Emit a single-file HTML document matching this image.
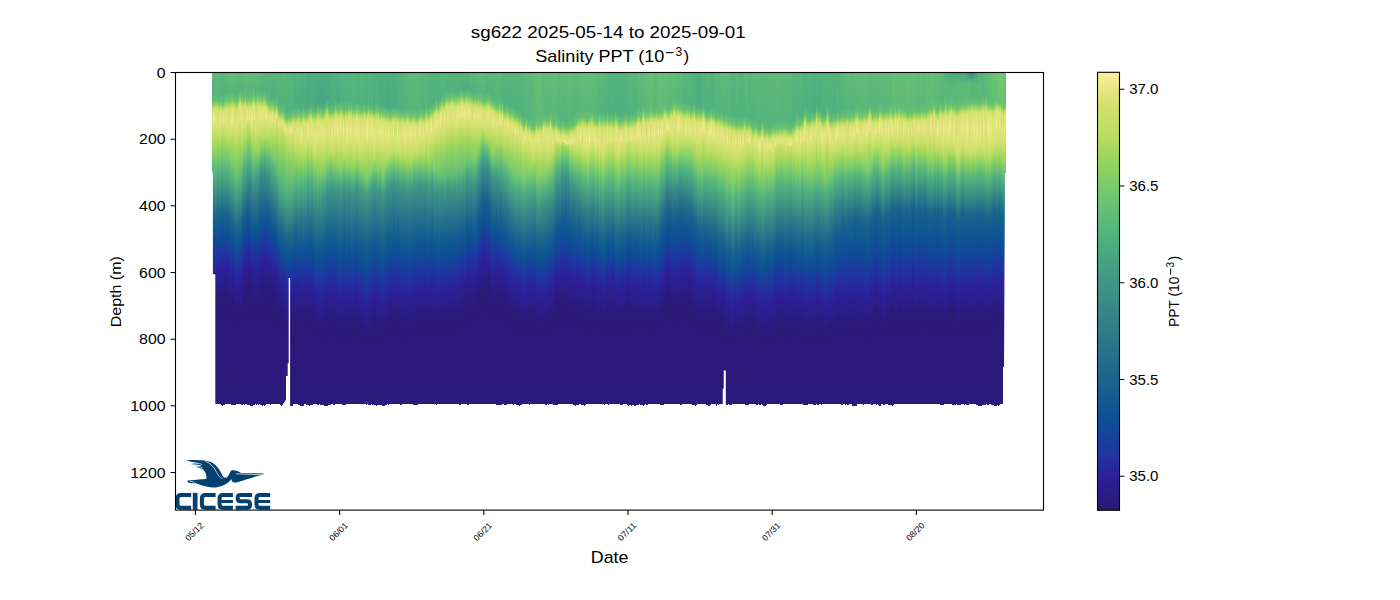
<!DOCTYPE html>
<html><head><meta charset="utf-8">
<style>
html,body{margin:0;padding:0;background:#fff;width:1400px;height:600px;overflow:hidden}
#fig{position:absolute;left:0;top:0;width:1400px;height:600px}
#heat{position:absolute;left:0;top:72.5px;width:1400px;height:333px}
#heat i{position:absolute;top:0;width:1px;display:block}
#cb{position:absolute;left:1097.5px;top:72.3px;width:22px;height:438px;background:linear-gradient(to bottom,#fdef9a 0.00%,#f3eb8f 2.08%,#e7e682 4.17%,#d7e271 6.25%,#d0e06d 8.33%,#c8df69 10.42%,#c1de65 12.50%,#b9dc61 14.58%,#adda5f 16.67%,#a0d75f 18.75%,#93d45f 20.83%,#89d164 22.92%,#7ecd6a 25.00%,#76c96e 27.08%,#6ec471 29.17%,#67bf75 31.25%,#5fbb78 33.33%,#58b67b 35.42%,#51b17e 37.50%,#4dab80 39.58%,#4aa681 41.67%,#46a183 43.75%,#439c84 45.83%,#409686 47.92%,#3d9286 50.00%,#3a8d86 52.08%,#378886 54.17%,#348387 56.25%,#317e88 58.33%,#2d7988 60.42%,#297589 62.50%,#25718a 64.58%,#216c8b 66.67%,#1d678b 68.75%,#19638d 70.83%,#145e8f 72.92%,#105a91 75.00%,#0e5593 77.08%,#0f4f94 79.17%,#104a96 81.25%,#15439a 83.33%,#1a3b9d 85.42%,#20349f 87.50%,#252b9d 89.58%,#2b229b 91.67%,#2b1e92 93.75%,#2b1c87 95.83%,#2a1a7b 97.92%,#2a186c 100.00%)}
svg{position:absolute;left:0;top:0}
text{font-family:"Liberation Sans",sans-serif;fill:#000}
</style></head><body>
<div id="fig">
<div id="heat">
<i style="left:212px;height:331.9px;background:linear-gradient(#5cb979 0px,#53b37d 20px,#58b67b 23px,#6ac173 29px,#98d55e 33px,#badc61 35px,#d8e272 38px,#e8e784 47px,#bedd63 64px,#9bd65e 74px,#79cb6c 84px,#57b67c 98px,#1b658c 142px,#0e5892 156px,#104a96 168px,#1e35a0 181px,#2c209a 198px,#2a1977 228px,#2a1a7c 332px)"></i>
<i style="left:213px;height:331.9px;background:linear-gradient(#5eba79 0px,#55b47d 21px,#6bc273 29px,#9cd65e 33px,#bddd63 35px,#e1e57c 38px,#f3eb8f 46px,#d6e271 55px,#b5db60 68px,#94d45e 76px,#51b17e 101px,#348287 127px,#1a648c 143px,#0e5892 156px,#104a96 168px,#1e36a0 181px,#2c209a 198px,#2a1977 228px,#2a1a7c 332px)"></i>
<i style="left:214px;height:331.9px;background:linear-gradient(#60bb78 0px,#57b67c 20px,#68c074 27px,#77ca6e 29px,#9fd65f 32px,#bedd63 34px,#dbe375 37px,#ebe887 45px,#bfdd64 62px,#97d55e 76px,#76ca6e 86px,#52b27e 101px,#1b658c 143px,#0e5892 157px,#104996 169px,#1d37a0 181px,#2c209a 199px,#2a1977 229px,#2a1a7c 332px)"></i>
<i style="left:215px;height:331.9px;background:linear-gradient(#5eba79 0px,#55b47d 20px,#62bd77 25px,#6bc273 28px,#9cd65e 32px,#bcdd62 34px,#d8e272 37px,#e4e67f 46px,#c0dd64 62px,#95d45e 77px,#51b17e 103px,#338087 130px,#1a648c 145px,#0e5892 158px,#104a96 170px,#1e36a0 183px,#2c209a 200px,#2a1977 231px,#2a1a7c 332px)"></i>
<i style="left:216px;height:331.9px;background:linear-gradient(#5db979 0px,#56b57c 21px,#6ac273 28px,#99d55e 32px,#b9dc61 34px,#d6e271 37px,#dce376 47px,#d8e272 54px,#b8dc60 66px,#94d45e 76px,#51b17e 101px,#348287 127px,#1a648c 143px,#0e5892 156px,#104a96 168px,#1e36a0 181px,#2c209a 198px,#2a1977 228px,#2a1a7c 332px)"></i>
<i style="left:217px;height:331.9px;background:linear-gradient(#5fba78 0px,#55b47c 19px,#69c174 27px,#95d45e 31px,#b7dc60 33px,#d5e170 36px,#e2e57d 45px,#d6e271 54px,#b9dc60 65px,#96d55e 75px,#7bcc6b 83px,#52b27e 100px,#1b658c 142px,#0e5892 156px,#104996 168px,#1d37a0 180px,#2c209a 198px,#2a1977 228px,#2a1a7c 332px)"></i>
<i style="left:218px;height:331.9px;background:linear-gradient(#5eba79 0px,#54b47d 20px,#59b77b 23px,#6ac273 29px,#99d55e 33px,#b9dc61 35px,#d5e170 38px,#dae374 49px,#bbdd62 64px,#97d55e 73px,#7bcc6b 81px,#52b27e 98px,#1b658c 140px,#0e5892 154px,#104996 166px,#1d37a0 178px,#2c209a 196px,#2a1977 226px,#2a1a7c 332px)"></i>
<i style="left:219px;height:331.9px;background:linear-gradient(#5cb87a 0px,#53b37e 22px,#6cc372 30px,#9ed65f 34px,#bddd63 36px,#d9e273 39px,#e6e681 48px,#bcdd62 66px,#9cd65e 74px,#79cc6c 84px,#57b67c 98px,#1a648c 143px,#0e5892 156px,#104a96 168px,#1e36a0 181px,#2c209a 198px,#2a1977 228px,#2a1a7c 332px)"></i>
<i style="left:220px;height:331.9px;background:linear-gradient(#5bb87a 0px,#52b27e 20px,#68c074 28px,#77ca6d 30px,#a0d75f 33px,#bedd64 35px,#dae274 38px,#e8e784 46px,#b8dc60 67px,#9bd55e 74px,#7bcc6b 83px,#52b27e 100px,#1b658c 142px,#0e5892 156px,#104996 168px,#1d37a0 180px,#2c209a 198px,#2a1977 228px,#2a1a7c 332px)"></i>
<i style="left:221px;height:332.8px;background:linear-gradient(#5ab77b 0px,#52b27e 21px,#6ec471 29px,#a0d75f 33px,#bcdd62 35px,#d3e16f 38px,#d6e271 51px,#b7dc60 64px,#94d45e 72px,#51b17e 97px,#19638c 140px,#0e5892 152px,#104a96 164px,#1e36a0 177px,#2c209a 194px,#2a1977 224px,#2a1a7c 332px)"></i>
<i style="left:222px;height:333.1px;background:linear-gradient(#5bb87a 0px,#52b27e 22px,#6ac273 30px,#99d55e 34px,#badc61 36px,#d8e272 39px,#e6e681 48px,#d8e272 51px,#b8dc60 64px,#9bd55e 71px,#78cb6d 81px,#56b57c 95px,#1b658c 139px,#0e5892 153px,#104996 165px,#1e37a0 177px,#2c1f98 197px,#2a1977 225px,#2a1a7c 332px)"></i>
<i style="left:223px;height:332.9px;background:linear-gradient(#5bb87a 0px,#52b27e 22px,#69c173 30px,#96d55e 34px,#b9dc61 36px,#d8e272 39px,#ece888 48px,#d7e271 52px,#aeda5f 67px,#94d45e 73px,#80ce69 79px,#57b67c 95px,#19638c 141px,#0e5892 153px,#104a96 165px,#1e36a0 178px,#2c209a 195px,#2a1977 225px,#2a1a7c 332px)"></i>
<i style="left:224px;height:332.3px;background:linear-gradient(#5db979 0px,#54b37d 21px,#67c074 28px,#74c86f 30px,#9bd55e 33px,#bbdd62 35px,#d9e273 38px,#e8e783 47px,#d3e16f 53px,#b9dc60 64px,#9bd65e 71px,#7bcc6b 80px,#56b57c 95px,#1a648c 140px,#0e5892 153px,#104a96 165px,#1d37a0 177px,#2c209a 195px,#2a1977 225px,#2a1a7c 332px)"></i>
<i style="left:225px;height:331.9px;background:linear-gradient(#5eba79 0px,#54b47d 18px,#66bf75 25px,#7acc6c 28px,#95d45e 30px,#b6db60 32px,#d3e16f 35px,#dbe375 46px,#d7e271 54px,#b7dc60 66px,#96d55e 75px,#78cb6d 84px,#50b07f 101px,#1a648c 143px,#0e5892 156px,#104996 168px,#1e37a0 180px,#2c1f98 200px,#2a1977 228px,#2a1a7c 332px)"></i>
<i style="left:226px;height:331.9px;background:linear-gradient(#5fba78 0px,#55b47d 19px,#69c174 27px,#79cb6d 29px,#a4d75f 32px,#b6dc60 33px,#e0e47a 37px,#f0ea8c 46px,#d8e272 53px,#acd95f 69px,#96d45e 74px,#7ecd6a 81px,#53b37d 98px,#1a648c 142px,#0e5892 155px,#104996 167px,#1e37a0 179px,#2c1f98 199px,#2a1977 227px,#2a1a7c 332px)"></i>
<i style="left:227px;height:331.9px;background:linear-gradient(#62bd77 0px,#59b77b 20px,#68c174 27px,#76ca6e 29px,#9ed65f 32px,#bcdd62 34px,#d6e271 37px,#dee478 47px,#d8e272 54px,#b8dc60 67px,#96d45e 75px,#78cb6d 84px,#51b17e 100px,#1b658c 142px,#0e5892 156px,#104b96 167px,#1e36a0 180px,#2c1f97 200px,#2a1977 228px,#2a1a7c 332px)"></i>
<i style="left:228px;height:331.9px;background:linear-gradient(#63bd76 0px,#59b77b 19px,#65bf75 25px,#72c76f 28px,#97d55e 31px,#b8dc60 33px,#d4e170 36px,#d8e272 53px,#b8dc60 66px,#96d45e 74px,#78cb6d 83px,#51b17e 99px,#1a648c 142px,#0e5892 155px,#104996 167px,#1e37a0 179px,#27289c 187px,#2c1f97 199px,#2a1977 227px,#2a1a7c 332px)"></i>
<i style="left:229px;height:331.9px;background:linear-gradient(#62bc77 0px,#58b67b 19px,#69c174 27px,#94d45e 31px,#b5db60 33px,#d2e16f 36px,#dae374 48px,#d6e271 56px,#b7dc60 68px,#94d45e 78px,#52b27e 102px,#19638c 146px,#0e5892 158px,#104a96 170px,#1e36a0 183px,#2c209a 200px,#2a1977 230px,#2a1a7c 332px)"></i>
<i style="left:230px;height:331.9px;background:linear-gradient(#64be76 0px,#5bb87a 19px,#68c174 26px,#75c96e 28px,#9dd65e 31px,#bcdd62 33px,#d8e272 36px,#e5e680 46px,#d8e272 55px,#bbdc61 66px,#93d45e 79px,#50b07f 106px,#1a648c 148px,#0e5892 161px,#104a96 173px,#1e35a0 186px,#2c209a 203px,#2a1977 233px,#2a1a7c 332px)"></i>
<i style="left:231px;height:332.0px;background:linear-gradient(#64be76 0px,#5bb87a 18px,#69c174 26px,#79cb6c 28px,#a4d85f 31px,#b6dc60 32px,#dee479 36px,#eee98a 45px,#c0dd64 63px,#96d45e 78px,#7fce69 87px,#50b07f 106px,#1a648c 148px,#0e5892 161px,#104a96 173px,#1d37a0 185px,#2c209a 203px,#2a1977 233px,#2a1a7c 332px)"></i>
<i style="left:232px;height:332.0px;background:linear-gradient(#62bc77 0px,#58b67b 17px,#69c174 25px,#78cb6d 27px,#a2d75f 30px,#b4db60 31px,#dfe479 35px,#efe98b 45px,#c1de65 62px,#94d45e 78px,#79cc6c 89px,#52b27e 105px,#1b658c 148px,#0f5991 160px,#104a96 173px,#1e36a0 186px,#2c209a 203px,#2a1977 233px,#2a1a7c 332px)"></i>
<i style="left:233px;height:332.0px;background:linear-gradient(#62bc77 0px,#58b67b 18px,#68c074 25px,#75c96e 27px,#9dd65e 30px,#bcdd63 32px,#d9e273 35px,#e8e783 45px,#d7e272 55px,#c0dd64 63px,#95d45e 78px,#78cb6d 91px,#50b07f 108px,#1a648c 150px,#0e5892 163px,#104a96 175px,#1d37a0 187px,#2c209a 205px,#2a1977 235px,#2a1a7c 332px)"></i>
<i style="left:234px;height:332.2px;background:linear-gradient(#5fba78 0px,#55b47c 19px,#6ac173 27px,#97d55e 31px,#b8dc60 33px,#d4e170 36px,#d9e273 50px,#d6e271 57px,#b6dc60 69px,#94d45e 80px,#74c86f 95px,#50b07f 110px,#19638c 153px,#0e5892 165px,#104a96 177px,#1e35a0 190px,#2c209a 207px,#2a1977 237px,#2a1a7c 332px)"></i>
<i style="left:235px;height:332.0px;background:linear-gradient(#60bb78 0px,#57b57c 20px,#69c173 28px,#96d45e 32px,#b8dc60 34px,#d4e170 37px,#dee478 49px,#d7e271 58px,#b7dc60 70px,#95d45e 81px,#67c075 104px,#51b17e 113px,#1a648c 156px,#0e5892 169px,#104a96 181px,#1e37a0 193px,#27289c 201px,#2c1f97 213px,#2a1977 241px,#2a1a7c 332px)"></i>
<i style="left:236px;height:331.9px;background:linear-gradient(#5fbb78 0px,#56b57c 20px,#66bf75 27px,#6fc571 29px,#92d35f 32px,#b3db60 34px,#d1e16e 37px,#dce376 49px,#d8e272 58px,#b8dc60 70px,#93d45e 82px,#6ac273 103px,#52b27e 113px,#1b658c 156px,#0e5892 170px,#104a96 181px,#1e36a0 194px,#2c209a 211px,#2a1977 241px,#2a1a7c 332px)"></i>
<i style="left:237px;height:331.9px;background:linear-gradient(#5fba78 0px,#56b57c 20px,#68c074 27px,#76ca6e 29px,#9ed65f 32px,#bddd63 34px,#d8e272 37px,#e4e67f 47px,#d6e271 58px,#b7dc60 70px,#94d45e 81px,#6ac273 102px,#50b07f 113px,#1b658c 155px,#0f5991 167px,#104a96 180px,#1e36a0 193px,#2c209a 210px,#2a1977 240px,#2a1a7c 332px)"></i>
<i style="left:238px;height:331.9px;background:linear-gradient(#5fba78 0px,#56b57c 18px,#6dc372 26px,#9ed65f 30px,#bbdd62 32px,#d4e170 35px,#d8e272 55px,#b8dc60 68px,#95d45e 79px,#73c86f 95px,#51b17e 111px,#1a648c 154px,#0e5892 167px,#104996 179px,#1e36a0 191px,#2c1f97 211px,#2a1977 239px,#2a1a7c 332px)"></i>
<i style="left:239px;height:331.9px;background:linear-gradient(#5cb87a 0px,#53b37e 15px,#68c074 22px,#75c96e 24px,#9dd65e 27px,#bcdd62 29px,#d8e272 32px,#e6e681 43px,#d8e272 53px,#bedd63 62px,#93d45e 77px,#51b17e 111px,#19638c 155px,#0e5892 167px,#104a96 179px,#1d37a0 191px,#2c209a 209px,#2a1977 239px,#2a1a7c 332px)"></i>
<i style="left:240px;height:331.9px;background:linear-gradient(#5cb979 0px,#53b37d 14px,#69c174 22px,#94d45e 26px,#b7dc60 28px,#d6e271 31px,#ece888 42px,#c0dd64 61px,#95d45e 76px,#51b17e 110px,#1b658c 153px,#105a91 164px,#104a96 178px,#1e36a0 191px,#2c209a 208px,#2a1977 238px,#2a1a7c 332px)"></i>
<i style="left:241px;height:332.7px;background:linear-gradient(#5eba79 0px,#55b47d 17px,#63bd76 23px,#6fc571 26px,#92d35f 29px,#b4db60 31px,#d3e16f 34px,#e4e67f 45px,#d8e272 56px,#b9dc60 68px,#93d45e 80px,#7acc6c 90px,#52b27e 106px,#1a648c 150px,#0e5892 163px,#104996 175px,#1e36a0 187px,#2c209a 204px,#2a1977 235px,#2a1a7c 332px)"></i>
<i style="left:242px;height:332.2px;background:linear-gradient(#5bb87a 0px,#55b47c 19px,#6ec472 26px,#a0d75f 30px,#bfdd64 32px,#dbe375 35px,#eae786 46px,#d6e271 57px,#c1de65 64px,#b4db60 70px,#9cd65e 76px,#75c96e 87px,#50b07f 102px,#1a648c 145px,#0e5892 158px,#104a96 170px,#1e37a0 182px,#27289c 190px,#2c1f97 202px,#2a1977 230px,#2a1a7c 332px)"></i>
<i style="left:243px;height:331.9px;background:linear-gradient(#63bd76 0px,#5ab77a 18px,#69c174 26px,#78cb6d 28px,#92d35f 30px,#b2db60 32px,#d1e16e 35px,#dce376 47px,#d8e272 54px,#bcdd62 65px,#95d45e 74px,#52b27e 97px,#1b658c 141px,#0f5991 153px,#104a96 166px,#1e36a0 179px,#2c209a 196px,#2a1977 226px,#2a1a7c 332px)"></i>
<i style="left:244px;height:332.1px;background:linear-gradient(#62bc77 0px,#59b67b 17px,#67c074 24px,#72c76f 26px,#97d55e 29px,#b8dc60 31px,#d3e16f 34px,#d8e272 51px,#badc61 63px,#96d45e 71px,#54b37d 93px,#1b658c 138px,#0e5892 152px,#104a96 163px,#1e36a0 176px,#2c209a 193px,#2a1977 223px,#2a1a7c 332px)"></i>
<i style="left:245px;height:331.9px;background:linear-gradient(#62bd77 0px,#59b67b 16px,#6ac273 24px,#9ad55e 28px,#badc61 30px,#d6e271 33px,#dfe479 44px,#dae374 52px,#b9dc61 64px,#94d45e 72px,#51b07e 95px,#1a648c 139px,#0e5892 152px,#104a96 164px,#1e37a0 176px,#27289c 184px,#2c1f97 196px,#2a1977 224px,#2a1a7c 332px)"></i>
<i style="left:246px;height:331.9px;background:linear-gradient(#63bd76 0px,#5ab77a 19px,#68c074 26px,#75c96e 28px,#9cd65e 31px,#bddd63 33px,#dee479 36px,#efe98c 47px,#d7e272 51px,#acd95f 65px,#95d45e 70px,#7ecd6a 76px,#52b27e 92px,#1a648c 137px,#0e5892 150px,#104a96 162px,#1e37a0 174px,#26299d 181px,#2c1f97 194px,#2a1977 222px,#2a1a7c 332px)"></i>
<i style="left:247px;height:332.0px;background:linear-gradient(#63bd76 0px,#5ab77b 19px,#68c074 26px,#74c86f 28px,#9bd55e 31px,#bcdd62 33px,#dde478 36px,#eee98b 47px,#d6e271 48px,#adda5f 61px,#91d35f 67px,#7bcc6c 73px,#54b37d 87px,#1a648c 133px,#0e5892 146px,#104a96 158px,#1e37a0 170px,#27289c 178px,#2c1f97 190px,#2a1977 218px,#2a1a7c 332px)"></i>
<i style="left:248px;height:332.5px;background:linear-gradient(#62bc77 0px,#59b67b 18px,#6ac273 26px,#99d55e 30px,#badc61 32px,#d7e271 35px,#e0e57b 46px,#d9e273 47px,#badc61 58px,#94d45e 66px,#53b37e 87px,#317e88 116px,#0e5892 146px,#104b96 157px,#1e36a0 170px,#2c209a 187px,#2a1977 217px,#2a1a7c 332px)"></i>
<i style="left:249px;height:332.6px;background:linear-gradient(#62bd77 0px,#59b77b 18px,#68c074 25px,#75c96e 27px,#9dd65f 30px,#bedd63 32px,#dee479 35px,#f0ea8c 46px,#dfe479 47px,#d8e272 48px,#abd95f 62px,#93d45f 67px,#7ccd6b 73px,#51b17e 88px,#2f7b88 118px,#0e5892 146px,#104a96 158px,#1d37a0 170px,#2c209a 188px,#2a1977 218px,#2a1a7c 332px)"></i>
<i style="left:250px;height:333.4px;background:linear-gradient(#63bd76 0px,#5ab77b 18px,#69c174 26px,#93d45e 30px,#b5db60 32px,#d4e16f 35px,#e2e57d 47px,#d7e271 50px,#b7dc60 61px,#99d55e 67px,#7ccd6b 74px,#53b37d 88px,#317e88 117px,#0e5892 147px,#104a96 159px,#1d37a0 171px,#2c209a 189px,#2a1977 219px,#2a1a7c 332px)"></i>
<i style="left:251px;height:333.4px;background:linear-gradient(#62bd77 0px,#59b67b 18px,#69c174 26px,#78ca6d 28px,#a1d75f 31px,#b4db60 32px,#e0e57b 36px,#f1ea8d 47px,#e4e57f 53px,#d8e272 55px,#add95f 68px,#93d45e 73px,#7bcc6b 79px,#54b47d 92px,#2f7b88 123px,#0e5892 152px,#104b96 163px,#1e36a0 176px,#2c209a 193px,#2a1977 224px,#2a1a7c 332px)"></i>
<i style="left:252px;height:333.0px;background:linear-gradient(#60bb78 0px,#57b57c 17px,#69c174 25px,#95d45e 29px,#b8dc60 31px,#d6e271 34px,#ebe887 45px,#b8dc60 68px,#9ad55e 75px,#78cb6d 83px,#54b37d 95px,#307c88 125px,#0e5892 155px,#104b96 166px,#1e36a0 179px,#2c209a 196px,#2a1977 227px,#2a1a7c 332px)"></i>
<i style="left:253px;height:332.5px;background:linear-gradient(#62bd77 0px,#5ab77a 14px,#69c174 21px,#92d35f 25px,#b3db60 27px,#d2e16f 30px,#e1e57c 41px,#d6e271 52px,#b7dc60 64px,#94d45e 75px,#7acc6c 83px,#50b07f 97px,#338187 122px,#0e5892 155px,#104a96 167px,#1d37a0 179px,#2c1f98 199px,#2a1977 227px,#2a1a7c 332px)"></i>
<i style="left:254px;height:332.1px;background:linear-gradient(#62bc77 0px,#58b67b 16px,#69c174 24px,#79cb6d 26px,#a3d75f 29px,#c1de65 31px,#dde377 34px,#ede889 44px,#c3de66 61px,#acd95f 70px,#93d45f 78px,#53b37e 96px,#317e88 124px,#0e5892 155px,#104a96 167px,#1e36a0 180px,#2c209a 197px,#2a1977 227px,#2a1a7c 332px)"></i>
<i style="left:255px;height:331.9px;background:linear-gradient(#60bb78 0px,#57b57c 19px,#68c074 26px,#76c96e 28px,#9ed65f 31px,#bcdd62 33px,#d6e271 36px,#dde377 47px,#d8e272 56px,#b9dc60 68px,#94d45e 78px,#79cb6c 84px,#50b07f 97px,#409686 108px,#327f88 123px,#0e5892 155px,#104a96 167px,#1e36a0 180px,#2c209a 197px,#2a1977 227px,#2a1a7c 332px)"></i>
<i style="left:256px;height:332.2px;background:linear-gradient(#63bd76 0px,#5ab77a 18px,#69c174 26px,#93d45e 30px,#b4db60 32px,#d2e16f 35px,#dce376 46px,#d6e271 56px,#b7dc60 68px,#94d45e 79px,#4ead7f 99px,#409586 109px,#2e7a88 127px,#0e5892 156px,#104a96 168px,#1e36a0 181px,#2c209a 198px,#2a1977 228px,#2a1a7c 332px)"></i>
<i style="left:257px;height:331.9px;background:linear-gradient(#60bb78 0px,#57b67c 16px,#70c571 24px,#93d45f 27px,#b3db60 29px,#d5e170 33px,#d8e272 52px,#b8dc60 64px,#93d45e 76px,#7fce69 83px,#51b17e 96px,#409686 107px,#1c668c 140px,#0e5892 155px,#104a96 167px,#1e36a0 180px,#2c209a 197px,#2a1977 227px,#2a1a7c 332px)"></i>
<i style="left:258px;height:332.3px;background:linear-gradient(#5db979 0px,#54b37d 17px,#69c173 25px,#96d45e 29px,#b9dc60 31px,#d6e271 34px,#e8e784 44px,#c1de65 61px,#9ad55e 75px,#7ccd6b 82px,#51b17e 94px,#3f9486 106px,#1c668c 138px,#0e5892 153px,#104a96 165px,#1e36a0 178px,#2c209a 195px,#2a1977 226px,#2a1a7c 332px)"></i>
<i style="left:259px;height:331.9px;background:linear-gradient(#5fba78 0px,#55b47d 17px,#69c174 25px,#92d35f 29px,#b4db60 31px,#d3e16f 34px,#e5e680 44px,#d6e271 54px,#b7dc60 66px,#97d55e 76px,#76ca6e 83px,#4aa781 97px,#307c88 121px,#0e5892 152px,#104a96 164px,#1e36a0 177px,#2c1f98 197px,#2a1977 225px,#2a1a7c 332px)"></i>
<i style="left:260px;height:332.1px;background:linear-gradient(#5cb979 0px,#53b37e 16px,#69c174 24px,#95d45e 28px,#b7dc60 30px,#d5e170 33px,#e4e680 43px,#d7e272 52px,#c0dd64 60px,#9cd65e 72px,#7bcc6b 78px,#52b17e 89px,#3f9586 100px,#1c668c 133px,#0e5892 148px,#104a96 160px,#1e37a0 173px,#2c209a 191px,#2a1977 221px,#2a1a7c 332px)"></i>
<i style="left:261px;height:332.7px;background:linear-gradient(#5cb87a 0px,#53b37d 18px,#68c074 25px,#76c96e 27px,#9ed65f 30px,#bcdd62 32px,#d7e271 35px,#e1e57c 44px,#d8e272 53px,#badc61 64px,#93d45e 70px,#52b27e 85px,#409686 95px,#0e5892 144px,#104b96 156px,#1e35a0 170px,#2c1f97 190px,#2a1977 217px,#2a1a7c 332px)"></i>
<i style="left:262px;height:333.1px;background:linear-gradient(#5bb87a 0px,#52b27e 18px,#69c174 26px,#79cb6c 28px,#a4d85f 31px,#b7dc60 32px,#e1e57b 36px,#f1ea8d 44px,#d9e273 53px,#b6dc60 66px,#acd95f 69px,#91d35f 73px,#51b17e 88px,#3f9486 99px,#0e5892 147px,#104a96 159px,#1e36a0 172px,#2c1f98 192px,#2a1977 220px,#2a1a7c 332px)"></i>
<i style="left:263px;height:332.7px;background:linear-gradient(#5ab77a 0px,#51b17e 16px,#5eba78 21px,#6ec471 25px,#a1d75f 29px,#d1e16e 33px,#e1e57c 42px,#d8e272 51px,#b9dc60 63px,#acd95f 67px,#98d55e 70px,#7dcd6a 75px,#50b07f 87px,#409586 97px,#0f5991 144px,#104b96 157px,#1d37a0 170px,#2c209a 188px,#2a1977 218px,#2a1a7c 332px)"></i>
<i style="left:264px;height:333.2px;background:linear-gradient(#5cb979 0px,#53b37e 16px,#6ac173 24px,#98d55e 28px,#b9dc60 30px,#d5e170 33px,#dee478 42px,#d8e272 50px,#b9dc60 62px,#afda5f 65px,#95d45e 69px,#53b37e 85px,#409686 96px,#0f5991 143px,#104a96 156px,#1e36a0 169px,#2c1f98 189px,#2a1977 217px,#2a1a7c 332px)"></i>
<i style="left:265px;height:332.8px;background:linear-gradient(#5cb87a 0px,#52b27e 18px,#67c074 25px,#74c86e 27px,#9bd65e 30px,#c7df68 33px,#dee479 35px,#f0ea8c 43px,#d9e273 51px,#b4db60 65px,#9bd65e 69px,#7ccd6b 75px,#51b17e 87px,#3f9486 99px,#1c668c 131px,#0e5892 146px,#104996 158px,#1d37a0 170px,#2c209a 188px,#2a1977 218px,#2a1a7c 332px)"></i>
<i style="left:266px;height:331.9px;background:linear-gradient(#5bb87a 0px,#52b27e 19px,#6ac173 27px,#98d55e 31px,#bbdd62 33px,#dde478 36px,#f1ea8e 44px,#d7e272 52px,#b8dc60 64px,#acd95f 66px,#94d45e 70px,#7ccd6b 75px,#52b27e 87px,#409586 99px,#0e5892 146px,#104a96 158px,#1d37a0 170px,#2c209a 188px,#2a1977 218px,#2a1a7c 332px)"></i>
<i style="left:267px;height:331.9px;background:linear-gradient(#5bb87a 0px,#52b27e 21px,#5eba78 25px,#75c96e 30px,#8ed261 32px,#afda5f 34px,#dae374 38px,#e9e784 45px,#b8dc60 65px,#99d55e 71px,#78cb6d 78px,#53b37d 89px,#409686 101px,#1a648c 135px,#0e5892 148px,#104a96 160px,#1d37a0 172px,#2c209a 190px,#2a1977 220px,#2a1a7c 332px)"></i>
<i style="left:268px;height:331.9px;background:linear-gradient(#5ab77a 0px,#54b47d 23px,#6cc372 30px,#9dd65e 34px,#bbdc61 36px,#d4e170 39px,#d8e272 52px,#bbdd62 63px,#95d45e 70px,#53b27e 88px,#307c88 117px,#0e5892 147px,#104996 159px,#1e36a0 171px,#2c209a 188px,#2a1977 218px,#2a1a7c 332px)"></i>
<i style="left:269px;height:331.9px;background:linear-gradient(#5bb87a 0px,#54b47d 24px,#6bc273 31px,#9bd55e 35px,#badc61 37px,#d6e271 40px,#dfe47a 47px,#d8e272 53px,#b9dc61 64px,#94d45e 71px,#53b37d 89px,#3f9486 103px,#0e5892 148px,#104996 160px,#1e36a0 172px,#2c209a 189px,#2a1977 219px,#2a1a7c 332px)"></i>
<i style="left:270px;height:332.3px;background:linear-gradient(#5cb87a 0px,#53b37e 24px,#68c074 31px,#76c96e 33px,#9dd65f 36px,#bddd63 38px,#dbe376 41px,#ece888 47px,#d8e272 53px,#c4de66 60px,#b3db60 67px,#98d55e 72px,#7acc6c 79px,#52b27e 92px,#307c88 121px,#0f5991 149px,#104a96 162px,#1e36a0 174px,#2c209a 191px,#2a1977 221px,#2a1a7c 332px)"></i>
<i style="left:271px;height:331.9px;background:linear-gradient(#59b77b 0px,#51b07e 23px,#5bb87a 27px,#6fc571 32px,#a3d75f 36px,#d4e170 40px,#e5e681 46px,#bedd63 61px,#98d55e 73px,#7acc6c 80px,#53b37e 93px,#317d88 122px,#0e5892 152px,#104a96 163px,#1e37a0 175px,#2c209a 192px,#2a1977 223px,#2a1a7c 332px)"></i>
<i style="left:272px;height:331.9px;background:linear-gradient(#58b67b 0px,#50b07f 23px,#63bd76 29px,#75c86e 32px,#aeda5f 36px,#e0e47b 40px,#f2ea8e 45px,#d7e271 51px,#adda5f 66px,#90d360 76px,#52b27e 95px,#338087 122px,#0e5892 153px,#104996 165px,#1e36a0 177px,#2c1f98 196px,#2a1977 224px,#2a1a7c 332px)"></i>
<i style="left:273px;height:331.9px;background:linear-gradient(#56b57c 0px,#4fae7f 22px,#53b37e 25px,#71c670 32px,#94d45e 35px,#b5db60 37px,#d2e16f 40px,#d8e272 50px,#b9dc60 62px,#94d45e 74px,#7acc6c 84px,#50b07f 99px,#317d88 127px,#0e5892 156px,#104a96 167px,#1e37a0 179px,#2c209a 196px,#2a1977 226px,#2a1a7c 332px)"></i>
<i style="left:274px;height:331.9px;background:linear-gradient(#58b67b 0px,#50b07f 25px,#5ab77a 29px,#6ec471 34px,#a1d75f 38px,#b3db60 39px,#dde377 43px,#ece888 47px,#d7e271 52px,#adda5f 67px,#95d45e 75px,#82cf68 82px,#53b37e 98px,#2f7b88 129px,#0e5892 157px,#104a96 168px,#1e36a0 180px,#2c1f98 199px,#2a1977 227px,#2a1a7c 332px)"></i>
<i style="left:275px;height:331.9px;background:linear-gradient(#59b77b 0px,#52b27e 26px,#69c173 33px,#97d55e 37px,#b8dc60 39px,#d5e170 42px,#dee478 47px,#b7dc60 63px,#94d45e 74px,#75c96e 88px,#50af7f 102px,#1b658c 146px,#0e5892 159px,#104a96 170px,#1e36a0 182px,#2c209a 199px,#2a1977 229px,#2a1a7c 332px)"></i>
<i style="left:276px;height:331.9px;background:linear-gradient(#59b67b 0px,#51b17e 23px,#68c074 30px,#83cf67 33px,#b3db60 36px,#e1e57c 40px,#f0e98c 43px,#d8e272 47px,#c3de66 54px,#93d45e 71px,#67c075 94px,#50b07f 103px,#317e88 131px,#0e5892 160px,#104b96 171px,#1e37a0 183px,#2c209a 200px,#2a1977 230px,#2a1a7c 332px)"></i>
<i style="left:277px;height:331.9px;background:linear-gradient(#58b67b 0px,#50b07f 24px,#57b57c 28px,#6fc571 34px,#a3d75f 38px,#d3e16f 42px,#e4e680 46px,#d9e273 49px,#c1de65 57px,#94d45e 73px,#50b07f 107px,#2f7b88 137px,#0e5892 164px,#104a96 175px,#1e37a0 187px,#2c209a 204px,#2a1977 234px,#2a1a7c 332px)"></i>
<i style="left:278px;height:331.9px;background:linear-gradient(#58b67b 0px,#53b37d 31px,#6dc472 38px,#a0d75f 42px,#bfdd64 44px,#dfe47a 47px,#efe98b 50px,#dae274 53px,#d0e06d 56px,#b9dc60 65px,#94d45e 77px,#67c075 100px,#52b27e 108px,#1e688b 152px,#0e5892 167px,#104a96 178px,#1e36a0 190px,#27289c 197px,#2c1f97 209px,#2a1977 237px,#2a1a7c 332px)"></i>
<i style="left:279px;height:331.9px;background:linear-gradient(#58b67b 0px,#51b17e 31px,#68c174 38px,#92d35f 42px,#b3db60 44px,#d2e16f 47px,#dee479 51px,#c0dd64 62px,#95d45e 77px,#51b17e 112px,#1d678b 156px,#0e5892 170px,#104a96 181px,#1e36a0 193px,#2c1f98 212px,#2a1977 240px,#2a1a7c 332px)"></i>
<i style="left:280px;height:332.6px;background:linear-gradient(#58b67b 0px,#53b37e 32px,#6cc372 39px,#9dd65e 43px,#bbdd62 45px,#d5e170 48px,#d8e272 54px,#b8dc60 66px,#96d45e 77px,#52b27e 112px,#1d678b 157px,#0e5892 171px,#104a96 182px,#1e36a0 194px,#2c1f98 213px,#2a1977 241px,#2a1a7c 332px)"></i>
<i style="left:281px;height:333.0px;background:linear-gradient(#56b57c 0px,#51b17e 32px,#6bc373 39px,#9cd65e 43px,#bbdd62 45px,#d5e271 48px,#dae374 51px,#aeda5f 69px,#95d45e 77px,#79cc6c 89px,#52b27e 114px,#1b658c 160px,#0e5892 173px,#104a96 184px,#1e35a0 196px,#2c209a 212px,#2a1977 243px,#2a1a7c 332px)"></i>
<i style="left:282px;height:332.8px;background:linear-gradient(#5bb87a 0px,#54b37d 31px,#69c174 38px,#96d45e 42px,#b7dc60 44px,#cbe06b 46px,#dfe47a 50px,#c0dd64 61px,#aeda5f 68px,#95d45e 76px,#76ca6e 90px,#52b27e 113px,#1b658c 159px,#0e5892 172px,#104a96 183px,#1e35a0 195px,#2c209a 211px,#2a1978 241px,#2a1a7c 332px)"></i>
<i style="left:283px;height:333.4px;background:linear-gradient(#5cb87a 0px,#53b37e 32px,#6cc372 40px,#8ed261 43px,#bcdd62 46px,#d6e271 49px,#dae374 52px,#b9dc60 66px,#9cd65e 75px,#78cb6d 90px,#52b27e 114px,#1d678b 159px,#0e5892 173px,#104a96 184px,#1e35a0 196px,#2c209a 212px,#2a1977 243px,#2a1a7c 332px)"></i>
<i style="left:284px;height:332.5px;background:linear-gradient(#5bb87a 0px,#53b27e 35px,#6dc472 43px,#90d360 46px,#b2db60 48px,#e1e57c 52px,#efe98b 54px,#d7e272 57px,#b8dc60 69px,#95d45e 80px,#79cc6c 92px,#53b37d 116px,#1d678b 162px,#0e5892 176px,#104a96 187px,#1e35a0 199px,#2c209a 215px,#2a1978 245px,#2a1a7c 332px)"></i>
<i style="left:285px;height:331.9px;background:linear-gradient(#5cb979 0px,#54b37d 37px,#6fc571 45px,#a3d75f 49px,#b6dc60 50px,#d6e271 53px,#e3e57e 54px,#f0ea8c 56px,#d7e272 59px,#b8dc60 71px,#95d45e 82px,#76ca6e 96px,#52b27e 119px,#1e688b 164px,#0e5892 179px,#104b96 189px,#1e36a0 201px,#2c209a 218px,#2a1977 248px,#2a1a7c 332px)"></i>
<i style="left:286px;height:331.9px;background:linear-gradient(#5ab77a 0px,#53b37d 38px,#6ac173 45px,#98d55e 49px,#b9dc61 51px,#d7e272 54px,#e7e783 57px,#d6e271 61px,#b7dc60 73px,#94d45e 84px,#77ca6d 97px,#4ead7f 122px,#19638c 167px,#0e5892 179px,#104b96 189px,#1e37a0 201px,#2c209a 218px,#2a1977 248px,#2a1a7c 332px)"></i>
<i style="left:287px;height:331.9px;background:linear-gradient(#56b57c 0px,#51b17e 38px,#6bc273 45px,#9bd65e 49px,#badc61 51px,#d5e271 54px,#dae374 58px,#d8e272 61px,#afda5f 76px,#93d45e 85px,#78cb6d 97px,#51b17e 121px,#1d678b 166px,#0e5892 180px,#104a96 191px,#1e36a0 203px,#2c209a 220px,#2a1977 250px,#2a1a7c 332px)"></i>
<i style="left:288px;height:332.9px;background:linear-gradient(#59b67b 0px,#52b27e 37px,#6ac173 44px,#99d55e 48px,#badc61 50px,#d7e272 53px,#e4e680 57px,#c0dd64 69px,#96d45e 84px,#50b07f 120px,#19638c 167px,#0e5892 179px,#104a96 190px,#1e35a0 202px,#2c1f97 221px,#2a1977 249px,#2a1a7c 332px)"></i>
<i style="left:289px;height:333.5px;background:linear-gradient(#58b67c 0px,#51b17e 14px,#53b37e 37px,#6ec471 44px,#a1d75f 48px,#d1e16e 52px,#dee479 57px,#b6dc60 74px,#94d45e 85px,#52b27e 119px,#1b658c 166px,#0e5892 179px,#104a96 190px,#1e36a0 202px,#2c209a 219px,#2a1977 249px,#2a1a7c 332px)"></i>
<i style="left:290px;height:333.5px;background:linear-gradient(#57b67c 0px,#52b27e 37px,#6ac273 44px,#9ad55e 48px,#bcdd62 50px,#dfe47a 53px,#f1ea8d 58px,#d7e271 63px,#b7dc60 75px,#95d45e 86px,#52b27e 119px,#1d678b 165px,#0e5892 179px,#104b96 190px,#1e35a0 203px,#2c1f97 222px,#2a1977 250px,#2a1a7c 332px)"></i>
<i style="left:291px;height:333.5px;background:linear-gradient(#55b47d 0px,#51b17e 37px,#6dc372 44px,#9ed65f 48px,#bddd63 50px,#dae374 53px,#e9e785 58px,#d8e272 63px,#c7df68 69px,#9cd65e 84px,#72c770 103px,#51b17e 117px,#19638c 165px,#0e5892 177px,#104a96 188px,#1e36a0 200px,#2c209a 217px,#2a1977 247px,#2a1a7c 332px)"></i>
<i style="left:292px;height:333.3px;background:linear-gradient(#57b57c 0px,#51b17e 34px,#6ac273 41px,#99d55e 45px,#bbdc61 47px,#dae374 50px,#eae786 56px,#d9e273 61px,#c1de65 69px,#94d45e 85px,#52b27e 117px,#1a648c 165px,#0e5892 178px,#104a96 189px,#1e36a0 201px,#2c209a 218px,#2a1977 248px,#2a1a7c 332px)"></i>
<i style="left:293px;height:331.9px;background:linear-gradient(#56b47c 0px,#52b27e 35px,#70c670 42px,#94d45e 45px,#b6db60 47px,#d4e170 50px,#e1e57b 57px,#c2de65 70px,#94d45e 86px,#6dc472 105px,#52b27e 116px,#1a648c 164px,#0e5892 177px,#104a96 188px,#1d37a0 200px,#27289c 208px,#2c1f97 220px,#2a1977 248px,#2a1a7c 332px)"></i>
<i style="left:294px;height:331.9px;background:linear-gradient(#53b37e 0px,#4eac80 29px,#51b17e 36px,#69c173 42px,#97d55e 46px,#b6dc60 48px,#d2e16e 51px,#d8e272 64px,#b9dc60 76px,#94d45e 88px,#52b27e 113px,#1a648c 161px,#0e5892 174px,#104b96 185px,#1e36a0 198px,#2c209a 215px,#2a1977 245px,#2a1a7c 332px)"></i>
<i style="left:295px;height:331.9px;background:linear-gradient(#53b27e 0px,#4eac80 28px,#52b27e 37px,#6cc372 43px,#9dd65f 47px,#bcdd62 49px,#d6e271 52px,#dde478 59px,#d7e271 66px,#b8dc60 78px,#95d45e 88px,#52b27e 112px,#1a648c 160px,#0e5892 173px,#104b96 184px,#1e36a0 197px,#2c209a 214px,#2a1977 244px,#2a1a7c 332px)"></i>
<i style="left:296px;height:331.9px;background:linear-gradient(#56b57c 0px,#4fae7f 30px,#53b37d 36px,#6ac173 42px,#98d55e 46px,#b8dc60 48px,#d4e170 51px,#dae374 59px,#d7e272 66px,#b5db60 79px,#93d45e 87px,#51b17e 111px,#1b658c 158px,#0e5892 172px,#104a96 183px,#1e36a0 196px,#2c209a 213px,#2a1977 243px,#2a1a7c 332px)"></i>
<i style="left:297px;height:331.9px;background:linear-gradient(#53b37d 0px,#4eac80 31px,#52b27e 35px,#6bc273 41px,#9cd65e 45px,#bcdd62 47px,#dae374 50px,#e9e785 58px,#c1de65 73px,#9ad55e 87px,#79cc6c 98px,#50b07f 115px,#2e7a88 147px,#0e5892 175px,#104996 187px,#1e36a0 199px,#2c209a 216px,#2a1978 246px,#2a1a7c 332px)"></i>
<i style="left:298px;height:332.1px;background:linear-gradient(#55b47d 0px,#4fad7f 33px,#53b37d 35px,#6ac273 41px,#9ad55e 45px,#bbdc61 47px,#d8e272 50px,#e6e682 58px,#c1de65 74px,#9dd65e 87px,#79cc6c 98px,#51b17e 114px,#2f7b88 146px,#0e5892 175px,#104996 187px,#1e37a0 199px,#27289c 207px,#2c1f97 219px,#2a1977 247px,#2a1a7c 332px)"></i>
<i style="left:299px;height:332.9px;background:linear-gradient(#53b37d 0px,#4eac80 29px,#51b17e 34px,#71c670 41px,#95d45e 44px,#b6dc60 46px,#d3e16f 49px,#dde377 59px,#d7e271 67px,#b7dc60 79px,#95d45e 88px,#79cb6c 96px,#51b17e 112px,#1b658c 159px,#0e5892 173px,#104996 185px,#1e37a0 197px,#27289c 205px,#2c1f98 217px,#2a1977 245px,#2a1a7c 332px)"></i>
<i style="left:300px;height:333.5px;background:linear-gradient(#51b17e 0px,#4fae7f 36px,#6dc372 43px,#9ed65f 47px,#bddd63 49px,#d7e271 52px,#e1e57c 61px,#d9e273 69px,#b8dc60 82px,#94d45e 90px,#52b27e 113px,#2d7988 147px,#0e5892 175px,#104996 187px,#1e37a0 199px,#2c1f98 219px,#2a1977 247px,#2a1a7c 332px)"></i>
<i style="left:301px;height:333.0px;background:linear-gradient(#52b27e 0px,#4dab80 34px,#51b17e 37px,#73c76f 44px,#aad95f 48px,#dee479 52px,#f1ea8e 62px,#d7e271 68px,#aeda5f 82px,#97d55e 87px,#7acc6c 95px,#53b37e 110px,#2f7b88 143px,#0e5892 172px,#104a96 184px,#1e36a0 197px,#2c209a 214px,#2a1978 244px,#2a1a7c 332px)"></i>
<i style="left:302px;height:333.5px;background:linear-gradient(#53b37e 0px,#4eac80 28px,#51b17e 35px,#70c571 42px,#93d45e 45px,#b4db60 47px,#d2e16f 50px,#dbe375 62px,#d6e271 71px,#b6dc60 83px,#95d45e 90px,#76ca6e 99px,#50b07f 114px,#2e7a88 146px,#0e5892 175px,#104a96 187px,#1e36a0 200px,#2c209a 217px,#2a1977 247px,#2a1a7c 332px)"></i>
<i style="left:303px;height:333.1px;background:linear-gradient(#52b27e 0px,#4dab80 30px,#52b27e 34px,#6dc472 40px,#9fd75f 44px,#bddd63 46px,#d6e271 49px,#dce376 60px,#d6e271 70px,#b0da60 84px,#97d55e 90px,#79cc6c 98px,#50b07f 114px,#2e7a88 146px,#0e5892 175px,#104a96 187px,#1e36a0 200px,#2c1f97 220px,#2a1978 247px,#2a1a7c 332px)"></i>
<i style="left:304px;height:331.9px;background:linear-gradient(#52b27e 0px,#4dab80 26px,#51b17e 35px,#6bc273 41px,#9cd65e 45px,#bbdd62 47px,#d7e272 50px,#e3e57e 61px,#dbe376 68px,#c2de65 77px,#9ad55e 87px,#7bcc6b 95px,#51b17e 111px,#307c88 142px,#105a91 170px,#104a96 185px,#1e36a0 198px,#2c209a 215px,#2a1977 245px,#2a1a7c 332px)"></i>
<i style="left:305px;height:331.9px;background:linear-gradient(#51b17e 0px,#4caa80 34px,#52b27e 37px,#71c670 43px,#95d45e 46px,#b6dc60 48px,#d4e16f 51px,#dee478 63px,#dae274 70px,#c5de67 78px,#95d45e 90px,#52b27e 112px,#2d7988 146px,#105a91 172px,#104a96 187px,#1e36a0 200px,#2c209a 217px,#2a1978 247px,#2a1a7c 332px)"></i>
<i style="left:306px;height:332.2px;background:linear-gradient(#51b07e 0px,#4daa80 26px,#50b07f 35px,#69c174 41px,#97d55e 45px,#b8dc60 47px,#d5e271 50px,#e1e57c 61px,#dce376 67px,#c3de66 76px,#96d45e 87px,#7bcc6b 94px,#52b27e 109px,#317d88 140px,#0e5892 172px,#104a96 184px,#1e36a0 197px,#2c1f97 217px,#2a1977 245px,#2a1a7c 332px)"></i>
<i style="left:307px;height:332.0px;background:linear-gradient(#50af7f 0px,#4ba881 33px,#50b07f 36px,#76ca6e 43px,#9fd65f 46px,#bedd63 48px,#dbe375 51px,#ebe887 62px,#d5e170 68px,#b6db60 79px,#99d55e 85px,#7dcd6a 92px,#53b37e 107px,#307c88 139px,#0e5892 170px,#104b96 182px,#1e36a0 196px,#2c209a 213px,#2a1978 243px,#2a1a7c 332px)"></i>
<i style="left:308px;height:332.4px;background:linear-gradient(#4fad7f 0px,#4aa781 32px,#50b07f 35px,#6fc571 41px,#93d45f 44px,#b7dc60 46px,#e2e57d 50px,#f3eb8f 60px,#ede889 64px,#d7e271 68px,#aeda5f 81px,#92d35f 87px,#7bcc6c 93px,#51b17e 108px,#2f7b88 140px,#105a91 168px,#104a96 183px,#1e36a0 196px,#2c209a 214px,#2a1977 244px,#2a1a7c 332px)"></i>
<i style="left:309px;height:333.4px;background:linear-gradient(#4fae7f 0px,#4aa781 30px,#54b37d 34px,#6fc571 39px,#92d35f 42px,#bddd63 45px,#d4e170 48px,#d7e272 68px,#badc61 79px,#94d45e 87px,#52b27e 108px,#317d88 139px,#0e5892 171px,#104996 184px,#1e36a0 197px,#2c1f97 217px,#2a1977 245px,#2a1a7c 332px)"></i>
<i style="left:310px;height:332.9px;background:linear-gradient(#4fae7f 0px,#4aa781 30px,#4fae7f 32px,#73c86f 39px,#99d55e 42px,#badc61 44px,#d7e272 47px,#e5e681 58px,#d6e271 70px,#b3db60 83px,#9bd65e 88px,#7acc6c 96px,#4fae7f 112px,#307c88 142px,#0f5991 172px,#104a96 186px,#1e37a0 199px,#2c209a 217px,#2a1977 247px,#2a1a7c 332px)"></i>
<i style="left:311px;height:332.6px;background:linear-gradient(#50af7f 0px,#4ead7f 31px,#6dc472 38px,#a0d75f 42px,#bedd63 44px,#d8e272 47px,#e6e681 58px,#dbe376 66px,#bedd63 76px,#9ad55e 84px,#79cc6c 92px,#50af7f 107px,#2f7b88 138px,#0e5892 169px,#104a96 182px,#1e36a0 195px,#2c209a 213px,#2a1977 243px,#2a1a7c 332px)"></i>
<i style="left:312px;height:332.1px;background:linear-gradient(#50af7f 0px,#4ca981 32px,#50b07f 34px,#75c96e 41px,#9cd65e 44px,#bcdd62 46px,#d8e272 49px,#e5e680 60px,#dae374 69px,#badc61 80px,#9cd65e 86px,#7bcc6b 94px,#52b27e 108px,#3f9486 123px,#105a91 169px,#104a96 184px,#1e36a0 198px,#2c1f97 218px,#2a1977 246px,#2a1a7c 332px)"></i>
<i style="left:313px;height:331.9px;background:linear-gradient(#50af7f 0px,#4ca980 26px,#4fae7f 34px,#71c670 41px,#94d45e 44px,#b6dc60 46px,#d4e170 49px,#e3e57e 61px,#d7e271 72px,#b8dc60 83px,#94d45e 90px,#7ccd6b 96px,#4fae7f 112px,#307c88 142px,#0e5892 174px,#104a96 187px,#1e37a0 200px,#2c209a 218px,#2a1977 248px,#2a1a7c 332px)"></i>
<i style="left:314px;height:331.9px;background:linear-gradient(#50af7f 0px,#4ca980 25px,#4fae7f 35px,#71c670 42px,#96d45e 45px,#b8dc60 47px,#d5e170 50px,#e2e57c 62px,#d6e271 73px,#b4db60 86px,#97d55e 92px,#7acc6c 99px,#51b17e 113px,#307c88 144px,#0f5991 175px,#104a96 189px,#1e36a0 203px,#2c209a 221px,#2a1977 251px,#2a1a7c 332px)"></i>
<i style="left:315px;height:331.9px;background:linear-gradient(#4fad7f 0px,#4aa681 33px,#51b17e 36px,#72c76f 42px,#97d55e 45px,#badc61 47px,#dae374 50px,#eee98a 62px,#c1de65 80px,#b4db60 86px,#9ad55e 92px,#7ccd6b 99px,#50b07f 114px,#409686 126px,#317e88 143px,#0e5892 177px,#104a96 190px,#1d37a0 203px,#2c209a 221px,#2a1978 251px,#2a1a7c 332px)"></i>
<i style="left:316px;height:331.9px;background:linear-gradient(#4ead80 0px,#49a681 31px,#69c174 39px,#97d55e 43px,#b9dc60 45px,#d5e271 48px,#e0e47b 60px,#d6e271 71px,#b7dc60 83px,#97d55e 93px,#7acc6c 100px,#4fae7f 115px,#317d88 144px,#0e5892 177px,#104a96 190px,#1e36a0 204px,#2c209a 222px,#2a1977 252px,#2a1a7c 332px)"></i>
<i style="left:317px;height:332.5px;background:linear-gradient(#4fad7f 0px,#4aa781 24px,#4ead80 32px,#70c670 39px,#94d45e 42px,#b6dc60 44px,#d4e170 47px,#e4e67f 59px,#d7e272 70px,#b8dc60 82px,#9bd65e 91px,#82cf67 101px,#4fae7f 118px,#3e9286 132px,#105a91 178px,#104996 194px,#1d37a0 207px,#2c209a 225px,#2a1978 255px,#2a1a7c 332px)"></i>
<i style="left:318px;height:332.2px;background:linear-gradient(#4fad7f 0px,#4aa781 29px,#4fae7f 31px,#6bc373 37px,#9cd65e 41px,#bcdd62 43px,#d8e272 46px,#e6e681 57px,#d6e271 69px,#b6dc60 81px,#9dd65e 89px,#7fce69 101px,#4fae7f 117px,#317d88 146px,#0e5892 180px,#104a96 193px,#1e36a0 207px,#2c209a 225px,#2a1977 255px,#2a1a7c 332px)"></i>
<i style="left:319px;height:331.9px;background:linear-gradient(#4ead7f 0px,#4aa681 30px,#4ead7f 33px,#69c173 39px,#98d55e 43px,#b9dc61 45px,#d7e271 48px,#e6e681 60px,#d7e271 71px,#b7dc60 83px,#9ad55e 92px,#7bcc6b 99px,#52b27e 112px,#3e9386 127px,#105a91 174px,#104a96 190px,#1e36a0 204px,#2c209a 222px,#2a1977 252px,#2a1a7c 332px)"></i>
<i style="left:320px;height:332.3px;background:linear-gradient(#4fad7f 0px,#4aa781 24px,#4ead7f 33px,#72c770 40px,#97d55e 43px,#b8dc60 45px,#d6e271 48px,#e3e57e 60px,#d7e271 71px,#b8dc60 83px,#9bd65e 92px,#7dcd6a 102px,#51b17e 116px,#3e9386 130px,#0e5892 180px,#104a96 193px,#1e37a0 207px,#2c1f97 228px,#2a1978 255px,#2a1a7c 332px)"></i>
<i style="left:321px;height:332.0px;background:linear-gradient(#4dab80 0px,#48a482 30px,#4ead7f 33px,#6cc372 39px,#9ed65f 43px,#bedd63 45px,#dde478 48px,#efe98b 59px,#c7df68 76px,#acd95f 86px,#91d35f 95px,#51b17e 114px,#409686 126px,#0f5991 177px,#104a96 192px,#1e36a0 206px,#2c209a 224px,#2a1977 254px,#2a1a7c 332px)"></i>
<i style="left:322px;height:332.2px;background:linear-gradient(#4ead7f 0px,#49a681 32px,#69c174 40px,#97d55e 44px,#b9dc60 46px,#d6e271 49px,#e5e680 61px,#d7e271 72px,#b8dc60 84px,#9cd65e 92px,#7bcc6b 99px,#4ead7f 114px,#3e9386 126px,#105a91 174px,#104a96 190px,#1e36a0 204px,#2c1f97 225px,#2a1978 252px,#2a1a7c 332px)"></i>
<i style="left:323px;height:332.4px;background:linear-gradient(#4dab80 0px,#48a482 30px,#4ba981 33px,#6cc372 40px,#9dd65e 44px,#bcdd62 46px,#d9e273 49px,#e7e783 60px,#d6e271 72px,#b7dc60 84px,#9dd65e 92px,#78cb6d 100px,#4ead7f 114px,#409686 124px,#307c88 143px,#0e5892 177px,#104a96 190px,#1d37a0 204px,#2c209a 223px,#2a1977 253px,#2a1a7c 332px)"></i>
<i style="left:324px;height:333.4px;background:linear-gradient(#4fad7f 0px,#4aa781 30px,#50b07f 33px,#70c670 39px,#93d45e 42px,#b6db60 44px,#d4e170 47px,#e5e680 59px,#d8e272 70px,#b8dc60 82px,#9cd65e 91px,#77ca6d 100px,#4fae7f 113px,#3f9586 124px,#105a91 174px,#104a96 190px,#1e37a0 204px,#2c1f98 225px,#2a1977 253px,#2a1a7c 332px)"></i>
<i style="left:325px;height:333.4px;background:linear-gradient(#4fae7f 0px,#4aa781 29px,#6ac173 37px,#98d55e 41px,#b9dc60 43px,#d5e170 46px,#dbe375 59px,#d7e272 69px,#b8dc60 81px,#93d45e 92px,#51b17e 110px,#409586 122px,#1a648c 160px,#0e5892 175px,#104996 189px,#1e36a0 203px,#2c209a 221px,#2a1977 251px,#2a1a7c 332px)"></i>
<i style="left:326px;height:333.5px;background:linear-gradient(#4fae7f 0px,#4aa781 26px,#51b17e 29px,#72c76f 35px,#97d55e 38px,#b8dc60 40px,#d5e170 43px,#dde377 55px,#d7e272 66px,#b8dc60 78px,#95d45e 89px,#4fae7f 109px,#3f9586 120px,#1a648c 158px,#0e5892 173px,#104a96 187px,#1e36a0 201px,#2c1f97 222px,#2a1978 249px,#2a1a7c 332px)"></i>
<i style="left:327px;height:333.5px;background:linear-gradient(#4eac80 0px,#4caa80 27px,#6bc373 34px,#9cd65e 38px,#bbdd62 40px,#d5e271 43px,#dae274 58px,#d7e271 66px,#b7dc60 78px,#97d55e 88px,#77ca6d 95px,#4ead7f 108px,#409586 118px,#1c668c 155px,#0e5892 172px,#104a96 185px,#1e36a0 200px,#2c209a 218px,#2a1977 248px,#2a1a7c 332px)"></i>
<i style="left:328px;height:332.8px;background:linear-gradient(#4fae7f 0px,#4aa781 28px,#4dac80 30px,#6cc372 37px,#8ed261 40px,#afda5f 42px,#d9e273 46px,#e8e783 57px,#d7e271 69px,#b4db60 82px,#98d55e 88px,#77ca6d 95px,#4caa80 109px,#3f9586 118px,#105a91 169px,#104a96 185px,#1e36a0 200px,#2c209a 218px,#2a1978 248px,#2a1a7c 332px)"></i>
<i style="left:329px;height:332.9px;background:linear-gradient(#4fae7f 0px,#4ba881 23px,#4fae7f 32px,#69c174 38px,#97d55e 42px,#b8dc60 44px,#d5e170 47px,#dee478 59px,#d8e272 70px,#b8dc60 81px,#93d45e 87px,#74c86f 94px,#4caa80 107px,#3f9586 116px,#307c88 135px,#0e5892 170px,#104a96 184px,#1e37a0 198px,#2c209a 217px,#2a1977 247px,#2a1a7c 332px)"></i>
<i style="left:330px;height:332.0px;background:linear-gradient(#50af7f 0px,#4ba881 30px,#50b07f 33px,#6dc372 39px,#9ed65f 43px,#bcdd62 45px,#d5e271 48px,#dae374 62px,#d7e271 71px,#b9dc61 80px,#95d45e 86px,#78cb6d 92px,#4caa80 106px,#3e9286 117px,#0e5892 169px,#104a96 183px,#1e36a0 198px,#2c209a 216px,#2a1977 246px,#2a1a7c 332px)"></i>
<i style="left:331px;height:331.9px;background:linear-gradient(#51b07f 0px,#4ca980 30px,#4fae7f 32px,#6fc571 39px,#a3d75f 43px,#c0dd64 45px,#dae274 48px,#e8e784 59px,#d6e271 71px,#bbdd62 81px,#99d55e 87px,#77ca6d 94px,#4dac80 107px,#409586 116px,#105a91 168px,#104a96 185px,#1d37a0 199px,#2c209a 218px,#2a1977 248px,#2a1a7c 332px)"></i>
<i style="left:332px;height:331.9px;background:linear-gradient(#53b37e 0px,#4eac80 26px,#52b27e 32px,#6ac173 38px,#99d55e 42px,#badc61 44px,#d9e274 47px,#ebe886 58px,#d8e272 70px,#b8dc60 82px,#99d55e 87px,#7acc6c 93px,#50b07f 105px,#409686 115px,#105a91 168px,#104996 185px,#1d37a0 199px,#2c209a 218px,#2a1977 248px,#2a1a7c 332px)"></i>
<i style="left:333px;height:332.0px;background:linear-gradient(#53b27e 0px,#4fae7f 31px,#6ac173 38px,#98d55e 42px,#b8dc60 44px,#d3e16f 47px,#d8e272 70px,#b6db60 83px,#97d55e 88px,#7dcd6a 93px,#51b17e 105px,#409586 116px,#0e5892 171px,#104a96 185px,#1e36a0 200px,#2c209a 219px,#2a1977 249px,#2a1a7c 332px)"></i>
<i style="left:334px;height:332.3px;background:linear-gradient(#54b37d 0px,#4fad7f 23px,#52b27e 31px,#69c174 37px,#96d55e 41px,#badc61 43px,#e2e57d 47px,#f3eb8f 58px,#d8e272 69px,#b9dc60 81px,#a9d95f 86px,#96d55e 89px,#53b37d 105px,#409686 116px,#0e5892 172px,#104a96 186px,#1e36a0 201px,#2c209a 220px,#2a1977 250px,#2a1a7c 332px)"></i>
<i style="left:335px;height:331.9px;background:linear-gradient(#52b27e 0px,#4dab80 26px,#51b07f 28px,#70c670 35px,#94d45e 38px,#b6dc60 40px,#d4e170 43px,#e6e681 55px,#d6e271 67px,#b7dc60 79px,#95d45e 89px,#59b77b 103px,#48a582 110px,#409586 116px,#105a91 169px,#104a96 186px,#1e36a0 201px,#2c209a 220px,#2a1977 250px,#2a1a7c 332px)"></i>
<i style="left:336px;height:331.9px;background:linear-gradient(#51b07f 0px,#4ca980 26px,#51b17e 29px,#6dc372 35px,#9ed65f 39px,#bddd63 41px,#d8e272 44px,#e4e67f 56px,#d8e272 67px,#b8dc60 79px,#96d45e 90px,#55b47c 105px,#48a482 111px,#3f9586 117px,#317d88 136px,#0e5892 173px,#104a96 187px,#1e37a0 202px,#2c209a 221px,#2a1977 251px,#2a1a7c 332px)"></i>
<i style="left:337px;height:331.9px;background:linear-gradient(#53b27e 0px,#4eac80 24px,#52b17e 31px,#73c86f 38px,#abd95f 42px,#dde478 46px,#efe98b 58px,#c7df68 75px,#acd95f 85px,#93d45f 93px,#79cb6c 98px,#4ead7f 110px,#409586 119px,#0f5991 174px,#104a96 190px,#1e36a0 205px,#2c1f98 226px,#2a1977 254px,#2a1a7c 332px)"></i>
<i style="left:338px;height:331.9px;background:linear-gradient(#52b17e 0px,#4dab80 22px,#50b07f 30px,#71c670 37px,#95d45e 40px,#b7dc60 42px,#d5e170 45px,#e6e682 57px,#d7e271 69px,#b8dc60 81px,#95d45e 92px,#53b37d 107px,#45a083 114px,#409586 118px,#2f7b88 139px,#105a91 172px,#104a96 189px,#1e37a0 204px,#2c209a 223px,#2a1977 253px,#2a1a7c 332px)"></i>
<i style="left:339px;height:331.9px;background:linear-gradient(#51b17e 0px,#4daa80 29px,#51b07e 31px,#6ac173 37px,#99d55e 41px,#b9dc61 43px,#d6e271 46px,#dfe479 59px,#d7e271 70px,#b7dc60 82px,#95d45e 93px,#62bd77 104px,#48a482 113px,#3f9586 119px,#307c88 139px,#0e5892 176px,#104a96 190px,#1d37a0 205px,#2c209a 224px,#2a1977 254px,#2a1a7c 332px)"></i>
<i style="left:340px;height:331.9px;background:linear-gradient(#54b37d 0px,#4eac80 27px,#52b27e 29px,#73c76f 36px,#abd95f 40px,#d1e16e 43px,#e2e57d 44px,#f6ec93 56px,#d7e271 68px,#aeda5f 83px,#85d066 97px,#53b27e 109px,#48a482 114px,#409686 119px,#307c88 140px,#105a91 174px,#104a96 191px,#1d37a0 206px,#2c209a 225px,#2a1978 255px,#2a1a7c 332px)"></i>
<i style="left:341px;height:331.9px;background:linear-gradient(#5ab77a 0px,#52b27e 27px,#6dc372 35px,#9ed65f 39px,#bcdd62 41px,#d5e271 44px,#dae274 59px,#d6e271 68px,#b7dc60 80px,#94d45e 91px,#89d164 96px,#7acc6c 99px,#52b27e 109px,#46a183 115px,#317d88 139px,#0f5991 175px,#104a96 191px,#1e37a0 206px,#2c209a 225px,#2a1977 255px,#2a1a7c 332px)"></i>
<i style="left:342px;height:332.2px;background:linear-gradient(#56b47c 0px,#51b17e 29px,#6dc372 36px,#9ed65f 40px,#bddd63 42px,#d8e272 45px,#e4e680 57px,#d7e271 69px,#b7dc60 81px,#94d45e 92px,#55b47d 106px,#449e84 114px,#317e88 136px,#0f5991 173px,#104a96 189px,#1e36a0 204px,#2c209a 223px,#2a1977 253px,#2a1a7c 332px)"></i>
<i style="left:343px;height:332.2px;background:linear-gradient(#57b57c 0px,#52b17e 31px,#6ac273 38px,#9ad55e 42px,#bcdd62 44px,#dce377 47px,#eee98a 59px,#b8dc60 83px,#abd95f 87px,#98d55e 90px,#7ccd6b 95px,#54b37d 105px,#45a083 112px,#409586 116px,#2f7b88 137px,#0e5892 173px,#104996 188px,#1e36a0 203px,#2c1f98 224px,#2a1977 252px,#2a1a7c 332px)"></i>
<i style="left:344px;height:332.2px;background:linear-gradient(#57b57c 0px,#51b17e 31px,#6ac273 38px,#99d55e 42px,#b9dc61 44px,#d5e170 47px,#dae374 62px,#d8e272 71px,#b6db60 84px,#95d45e 89px,#7acc6c 94px,#52b27e 104px,#46a183 110px,#317d88 134px,#0f5991 170px,#104a96 186px,#1e37a0 201px,#2c209a 220px,#2a1977 250px,#2a1a7c 332px)"></i>
<i style="left:345px;height:332.0px;background:linear-gradient(#59b77b 0px,#52b27e 29px,#69c174 36px,#96d45e 40px,#b8dc60 42px,#d6e271 45px,#e4e67f 58px,#d6e271 70px,#b7dc60 82px,#98d55e 91px,#5fbb78 103px,#459f83 113px,#2f7b88 138px,#105a91 171px,#104a96 188px,#1e36a0 204px,#2c1f98 225px,#2a1977 253px,#2a1a7c 332px)"></i>
<i style="left:346px;height:331.9px;background:linear-gradient(#59b67b 0px,#51b17e 29px,#6dc472 37px,#9fd65f 41px,#bedd63 43px,#dae374 46px,#eae785 58px,#d8e272 70px,#b8dc60 82px,#9cd65e 91px,#54b37d 107px,#47a382 113px,#409586 118px,#2e7a88 140px,#0e5892 175px,#104996 190px,#1e36a0 205px,#2c209a 224px,#2a1977 254px,#2a1a7c 332px)"></i>
<i style="left:347px;height:331.9px;background:linear-gradient(#57b57c 0px,#53b37d 31px,#6fc571 38px,#92d35f 41px,#b7dc60 43px,#d9e273 46px,#e5e681 47px,#f7ed94 59px,#d7e272 71px,#b8dc60 83px,#95d45e 93px,#52b27e 108px,#409686 118px,#18628d 162px,#0e5892 176px,#104a96 190px,#1e37a0 205px,#2c209a 224px,#2a1977 254px,#2a1a7c 332px)"></i>
<i style="left:348px;height:331.9px;background:linear-gradient(#57b57c 0px,#52b27e 28px,#6cc372 35px,#9dd65e 39px,#bbdd62 41px,#d6e271 44px,#dce376 57px,#d6e271 69px,#b6dc60 81px,#94d45e 91px,#55b47d 105px,#449e84 113px,#317e88 135px,#0f5991 172px,#104a96 188px,#1e36a0 203px,#2c209a 222px,#2a1977 252px,#2a1a7c 332px)"></i>
<i style="left:349px;height:331.9px;background:linear-gradient(#54b37d 0px,#51b17e 28px,#70c571 35px,#93d45f 38px,#b5db60 40px,#d4e170 43px,#e5e680 56px,#d8e272 68px,#b8dc60 80px,#98d55e 90px,#7ccd6b 95px,#54b37d 105px,#45a083 112px,#409586 116px,#2f7b88 137px,#0e5892 173px,#104996 188px,#1e36a0 203px,#2c1f98 224px,#2a1977 252px,#2a1a7c 332px)"></i>
<i style="left:350px;height:331.9px;background:linear-gradient(#55b47d 0px,#51b17e 29px,#6dc372 36px,#9ed65f 40px,#bedd63 42px,#dbe376 45px,#ece888 57px,#d6e271 70px,#c1de65 77px,#9dd65e 90px,#78cb6d 97px,#54b37d 106px,#47a382 112px,#409586 117px,#2e7a88 139px,#0e5892 174px,#104996 189px,#1e36a0 204px,#2c209a 223px,#2a1977 253px,#2a1a7c 332px)"></i>
<i style="left:351px;height:331.9px;background:linear-gradient(#57b67c 0px,#53b37d 28px,#6fc571 35px,#a2d75f 39px,#b4db60 40px,#d9e273 44px,#e6e682 56px,#d6e271 69px,#b6dc60 81px,#9dd65e 89px,#86d066 98px,#53b37e 110px,#48a582 115px,#409686 120px,#105a91 175px,#104a96 192px,#1d37a0 207px,#2c1f97 229px,#2a1978 256px,#2a1a7c 332px)"></i>
<i style="left:352px;height:331.9px;background:linear-gradient(#59b77b 0px,#52b27e 30px,#69c174 37px,#94d45e 41px,#b5db60 43px,#d2e16f 46px,#d8e272 71px,#b9dc60 83px,#96d55e 94px,#54b47d 109px,#47a382 115px,#409586 120px,#327f88 138px,#0e5892 177px,#104a96 192px,#1e36a0 207px,#2c209a 226px,#2a1977 256px,#2a1a7c 332px)"></i>
<i style="left:353px;height:331.9px;background:linear-gradient(#58b67b 0px,#52b27e 30px,#6bc273 37px,#9bd55e 41px,#bbdd62 43px,#dae374 46px,#e9e785 59px,#d8e272 71px,#b8dc60 83px,#9bd65e 92px,#7ccd6b 99px,#54b37d 109px,#45a083 116px,#409586 120px,#2f7b88 141px,#0e5892 177px,#104996 192px,#1e36a0 207px,#2c1f98 228px,#2a1977 256px,#2a1a7c 332px)"></i>
<i style="left:354px;height:331.9px;background:linear-gradient(#59b77b 0px,#52b27e 30px,#70c670 38px,#94d45e 41px,#b7dc60 43px,#d5e170 46px,#e7e682 59px,#d6e271 72px,#b7dc60 84px,#9ad55e 92px,#64be76 103px,#47a382 113px,#409586 118px,#327f88 136px,#0e5892 175px,#104a96 190px,#1e36a0 205px,#2c209a 224px,#2a1977 254px,#2a1a7c 332px)"></i>
<i style="left:355px;height:331.9px;background:linear-gradient(#58b67b 0px,#51b17e 30px,#71c670 38px,#95d45e 41px,#b8dc60 43px,#d6e271 46px,#eae786 59px,#d6e271 72px,#b7dc60 84px,#aad95f 88px,#97d55e 91px,#7bcc6c 96px,#53b37e 106px,#48a582 111px,#409686 116px,#105a91 171px,#104a96 188px,#1d37a0 203px,#2c1f97 225px,#2a1978 252px,#2a1a7c 332px)"></i>
<i style="left:356px;height:331.9px;background:linear-gradient(#58b67b 0px,#51b17e 28px,#6fc571 36px,#a3d75f 40px,#b6db60 41px,#dee479 45px,#efe98c 57px,#d7e272 70px,#c0dd64 78px,#9cd65e 90px,#7acc6c 96px,#52b27e 106px,#46a183 112px,#317d88 136px,#0f5991 172px,#104a96 188px,#1e37a0 203px,#2c209a 222px,#2a1977 252px,#2a1a7c 332px)"></i>
<i style="left:357px;height:331.9px;background:linear-gradient(#54b37d 0px,#51b17e 28px,#6ec471 35px,#a2d75f 39px,#b4db60 40px,#dee478 44px,#eee98a 57px,#d8e272 69px,#c0dd64 77px,#9dd65e 89px,#7acc6c 95px,#52b27e 105px,#48a482 110px,#409686 115px,#317d88 135px,#105a91 170px,#104a96 187px,#1d37a0 202px,#2c209a 221px,#2a1978 251px,#2a1a7c 332px)"></i>
<i style="left:358px;height:331.9px;background:linear-gradient(#55b47d 0px,#51b17e 31px,#6ec471 38px,#a1d75f 42px,#bfdd64 44px,#dae374 47px,#eae785 59px,#d8e272 72px,#b6db60 85px,#96d45e 92px,#5eba78 104px,#48a482 112px,#409686 117px,#307c88 138px,#105a91 172px,#104a96 189px,#1d37a0 204px,#2c209a 223px,#2a1978 253px,#2a1a7c 332px)"></i>
<i style="left:359px;height:331.9px;background:linear-gradient(#55b47d 0px,#4fad7f 28px,#52b27e 31px,#6fc571 38px,#a4d75f 42px,#c0de65 44px,#dae374 47px,#e9e784 59px,#d8e272 72px,#b8dc60 84px,#9cd65e 93px,#53b37e 110px,#48a582 115px,#409686 120px,#105a91 175px,#104a96 192px,#1d37a0 207px,#2c1f97 229px,#2a1978 256px,#2a1a7c 332px)"></i>
<i style="left:360px;height:331.9px;background:linear-gradient(#56b47c 0px,#52b27e 31px,#6fc571 38px,#92d35f 41px,#b3db60 43px,#d1e16e 46px,#dae274 62px,#d8e272 72px,#b9dc60 84px,#98d55e 94px,#77ca6d 100px,#53b37d 109px,#459f83 116px,#307c88 140px,#0e5892 177px,#114897 193px,#1e36a0 207px,#2c1f98 228px,#2a1977 256px,#2a1a7c 332px)"></i>
<i style="left:361px;height:331.9px;background:linear-gradient(#59b77b 0px,#53b27e 31px,#72c76f 39px,#97d55e 42px,#b9dc61 44px,#d6e271 47px,#e4e67f 60px,#d8e272 73px,#b8dc60 85px,#99d55e 95px,#60bb77 107px,#47a382 116px,#409586 121px,#327f88 139px,#0e5892 178px,#104a96 193px,#1e36a0 208px,#2c209a 227px,#2a1977 257px,#2a1a7c 332px)"></i>
<i style="left:362px;height:331.9px;background:linear-gradient(#58b67b 0px,#53b27e 31px,#6dc472 38px,#9fd65f 42px,#bedd63 44px,#d9e273 47px,#e8e783 60px,#d7e271 73px,#b7dc60 85px,#9bd55e 94px,#7acc6c 100px,#52b27e 110px,#46a183 116px,#317d88 140px,#105a91 175px,#104a96 192px,#1d37a0 207px,#2c209a 226px,#2a1978 256px,#2a1a7c 332px)"></i>
<i style="left:363px;height:331.9px;background:linear-gradient(#58b67b 0px,#52b27e 30px,#6ac273 37px,#9ad55e 41px,#badc61 43px,#d7e271 46px,#e1e57b 60px,#d7e272 72px,#b8dc60 84px,#95d45e 95px,#78cb6d 102px,#54b37d 111px,#47a382 117px,#409586 122px,#2e7a88 144px,#0e5892 179px,#104996 194px,#1e36a0 209px,#2c209a 228px,#2a1977 258px,#2a1a7c 332px)"></i>
<i style="left:364px;height:331.9px;background:linear-gradient(#56b57c 0px,#51b17e 28px,#6ac273 35px,#99d55e 39px,#badc61 41px,#d8e272 44px,#e7e682 57px,#d7e271 70px,#b8dc60 82px,#9bd65e 91px,#7acc6c 104px,#52b27e 114px,#48a482 119px,#409686 124px,#317d88 144px,#105a91 179px,#104a96 196px,#1d37a0 211px,#2c209a 230px,#2a1978 260px,#2a1a7c 332px)"></i>
<i style="left:365px;height:331.9px;background:linear-gradient(#54b37d 0px,#4fad7f 22px,#52b27e 31px,#6ac273 37px,#9ad55e 41px,#badc61 43px,#d6e271 46px,#dde377 59px,#d6e271 72px,#b7dc60 84px,#94d45e 95px,#78cb6d 104px,#51b17e 114px,#47a382 119px,#3f9486 125px,#327f88 142px,#0e5892 181px,#104a96 196px,#1e36a0 211px,#2c209a 230px,#2a1977 260px,#2a1a7c 332px)"></i>
<i style="left:366px;height:332.3px;background:linear-gradient(#54b37d 0px,#51b17e 32px,#70c571 39px,#93d45f 42px,#b7dc60 44px,#e1e57c 48px,#f2ea8e 60px,#c5de67 79px,#aeda5f 88px,#95d45e 96px,#81ce68 104px,#53b37d 115px,#459f83 122px,#307c88 146px,#105a91 180px,#104a96 197px,#1e36a0 213px,#2c1f97 234px,#2a1977 262px,#2a1a7c 332px)"></i>
<i style="left:367px;height:331.9px;background:linear-gradient(#54b37d 0px,#4fad7f 25px,#52b27e 31px,#73c86f 38px,#acd95f 42px,#d2e16e 45px,#e2e57d 46px,#f5ec92 59px,#d8e272 71px,#acd95f 87px,#94d45e 95px,#7ecd6a 104px,#55b47d 114px,#449e84 122px,#317e88 144px,#0f5991 181px,#104a96 197px,#1e36a0 212px,#2c209a 231px,#2a1977 261px,#2a1a7c 332px)"></i>
<i style="left:368px;height:332.0px;background:linear-gradient(#55b47c 0px,#50b07f 27px,#69c174 34px,#96d45e 38px,#b8dc60 40px,#d5e170 43px,#e1e57b 57px,#d8e272 68px,#b9dc60 80px,#94d45e 92px,#7ccd6b 102px,#57b67c 111px,#459f83 119px,#2f7b88 144px,#0e5892 180px,#114897 196px,#1e36a0 210px,#2c1f98 231px,#2a1977 259px,#2a1a7c 332px)"></i>
<i style="left:369px;height:332.5px;background:linear-gradient(#57b57c 0px,#52b17e 30px,#6bc273 37px,#9bd65e 41px,#bcdd62 43px,#dae374 46px,#eae785 58px,#d7e271 71px,#b8dc60 83px,#9bd65e 92px,#7fce69 102px,#52b27e 113px,#46a183 119px,#317d88 143px,#0f5991 179px,#104a96 195px,#1e37a0 210px,#2c209a 229px,#2a1977 259px,#2a1a7c 332px)"></i>
<i style="left:370px;height:332.4px;background:linear-gradient(#53b37d 0px,#4eac80 28px,#52b27e 32px,#6ac273 38px,#99d55e 42px,#badc61 44px,#d7e272 47px,#e3e57e 60px,#d7e271 72px,#b7dc60 84px,#95d45e 95px,#54b37d 110px,#45a083 117px,#3f9586 121px,#2f7b88 142px,#0e5892 178px,#104996 193px,#1e36a0 208px,#2c1f98 229px,#2a1977 257px,#2a1a7c 332px)"></i>
<i style="left:371px;height:331.9px;background:linear-gradient(#55b47d 0px,#52b17e 29px,#6fc571 36px,#a4d85f 40px,#b6dc60 41px,#dfe47a 45px,#f0ea8c 57px,#c0dd64 77px,#9bd65e 90px,#7fce69 100px,#52b27e 111px,#46a183 117px,#317d88 141px,#0f5991 177px,#104a96 193px,#1e37a0 208px,#2c209a 227px,#2a1977 257px,#2a1a7c 332px)"></i>
<i style="left:372px;height:332.4px;background:linear-gradient(#55b47d 0px,#4fae7f 22px,#53b37d 31px,#6ac273 37px,#9ad55e 41px,#bbdd62 43px,#dae374 46px,#eae786 58px,#d6e271 71px,#b9dc60 82px,#9ad55e 91px,#79cb6d 97px,#55b47d 106px,#49a681 111px,#3f9486 118px,#0f5991 173px,#104a96 189px,#1e36a0 204px,#2c209a 223px,#2a1977 253px,#2a1a7c 332px)"></i>
<i style="left:373px;height:332.6px;background:linear-gradient(#53b37e 0px,#4eac80 26px,#52b27e 33px,#6bc273 39px,#9bd65e 43px,#bbdd62 45px,#d8e272 48px,#e7e682 60px,#d8e272 72px,#b8dc60 84px,#afda5f 87px,#94d45e 91px,#55b47c 105px,#46a183 112px,#317e88 135px,#0f5991 172px,#104a96 188px,#1e37a0 203px,#2c209a 222px,#2a1977 252px,#2a1a7c 332px)"></i>
<i style="left:374px;height:332.7px;background:linear-gradient(#52b27e 0px,#4dab80 30px,#51b07e 33px,#71c670 40px,#95d45e 43px,#b8dc60 45px,#d5e170 48px,#e3e57e 61px,#d8e272 72px,#b3db60 86px,#98d55e 91px,#77ca6d 97px,#53b37d 106px,#459f83 113px,#307c88 137px,#105a91 171px,#104a96 188px,#1e36a0 204px,#2c1f98 225px,#2a1977 253px,#2a1a7c 332px)"></i>
<i style="left:375px;height:332.7px;background:linear-gradient(#53b37e 0px,#50b07f 31px,#6dc372 38px,#9fd65f 42px,#bddd63 44px,#d9e273 47px,#e6e682 59px,#d8e272 70px,#b7dc60 83px,#a9d95f 87px,#94d45e 90px,#52b27e 105px,#46a183 111px,#317e88 134px,#0f5991 171px,#104a96 187px,#1e37a0 202px,#2c209a 221px,#2a1977 251px,#2a1a7c 332px)"></i>
<i style="left:376px;height:333.0px;background:linear-gradient(#53b37d 0px,#51b07e 30px,#6ec571 37px,#91d35f 40px,#bedd63 43px,#d6e271 46px,#dbe375 59px,#d8e272 69px,#b9dc60 81px,#97d55e 91px,#7bcc6b 96px,#53b37e 106px,#459f83 113px,#307c88 137px,#0e5892 174px,#104a96 188px,#1e36a0 204px,#2c1f97 225px,#2a1977 253px,#2a1a7c 332px)"></i>
<i style="left:377px;height:332.0px;background:linear-gradient(#52b27e 0px,#4dac80 29px,#53b37d 32px,#6fc571 38px,#a3d75f 42px,#b5db60 43px,#dce376 47px,#ece888 58px,#d7e272 70px,#c0dd64 78px,#9bd65e 91px,#8bd163 97px,#76ca6e 101px,#52b27e 110px,#48a482 115px,#409686 120px,#317d88 140px,#105a91 175px,#104a96 192px,#1d37a0 207px,#2c209a 226px,#2a1978 256px,#2a1a7c 332px)"></i>
<i style="left:378px;height:332.1px;background:linear-gradient(#52b27e 0px,#4dab80 24px,#50b07f 30px,#70c571 37px,#93d45f 40px,#b4db60 42px,#d2e16f 45px,#dee478 58px,#d7e271 69px,#b7dc60 81px,#95d45e 92px,#80ce69 98px,#52b27e 109px,#48a482 114px,#409686 119px,#317d88 139px,#0e5892 177px,#104a96 191px,#1d37a0 206px,#2c209a 225px,#2a1978 255px,#2a1a7c 332px)"></i>
<i style="left:379px;height:332.4px;background:linear-gradient(#52b17e 0px,#4dab80 24px,#51b17e 33px,#6bc273 39px,#9cd65e 43px,#bcdd62 45px,#dbe375 48px,#ebe887 59px,#d8e272 71px,#c0dd64 79px,#9bd65e 92px,#55b47d 109px,#449e84 117px,#317e88 139px,#0f5991 176px,#104a96 192px,#1e36a0 207px,#2c209a 226px,#2a1977 256px,#2a1a7c 332px)"></i>
<i style="left:380px;height:332.1px;background:linear-gradient(#50b07f 0px,#4ca980 27px,#51b07e 34px,#76ca6e 41px,#9fd65f 44px,#bddd63 46px,#d9e273 49px,#e7e682 60px,#d7e271 72px,#b7dc60 84px,#96d45e 93px,#5eba78 105px,#48a482 113px,#409686 118px,#307c88 139px,#105a91 173px,#104a96 190px,#1d37a0 205px,#2c209a 224px,#2a1978 254px,#2a1a7c 332px)"></i>
<i style="left:381px;height:332.3px;background:linear-gradient(#52b17e 0px,#4dab80 30px,#52b27e 33px,#6fc571 39px,#92d35f 42px,#b5db60 44px,#dee479 48px,#efe98b 59px,#c3de66 77px,#9cd65e 91px,#88d064 99px,#79cc6c 102px,#55b47c 111px,#46a183 118px,#317e88 141px,#0f5991 178px,#104a96 194px,#1e37a0 209px,#2c209a 228px,#2a1977 258px,#2a1a7c 332px)"></i>
<i style="left:382px;height:333.5px;background:linear-gradient(#51b07f 0px,#4ca980 31px,#50b07f 34px,#6ac173 40px,#99d55e 44px,#badc61 46px,#d7e272 49px,#e5e680 61px,#d6e271 72px,#b7dc60 84px,#94d45e 95px,#89d164 100px,#55b47d 112px,#449e84 120px,#317e88 142px,#0f5991 179px,#104a96 195px,#1e36a0 210px,#2c209a 229px,#2a1977 259px,#2a1a7c 332px)"></i>
<i style="left:383px;height:333.4px;background:linear-gradient(#51b07e 0px,#4caa80 32px,#51b17e 34px,#75c96e 41px,#8ed261 43px,#afda5f 45px,#dde478 49px,#efe98b 60px,#c3de66 78px,#9cd65e 92px,#7ccd6b 102px,#54b37d 112px,#459f83 119px,#2f7b88 144px,#105a91 177px,#104a96 194px,#1e36a0 210px,#2c1f98 231px,#2a1977 259px,#2a1a7c 332px)"></i>
<i style="left:384px;height:333.0px;background:linear-gradient(#50af7f 0px,#4dac80 33px,#6bc273 40px,#9bd65e 44px,#badc61 46px,#d6e271 49px,#dce376 61px,#d8e272 71px,#b8dc60 83px,#96d45e 94px,#51b17e 110px,#47a382 115px,#409586 120px,#327f88 138px,#0e5892 177px,#104a96 192px,#1e36a0 207px,#2c209a 226px,#2a1977 256px,#2a1a7c 332px)"></i>
<i style="left:385px;height:332.4px;background:linear-gradient(#51b07f 0px,#4ca980 32px,#50b07f 35px,#73c86f 42px,#99d55e 45px,#badc61 47px,#dae374 50px,#ece888 61px,#d8e272 72px,#bedd63 81px,#9bd55e 92px,#79cb6c 98px,#55b47d 107px,#449e84 115px,#317e88 137px,#0f5991 174px,#104a96 190px,#1e36a0 205px,#2c209a 224px,#2a1977 254px,#2a1a7c 332px)"></i>
<i style="left:386px;height:332.4px;background:linear-gradient(#50af7f 0px,#4ba881 33px,#51b17e 36px,#71c670 42px,#95d45e 45px,#b7dc60 47px,#d5e170 50px,#e3e57e 61px,#d8e272 72px,#b2db60 86px,#98d55e 90px,#7ccd6b 95px,#54b37d 105px,#47a382 111px,#409586 116px,#2f7b88 137px,#0e5892 173px,#104996 188px,#1e36a0 203px,#2c1f98 224px,#2a1977 252px,#2a1a7c 332px)"></i>
<i style="left:387px;height:331.9px;background:linear-gradient(#4fad7f 0px,#4ba881 33px,#53b37d 36px,#6ec471 41px,#a1d75f 45px,#bfdd64 47px,#d9e273 50px,#e7e682 61px,#d8e272 71px,#b9dc60 83px,#9dd65e 89px,#7acc6c 95px,#52b27e 105px,#48a482 110px,#409686 115px,#317d88 135px,#105a91 170px,#104a96 187px,#1d37a0 202px,#2c209a 221px,#2a1978 251px,#2a1a7c 332px)"></i>
<i style="left:388px;height:332.5px;background:linear-gradient(#50af7f 0px,#4ba981 33px,#51b17e 36px,#78cb6d 43px,#a2d75f 46px,#b4db60 47px,#d9e273 51px,#e6e682 61px,#d8e272 72px,#bcdd62 82px,#97d55e 88px,#7bcc6b 93px,#53b37d 103px,#3f9586 114px,#105a91 168px,#104a96 185px,#1e36a0 201px,#2c1f97 222px,#2a1977 250px,#2a1a7c 332px)"></i>
<i style="left:389px;height:331.9px;background:linear-gradient(#50af7f 0px,#4ba881 34px,#52b27e 37px,#6ac273 42px,#9ad55e 46px,#bcdd62 48px,#dde377 51px,#eee98a 62px,#bddd63 82px,#97d55e 88px,#7bcc6b 93px,#53b37e 103px,#3f9586 114px,#105a91 168px,#104a96 185px,#1e36a0 201px,#2c1f97 222px,#2a1977 250px,#2a1a7c 332px)"></i>
<i style="left:390px;height:331.9px;background:linear-gradient(#50af7f 0px,#4ca980 35px,#6dc472 43px,#9fd65f 47px,#bbdd62 49px,#d3e16f 52px,#d8e272 72px,#b9dc60 83px,#97d55e 88px,#7bcc6c 93px,#50b07f 104px,#409686 113px,#105a91 168px,#104a96 185px,#1d37a0 200px,#2c1f97 222px,#2a1977 250px,#2a1a7c 332px)"></i>
<i style="left:391px;height:331.9px;background:linear-gradient(#52b17e 0px,#4dab80 27px,#51b07e 36px,#6ac173 42px,#98d55e 46px,#badc61 48px,#d8e272 51px,#e8e784 62px,#cfe06d 75px,#b7dc60 81px,#9bd55e 85px,#79cb6c 91px,#52b17e 101px,#3f9486 112px,#0f5991 167px,#104a96 183px,#1e36a0 198px,#2c209a 217px,#2a1977 247px,#2a1a7c 332px)"></i>
<i style="left:392px;height:331.9px;background:linear-gradient(#51b07f 0px,#4ca980 33px,#6ac173 41px,#98d55e 45px,#b8dc60 47px,#d4e170 50px,#d8e272 71px,#badc61 81px,#99d55e 86px,#78cb6d 92px,#51b17e 102px,#409586 112px,#0e5892 169px,#104996 184px,#1e36a0 199px,#2c209a 218px,#2a1977 248px,#2a1a7c 332px)"></i>
<i style="left:393px;height:331.9px;background:linear-gradient(#51b17e 0px,#4daa80 28px,#50af7f 34px,#69c174 40px,#95d45e 44px,#b9dc60 46px,#dfe47a 50px,#f0e98c 60px,#bfdd64 79px,#afda5f 82px,#93d45e 86px,#7dcd6a 90px,#51b17e 101px,#3f9486 112px,#0e5892 168px,#104a96 183px,#1e36a0 198px,#2c209a 217px,#2a1977 247px,#2a1a7c 332px)"></i>
<i style="left:394px;height:331.9px;background:linear-gradient(#51b17e 0px,#4caa80 32px,#68c074 40px,#93d45f 44px,#bedd63 47px,#d3e16f 50px,#d8e272 70px,#b9dc60 80px,#96d55e 85px,#7bcc6c 90px,#50b07f 101px,#409686 110px,#1b658c 151px,#0e5892 168px,#104a96 182px,#1d37a0 197px,#2c1f97 219px,#2a1977 247px,#2a1a7c 332px)"></i>
<i style="left:395px;height:331.9px;background:linear-gradient(#51b17e 0px,#4daa80 33px,#51b07f 35px,#69c173 41px,#97d55e 45px,#b8dc60 47px,#d4e170 50px,#dbe375 62px,#d8e272 71px,#bedd63 80px,#99d55e 86px,#7ccd6b 91px,#54b37d 101px,#47a382 107px,#409586 112px,#2f7b88 133px,#0e5892 169px,#104996 184px,#1e36a0 199px,#2c209a 218px,#2a1977 248px,#2a1a7c 332px)"></i>
<i style="left:396px;height:331.9px;background:linear-gradient(#52b27e 0px,#4dab80 32px,#70c670 41px,#94d45e 44px,#b4db60 46px,#d1e16e 49px,#d8e272 70px,#b0da60 85px,#95d45e 89px,#52b27e 104px,#409686 114px,#0f5991 170px,#104a96 186px,#1d37a0 201px,#2c209a 220px,#2a1977 250px,#2a1a7c 332px)"></i>
<i style="left:397px;height:331.9px;background:linear-gradient(#52b27e 0px,#4dab80 32px,#52b27e 36px,#6dc472 42px,#90d360 45px,#b3db60 47px,#e1e57c 51px,#f3eb8f 61px,#d7e271 72px,#bcdd62 81px,#9cd65e 86px,#7acc6c 92px,#52b27e 102px,#409686 112px,#0f5991 168px,#104a96 184px,#1e37a0 199px,#2c209a 218px,#2a1977 248px,#2a1a7c 332px)"></i>
<i style="left:398px;height:331.9px;background:linear-gradient(#54b37d 0px,#4ead7f 33px,#70c670 42px,#94d45e 45px,#b4db60 47px,#d2e16e 50px,#d8e272 71px,#badc61 81px,#98d55e 86px,#7ccd6b 91px,#51b07e 102px,#409586 112px,#1a648c 153px,#0e5892 169px,#104996 184px,#1e36a0 199px,#2c1f98 220px,#2a1977 248px,#2a1a7c 332px)"></i>
<i style="left:399px;height:331.9px;background:linear-gradient(#55b47d 0px,#52b17e 36px,#70c571 43px,#93d45f 46px,#b5db60 48px,#d4e170 51px,#e7e682 62px,#d6e271 73px,#bbdd62 83px,#9bd65e 88px,#79cc6c 94px,#52b27e 104px,#3e9386 116px,#0f5991 170px,#104a96 186px,#1e37a0 201px,#2c209a 220px,#2a1977 250px,#2a1a7c 332px)"></i>
<i style="left:400px;height:332.3px;background:linear-gradient(#57b57c 0px,#53b37d 36px,#70c571 43px,#93d45e 46px,#b5db60 48px,#d3e16f 51px,#e0e47b 62px,#d8e272 72px,#b7dc60 85px,#93d45e 91px,#51b17e 106px,#49a681 110px,#3f9486 117px,#0e5892 173px,#104a96 188px,#1e36a0 203px,#2c209a 222px,#2a1977 252px,#2a1a7c 332px)"></i>
<i style="left:401px;height:332.3px;background:linear-gradient(#55b47d 0px,#50af7f 34px,#68c174 41px,#93d45e 45px,#bedd63 48px,#d4e170 51px,#d8e272 71px,#b8dc60 83px,#95d45e 88px,#52b27e 103px,#409686 113px,#0f5991 169px,#104a96 185px,#1e36a0 200px,#2c209a 219px,#2a1977 249px,#2a1a7c 332px)"></i>
<i style="left:402px;height:331.9px;background:linear-gradient(#56b57c 0px,#52b27e 35px,#6fc571 42px,#92d35f 45px,#b3db60 47px,#d2e16f 50px,#e2e57d 61px,#d8e272 71px,#b7dc60 84px,#97d55e 89px,#5bb87a 102px,#459f83 111px,#307c88 135px,#105a91 169px,#104a96 186px,#1d37a0 201px,#2c209a 220px,#2a1978 250px,#2a1a7c 332px)"></i>
<i style="left:403px;height:331.9px;background:linear-gradient(#59b67b 0px,#52b27e 34px,#71c670 42px,#95d45e 45px,#b8dc60 47px,#d7e271 50px,#ece888 61px,#b9dc60 83px,#afda5f 86px,#9ad55e 89px,#79cb6d 95px,#51b17e 105px,#3f9486 116px,#0e5892 172px,#104996 187px,#1e36a0 202px,#2c1f97 223px,#2a1977 251px,#2a1a7c 332px)"></i>
<i style="left:404px;height:331.9px;background:linear-gradient(#5ab77a 0px,#52b27e 35px,#6ec472 43px,#a0d75f 47px,#bedd63 49px,#d8e272 52px,#e4e57f 62px,#d7e271 73px,#badc61 84px,#95d45e 90px,#56b57c 104px,#48a482 110px,#409686 115px,#317d88 135px,#0f5991 171px,#104a96 187px,#1e36a0 202px,#2c209a 221px,#2a1977 251px,#2a1a7c 332px)"></i>
<i style="left:405px;height:331.9px;background:linear-gradient(#58b67b 0px,#52b27e 36px,#6bc273 43px,#9bd65e 47px,#bcdd62 49px,#dde377 52px,#eee98a 62px,#b8dc60 85px,#9ad55e 90px,#7dcd6a 95px,#51b17e 106px,#3e9386 118px,#0e5892 173px,#104a96 187px,#1d37a0 202px,#2c209a 221px,#2a1977 251px,#2a1a7c 332px)"></i>
<i style="left:406px;height:331.9px;background:linear-gradient(#5bb87a 0px,#52b27e 34px,#6cc372 42px,#9ed65f 46px,#bcdd63 48px,#d7e271 51px,#e2e57d 61px,#d8e272 71px,#b7dc60 84px,#a9d95f 88px,#94d45e 91px,#52b27e 106px,#46a183 112px,#317d88 136px,#0e5892 173px,#104996 188px,#1e36a0 203px,#2c1f97 224px,#2a1978 251px,#2a1a7c 332px)"></i>
<i style="left:407px;height:331.9px;background:linear-gradient(#5cb87a 0px,#52b27e 32px,#6ac173 40px,#98d55e 44px,#b9dc61 46px,#d7e271 49px,#e5e680 60px,#d7e271 70px,#b7dc60 82px,#98d55e 91px,#7ccd6b 96px,#54b37d 106px,#47a382 112px,#3f9486 118px,#2f7b88 138px,#105a91 171px,#104a96 188px,#1e36a0 203px,#2c209a 222px,#2a1977 252px,#2a1a7c 332px)"></i>
<i style="left:408px;height:331.9px;background:linear-gradient(#5eba79 0px,#54b37d 33px,#6ac273 41px,#99d55e 45px,#badc61 47px,#d7e271 50px,#e1e57c 61px,#d6e271 71px,#b6dc60 83px,#96d45e 92px,#53b37d 107px,#459f83 114px,#307c88 138px,#0f5991 173px,#104996 189px,#1e36a0 204px,#2c1f97 225px,#2a1978 252px,#2a1a7c 332px)"></i>
<i style="left:409px;height:331.9px;background:linear-gradient(#5fbb78 0px,#57b57c 36px,#6fc571 44px,#a3d75f 48px,#c0dd64 50px,#dae374 53px,#e9e784 63px,#badc61 84px,#aad95f 89px,#97d55e 92px,#77ca6d 98px,#54b37d 107px,#47a382 113px,#409586 118px,#2f7b88 139px,#0f5991 173px,#104a96 189px,#1e36a0 204px,#2c1f97 225px,#2a1977 253px,#2a1a7c 332px)"></i>
<i style="left:410px;height:331.9px;background:linear-gradient(#5eba79 0px,#55b47c 36px,#6fc571 44px,#a3d75f 48px,#b6db60 49px,#d7e271 52px,#e3e57e 53px,#f4eb90 62px,#d9e273 72px,#b7dc60 85px,#96d55e 91px,#53b37d 106px,#409586 117px,#0e5892 173px,#104996 188px,#1d37a0 202px,#2c209a 221px,#2a1977 251px,#2a1a7c 332px)"></i>
<i style="left:411px;height:331.9px;background:linear-gradient(#61bc77 0px,#57b67c 34px,#5cb979 37px,#6bc373 43px,#9cd65e 47px,#bcdd62 49px,#dae374 52px,#e9e785 62px,#badc61 83px,#97d55e 92px,#67c074 102px,#47a382 113px,#409586 118px,#307c88 138px,#0f5991 173px,#104996 189px,#1d37a0 203px,#2c209a 222px,#2a1977 252px,#2a1a7c 332px)"></i>
<i style="left:412px;height:331.9px;background:linear-gradient(#5fba78 0px,#59b77b 36px,#70c571 43px,#93d45e 46px,#b6db60 48px,#dae274 52px,#e8e783 61px,#d8e272 71px,#b2db60 85px,#9bd55e 90px,#75c96e 97px,#52b27e 106px,#48a482 111px,#409686 116px,#105a91 170px,#104a96 187px,#1e36a0 202px,#2c1f98 223px,#2a1977 251px,#2a1a7c 332px)"></i>
<i style="left:413px;height:332.0px;background:linear-gradient(#5fba78 0px,#57b57c 35px,#69c174 42px,#94d45e 46px,#b6dc60 48px,#d4e16f 51px,#dfe47a 61px,#d7e271 71px,#b8dc60 83px,#97d55e 88px,#77ca6d 94px,#54b37d 103px,#47a382 109px,#3f9486 115px,#2f7b88 135px,#0e5892 170px,#114897 186px,#1e37a0 199px,#2c209a 218px,#2a1977 248px,#2a1a7c 332px)"></i>
<i style="left:414px;height:332.7px;background:linear-gradient(#5fba78 0px,#58b67b 35px,#6bc273 42px,#9bd65e 46px,#bbdd62 48px,#d6e271 51px,#dde377 62px,#d8e272 70px,#b8dc60 82px,#98d55e 87px,#78cb6d 93px,#55b47d 102px,#46a183 109px,#2e7a88 135px,#0f5991 168px,#104996 184px,#1d37a0 198px,#2c209a 217px,#2a1977 247px,#2a1a7c 332px)"></i>
<i style="left:415px;height:332.1px;background:linear-gradient(#5fbb78 0px,#57b57c 36px,#6fc571 44px,#a3d75f 48px,#b6dc60 49px,#e1e57b 53px,#f2ea8e 62px,#d9e273 71px,#aeda5f 85px,#93d45f 89px,#7dcd6a 93px,#52b27e 104px,#409686 114px,#0f5991 169px,#104996 185px,#1d37a0 199px,#2c209a 218px,#2a1977 248px,#2a1a7c 332px)"></i>
<i style="left:416px;height:332.0px;background:linear-gradient(#5fbb78 0px,#56b57c 36px,#6bc273 44px,#9bd55e 48px,#badc61 50px,#d5e170 53px,#dae374 63px,#d7e271 72px,#badc61 83px,#94d45e 89px,#7acc6c 94px,#56b57c 103px,#48a582 109px,#3f9586 115px,#317d88 134px,#0e5892 171px,#104a96 185px,#1d37a0 199px,#2c209a 218px,#2a1977 248px,#2a1a7c 332px)"></i>
<i style="left:417px;height:332.1px;background:linear-gradient(#60bb78 0px,#56b57c 36px,#69c174 44px,#94d45e 48px,#b6db60 50px,#d3e16f 53px,#dce376 63px,#d8e272 72px,#badc61 83px,#9ad55e 88px,#65bf75 99px,#48a482 109px,#409686 114px,#317e88 133px,#0f5991 169px,#104996 185px,#1e37a0 199px,#2c209a 218px,#2a1977 248px,#2a1a7c 332px)"></i>
<i style="left:418px;height:331.9px;background:linear-gradient(#60bb78 0px,#59b77b 36px,#6bc273 43px,#9bd55e 47px,#bbdd62 49px,#d8e272 52px,#e4e680 61px,#d6e271 71px,#bfdd64 79px,#9dd65e 85px,#7bcc6b 91px,#51b07e 102px,#3f9486 113px,#105a91 165px,#104a96 182px,#1e36a0 197px,#2c209a 215px,#2a1977 245px,#2a1a7c 332px)"></i>
<i style="left:419px;height:331.9px;background:linear-gradient(#5db979 0px,#56b47c 34px,#69c173 41px,#96d45e 45px,#b8dc60 47px,#d5e170 50px,#e1e57c 59px,#d8e272 68px,#b7dc60 81px,#96d55e 88px,#54b37d 103px,#47a382 109px,#3f9486 115px,#307c88 134px,#0e5892 170px,#104a96 184px,#1e36a0 199px,#2c209a 217px,#2a1977 247px,#2a1a7c 332px)"></i>
<i style="left:420px;height:331.9px;background:linear-gradient(#5eba79 0px,#54b47d 30px,#5ab77a 35px,#68c074 40px,#76ca6e 42px,#8fd261 44px,#b2db60 46px,#d5e170 49px,#e3e57e 50px,#f4eb91 59px,#d7e271 68px,#b8dc60 80px,#a6d85f 85px,#92d35f 88px,#52b17e 103px,#409686 113px,#0e5892 169px,#104a96 183px,#1e36a0 198px,#2c209a 216px,#2a1978 246px,#2a1a7c 332px)"></i>
<i style="left:421px;height:331.9px;background:linear-gradient(#5cb87a 0px,#52b27e 33px,#6ac173 41px,#98d55e 45px,#b7dc60 47px,#d2e16e 50px,#d8e272 68px,#b2db60 82px,#94d45e 87px,#50b07f 103px,#409586 113px,#0f5991 167px,#104a96 182px,#1e36a0 197px,#2c1f98 218px,#2a1977 246px,#2a1a7c 332px)"></i>
<i style="left:422px;height:331.9px;background:linear-gradient(#5bb87a 0px,#53b37d 34px,#68c174 41px,#79cb6d 43px,#a3d75f 46px,#c0dd64 48px,#dae375 51px,#e9e785 59px,#bcdd62 78px,#a2d75f 87px,#96d55e 89px,#54b47d 104px,#49a681 109px,#3e9386 117px,#105a91 168px,#104a96 185px,#1e37a0 199px,#2c209a 218px,#2a1977 248px,#2a1a7c 332px)"></i>
<i style="left:423px;height:331.9px;background:linear-gradient(#5bb87a 0px,#52b27e 35px,#6bc273 43px,#9cd65e 47px,#bcdd62 49px,#dce376 52px,#ece888 61px,#d8e272 69px,#b3db60 83px,#99d55e 87px,#7dcd6a 92px,#52b27e 103px,#3f9586 114px,#0e5892 169px,#104a96 183px,#1e36a0 198px,#2c209a 216px,#2a1977 246px,#2a1a7c 332px)"></i>
<i style="left:424px;height:331.9px;background:linear-gradient(#5ab77b 0px,#52b27e 35px,#6ec472 43px,#a0d75f 47px,#d0e06d 51px,#dae274 61px,#d7e272 69px,#b5db60 82px,#94d45e 87px,#7acc6c 92px,#50b07f 103px,#409586 113px,#0e5892 168px,#104a96 182px,#1e36a0 197px,#2c209a 215px,#2a1977 245px,#2a1a7c 332px)"></i>
<i style="left:425px;height:331.9px;background:linear-gradient(#59b77b 0px,#53b37e 33px,#6ac173 40px,#98d55e 44px,#b9dc60 46px,#d5e271 49px,#dfe479 58px,#d8e272 66px,#b9dc60 78px,#93d45e 88px,#56b57c 102px,#4aa781 107px,#3f9586 114px,#317e88 132px,#0e5892 169px,#104a96 183px,#1d37a0 197px,#2c209a 216px,#2a1977 246px,#2a1a7c 332px)"></i>
<i style="left:426px;height:331.9px;background:linear-gradient(#5cb87a 0px,#54b37d 29px,#68c174 36px,#78cb6d 38px,#a2d75f 41px,#c0dd64 43px,#dbe375 46px,#eae786 54px,#c2de65 70px,#9ad55e 84px,#7ccd6b 91px,#55b47d 101px,#46a183 108px,#2f7b88 133px,#105a91 165px,#104996 182px,#1e36a0 196px,#2c1f98 217px,#2a1977 245px,#2a1a7c 332px)"></i>
<i style="left:427px;height:331.9px;background:linear-gradient(#5cb87a 0px,#54b37d 33px,#69c174 40px,#93d45e 44px,#b8dc60 46px,#e2e57d 50px,#f3eb8f 58px,#d6e271 67px,#b7dc60 79px,#94d45e 90px,#53b37d 105px,#409586 116px,#0e5892 171px,#104a96 185px,#1d37a0 199px,#2c209a 218px,#2a1977 248px,#2a1a7c 332px)"></i>
<i style="left:428px;height:331.9px;background:linear-gradient(#58b67b 0px,#52b27e 34px,#6ac273 41px,#9ad55e 45px,#badc61 47px,#d6e271 50px,#dce376 59px,#d8e272 67px,#b9dc60 79px,#93d45e 91px,#54b37d 106px,#47a382 112px,#409686 117px,#307c88 137px,#0f5991 171px,#104a96 186px,#1e36a0 201px,#2c209a 219px,#2a1977 249px,#2a1a7c 332px)"></i>
<i style="left:429px;height:331.9px;background:linear-gradient(#57b57c 0px,#51b17e 33px,#6bc273 40px,#9ad55e 44px,#b9dc61 46px,#d4e170 49px,#d8e272 66px,#b9dc60 78px,#96d55e 89px,#55b47d 104px,#46a183 111px,#2f7b88 136px,#0f5991 169px,#104a96 184px,#1e36a0 199px,#2c209a 217px,#2a1977 247px,#2a1a7c 332px)"></i>
<i style="left:430px;height:331.9px;background:linear-gradient(#56b57c 0px,#51b17e 31px,#6bc373 38px,#9cd65e 42px,#bddd63 44px,#dde478 47px,#eee98a 56px,#c7df68 70px,#9cd65e 85px,#83cf67 93px,#52b27e 105px,#4aa781 109px,#409586 116px,#105a91 168px,#104a96 184px,#1e36a0 199px,#2c209a 217px,#2a1978 247px,#2a1a7c 332px)"></i>
<i style="left:431px;height:331.9px;background:linear-gradient(#58b67b 0px,#53b37d 31px,#6dc472 38px,#a0d75f 42px,#c0dd64 44px,#e1e57b 47px,#f1ea8d 56px,#d8e272 64px,#afda5f 79px,#96d45e 87px,#77ca6d 93px,#51b17e 103px,#409686 113px,#0f5991 167px,#104a96 182px,#1d37a0 196px,#2c209a 215px,#2a1977 245px,#2a1a7c 332px)"></i>
<i style="left:432px;height:331.9px;background:linear-gradient(#56b57c 0px,#52b27e 31px,#6ec471 38px,#a1d75f 42px,#d2e16e 46px,#e2e57d 55px,#d8e272 64px,#b9dc60 76px,#95d45e 86px,#63bd76 97px,#49a681 106px,#3e9386 114px,#0e5892 167px,#104a96 181px,#1e36a0 195px,#2c1f97 216px,#2a1977 244px,#2a1a7c 332px)"></i>
<i style="left:433px;height:331.9px;background:linear-gradient(#56b57c 0px,#52b27e 29px,#70c571 36px,#93d45f 39px,#b2db60 41px,#cfe06d 44px,#d8e272 62px,#b9dc60 74px,#93d45e 86px,#7acc6c 96px,#53b37d 106px,#47a382 112px,#3f9486 118px,#317d88 136px,#0e5892 172px,#104a96 185px,#1e36a0 200px,#2c209a 218px,#2a1977 248px,#2a1a7c 332px)"></i>
<i style="left:434px;height:331.9px;background:linear-gradient(#53b37d 0px,#4eac80 25px,#51b17e 29px,#69c174 35px,#95d45e 39px,#b9dc61 41px,#e1e57c 45px,#f1ea8e 53px,#d5e170 63px,#afda5f 77px,#93d45e 86px,#7ccd6b 96px,#52b27e 107px,#48a582 112px,#409586 118px,#0f5991 171px,#104a96 186px,#1d37a0 200px,#2c209a 219px,#2a1977 249px,#2a1a7c 332px)"></i>
<i style="left:435px;height:331.9px;background:linear-gradient(#57b57c 0px,#53b37d 27px,#71c670 34px,#95d45e 37px,#b7dc60 39px,#d5e170 42px,#e3e57e 52px,#d8e272 60px,#bcdd62 70px,#93d45e 84px,#75c96e 98px,#4ba981 111px,#3e9286 121px,#0e5892 173px,#104996 187px,#1e36a0 201px,#2c209a 219px,#2a1977 249px,#2a1a7c 332px)"></i>
<i style="left:436px;height:332.0px;background:linear-gradient(#55b47d 0px,#51b17e 24px,#6dc472 31px,#a0d75f 35px,#bfdd64 37px,#dee479 40px,#efe98b 49px,#d7e271 58px,#adda5f 73px,#95d45e 81px,#73c76f 97px,#51b17e 106px,#409686 116px,#0e5892 171px,#104996 185px,#1e36a0 199px,#2c209a 217px,#2a1977 247px,#2a1a7c 332px)"></i>
<i style="left:437px;height:331.9px;background:linear-gradient(#57b57c 0px,#53b27e 27px,#6fc571 34px,#92d35f 37px,#b4db60 39px,#d3e16f 42px,#e5e680 51px,#d6e271 61px,#b7dc60 73px,#94d45e 84px,#77ca6d 97px,#55b47d 106px,#46a183 113px,#307c88 137px,#0e5892 172px,#114897 187px,#1e36a0 200px,#2c209a 218px,#2a1977 248px,#2a1a7c 332px)"></i>
<i style="left:438px;height:331.9px;background:linear-gradient(#57b57c 0px,#51b17e 26px,#69c174 33px,#96d55e 37px,#b8dc60 39px,#d5e170 42px,#e1e57c 52px,#d6e271 61px,#b6dc60 73px,#94d45e 84px,#72c76f 100px,#49a681 113px,#409686 119px,#317d88 138px,#0e5892 174px,#104a96 187px,#1d37a0 201px,#2c1f98 222px,#2a1977 250px,#2a1a7c 332px)"></i>
<i style="left:439px;height:331.9px;background:linear-gradient(#56b57c 0px,#50b07f 25px,#70c571 33px,#93d45e 36px,#b5db60 38px,#d3e16f 41px,#e0e57b 51px,#d7e271 60px,#b7dc60 72px,#95d45e 83px,#70c571 101px,#55b47d 108px,#46a183 115px,#307c88 139px,#0e5892 174px,#104a96 187px,#1e36a0 202px,#2c209a 220px,#2a1977 250px,#2a1a7c 332px)"></i>
<i style="left:440px;height:331.9px;background:linear-gradient(#5ab77a 0px,#51b17e 21px,#57b57c 25px,#67c074 30px,#75c96e 32px,#9dd65e 35px,#bedd63 37px,#e0e47b 40px,#f2ea8e 49px,#d5e170 59px,#afda5f 73px,#93d45e 82px,#6fc571 100px,#4dac80 110px,#409686 118px,#105a91 170px,#104a96 186px,#1e37a0 200px,#2c1f97 221px,#2a1977 249px,#2a1a7c 332px)"></i>
<i style="left:441px;height:331.9px;background:linear-gradient(#59b77b 0px,#55b47c 22px,#69c174 28px,#96d45e 32px,#b9dc61 34px,#e1e57c 38px,#f1ea8d 46px,#d7e271 56px,#adda5f 71px,#84cf66 86px,#69c174 101px,#4aa781 111px,#409586 118px,#0e5892 172px,#104a96 185px,#1e36a0 200px,#2c209a 218px,#2a1977 248px,#2a1a7c 332px)"></i>
<i style="left:442px;height:331.9px;background:linear-gradient(#57b57c 0px,#52b27e 22px,#6ec472 29px,#9fd75f 33px,#bcdd62 35px,#d3e16f 38px,#d8e272 56px,#b9dc60 68px,#93d45e 80px,#6fc571 98px,#48a582 111px,#409586 117px,#2f7b88 137px,#0e5892 171px,#104a96 184px,#1d37a0 198px,#2c1f98 219px,#2a1977 247px,#2a1a7c 332px)"></i>
<i style="left:443px;height:331.9px;background:linear-gradient(#59b67b 0px,#53b27e 22px,#6ac273 29px,#9ad55e 33px,#badc61 35px,#d6e271 38px,#dce376 47px,#d6e271 57px,#b7dc60 69px,#94d45e 80px,#6bc273 101px,#48a482 113px,#3f9586 119px,#307c88 138px,#0f5991 171px,#104a96 186px,#1e36a0 200px,#2c209a 218px,#2a1977 248px,#2a1a7c 332px)"></i>
<i style="left:444px;height:331.9px;background:linear-gradient(#5bb87a 0px,#52b27e 21px,#67c074 28px,#75c96e 30px,#9cd65e 33px,#bedd63 35px,#e1e57c 38px,#f3eb90 47px,#d3e16f 58px,#adda5f 72px,#86d065 86px,#6cc372 100px,#53b37e 107px,#47a382 113px,#317e88 136px,#0e5892 172px,#104a96 185px,#1e37a0 199px,#2c1f97 220px,#2a1977 248px,#2a1a7c 332px)"></i>
<i style="left:445px;height:331.9px;background:linear-gradient(#59b67b 0px,#51b17e 16px,#57b57c 21px,#6ec472 27px,#a0d75f 31px,#bedd63 33px,#d7e272 36px,#e2e57d 45px,#d6e271 55px,#b7dc60 67px,#94d45e 78px,#66bf75 102px,#47a382 113px,#317e88 136px,#0e5892 172px,#104a96 185px,#1e36a0 199px,#2c209a 217px,#2a1978 247px,#2a1a7c 332px)"></i>
<i style="left:446px;height:331.9px;background:linear-gradient(#58b67b 0px,#52b27e 18px,#6bc273 25px,#9cd65e 29px,#badc61 31px,#d5e170 34px,#d8e272 52px,#b8dc60 65px,#95d45e 76px,#65be76 101px,#49a681 111px,#409686 117px,#317e88 135px,#0e5892 171px,#104a96 184px,#1e36a0 198px,#2c209a 216px,#2a1977 246px,#2a1a7c 332px)"></i>
<i style="left:447px;height:331.9px;background:linear-gradient(#56b57c 0px,#4fae7f 17px,#54b47d 19px,#6bc273 25px,#9bd65e 29px,#bbdd62 31px,#d8e272 34px,#e5e680 44px,#d7e272 53px,#c0dd64 61px,#95d45e 76px,#66bf75 100px,#46a183 112px,#317d88 135px,#0e5892 170px,#104a96 183px,#1e36a0 197px,#2c209a 215px,#2a1977 245px,#2a1a7c 332px)"></i>
<i style="left:448px;height:331.9px;background:linear-gradient(#5ab77a 0px,#51b17e 17px,#61bc77 23px,#6dc372 26px,#9ed65f 30px,#bddd63 32px,#d8e272 35px,#e4e680 44px,#d7e271 54px,#b7dc60 66px,#95d45e 77px,#69c174 99px,#49a681 110px,#409686 116px,#317e88 134px,#0f5991 168px,#104a96 183px,#1e36a0 197px,#2c209a 215px,#2a1977 245px,#2a1a7c 332px)"></i>
<i style="left:449px;height:331.9px;background:linear-gradient(#58b67b 0px,#54b37d 19px,#70c670 26px,#94d45e 29px,#b6dc60 31px,#d4e170 34px,#e4e680 44px,#d8e272 53px,#bbdc61 64px,#94d45e 77px,#69c174 99px,#51b17e 106px,#46a183 112px,#317d88 135px,#0f5991 168px,#104a96 183px,#1e36a0 197px,#2c209a 215px,#2a1977 245px,#2a1a7c 332px)"></i>
<i style="left:450px;height:331.9px;background:linear-gradient(#58b67b 0px,#52b27e 18px,#6ac273 25px,#9ad55e 29px,#badc61 31px,#d7e271 34px,#e0e47b 44px,#d7e271 53px,#b8dc60 65px,#95d45e 76px,#63bd76 102px,#4aa781 111px,#3f9486 119px,#307c88 137px,#0e5892 171px,#104a96 184px,#1e36a0 198px,#2c209a 216px,#2a1977 246px,#2a1a7c 332px)"></i>
<i style="left:451px;height:331.9px;background:linear-gradient(#56b57c 0px,#52b27e 17px,#6ec472 24px,#a0d75f 28px,#bedd63 30px,#d7e272 33px,#e2e57d 42px,#d6e271 52px,#b9dc60 63px,#94d45e 75px,#7acc6c 86px,#61bc77 102px,#48a482 112px,#409586 118px,#2d7988 139px,#0e5892 170px,#104a96 183px,#1e37a0 197px,#2c209a 215px,#2a1977 246px,#2a1a7c 332px)"></i>
<i style="left:452px;height:331.9px;background:linear-gradient(#57b57c 0px,#54b37d 17px,#69c174 23px,#96d55e 27px,#b8dc60 29px,#d5e170 32px,#e0e57b 42px,#d7e271 51px,#b8dc60 63px,#95d45e 74px,#79cc6c 86px,#5eba79 103px,#49a681 111px,#3f9586 118px,#2e7a88 138px,#0e5892 170px,#104a96 183px,#1e36a0 197px,#2c209a 215px,#2a1977 245px,#2a1a7c 332px)"></i>
<i style="left:453px;height:331.9px;background:linear-gradient(#59b77b 0px,#51b17e 17px,#67c074 24px,#75c96e 26px,#9dd65e 29px,#bddd63 31px,#dae374 34px,#e9e785 43px,#b9dc60 64px,#94d45e 76px,#66bf75 100px,#52b27e 106px,#449e84 114px,#307c88 136px,#0f5991 168px,#104996 183px,#1d37a0 196px,#2c1f97 217px,#2a1977 245px,#2a1a7c 332px)"></i>
<i style="left:454px;height:331.9px;background:linear-gradient(#58b67b 0px,#50b07f 17px,#5bb87a 21px,#71c670 26px,#95d45e 29px,#b7dc60 31px,#d4e170 34px,#dde377 44px,#d7e271 53px,#b7dc60 65px,#95d45e 76px,#64be76 101px,#49a681 111px,#3f9586 118px,#2f7b88 137px,#0e5892 170px,#104a96 183px,#1d37a0 196px,#2c1f98 217px,#2a1977 245px,#2a1a7c 332px)"></i>
<i style="left:455px;height:331.9px;background:linear-gradient(#58b67c 0px,#50b07f 16px,#57b57c 20px,#70c571 26px,#93d45f 29px,#b4db60 31px,#d3e16f 34px,#e2e57d 44px,#d7e271 53px,#b8dc60 65px,#95d45e 76px,#69c173 98px,#4caa80 108px,#3e9386 118px,#0e5892 168px,#104a96 181px,#1e36a0 195px,#2c209a 213px,#2a1977 243px,#2a1a7c 332px)"></i>
<i style="left:456px;height:331.9px;background:linear-gradient(#58b67b 0px,#50b07f 17px,#57b57c 20px,#6fc571 26px,#92d35f 29px,#b4db60 31px,#d3e16f 34px,#e4e57f 44px,#d7e271 53px,#bfdd64 61px,#95d45e 76px,#66bf75 100px,#49a682 111px,#3f9586 118px,#307c88 136px,#0e5892 169px,#104a96 182px,#1e36a0 196px,#2c209a 214px,#2a1977 244px,#2a1a7c 332px)"></i>
<i style="left:457px;height:331.9px;background:linear-gradient(#57b57c 0px,#50b07f 17px,#60bb78 22px,#6dc472 25px,#9fd75f 29px,#bfdd64 31px,#dfe47a 34px,#f0ea8c 43px,#dae374 51px,#c0dd64 60px,#95d45e 75px,#63bd76 101px,#46a183 113px,#2f7b88 137px,#0e5892 169px,#104a96 182px,#1e36a0 196px,#2c209a 214px,#2a1977 244px,#2a1a7c 332px)"></i>
<i style="left:458px;height:331.9px;background:linear-gradient(#56b47c 0px,#51b17e 17px,#6dc372 24px,#9ed65f 28px,#bedd63 30px,#dae374 33px,#e9e785 42px,#bfdd64 59px,#95d45e 74px,#65be76 99px,#53b37d 104px,#459f83 112px,#2e7a88 136px,#0f5991 166px,#104a96 180px,#1e36a0 194px,#2c209a 212px,#2a1977 242px,#2a1a7c 332px)"></i>
<i style="left:459px;height:332.9px;background:linear-gradient(#58b67b 0px,#51b17e 13px,#56b57c 18px,#6dc372 24px,#9ed65f 28px,#bddd63 30px,#d8e272 33px,#e4e67f 42px,#d7e271 51px,#bfdd64 59px,#95d45e 74px,#67c074 97px,#4ba981 107px,#3f9486 116px,#2f7b88 134px,#0e5892 166px,#104a96 179px,#1e36a0 193px,#2c1f98 213px,#2a1977 241px,#2a1a7c 332px)"></i>
<i style="left:460px;height:332.4px;background:linear-gradient(#56b57c 0px,#52b27e 17px,#6fc571 24px,#92d35f 27px,#b5db60 29px,#d5e170 32px,#ebe887 41px,#b9dc60 62px,#94d45e 74px,#67c074 97px,#53b37d 103px,#45a083 111px,#2f7b88 134px,#0e5892 166px,#104a96 179px,#1e36a0 193px,#2c1f98 213px,#2a1977 241px,#2a1a7c 332px)"></i>
<i style="left:461px;height:331.9px;background:linear-gradient(#56b57c 0px,#50af7f 14px,#58b67b 17px,#76c96e 23px,#9ed65f 26px,#bddd63 28px,#dae374 31px,#e9e785 40px,#c1de65 56px,#94d45e 72px,#63bd76 98px,#459f83 111px,#1b658c 151px,#0e5892 166px,#104a96 179px,#1d37a0 192px,#2c209a 210px,#2a1978 240px,#2a1a7c 332px)"></i>
<i style="left:462px;height:331.9px;background:linear-gradient(#56b57c 0px,#4fae7f 14px,#62bd77 20px,#73c86f 23px,#99d55e 26px,#bbdd62 28px,#dde377 31px,#efe98b 40px,#d7e271 49px,#bfdd64 57px,#95d45e 72px,#63bd76 98px,#52b27e 103px,#459f83 111px,#307c88 133px,#105a91 163px,#104a96 178px,#1e36a0 192px,#2c209a 210px,#2a1977 240px,#2a1a7c 332px)"></i>
<i style="left:463px;height:331.9px;background:linear-gradient(#55b47d 0px,#4fae7f 15px,#53b37d 18px,#6ac273 24px,#99d55e 28px,#bbdd62 30px,#dae374 33px,#ebe886 42px,#c2de65 58px,#9ad55e 72px,#71c670 91px,#4dab80 103px,#409686 112px,#2f7b88 131px,#0e5892 163px,#104a96 175px,#1e36a0 189px,#2c209a 207px,#2a1977 237px,#2a1a7c 332px)"></i>
<i style="left:464px;height:331.9px;background:linear-gradient(#57b57c 0px,#50af7f 16px,#65bf75 23px,#71c670 25px,#95d45e 28px,#b9dc61 30px,#e3e57e 34px,#f4eb90 42px,#d7e271 51px,#c5de67 57px,#95d45e 74px,#6ac273 95px,#48a482 108px,#2f7b88 133px,#105a91 162px,#104a96 177px,#1e36a0 191px,#2c209a 209px,#2a1977 239px,#2a1a7c 332px)"></i>
<i style="left:465px;height:331.9px;background:linear-gradient(#55b47d 0px,#4fae7f 15px,#63bd76 21px,#6cc372 23px,#9ed65f 27px,#c9df69 30px,#dfe47a 32px,#f0ea8c 41px,#d5e170 50px,#afda5f 64px,#93d45e 73px,#6fc571 91px,#50b07f 101px,#3c9086 116px,#1a648c 148px,#0e5892 162px,#104a96 175px,#1d37a0 188px,#2c209a 206px,#2a1977 237px,#2a1a7c 332px)"></i>
<i style="left:466px;height:331.9px;background:linear-gradient(#55b47d 0px,#4fad7f 14px,#52b27e 16px,#71c670 23px,#96d45e 26px,#b8dc60 28px,#d6e271 31px,#e5e680 40px,#d6e271 49px,#c1de65 56px,#9ad55e 70px,#77ca6d 85px,#52b27e 96px,#3e9386 110px,#1a648c 144px,#0e5892 158px,#104a96 171px,#1d37a0 184px,#2c209a 202px,#2a1977 232px,#2a1a7c 332px)"></i>
<i style="left:467px;height:332.5px;background:linear-gradient(#55b47c 0px,#4fae7f 14px,#53b37e 16px,#6ac173 22px,#98d55e 26px,#b9dc61 28px,#d6e271 31px,#e1e57c 40px,#d8e272 48px,#b9dc60 60px,#94d45e 72px,#75c96e 86px,#51b17e 97px,#409586 109px,#0f5991 157px,#104a96 171px,#1e36a0 185px,#2c1f97 205px,#2a1977 233px,#2a1a7c 332px)"></i>
<i style="left:468px;height:332.7px;background:linear-gradient(#56b57c 0px,#50af7f 15px,#61bc77 21px,#70c571 24px,#93d45e 27px,#b7dc60 29px,#dee478 33px,#eee98a 41px,#d3e16f 51px,#add95f 65px,#94d45e 73px,#7bcc6c 84px,#51b17e 97px,#409586 109px,#0e5892 158px,#104a96 171px,#1d37a0 184px,#2c209a 202px,#2a1977 232px,#2a1a7c 332px)"></i>
<i style="left:469px;height:331.9px;background:linear-gradient(#58b67b 0px,#51b07e 15px,#64be76 21px,#6dc472 23px,#9fd75f 27px,#bedd63 29px,#dbe375 32px,#ebe887 40px,#bfdd64 57px,#9bd55e 70px,#79cc6c 84px,#50b07f 98px,#409686 109px,#2d7988 129px,#0e5892 159px,#104a96 171px,#1e36a0 185px,#2c1f97 205px,#2a1977 233px,#2a1a7c 332px)"></i>
<i style="left:470px;height:331.9px;background:linear-gradient(#59b67b 0px,#51b17e 16px,#5ab77a 19px,#68c074 23px,#77ca6d 25px,#a0d75f 28px,#d2e16e 32px,#e5e680 41px,#d6e271 50px,#c1de65 57px,#9ad55e 71px,#75c96e 87px,#4ead7f 100px,#409686 110px,#317d88 127px,#0f5991 158px,#104a96 172px,#1d37a0 185px,#2c209a 203px,#2a1977 233px,#2a1a7c 332px)"></i>
<i style="left:471px;height:331.9px;background:linear-gradient(#5ab77b 0px,#53b37d 17px,#6ac273 24px,#9ad55e 28px,#b9dc61 30px,#d4e170 33px,#d8e272 49px,#b8dc60 62px,#95d45e 73px,#7acc6c 84px,#4fae7f 98px,#2f7b88 127px,#0e5892 158px,#104a96 170px,#1e36a0 184px,#2c1f98 204px,#2a1977 232px,#2a1a7c 332px)"></i>
<i style="left:472px;height:331.9px;background:linear-gradient(#5bb87a 0px,#52b27e 17px,#6ac173 25px,#99d55e 29px,#b8dc60 31px,#d3e16f 34px,#d8e272 50px,#b8dc60 63px,#95d45e 74px,#78cb6d 87px,#50b07f 100px,#3c8f86 116px,#0e5892 160px,#104a96 173px,#1e37a0 186px,#2c209a 204px,#2a1977 234px,#2a1a7c 332px)"></i>
<i style="left:473px;height:331.9px;background:linear-gradient(#5ab77b 0px,#51b17e 18px,#69c173 26px,#96d55e 30px,#b9dc60 32px,#d7e271 35px,#e9e784 43px,#c0dd64 60px,#9bd65e 73px,#7acc6c 86px,#51b17e 99px,#409686 111px,#2f7b88 129px,#0e5892 160px,#104a96 172px,#1e36a0 186px,#2c1f97 206px,#2a1977 234px,#2a1a7c 332px)"></i>
<i style="left:474px;height:331.9px;background:linear-gradient(#5bb87a 0px,#52b27e 18px,#69c174 26px,#95d45e 30px,#b8dc60 32px,#d7e271 35px,#ece888 44px,#c0dd64 60px,#9bd65e 73px,#78cb6d 88px,#50b07f 101px,#3f9586 113px,#317d88 129px,#0e5892 161px,#104996 174px,#1e36a0 187px,#2c1f98 207px,#2a1977 235px,#2a1a7c 332px)"></i>
<i style="left:475px;height:331.9px;background:linear-gradient(#5cb87a 0px,#52b27e 17px,#69c174 25px,#79cb6d 27px,#a3d75f 30px,#c1de65 32px,#dde478 35px,#ede889 43px,#d1e16e 53px,#aeda5f 66px,#95d45e 74px,#78cb6d 87px,#51b17e 99px,#3f9486 112px,#105a91 157px,#104a96 172px,#1e36a0 186px,#2c1f97 206px,#2a1977 234px,#2a1a7c 332px)"></i>
<i style="left:476px;height:331.9px;background:linear-gradient(#5db979 0px,#54b37d 18px,#6ac273 26px,#9ad55e 30px,#b9dc61 32px,#d5e170 35px,#d8e272 51px,#b9dc60 63px,#94d45e 75px,#7acc6c 84px,#4ead7f 98px,#409586 108px,#0f5991 155px,#104a96 169px,#1e36a0 183px,#2c1f98 203px,#2a1977 231px,#2a1a7c 332px)"></i>
<i style="left:477px;height:331.9px;background:linear-gradient(#5eb979 0px,#54b37d 18px,#69c174 26px,#93d45e 30px,#b7dc60 32px,#dfe479 36px,#eee98a 44px,#d7e271 52px,#adda5f 67px,#90d360 77px,#51b17e 94px,#3c9086 109px,#1a648c 140px,#0e5892 154px,#104a96 167px,#1d37a0 180px,#2c209a 198px,#2a1977 229px,#2a1a7c 332px)"></i>
<i style="left:478px;height:331.9px;background:linear-gradient(#5cb979 0px,#53b37d 17px,#68c074 24px,#76c96e 26px,#9ed65f 29px,#bcdd62 31px,#d7e271 34px,#e0e47b 42px,#d7e272 50px,#b8dc60 62px,#95d45e 73px,#7fce69 79px,#4fae7f 93px,#3f9486 104px,#2f7b88 121px,#0e5892 152px,#104a96 165px,#1d37a0 178px,#2c1f97 199px,#2a1977 227px,#2a1a7c 332px)"></i>
<i style="left:479px;height:331.9px;background:linear-gradient(#60bb78 0px,#56b57c 18px,#68c074 26px,#77ca6d 28px,#9fd75f 31px,#bedd63 33px,#dae375 36px,#e9e785 44px,#d7e271 52px,#b8dc60 64px,#98d55e 71px,#7acc6c 77px,#53b27e 88px,#3f9586 100px,#1a648c 134px,#0f5991 147px,#104a96 161px,#1e36a0 175px,#2c209a 193px,#2a1977 223px,#2a1a7c 332px)"></i>
<i style="left:480px;height:331.9px;background:linear-gradient(#5eba79 0px,#55b47d 18px,#6ac273 26px,#9ad55e 30px,#bbdd62 32px,#dae374 35px,#eae786 43px,#d2e16e 53px,#b5db60 64px,#9dd65e 68px,#78cb6d 75px,#51b17e 86px,#3f9586 97px,#1a648c 131px,#0f5991 144px,#104996 159px,#1d37a0 172px,#2c1f97 193px,#2a1977 221px,#2a1a7c 332px)"></i>
<i style="left:481px;height:331.9px;background:linear-gradient(#61bb77 0px,#57b57c 19px,#69c173 27px,#95d45e 31px,#b6dc60 33px,#d4e16f 36px,#dde377 45px,#d3e16f 53px,#b8dc60 60px,#98d55e 65px,#79cb6d 71px,#53b37d 81px,#409686 92px,#1b658c 126px,#0e5892 141px,#104a96 154px,#1e37a0 168px,#2c1f97 189px,#2a1977 217px,#2a1a7c 332px)"></i>
<i style="left:482px;height:331.9px;background:linear-gradient(#5eba79 0px,#54b47d 19px,#5fbb78 24px,#75c96e 29px,#9cd65e 32px,#bbdd62 34px,#d7e271 37px,#dfe47a 45px,#d8e272 51px,#b9dc61 59px,#98d55e 64px,#78cb6d 70px,#52b27e 80px,#3f9586 91px,#19638c 126px,#0e5892 140px,#104a96 153px,#1e36a0 167px,#2c1f97 188px,#2a1977 215px,#2a1a7c 332px)"></i>
<i style="left:483px;height:331.9px;background:linear-gradient(#61bc77 0px,#59b77b 21px,#6ac273 28px,#99d55e 32px,#b8dc60 34px,#d3e16f 37px,#d7e272 52px,#b8dc60 60px,#96d45e 65px,#76ca6e 71px,#53b37e 80px,#3f9586 91px,#1a648c 125px,#0e5892 140px,#104a96 153px,#1e36a0 167px,#2c1f97 188px,#2a1977 216px,#2a1a7c 332px)"></i>
<i style="left:484px;height:331.9px;background:linear-gradient(#5eba79 0px,#57b57c 22px,#6cc372 29px,#9dd65e 33px,#bbdd62 35px,#d6e271 38px,#dce376 46px,#d5e170 53px,#b9dc61 60px,#97d55e 65px,#76ca6e 71px,#52b27e 80px,#3f9486 91px,#1b658c 124px,#0f5991 138px,#104a96 153px,#1e36a0 167px,#2c1f97 188px,#2a1977 215px,#2a1a7c 332px)"></i>
<i style="left:485px;height:331.9px;background:linear-gradient(#5db979 0px,#55b47d 21px,#6ec472 29px,#a0d75f 33px,#bcdd62 35px,#d4e170 38px,#d8e272 53px,#b8dc60 62px,#93d45e 67px,#50b07f 82px,#3f9486 92px,#1b658c 125px,#0f5991 139px,#104a96 154px,#1e36a0 168px,#2c1f97 189px,#2a1977 217px,#2a1a7c 332px)"></i>
<i style="left:486px;height:331.9px;background:linear-gradient(#5bb87a 0px,#52b27e 19px,#68c074 27px,#77ca6e 29px,#9fd65f 32px,#bedd63 34px,#dbe375 37px,#eae785 44px,#badc61 63px,#96d55e 68px,#79cc6c 73px,#50b07f 83px,#409586 92px,#1c668c 125px,#0e5892 141px,#104a96 155px,#1e36a0 169px,#2c1f97 190px,#2a1977 218px,#2a1a7c 332px)"></i>
<i style="left:487px;height:331.9px;background:linear-gradient(#5bb87a 0px,#52b27e 18px,#69c174 26px,#94d45e 30px,#b7dc60 32px,#d5e170 35px,#e6e682 43px,#b7dc60 63px,#9ad55e 67px,#76ca6e 73px,#50b07f 82px,#3f9586 91px,#19638c 126px,#0e5892 140px,#104a96 154px,#1e36a0 168px,#2c1f97 189px,#2a1977 217px,#2a1a7c 332px)"></i>
<i style="left:488px;height:331.9px;background:linear-gradient(#5db979 0px,#54b37d 19px,#69c173 27px,#97d55e 31px,#badc61 33px,#d9e273 36px,#eee98a 44px,#d3e16f 53px,#add95f 67px,#96d45e 70px,#78cb6d 75px,#4fae7f 85px,#409686 93px,#1b658c 127px,#105a91 140px,#104a96 156px,#1e36a0 171px,#2c209a 189px,#2a1977 219px,#2a1a7c 332px)"></i>
<i style="left:489px;height:331.9px;background:linear-gradient(#5cb87a 0px,#52b27e 19px,#69c174 27px,#95d45e 31px,#b8dc60 33px,#d6e271 36px,#e9e785 44px,#d3e16f 53px,#b7dc60 64px,#9bd65e 70px,#78cb6d 76px,#52b27e 85px,#409586 95px,#1c668c 128px,#0e5892 144px,#104996 158px,#1e36a0 172px,#2c1f97 193px,#2a1977 220px,#2a1a7c 332px)"></i>
<i style="left:490px;height:331.9px;background:linear-gradient(#5cb87a 0px,#52b27e 20px,#63bd76 26px,#69c173 28px,#96d55e 32px,#b8dc60 34px,#d5e170 37px,#dfe479 45px,#d6e271 53px,#b9dc60 64px,#98d55e 74px,#77ca6d 80px,#50b07f 90px,#3f9486 100px,#1b658c 133px,#0f5991 147px,#104996 162px,#1e36a0 176px,#2c209a 194px,#2a1977 224px,#2a1a7c 332px)"></i>
<i style="left:491px;height:331.9px;background:linear-gradient(#5ab77b 0px,#51b17e 19px,#56b57c 24px,#6ac273 30px,#99d55e 34px,#badc61 36px,#d9e273 39px,#e8e784 47px,#c0dd64 62px,#9bd65e 75px,#7acc6c 83px,#52b27e 93px,#409686 103px,#1a648c 138px,#0f5991 151px,#104996 166px,#1e36a0 180px,#2c1f98 200px,#2a1977 228px,#2a1a7c 332px)"></i>
<i style="left:492px;height:331.9px;background:linear-gradient(#5cb979 0px,#53b37d 21px,#58b67b 24px,#6ac173 30px,#98d55e 34px,#b9dc61 36px,#d6e271 39px,#e1e57c 47px,#d7e272 54px,#c0dd64 62px,#95d45e 77px,#80ce69 83px,#4fae7f 96px,#3c9086 109px,#1a648c 140px,#0e5892 154px,#104a96 167px,#1e36a0 181px,#2c209a 199px,#2a1977 229px,#2a1a7c 332px)"></i>
<i style="left:493px;height:331.9px;background:linear-gradient(#5cb87a 0px,#52b27e 22px,#68c174 30px,#78cb6d 32px,#a2d75f 35px,#c0dd64 37px,#dce376 40px,#ece887 47px,#d5e170 55px,#afda5f 69px,#93d45e 78px,#52b17e 95px,#3f9586 106px,#0f5991 153px,#104a96 167px,#1e36a0 181px,#2c209a 199px,#2a1977 229px,#2a1a7c 332px)"></i>
<i style="left:494px;height:331.9px;background:linear-gradient(#5db979 0px,#56b57c 25px,#6bc373 32px,#9cd65e 36px,#bcdd62 38px,#dae274 41px,#e9e785 48px,#c3de66 62px,#9cd65e 76px,#53b37d 95px,#3f9586 107px,#19638c 142px,#0e5892 155px,#104a96 168px,#1d37a0 181px,#2c1f97 202px,#2a1977 230px,#2a1a7c 332px)"></i>
<i style="left:495px;height:331.9px;background:linear-gradient(#5bb87a 0px,#53b37d 25px,#6fc571 33px,#92d35f 36px,#b2db60 38px,#d1e16e 41px,#dbe375 49px,#d7e271 56px,#a7d85f 73px,#94d45e 76px,#78cb6d 82px,#4ead7f 95px,#3f9586 105px,#317d88 121px,#0e5892 153px,#104a96 166px,#1e36a0 179px,#2c209a 197px,#2a1977 227px,#2a1a7c 332px)"></i>
<i style="left:496px;height:332.2px;background:linear-gradient(#5db979 0px,#57b57c 27px,#6dc472 34px,#9fd65f 38px,#bedd63 40px,#d8e272 43px,#e5e680 50px,#b7dc60 69px,#9cd65e 74px,#7ecd6a 80px,#54b47d 92px,#3f9586 105px,#19638c 140px,#0e5892 153px,#104b96 165px,#1e36a0 179px,#2c1f97 199px,#2a1977 227px,#2a1a7c 332px)"></i>
<i style="left:497px;height:332.2px;background:linear-gradient(#5cb979 0px,#53b37d 24px,#58b67b 28px,#6ac173 34px,#98d55e 38px,#badc61 40px,#d7e272 43px,#e6e682 50px,#b5db60 70px,#99d55e 75px,#75c96e 83px,#54b47d 93px,#3f9486 107px,#0e5892 154px,#104b96 166px,#1e36a0 180px,#2c209a 197px,#2a1977 227px,#2a1a7c 332px)"></i>
<i style="left:498px;height:332.4px;background:linear-gradient(#60bb78 0px,#57b57c 25px,#68c174 33px,#77ca6d 35px,#a0d75f 38px,#bedd63 40px,#d1e16e 42px,#e2e57c 50px,#b9dc60 68px,#93d45e 78px,#79cc6c 84px,#4dac80 99px,#409586 109px,#307c88 126px,#0e5892 157px,#104a96 169px,#1e36a0 182px,#2c1f98 202px,#2a1977 230px,#2a1a7c 332px)"></i>
<i style="left:499px;height:332.5px;background:linear-gradient(#5fba78 0px,#55b47d 23px,#65bf75 30px,#76ca6e 33px,#9fd65f 36px,#bedd63 38px,#dde478 41px,#ede889 48px,#d8e272 54px,#afda5f 69px,#94d45e 75px,#52b27e 94px,#409586 107px,#1c668c 140px,#0e5892 155px,#104a96 167px,#1e36a0 180px,#2c209a 197px,#2a1977 227px,#2a1a7c 332px)"></i>
<i style="left:500px;height:332.0px;background:linear-gradient(#5cb979 0px,#53b37e 26px,#68c074 34px,#77ca6d 36px,#a0d75f 39px,#c0dd64 41px,#e2e57d 44px,#f3eb8f 50px,#d7e272 57px,#acd95f 71px,#92d35f 76px,#79cb6c 82px,#54b37d 94px,#307c88 125px,#0e5892 156px,#104996 168px,#1d37a0 180px,#2c209a 198px,#2a1977 228px,#2a1a7c 332px)"></i>
<i style="left:501px;height:332.1px;background:linear-gradient(#5cb979 0px,#54b37d 27px,#6ec471 35px,#a1d75f 39px,#bedd63 41px,#d7e272 44px,#e2e57d 50px,#b9dc61 68px,#97d55e 75px,#7acc6c 82px,#4fae7f 97px,#307c88 126px,#0e5892 157px,#104a96 168px,#1e36a0 181px,#2c209a 198px,#2a1977 228px,#2a1a7c 332px)"></i>
<i style="left:502px;height:331.9px;background:linear-gradient(#5ab77a 0px,#51b17e 24px,#6ac173 32px,#97d55e 36px,#b9dc60 38px,#d6e271 41px,#e1e57c 48px,#d8e272 54px,#c0dd64 62px,#96d45e 77px,#51b17e 99px,#2f7b88 130px,#0e5892 160px,#104a96 171px,#1e36a0 184px,#2c209a 201px,#2a1977 231px,#2a1a7c 332px)"></i>
<i style="left:503px;height:331.9px;background:linear-gradient(#59b67b 0px,#52b27e 30px,#69c173 37px,#97d55e 41px,#b6db60 43px,#d1e16e 46px,#d7e272 59px,#b8dc60 71px,#94d45e 78px,#52b27e 98px,#409586 112px,#0e5892 159px,#104a96 171px,#1e37a0 183px,#27289c 191px,#2c1f97 203px,#2a1977 231px,#2a1a7c 332px)"></i>
<i style="left:504px;height:332.0px;background:linear-gradient(#58b67b 0px,#52b27e 32px,#6ac273 39px,#99d55e 43px,#badc61 45px,#d7e272 48px,#e4e67f 54px,#b9dc61 72px,#9cd65e 78px,#7acc6c 86px,#51b17e 100px,#2e7a88 132px,#0e5892 161px,#104a96 172px,#1e36a0 185px,#2c209a 202px,#2a1977 232px,#2a1a7c 332px)"></i>
<i style="left:505px;height:332.5px;background:linear-gradient(#56b47c 0px,#51b17e 31px,#6bc273 38px,#9cd65e 42px,#bbdd62 44px,#d7e271 47px,#e1e57c 53px,#bcdd62 69px,#94d45e 82px,#52b27e 102px,#409586 116px,#0e5892 163px,#104996 175px,#1e36a0 187px,#2c209a 204px,#2a1977 234px,#2a1a7c 332px)"></i>
<i style="left:506px;height:332.2px;background:linear-gradient(#56b57c 0px,#51b17e 31px,#6ac273 38px,#99d55e 42px,#b8dc60 44px,#d3e16f 47px,#d8e272 59px,#b8dc60 71px,#94d45e 81px,#52b27e 101px,#307c88 132px,#0e5892 162px,#104996 174px,#1e36a0 186px,#2c209a 203px,#2a1977 233px,#2a1a7c 332px)"></i>
<i style="left:507px;height:331.9px;background:linear-gradient(#58b67b 0px,#52b27e 30px,#6bc273 37px,#9ad55e 41px,#bbdd62 43px,#d9e273 46px,#e8e784 52px,#c0dd64 66px,#9bd65e 79px,#7acc6c 90px,#51b17e 104px,#2e7a88 136px,#0e5892 165px,#104a96 176px,#1e36a0 188px,#2c209a 205px,#2a1977 236px,#2a1a7c 332px)"></i>
<i style="left:508px;height:331.9px;background:linear-gradient(#56b57c 0px,#4fae7f 30px,#53b37d 32px,#69c174 38px,#96d45e 42px,#b9dc60 44px,#d7e271 47px,#ece888 53px,#d1e16e 61px,#aeda5f 74px,#95d45e 82px,#79cc6c 91px,#51b17e 105px,#2f7b88 136px,#0f5991 164px,#104a96 177px,#1e36a0 189px,#2c209a 206px,#2a1977 236px,#2a1a7c 332px)"></i>
<i style="left:509px;height:331.9px;background:linear-gradient(#55b47c 0px,#52b27e 33px,#68c074 39px,#92d35f 43px,#b2db60 45px,#d1e16e 48px,#dee478 54px,#d8e272 60px,#b8dc60 72px,#96d45e 83px,#7fce69 92px,#52b27e 107px,#2d7988 140px,#0e5892 168px,#104a96 179px,#1e37a0 191px,#2c209a 208px,#2a1978 238px,#2a1a7c 332px)"></i>
<i style="left:510px;height:331.9px;background:linear-gradient(#58b67b 0px,#53b27e 34px,#6bc273 41px,#9bd65e 45px,#bbdd62 47px,#d7e271 50px,#e1e57c 56px,#bbdc61 72px,#93d45e 85px,#83cf67 92px,#50b07f 109px,#2d7988 141px,#0e5892 169px,#104a96 180px,#1e36a0 192px,#2c209a 209px,#2a1977 239px,#2a1a7c 332px)"></i>
<i style="left:511px;height:331.9px;background:linear-gradient(#5ab77a 0px,#51b17e 32px,#6ac273 40px,#9ad55e 44px,#badc61 46px,#d6e271 49px,#dbe375 55px,#d8e272 60px,#b8dc60 72px,#93d45e 84px,#78cb6d 96px,#51b17e 110px,#2f7b88 141px,#0e5892 170px,#104a96 181px,#1e36a0 193px,#2c209a 210px,#2a1977 240px,#2a1a7c 332px)"></i>
<i style="left:512px;height:331.9px;background:linear-gradient(#59b77b 0px,#52b27e 33px,#69c174 40px,#94d45e 44px,#b8dc60 46px,#d6e271 49px,#ede889 55px,#d9e273 60px,#c7df68 66px,#9dd65e 81px,#76c96e 98px,#51b17e 111px,#2f7b88 142px,#0e5892 171px,#104a96 182px,#1e36a0 194px,#2c209a 211px,#2a1977 241px,#2a1a7c 332px)"></i>
<i style="left:513px;height:332.0px;background:linear-gradient(#57b57c 0px,#52b27e 34px,#6dc372 41px,#9ed65f 45px,#bcdd62 47px,#d4e170 50px,#d8e272 60px,#b8dc60 73px,#95d45e 84px,#76ca6e 98px,#51b17e 113px,#2f7b88 144px,#0e5892 173px,#104a96 184px,#1e36a0 196px,#2c209a 213px,#2a1977 243px,#2a1a7c 332px)"></i>
<i style="left:514px;height:331.9px;background:linear-gradient(#5ab77a 0px,#51b17e 35px,#6ac273 43px,#9ad55e 47px,#badc61 49px,#d7e271 52px,#e1e57c 58px,#c0dd64 71px,#96d45e 86px,#75c96e 101px,#52b27e 113px,#307c88 144px,#0e5892 174px,#104996 185px,#1e35a0 197px,#26299d 203px,#2c1f97 216px,#2a1977 244px,#2a1a7c 332px)"></i>
<i style="left:515px;height:331.9px;background:linear-gradient(#59b77b 0px,#51b17e 36px,#6dc472 44px,#a0d75f 48px,#cbdf6a 51px,#e3e57f 53px,#f4eb91 58px,#d7e271 64px,#b7dc60 76px,#95d45e 87px,#6fc571 105px,#50b07f 116px,#2d7988 148px,#0e5892 175px,#104a96 186px,#1e36a0 198px,#2c209a 215px,#2a1977 245px,#2a1a7c 332px)"></i>
<i style="left:516px;height:332.2px;background:linear-gradient(#5ab77a 0px,#53b37d 35px,#69c173 42px,#96d55e 46px,#b9dc60 48px,#d6e271 51px,#e5e681 57px,#c3de66 69px,#9cd65e 83px,#73c86f 101px,#51b17e 113px,#2f7b88 144px,#0e5892 173px,#104a96 184px,#1e35a0 196px,#2c1f97 215px,#2a1977 243px,#2a1a7c 332px)"></i>
<i style="left:517px;height:332.9px;background:linear-gradient(#59b77b 0px,#52b27e 37px,#69c174 44px,#94d45e 48px,#b7dc60 50px,#d6e271 53px,#eae786 59px,#d9e273 64px,#c7df68 70px,#9dd65e 85px,#6fc571 106px,#51b17e 117px,#2f7b88 148px,#0e5892 177px,#104b96 187px,#1e37a0 199px,#2c209a 216px,#2a1977 246px,#2a1a7c 332px)"></i>
<i style="left:518px;height:332.9px;background:linear-gradient(#5ab77a 0px,#51b17e 36px,#6ac173 44px,#98d55e 48px,#b9dc61 50px,#d6e271 53px,#e3e57e 59px,#bcdd62 74px,#9cd65e 85px,#78cb6d 100px,#51b17e 114px,#2f7b88 145px,#0e5892 174px,#104b96 184px,#1e37a0 196px,#2c209a 213px,#2a1977 243px,#2a1a7c 332px)"></i>
<i style="left:519px;height:333.2px;background:linear-gradient(#5bb87a 0px,#53b37d 39px,#69c174 46px,#95d45e 50px,#b5db60 52px,#d2e16f 55px,#d9e273 63px,#d6e271 67px,#b6dc60 79px,#94d45e 90px,#7acc6c 101px,#52b27e 115px,#327f88 144px,#0e5892 175px,#104a96 186px,#1e35a0 198px,#26299d 204px,#2c1f97 217px,#2a1977 245px,#2a1a7c 332px)"></i>
<i style="left:520px;height:332.9px;background:linear-gradient(#5bb87a 0px,#53b37d 38px,#69c174 45px,#79cb6c 47px,#a3d75f 50px,#b5db60 51px,#d4e170 54px,#e5e680 60px,#c1de65 73px,#9dd65e 86px,#76c96e 103px,#51b17e 116px,#2f7b88 147px,#0e5892 176px,#104b96 186px,#1e36a0 198px,#2c209a 215px,#2a1977 245px,#2a1a7c 332px)"></i>
<i style="left:521px;height:332.4px;background:linear-gradient(#5bb87a 0px,#52b27e 40px,#6dc372 48px,#9ed65f 52px,#bddd63 54px,#dbe375 57px,#e9e785 62px,#d7e271 68px,#bfdd64 76px,#9bd65e 89px,#75c96e 106px,#4fae7f 120px,#307c88 149px,#0e5892 178px,#104a96 189px,#1e36a0 201px,#2c1f98 220px,#2a1977 248px,#2a1a7c 332px)"></i>
<i style="left:522px;height:331.9px;background:linear-gradient(#5db979 0px,#53b37e 42px,#6ac273 50px,#99d55e 54px,#b9dc61 56px,#d5e170 59px,#dbe375 65px,#d8e272 70px,#b8dc60 82px,#96d45e 93px,#7bcc6c 104px,#52b27e 118px,#327f88 147px,#0e5892 178px,#104a96 189px,#1e36a0 201px,#2c209a 218px,#2a1977 248px,#2a1a7c 332px)"></i>
<i style="left:523px;height:331.9px;background:linear-gradient(#5bb87a 0px,#52b27e 43px,#6cc372 51px,#9ed65f 55px,#bddd63 57px,#dae374 60px,#e9e784 65px,#d7e271 71px,#bfdd64 79px,#9bd65e 92px,#79cc6c 106px,#52b27e 120px,#3f9486 135px,#0e5892 180px,#104a96 191px,#1e36a0 203px,#2c209a 220px,#2a1977 250px,#2a1a7c 332px)"></i>
<i style="left:524px;height:331.9px;background:linear-gradient(#5ab77a 0px,#52b27e 43px,#6cc372 51px,#9dd65f 55px,#bedd63 57px,#dfe47a 60px,#f0e98c 65px,#d7e272 71px,#aeda5f 86px,#95d45e 94px,#7acc6c 106px,#50b07f 121px,#2d7988 153px,#0e5892 180px,#104a96 191px,#1e36a0 203px,#2c209a 220px,#2a1977 250px,#2a1a7c 332px)"></i>
<i style="left:525px;height:331.9px;background:linear-gradient(#5db979 0px,#56b57c 42px,#6ac173 49px,#99d55e 53px,#bbdd62 55px,#dce377 58px,#eee98a 64px,#d8e272 69px,#afda5f 84px,#93d45e 93px,#72c770 109px,#4fae7f 122px,#307c88 151px,#0e5892 181px,#104996 192px,#1d37a0 203px,#2c209a 220px,#2a1978 250px,#2a1a7c 332px)"></i>
<i style="left:526px;height:331.9px;background:linear-gradient(#5eba79 0px,#55b47d 39px,#6dc472 47px,#9fd65f 51px,#bcdd62 53px,#d4e170 56px,#d8e272 66px,#b7dc60 79px,#95d45e 90px,#78cb6d 103px,#4fae7f 119px,#307c88 148px,#0e5892 178px,#104a96 189px,#1e35a0 201px,#2c1f97 220px,#2a1977 248px,#2a1a7c 332px)"></i>
<i style="left:527px;height:331.9px;background:linear-gradient(#5fba78 0px,#56b57c 44px,#6dc372 52px,#9ed65f 56px,#bcdd62 58px,#d6e271 61px,#dbe375 67px,#d7e271 72px,#b8dc60 84px,#95d45e 95px,#50af7f 118px,#2e7a88 149px,#0e5892 177px,#104a96 188px,#1e37a0 200px,#2c209a 217px,#2a1977 247px,#2a1a7c 332px)"></i>
<i style="left:528px;height:331.9px;background:linear-gradient(#5eba78 0px,#55b47d 44px,#6ac173 52px,#97d55e 56px,#b7dc60 58px,#d3e16f 61px,#d8e272 72px,#b9dc60 84px,#96d45e 95px,#50b07f 117px,#317d88 146px,#0e5892 177px,#104996 188px,#1e35a0 200px,#2c1f97 219px,#2a1977 247px,#2a1a7c 332px)"></i>
<i style="left:529px;height:332.3px;background:linear-gradient(#5bb87a 0px,#53b37e 43px,#69c174 50px,#93d45e 54px,#b7dc60 56px,#dfe47a 60px,#efe98b 65px,#d9e273 70px,#add95f 86px,#92d35f 95px,#54b37d 115px,#3f9586 130px,#0f5991 175px,#104b96 187px,#1e35a0 200px,#2c1f97 219px,#2a1977 247px,#2a1a7c 332px)"></i>
<i style="left:530px;height:331.9px;background:linear-gradient(#5cb87a 0px,#53b27e 45px,#6bc273 53px,#9cd65e 57px,#bcdd62 59px,#dbe376 62px,#ebe887 67px,#d7e272 73px,#c0dd64 81px,#9bd65e 93px,#7acc6c 101px,#51b17e 115px,#2f7b88 146px,#0e5892 175px,#104b96 186px,#1e35a0 199px,#2c1f97 218px,#2a1977 246px,#2a1a7c 332px)"></i>
<i style="left:531px;height:331.9px;background:linear-gradient(#60bb78 0px,#59b77b 17px,#5bb87a 48px,#6ac173 54px,#97d55e 58px,#badc61 60px,#d8e272 63px,#ece888 69px,#d0e06d 77px,#acd95f 90px,#91d35f 97px,#53b37d 116px,#3f9486 131px,#0e5892 177px,#104b96 188px,#1d37a0 200px,#27289c 208px,#2c1f97 220px,#2a1977 248px,#2a1a7c 332px)"></i>
<i style="left:532px;height:331.9px;background:linear-gradient(#62bd77 0px,#5ab77a 47px,#69c173 54px,#95d45e 58px,#b6dc60 60px,#d3e16f 63px,#dce376 70px,#d7e272 75px,#b7dc60 87px,#93d45e 94px,#50b07f 115px,#317d88 144px,#0e5892 175px,#104a96 186px,#1e36a0 198px,#2c209a 215px,#2a1977 245px,#2a1a7c 332px)"></i>
<i style="left:533px;height:331.9px;background:linear-gradient(#61bc77 0px,#58b67b 47px,#6dc472 55px,#9ed65f 59px,#bcdd62 61px,#d5e170 64px,#d9e273 72px,#d7e271 76px,#b7dc60 87px,#98d55e 93px,#7bcc6c 100px,#50af7f 115px,#2e7a88 146px,#0e5892 175px,#104a96 186px,#1e36a0 198px,#2c209a 215px,#2a1977 245px,#2a1a7c 332px)"></i>
<i style="left:534px;height:331.9px;background:linear-gradient(#66bf75 0px,#5cb979 43px,#66bf75 53px,#6ac273 55px,#99d55e 59px,#badc61 61px,#d8e272 64px,#e6e682 70px,#b9dc61 86px,#9bd65e 92px,#79cc6c 100px,#53b27e 113px,#409586 127px,#0e5892 174px,#104996 186px,#1e36a0 198px,#2c209a 215px,#2a1977 245px,#2a1a7c 332px)"></i>
<i style="left:535px;height:331.9px;background:linear-gradient(#66bf75 0px,#5db979 44px,#68c174 51px,#6ac273 52px,#9ad55e 56px,#bbdd62 58px,#d8e272 61px,#e6e682 67px,#c2de65 81px,#b4db60 87px,#9ad55e 93px,#78cb6d 101px,#52b27e 114px,#317d88 144px,#0e5892 175px,#104b96 186px,#1e35a0 199px,#2c1f98 218px,#2a1977 246px,#2a1a7c 332px)"></i>
<i style="left:536px;height:331.9px;background:linear-gradient(#66bf75 0px,#5db979 41px,#69c174 49px,#78cb6d 51px,#92d35f 53px,#b2db60 55px,#d1e16e 58px,#dde377 65px,#d6e271 72px,#b7dc60 84px,#94d45e 95px,#7dcd6a 104px,#52b27e 118px,#3e9286 134px,#0e5892 179px,#104a96 191px,#1e36a0 203px,#2c209a 220px,#2a1977 250px,#2a1a7c 332px)"></i>
<i style="left:537px;height:331.9px;background:linear-gradient(#68c174 0px,#5fbb78 37px,#68c074 49px,#71c670 51px,#95d45e 54px,#b7dc60 56px,#d5e170 59px,#e7e783 66px,#c2de65 80px,#9ad55e 94px,#7bcc6c 107px,#51b17e 121px,#2f7b88 152px,#0e5892 182px,#104a96 193px,#1e35a0 206px,#2c1f98 225px,#2a1977 253px,#2a1a7c 332px)"></i>
<i style="left:538px;height:331.9px;background:linear-gradient(#6ac173 0px,#60bb77 40px,#6ac273 52px,#99d55e 56px,#badc61 58px,#dae374 61px,#ece888 68px,#d7e271 75px,#aeda5f 90px,#8ed261 101px,#50af7f 121px,#2e7a88 152px,#0e5892 181px,#104b96 192px,#1e36a0 205px,#2c209a 222px,#2a1977 252px,#2a1a7c 332px)"></i>
<i style="left:539px;height:331.9px;background:linear-gradient(#67c074 0px,#5eba79 42px,#68c074 49px,#71c670 51px,#95d45e 54px,#b8dc60 56px,#d6e271 59px,#e8e783 66px,#c1de65 81px,#9cd65e 94px,#82cf67 104px,#4fae7f 121px,#2f7b88 151px,#0e5892 181px,#104a96 192px,#1e35a0 205px,#2c1f98 224px,#2a1977 252px,#2a1a7c 332px)"></i>
<i style="left:540px;height:331.9px;background:linear-gradient(#68c074 0px,#5fbb78 34px,#67c074 49px,#6cc372 51px,#9dd65f 55px,#bcdd62 57px,#d5e271 60px,#dbe375 67px,#d8e272 74px,#b9dc60 86px,#93d45e 98px,#50b07f 120px,#3e9386 134px,#0f5991 179px,#104a96 192px,#1e37a0 204px,#26299d 211px,#2c1f97 224px,#2a1977 252px,#2a1a7c 332px)"></i>
<i style="left:541px;height:331.9px;background:linear-gradient(#66bf75 0px,#5fbb78 12px,#60bb78 46px,#6dc472 52px,#9fd65f 56px,#bcdd62 58px,#d3e16f 61px,#d8e272 75px,#b6dc60 88px,#94d45e 99px,#51b17e 119px,#3f9486 133px,#0e5892 180px,#104a96 192px,#1e36a0 204px,#2c209a 221px,#2a1978 251px,#2a1a7c 332px)"></i>
<i style="left:542px;height:331.9px;background:linear-gradient(#64be76 0px,#5bb87a 42px,#6dc472 50px,#9fd65f 54px,#bddd63 56px,#d7e272 59px,#e3e57e 66px,#d7e271 74px,#bfdd64 82px,#95d45e 97px,#4ead7f 120px,#2e7a88 150px,#0e5892 179px,#104a96 191px,#1e37a0 203px,#27289c 211px,#2c1f97 223px,#2a1977 251px,#2a1a7c 332px)"></i>
<i style="left:543px;height:331.9px;background:linear-gradient(#61bc77 0px,#5cb979 40px,#6ac273 46px,#99d55e 50px,#badc61 52px,#d8e272 55px,#e7e682 63px,#c1de65 78px,#9dd65e 91px,#7dcd6a 104px,#50b07f 119px,#3f9486 132px,#0e5892 180px,#104a96 191px,#1e36a0 204px,#2c209a 221px,#2a1977 251px,#2a1a7c 332px)"></i>
<i style="left:544px;height:331.9px;background:linear-gradient(#60bb78 0px,#5bb87a 41px,#69c173 47px,#96d55e 51px,#b8dc60 53px,#d5e271 56px,#e3e57e 64px,#d8e272 72px,#b8dc60 84px,#9cd65e 93px,#7ccd6b 104px,#51b17e 118px,#409586 131px,#0e5892 179px,#104a96 191px,#1d37a0 203px,#2c1f98 223px,#2a1977 251px,#2a1a7c 332px)"></i>
<i style="left:545px;height:332.3px;background:linear-gradient(#61bc77 0px,#57b67c 39px,#6ac273 47px,#9ad55e 51px,#badc61 53px,#d7e271 56px,#e1e57c 64px,#d8e272 72px,#b8dc60 84px,#93d45e 96px,#4fae7f 118px,#409686 129px,#307c88 147px,#0e5892 178px,#104996 190px,#1e36a0 202px,#2c1f97 222px,#2a1977 250px,#2a1a7c 332px)"></i>
<i style="left:546px;height:332.6px;background:linear-gradient(#62bc77 0px,#59b67b 40px,#6bc273 48px,#9bd65e 52px,#bbdc61 54px,#d6e271 57px,#dee478 66px,#d6e271 74px,#b6dc60 86px,#97d55e 96px,#79cc6c 103px,#50af7f 117px,#3f9486 130px,#0f5991 176px,#104a96 189px,#1e36a0 202px,#2c209a 219px,#2a1977 249px,#2a1a7c 332px)"></i>
<i style="left:547px;height:331.9px;background:linear-gradient(#60bb78 0px,#59b77b 41px,#6bc273 48px,#9bd65e 52px,#bcdd62 54px,#dce376 57px,#ece887 66px,#d7e271 74px,#aeda5f 89px,#93d45e 96px,#52b27e 115px,#409686 128px,#317d88 145px,#0e5892 177px,#104996 189px,#1e37a0 201px,#2c1f98 221px,#2a1977 249px,#2a1a7c 332px)"></i>
<i style="left:548px;height:332.2px;background:linear-gradient(#65be75 0px,#5cb979 33px,#5cb979 41px,#65bf75 46px,#77ca6d 50px,#a1d75f 53px,#d2e16f 57px,#e5e680 66px,#b7dc60 87px,#9ad55e 93px,#7bcc6b 100px,#4fae7f 115px,#2d7988 146px,#0e5892 175px,#104a96 187px,#1e35a0 200px,#2c209a 217px,#2a1977 247px,#2a1a7c 332px)"></i>
<i style="left:549px;height:331.9px;background:linear-gradient(#63bd76 0px,#5ab77a 39px,#6ac173 47px,#97d55e 51px,#b9dc61 53px,#d7e271 56px,#e6e682 65px,#b8dc60 85px,#9bd55e 91px,#78cb6d 99px,#51b17e 112px,#409586 125px,#307c88 142px,#0e5892 173px,#104a96 185px,#1e36a0 198px,#2c209a 215px,#2a1977 245px,#2a1a7c 332px)"></i>
<i style="left:550px;height:331.9px;background:linear-gradient(#61bc77 0px,#58b67b 36px,#6ac173 44px,#98d55e 48px,#b8dc60 50px,#d5e170 53px,#dbe375 63px,#d7e272 70px,#b8dc60 82px,#96d45e 92px,#51b17e 112px,#409586 125px,#307c88 142px,#0e5892 173px,#104a96 185px,#1e36a0 198px,#2c1f97 218px,#2a1977 246px,#2a1a7c 332px)"></i>
<i style="left:551px;height:331.9px;background:linear-gradient(#63bd76 0px,#5ab77a 40px,#6dc472 48px,#9fd65f 52px,#bddd63 54px,#d7e271 57px,#dfe47a 65px,#d8e272 73px,#bbdd62 84px,#98d55e 91px,#7acc6c 98px,#50b07f 112px,#307c88 141px,#0e5892 172px,#104a96 184px,#1e37a0 197px,#2c209a 215px,#2a1977 245px,#2a1a7c 332px)"></i>
<i style="left:552px;height:331.9px;background:linear-gradient(#65be75 0px,#5bb87a 42px,#62bd77 46px,#72c770 51px,#97d55e 54px,#b9dc61 56px,#d7e271 59px,#e7e682 67px,#dfe479 72px,#badc61 83px,#9cd65e 89px,#79cb6c 97px,#54b37d 109px,#317d88 139px,#105a91 168px,#104a96 183px,#1e36a0 196px,#2c209a 214px,#2a1977 244px,#2a1a7c 332px)"></i>
<i style="left:553px;height:332.7px;background:linear-gradient(#65be76 0px,#5eba78 12px,#5fbb78 46px,#6cc372 52px,#9dd65f 56px,#bbdd62 58px,#d6e271 61px,#dbe375 70px,#bbdd62 81px,#97d55e 88px,#76ca6e 96px,#52b27e 108px,#3f9486 122px,#105a91 166px,#104a96 181px,#1d37a0 194px,#2c209a 212px,#2a1977 242px,#2a1a7c 332px)"></i>
<i style="left:554px;height:332.9px;background:linear-gradient(#63bd76 0px,#5ab77b 43px,#6ac273 51px,#9ad55e 55px,#b9dc61 57px,#d5e170 60px,#d8e272 68px,#b7dc60 79px,#96d45e 85px,#7ccd6b 91px,#51b17e 105px,#2f7b88 135px,#0e5892 165px,#104a96 178px,#1e37a0 191px,#2c209a 209px,#2a1977 239px,#2a1a7c 332px)"></i>
<i style="left:555px;height:332.7px;background:linear-gradient(#67c075 0px,#5db979 40px,#69c174 48px,#92d35f 52px,#b3db60 54px,#d2e16f 57px,#e1e57c 65px,#d4e170 66px,#cbdf6a 69px,#b7dc60 75px,#96d55e 81px,#78cb6d 88px,#53b27e 100px,#3f9486 114px,#2d7988 132px,#0e5892 161px,#104a96 174px,#1d37a0 187px,#2c209a 205px,#2a1977 235px,#2a1a7c 332px)"></i>
<i style="left:556px;height:332.7px;background:linear-gradient(#64be76 0px,#5bb87a 42px,#69c174 50px,#79cb6c 52px,#a4d85f 55px,#b7dc60 56px,#dfe47a 60px,#efe98b 67px,#c7df68 68px,#aad95f 75px,#94d45e 79px,#76ca6e 86px,#53b37e 97px,#409586 110px,#0f5991 157px,#104a96 171px,#1e36a0 185px,#2c209a 203px,#2a1977 233px,#2a1a7c 332px)"></i>
<i style="left:557px;height:332.4px;background:linear-gradient(#5fbb78 0px,#58b67b 16px,#5ab87a 45px,#72c76f 52px,#97d55e 55px,#b9dc61 57px,#d7e272 60px,#e8e783 68px,#c6df68 69px,#b9dc60 73px,#9dd65e 78px,#7bcc6b 85px,#51b17e 98px,#409586 110px,#307c88 127px,#0e5892 159px,#104a96 172px,#1e36a0 186px,#2c209a 204px,#2a1977 234px,#2a1a7c 332px)"></i>
<i style="left:558px;height:331.9px;background:linear-gradient(#61bc77 0px,#58b67b 35px,#5fbb78 48px,#6ec471 53px,#a2d75f 57px,#b4db60 58px,#e1e57b 62px,#f1ea8d 69px,#c4de67 70px,#b6dc60 74px,#93d45e 80px,#81ce68 84px,#51b17e 98px,#3f9586 110px,#307c88 127px,#0e5892 159px,#104a96 172px,#1e37a0 186px,#2c209a 204px,#2a1977 235px,#2a1a7c 332px)"></i>
<i style="left:559px;height:331.9px;background:linear-gradient(#61bb77 0px,#57b57c 45px,#6ac173 53px,#98d55e 57px,#b9dc61 59px,#d7e271 62px,#e3e57e 69px,#c3de66 70px,#9cd65e 78px,#79cc6c 85px,#51b17e 97px,#3e9386 110px,#1b658c 143px,#0f5991 157px,#104a96 172px,#1e36a0 186px,#2c209a 204px,#2a1977 234px,#2a1a7c 332px)"></i>
<i style="left:560px;height:331.9px;background:linear-gradient(#60bb78 0px,#58b67b 47px,#6ec471 55px,#91d35f 58px,#b2db60 60px,#d2e16f 63px,#e2e57d 71px,#bcdd63 72px,#95d45e 79px,#52b27e 96px,#3e9286 110px,#1c668c 142px,#0e5892 158px,#104996 172px,#1e36a0 186px,#2c209a 204px,#2a1977 234px,#2a1a7c 332px)"></i>
<i style="left:561px;height:331.9px;background:linear-gradient(#5fba78 0px,#56b57c 46px,#6dc372 54px,#9ed65f 58px,#bcdd62 60px,#d5e170 63px,#d7e272 70px,#b8dc60 71px,#93d45f 77px,#53b37e 93px,#3e9286 107px,#0f5991 154px,#104a96 169px,#1d37a0 183px,#2c209a 202px,#2a1977 232px,#2a1a7c 332px)"></i>
<i style="left:562px;height:331.9px;background:linear-gradient(#5fba78 0px,#55b47d 44px,#70c571 53px,#93d45e 56px,#b4db60 58px,#d3e16f 61px,#dfe47a 69px,#adda5f 70px,#a6d85f 71px,#93d45e 74px,#7acc6c 79px,#52b27e 90px,#3f9486 102px,#1c668c 136px,#0f5991 151px,#104a96 166px,#1e36a0 181px,#2c209a 199px,#2a1977 229px,#2a1a7c 332px)"></i>
<i style="left:563px;height:331.9px;background:linear-gradient(#5fbb78 0px,#58b67b 15px,#5ab77a 47px,#6ac173 53px,#97d55e 57px,#badc61 59px,#dce376 62px,#f0ea8c 69px,#badc61 70px,#93d45e 76px,#7acc6c 81px,#51b17e 92px,#3e9286 105px,#125c90 149px,#104a96 168px,#1e36a0 183px,#2c1f97 204px,#2a1977 232px,#2a1a7c 332px)"></i>
<i style="left:564px;height:331.9px;background:linear-gradient(#5fba78 0px,#55b47d 45px,#69c174 53px,#94d45e 57px,#b7dc60 59px,#d6e271 62px,#e7e783 69px,#bcdd62 70px,#91d35f 77px,#52b27e 92px,#3e9286 105px,#105a91 152px,#104a96 169px,#1e36a0 184px,#2c209a 202px,#2a1977 232px,#2a1a7c 332px)"></i>
<i style="left:565px;height:331.9px;background:linear-gradient(#5cb979 0px,#54b37d 47px,#6ec472 55px,#a0d75f 59px,#bfdd64 61px,#dce377 64px,#ede889 71px,#b1da60 72px,#95d45e 76px,#7acc6c 81px,#50b07f 92px,#3e9286 104px,#1b658c 138px,#0f5991 153px,#104996 169px,#1d37a0 183px,#2c209a 202px,#2a1977 232px,#2a1a7c 332px)"></i>
<i style="left:566px;height:331.9px;background:linear-gradient(#5fbb78 0px,#56b57c 47px,#6bc273 55px,#9bd65e 59px,#bcdd62 61px,#dce376 64px,#ece888 71px,#abd95f 72px,#97d55e 75px,#7bcc6b 80px,#53b37d 90px,#3f9586 101px,#1a648c 138px,#0f5991 152px,#104996 168px,#1d37a0 182px,#2c209a 201px,#2a1977 231px,#2a1a7c 332px)"></i>
<i style="left:567px;height:331.9px;background:linear-gradient(#5fbb78 0px,#56b57c 47px,#6dc372 55px,#9fd65f 59px,#bddd63 61px,#d8e272 64px,#e5e680 71px,#badc61 72px,#93d45e 78px,#52b27e 93px,#3e9286 106px,#105a91 153px,#104a96 170px,#1e36a0 185px,#2c209a 203px,#2a1977 233px,#2a1a7c 332px)"></i>
<i style="left:568px;height:331.9px;background:linear-gradient(#64be76 0px,#5bb87a 47px,#6dc472 55px,#9fd65f 59px,#bddd63 61px,#d8e272 64px,#e3e57e 71px,#b9dc61 72px,#98d55e 77px,#7dcd6a 82px,#50b07f 94px,#409586 104px,#1d678b 138px,#0f5991 154px,#104a96 169px,#1e36a0 184px,#2c1f97 205px,#2a1977 233px,#2a1a7c 332px)"></i>
<i style="left:569px;height:331.9px;background:linear-gradient(#63bd76 0px,#5bb87a 47px,#6ac173 54px,#97d55e 58px,#b9dc61 60px,#d7e271 63px,#e7e682 71px,#c5de67 72px,#9bd55e 80px,#7bcc6c 86px,#52b17e 97px,#3e9286 110px,#105a91 156px,#104a96 172px,#1e36a0 187px,#2c209a 205px,#2a1977 236px,#2a1a7c 332px)"></i>
<i style="left:570px;height:331.9px;background:linear-gradient(#62bd77 0px,#59b67b 45px,#6ac273 53px,#9ad55e 57px,#bbdd62 59px,#dbe376 62px,#ece888 70px,#d0e16e 71px,#badc61 77px,#9bd65e 82px,#7bcc6b 88px,#50b07f 100px,#3f9486 111px,#1b658c 145px,#105a91 158px,#104a96 174px,#1e36a0 189px,#2c209a 207px,#2a1977 237px,#2a1a7c 332px)"></i>
<i style="left:571px;height:331.9px;background:linear-gradient(#62bc77 0px,#5ab77a 45px,#6ac173 52px,#96d45e 56px,#b9dc60 58px,#d7e271 61px,#eae785 69px,#d6e271 70px,#b9dc61 78px,#9bd65e 83px,#7ccd6b 89px,#53b37d 100px,#3f9586 112px,#1b658c 146px,#0f5991 160px,#104a96 175px,#1e37a0 189px,#2c1f97 210px,#2a1977 238px,#2a1a7c 332px)"></i>
<i style="left:572px;height:331.9px;background:linear-gradient(#61bc77 0px,#57b57c 44px,#69c174 52px,#93d45e 56px,#b6dc60 58px,#d5e170 61px,#e9e785 69px,#cfe06d 70px,#badc61 76px,#9cd65e 81px,#7dcd6a 87px,#52b27e 99px,#409686 110px,#1a648c 145px,#105a91 157px,#104a96 173px,#1e36a0 187px,#2c209a 205px,#2a1978 235px,#2a1a7c 332px)"></i>
<i style="left:573px;height:332.0px;background:linear-gradient(#60bb78 0px,#57b57c 45px,#6dc472 53px,#a0d75f 57px,#bedd63 59px,#d9e273 62px,#e7e682 70px,#d5e170 71px,#b9dc61 79px,#9bd65e 84px,#78cb6d 91px,#52b27e 102px,#3e9386 115px,#1a648c 148px,#0e5892 162px,#104b96 175px,#1d37a0 189px,#2c1f97 210px,#2a1977 238px,#2a1a7c 332px)"></i>
<i style="left:574px;height:332.9px;background:linear-gradient(#61bc77 0px,#59b67b 43px,#6ec472 51px,#a0d75f 55px,#bddd63 57px,#d6e271 60px,#dde478 69px,#b8dc60 80px,#93d45e 86px,#52b27e 103px,#3f9586 115px,#1b658c 148px,#0e5892 163px,#104a96 176px,#1e36a0 190px,#2c209a 208px,#2a1977 238px,#2a1a7c 332px)"></i>
<i style="left:575px;height:333.2px;background:linear-gradient(#61bc77 0px,#57b67c 42px,#70c670 51px,#94d45e 54px,#b6dc60 56px,#d4e170 59px,#e2e57e 68px,#d6e271 70px,#b8dc60 79px,#9ad55e 84px,#75c96e 92px,#53b37e 102px,#3f9486 115px,#1b658c 147px,#0e5892 162px,#104a96 175px,#1d37a0 188px,#2c1f97 209px,#2a1977 237px,#2a1a7c 332px)"></i>
<i style="left:576px;height:332.9px;background:linear-gradient(#62bc77 0px,#59b67b 41px,#6cc372 49px,#9dd65e 53px,#bbdd62 55px,#d6e271 58px,#dce376 67px,#d9e273 70px,#bedd63 78px,#93d45e 86px,#51b17e 104px,#3e9386 117px,#105a91 160px,#104a96 175px,#1e36a0 189px,#2c209a 207px,#2a1977 237px,#2a1a7c 332px)"></i>
<i style="left:577px;height:332.9px;background:linear-gradient(#5fba78 0px,#57b67c 40px,#69c173 47px,#96d45e 51px,#b9dc61 53px,#dfe479 57px,#eee98a 66px,#e5e680 70px,#d7e272 72px,#badc61 81px,#98d55e 87px,#78cb6d 94px,#51b17e 106px,#409586 118px,#307c88 134px,#0f5991 163px,#104a96 177px,#1d37a0 190px,#2c209a 208px,#2a1977 238px,#2a1a7c 332px)"></i>
<i style="left:578px;height:332.3px;background:linear-gradient(#62bc77 0px,#58b67b 37px,#6ac173 45px,#98d55e 49px,#b7dc60 51px,#d2e16f 54px,#d6e271 69px,#b8dc60 79px,#96d45e 85px,#53b37d 103px,#327f88 130px,#1a648c 148px,#0e5892 162px,#104a96 174px,#1e36a0 188px,#2c209a 205px,#2a1977 236px,#2a1a7c 332px)"></i>
<i style="left:579px;height:331.9px;background:linear-gradient(#62bc77 0px,#59b77b 39px,#6ec472 47px,#a0d75f 51px,#bedd63 53px,#d8e272 56px,#e3e57e 66px,#dfe47a 69px,#d8e272 70px,#b8dc60 80px,#9cd65e 85px,#7bcc6b 92px,#52b27e 105px,#317e88 132px,#0e5892 163px,#104a96 175px,#1e37a0 188px,#2c209a 206px,#2a1977 236px,#2a1a7c 332px)"></i>
<i style="left:580px;height:331.9px;background:linear-gradient(#61bc77 0px,#58b67b 39px,#68c174 46px,#82cf68 49px,#b3db60 52px,#d6e271 55px,#e5e680 56px,#f7ec93 65px,#ede889 68px,#d8e272 71px,#b8dc60 81px,#97d55e 87px,#85cf66 91px,#53b27e 106px,#317d88 134px,#0e5892 164px,#104a96 176px,#1d37a0 189px,#2c209a 207px,#2a1977 237px,#2a1a7c 332px)"></i>
<i style="left:581px;height:332.5px;background:linear-gradient(#64be76 0px,#5fbb78 39px,#6ec471 45px,#a1d75f 49px,#d2e16e 53px,#e2e57d 64px,#d8e272 73px,#c6df68 79px,#b9dc61 83px,#93d45e 90px,#51b17e 109px,#307c88 137px,#105a91 164px,#104a96 179px,#1e36a0 192px,#2c209a 209px,#2a1977 239px,#2a1a7c 332px)"></i>
<i style="left:582px;height:332.1px;background:linear-gradient(#65be75 0px,#5bb87a 36px,#64be76 41px,#6ac173 44px,#73c76f 45px,#98d55e 48px,#b8dc60 50px,#d4e170 53px,#dae274 64px,#d7e271 73px,#b7dc60 83px,#96d55e 89px,#53b37e 108px,#307c88 137px,#0e5892 166px,#104b96 178px,#1d37a0 191px,#2c209a 209px,#2a1977 239px,#2a1a7c 332px)"></i>
<i style="left:583px;height:332.6px;background:linear-gradient(#64be76 0px,#5ab77a 36px,#69c174 44px,#77ca6e 46px,#9fd65f 49px,#bddd63 51px,#d8e272 54px,#e5e681 64px,#dae274 73px,#b7dc60 84px,#9cd65e 89px,#7ccd6b 96px,#53b37d 109px,#307c88 138px,#0f5991 166px,#104996 180px,#1d37a0 192px,#2c209a 210px,#2a1977 240px,#2a1a7c 332px)"></i>
<i style="left:584px;height:333.3px;background:linear-gradient(#65be76 0px,#5bb87a 37px,#6ac173 45px,#96d55e 49px,#badc61 51px,#dae374 54px,#e8e784 59px,#f0ea8c 65px,#d5e170 74px,#b9dc61 83px,#9ad55e 89px,#7bcc6b 96px,#53b27e 109px,#307c88 138px,#0f5991 166px,#104a96 179px,#1e37a0 192px,#2c1f98 212px,#2a1977 240px,#2a1a7c 332px)"></i>
<i style="left:585px;height:332.0px;background:linear-gradient(#66bf75 0px,#5cb979 37px,#65bf75 43px,#6dc472 46px,#9fd75f 50px,#bedd63 52px,#d8e272 55px,#e4e57f 65px,#dae274 74px,#badc61 84px,#9bd65e 90px,#7ccd6b 97px,#51b17e 111px,#338087 137px,#0e5892 169px,#104a96 181px,#1e36a0 194px,#2c209a 211px,#2a1977 241px,#2a1a7c 332px)"></i>
<i style="left:586px;height:331.9px;background:linear-gradient(#64be76 0px,#5bb87a 38px,#6ac173 46px,#96d45e 50px,#b9dc60 52px,#d7e272 55px,#ece888 66px,#dde377 74px,#b9dc60 85px,#99d55e 91px,#7bcc6c 98px,#53b37e 111px,#317e88 139px,#0e5892 170px,#104996 182px,#1e37a0 194px,#2c1f98 214px,#2a1977 242px,#2a1a7c 332px)"></i>
<i style="left:587px;height:331.9px;background:linear-gradient(#66bf75 0px,#5cb979 39px,#66bf75 45px,#72c76f 48px,#97d55e 51px,#b9dc61 53px,#d7e271 56px,#e7e682 67px,#d8e272 77px,#b9dc61 87px,#9bd55e 93px,#7ccd6b 100px,#54b37d 113px,#327f88 141px,#0e5892 172px,#104a96 184px,#1e36a0 197px,#2c209a 214px,#2a1977 244px,#2a1a7c 332px)"></i>
<i style="left:588px;height:331.9px;background:linear-gradient(#63bd76 0px,#5ab77a 37px,#6ac273 45px,#9ad55e 49px,#badc61 51px,#d7e271 54px,#e2e57d 65px,#d8e272 76px,#b9dc60 87px,#94d45e 94px,#78cb6d 101px,#4ead7f 116px,#327f88 141px,#0e5892 172px,#104a96 184px,#1e36a0 197px,#2c209a 214px,#2a1977 244px,#2a1a7c 332px)"></i>
<i style="left:589px;height:331.9px;background:linear-gradient(#64be76 0px,#5bb87a 37px,#69c174 45px,#92d35f 49px,#b8dc60 51px,#cfe06d 53px,#eae786 55px,#fcee99 66px,#efe98b 70px,#d7e271 74px,#b5db60 85px,#95d45e 91px,#79cb6c 98px,#52b27e 111px,#317e88 139px,#105a91 167px,#104a96 181px,#1e36a0 194px,#2c209a 211px,#2a1977 241px,#2a1a7c 332px)"></i>
<i style="left:590px;height:331.9px;background:linear-gradient(#63bd76 0px,#5ab77a 37px,#6ac173 45px,#97d55e 49px,#b9dc60 51px,#d6e271 54px,#e6e681 66px,#b9dc60 81px,#9ad55e 87px,#7ccd6b 94px,#52b27e 108px,#2f7b88 138px,#105a91 164px,#104a96 178px,#1e36a0 191px,#2c209a 208px,#2a1977 238px,#2a1a7c 332px)"></i>
<i style="left:591px;height:331.9px;background:linear-gradient(#64be76 0px,#5eba78 37px,#6ac273 43px,#99d55e 47px,#b9dc61 49px,#d6e271 52px,#e0e47a 64px,#dae274 72px,#b8dc60 83px,#94d45e 90px,#52b27e 110px,#338087 137px,#0e5892 169px,#104a96 180px,#1e36a0 193px,#2c209a 210px,#2a1977 240px,#2a1a7c 332px)"></i>
<i style="left:592px;height:331.9px;background:linear-gradient(#62bd77 0px,#59b67b 35px,#6ac173 43px,#98d55e 47px,#b9dc60 49px,#d6e271 52px,#e0e47a 65px,#dbe376 70px,#b9dc61 81px,#96d45e 88px,#51b17e 109px,#307c88 138px,#0e5892 167px,#104a96 179px,#1d37a0 191px,#2c1f98 211px,#2a1977 239px,#2a1a7c 332px)"></i>
<i style="left:593px;height:331.9px;background:linear-gradient(#61bc77 0px,#58b67b 30px,#5fbb78 41px,#6ec471 46px,#a1d75f 50px,#bfdd64 52px,#dae374 55px,#e9e784 67px,#d5e170 71px,#b8dc60 81px,#99d55e 87px,#7ccd6b 94px,#53b37e 108px,#307c88 138px,#0e5892 167px,#104996 179px,#1e36a0 191px,#2c209a 208px,#2a1978 238px,#2a1a7c 332px)"></i>
<i style="left:594px;height:331.9px;background:linear-gradient(#62bc77 0px,#58b67b 39px,#6ac173 47px,#99d55e 51px,#badc61 53px,#d9e273 56px,#e9e785 68px,#d7e271 71px,#b7dc60 82px,#98d55e 88px,#7bcc6b 95px,#52b27e 109px,#307c88 139px,#0e5892 168px,#104996 180px,#1e36a0 192px,#2c209a 209px,#2a1977 239px,#2a1a7c 332px)"></i>
<i style="left:595px;height:331.9px;background:linear-gradient(#60bb78 0px,#57b57c 39px,#6cc372 47px,#9dd65f 51px,#bddd63 53px,#dce376 56px,#ede889 68px,#e6e681 72px,#d3e16f 76px,#b9dc61 85px,#9cd65e 91px,#7acc6c 99px,#52b27e 113px,#327f88 141px,#0e5892 172px,#104b96 183px,#1e36a0 196px,#2c209a 213px,#2a1977 243px,#2a1a7c 332px)"></i>
<i style="left:596px;height:331.9px;background:linear-gradient(#61bc77 0px,#58b67b 40px,#6bc273 48px,#9bd55e 52px,#bbdd62 54px,#d8e272 57px,#e7e783 69px,#d7e271 74px,#badc61 84px,#98d55e 91px,#78cb6d 99px,#53b37d 112px,#2f7b88 143px,#0f5991 170px,#104a96 183px,#1e36a0 195px,#2c209a 212px,#2a1978 242px,#2a1a7c 332px)"></i>
<i style="left:597px;height:331.9px;background:linear-gradient(#60bb78 0px,#57b57c 40px,#6cc372 48px,#9dd65e 52px,#bbdd62 54px,#d4e170 57px,#d7e272 71px,#b9dc60 82px,#96d55e 89px,#52b27e 110px,#317e88 139px,#0e5892 169px,#104996 181px,#1e36a0 193px,#2c209a 210px,#2a1977 240px,#2a1a7c 332px)"></i>
<i style="left:598px;height:331.9px;background:linear-gradient(#5eba79 0px,#54b47d 39px,#6bc273 47px,#9bd65e 51px,#bcdd62 53px,#dbe375 56px,#ebe887 68px,#e7e783 71px,#d6e271 74px,#b7dc60 85px,#99d55e 91px,#79cc6c 99px,#54b47d 112px,#307c88 143px,#0e5892 172px,#104a96 183px,#1e35a0 196px,#2c1f98 215px,#2a1977 243px,#2a1a7c 332px)"></i>
<i style="left:599px;height:331.9px;background:linear-gradient(#5cb87a 0px,#53b37e 36px,#6dc372 44px,#9ed65f 48px,#bddd63 50px,#d7e272 53px,#e2e57d 66px,#d9e273 76px,#badc61 87px,#93d45e 95px,#50b07f 117px,#307c88 146px,#0e5892 175px,#104a96 186px,#1e35a0 199px,#2c1f97 218px,#2a1977 246px,#2a1a7c 332px)"></i>
<i style="left:600px;height:331.9px;background:linear-gradient(#5bb87a 0px,#52b27e 38px,#6bc273 46px,#9bd65e 50px,#bbdd62 52px,#d7e272 55px,#e2e57d 68px,#dde377 73px,#b9dc60 85px,#9cd65e 91px,#7bcc6b 99px,#54b37d 113px,#307c88 144px,#0e5892 173px,#104a96 184px,#1d37a0 196px,#2c209a 213px,#2a1978 243px,#2a1a7c 332px)"></i>
<i style="left:601px;height:331.9px;background:linear-gradient(#5fba78 0px,#55b47c 39px,#6fc571 48px,#92d35f 51px,#bedd63 54px,#d4e170 57px,#d7e271 74px,#b8dc60 85px,#96d55e 92px,#54b37d 113px,#317e88 143px,#0e5892 173px,#104a96 184px,#1d37a0 196px,#2c209a 213px,#2a1977 244px,#2a1a7c 332px)"></i>
<i style="left:602px;height:331.9px;background:linear-gradient(#5db979 0px,#54b37d 39px,#6cc372 47px,#9dd65f 51px,#bcdd62 53px,#d7e271 56px,#dfe479 70px,#dae374 76px,#b8dc60 88px,#96d45e 95px,#7bcc6c 102px,#50af7f 118px,#317e88 146px,#0e5892 176px,#104a96 187px,#1e37a0 199px,#2c209a 216px,#2a1977 246px,#2a1a7c 332px)"></i>
<i style="left:603px;height:331.9px;background:linear-gradient(#5bb87a 0px,#52b27e 37px,#6ac273 45px,#9ad55e 49px,#badc61 51px,#d6e271 54px,#dee479 67px,#d5e170 79px,#b9dc61 89px,#94d45e 97px,#51b17e 119px,#307c88 149px,#0e5892 178px,#104a96 189px,#1e36a0 201px,#2c209a 218px,#2a1977 248px,#2a1a7c 332px)"></i>
<i style="left:604px;height:332.0px;background:linear-gradient(#5cb979 0px,#55b47d 39px,#69c174 46px,#95d45e 50px,#b8dc60 52px,#d5e170 55px,#e5e681 68px,#dfe47a 74px,#b8dc60 87px,#9bd65e 93px,#78cb6d 102px,#52b27e 116px,#327f88 145px,#0e5892 176px,#104996 187px,#1e35a0 199px,#2c1f97 218px,#2a1977 246px,#2a1a7c 332px)"></i>
<i style="left:605px;height:331.9px;background:linear-gradient(#5bb87a 0px,#52b27e 39px,#69c174 47px,#95d45e 51px,#b5db60 53px,#d2e16f 56px,#d7e272 71px,#b8dc60 83px,#97d55e 90px,#7ccd6b 97px,#51b17e 113px,#317e88 142px,#0e5892 172px,#104a96 183px,#1e36a0 195px,#2c209a 212px,#2a1977 242px,#2a1a7c 332px)"></i>
<i style="left:606px;height:331.9px;background:linear-gradient(#59b67b 0px,#52b27e 40px,#6ac173 47px,#98d55e 51px,#badc61 53px,#d7e272 56px,#e6e681 68px,#d3e16f 73px,#b8dc60 83px,#9cd65e 89px,#79cb6c 98px,#53b37d 112px,#338087 141px,#0e5892 172px,#104a96 183px,#1e36a0 195px,#2c209a 212px,#2a1977 242px,#2a1a7c 332px)"></i>
<i style="left:607px;height:331.9px;background:linear-gradient(#5ab77a 0px,#51b17e 36px,#6ac273 44px,#9ad55e 48px,#bbdd62 50px,#d8e272 53px,#e7e682 65px,#e4e57f 68px,#d8e272 70px,#b8dc60 82px,#9bd65e 88px,#7ccd6b 96px,#53b37d 111px,#317d88 142px,#0e5892 171px,#104a96 182px,#1e36a0 194px,#2c209a 211px,#2a1977 241px,#2a1a7c 332px)"></i>
<i style="left:608px;height:332.0px;background:linear-gradient(#57b57c 0px,#50af7f 39px,#6ac273 47px,#9ad55e 51px,#badc61 53px,#d5e170 56px,#dae374 68px,#b8dc60 80px,#97d55e 87px,#54b37d 109px,#2d7988 143px,#0e5892 170px,#104996 181px,#1e37a0 192px,#2c209a 209px,#2a1977 239px,#2a1a7c 332px)"></i>
<i style="left:609px;height:331.9px;background:linear-gradient(#53b37e 0px,#4eac80 33px,#52b17e 42px,#6ac173 48px,#98d55e 52px,#b9dc61 54px,#d6e271 57px,#dfe47a 69px,#d6e271 70px,#b9dc60 81px,#94d45e 89px,#55b47d 110px,#338087 140px,#0e5892 171px,#104a96 182px,#1e36a0 194px,#27289c 201px,#2c1f97 213px,#2a1977 241px,#2a1a7c 332px)"></i>
<i style="left:610px;height:331.9px;background:linear-gradient(#57b67c 0px,#50af7f 38px,#6ac273 46px,#9ad55e 50px,#badc61 52px,#d6e271 55px,#dde377 67px,#badc61 82px,#96d45e 90px,#76ca6e 99px,#50b07f 114px,#307c88 144px,#0e5892 173px,#104b96 183px,#1e36a0 195px,#2c209a 212px,#2a1977 242px,#2a1a7c 332px)"></i>
<i style="left:611px;height:331.9px;background:linear-gradient(#56b57c 0px,#51b17e 40px,#6bc273 47px,#9bd55e 51px,#bcdd62 53px,#dce377 56px,#ede989 67px,#d9e273 69px,#abd95f 84px,#94d45e 89px,#7ecd6a 95px,#55b47c 110px,#317d88 142px,#0e5892 171px,#104a96 182px,#1e36a0 194px,#2c1f98 213px,#2a1977 241px,#2a1a7c 332px)"></i>
<i style="left:612px;height:331.9px;background:linear-gradient(#55b47c 0px,#50af7f 40px,#6fc571 48px,#93d45f 51px,#bddd63 54px,#cee06c 56px,#d2e16f 69px,#b8dc60 79px,#97d55e 86px,#52b27e 109px,#317e88 139px,#0e5892 169px,#104a96 180px,#1e35a0 192px,#26299d 198px,#2c1f97 211px,#2a1977 239px,#2a1a7c 332px)"></i>
<i style="left:613px;height:331.9px;background:linear-gradient(#54b37d 0px,#51b17e 42px,#6ec571 49px,#91d35f 52px,#b2db60 54px,#d2e16f 57px,#e1e57c 68px,#d1e16e 70px,#badc61 79px,#96d45e 87px,#51b17e 110px,#2d7988 143px,#0e5892 170px,#1d37a0 192px,#2c209a 209px,#2a1977 239px,#2a1a7c 332px)"></i>
<i style="left:614px;height:331.9px;background:linear-gradient(#54b37d 0px,#4ead7f 39px,#68c174 47px,#93d45e 51px,#b3db60 53px,#d0e16e 56px,#d7e271 71px,#b8dc60 83px,#93d45e 91px,#52b27e 113px,#2f7b88 145px,#0e5892 173px,#104a96 184px,#1e36a0 196px,#2c1f98 215px,#2a1977 243px,#2a1a7c 332px)"></i>
<i style="left:615px;height:331.9px;background:linear-gradient(#54b47d 0px,#50b07f 37px,#6ac273 44px,#9ad55e 48px,#badc61 50px,#d7e271 53px,#e1e57c 64px,#dbe375 71px,#bfdd64 81px,#95d45e 91px,#51b17e 114px,#2a7689 149px,#0e5892 174px,#1d37a0 196px,#2c209a 213px,#2a1977 243px,#2a1a7c 332px)"></i>
<i style="left:616px;height:331.9px;background:linear-gradient(#55b47d 0px,#4fad7f 34px,#52b27e 39px,#70c670 46px,#94d45e 49px,#b7dc60 51px,#dde478 55px,#ede889 66px,#d5e170 76px,#bbdd62 86px,#9cd65e 93px,#7dcd6a 101px,#52b27e 117px,#317e88 147px,#0e5892 177px,#104a96 188px,#1e36a0 200px,#2c209a 217px,#2a1977 247px,#2a1a7c 332px)"></i>
<i style="left:617px;height:331.9px;background:linear-gradient(#54b37d 0px,#4eac80 38px,#52b27e 40px,#69c174 46px,#97d55e 50px,#b8dc60 52px,#d5e170 55px,#dfe47a 66px,#d3e16f 78px,#b8dc60 88px,#93d45e 96px,#52b27e 118px,#317e88 148px,#0e5892 178px,#104a96 189px,#1e36a0 201px,#2c209a 218px,#2a1977 248px,#2a1a7c 332px)"></i>
<i style="left:618px;height:331.9px;background:linear-gradient(#55b47d 0px,#51b17e 41px,#6dc472 48px,#a0d75f 52px,#bedd63 54px,#d9e273 57px,#e7e682 67px,#dbe375 75px,#bfdd64 85px,#9ad55e 94px,#7fce69 101px,#51b17e 118px,#1a648c 165px,#0e5892 178px,#104996 189px,#1e35a0 201px,#2c1f97 220px,#2a1977 248px,#2a1a7c 332px)"></i>
<i style="left:619px;height:331.9px;background:linear-gradient(#53b37e 0px,#4fad7f 42px,#6fc571 50px,#92d35f 53px,#b3db60 55px,#d1e16e 58px,#dde377 69px,#dae374 74px,#c0dd64 84px,#97d55e 94px,#79cc6c 102px,#50b07f 118px,#307c88 148px,#0e5892 177px,#104a96 188px,#1e36a0 200px,#2c209a 217px,#2a1977 247px,#2a1a7c 332px)"></i>
<i style="left:620px;height:332.6px;background:linear-gradient(#54b47d 0px,#4fad7f 34px,#52b27e 43px,#72c76f 50px,#aad95f 54px,#d0e16e 57px,#dfe47a 58px,#f4eb90 68px,#d6e271 74px,#acd95f 88px,#95d45e 93px,#7fce69 99px,#53b37d 115px,#1a648c 163px,#0e5892 176px,#104a96 187px,#1e36a0 199px,#2c1f98 218px,#2a1977 246px,#2a1a7c 332px)"></i>
<i style="left:621px;height:332.2px;background:linear-gradient(#53b37d 0px,#4eac80 36px,#52b27e 42px,#6ac273 48px,#9ad55e 52px,#bcdd62 54px,#dde377 57px,#eee98a 67px,#d7e272 70px,#aeda5f 84px,#96d55e 89px,#79cc6c 97px,#54b37d 111px,#307c88 143px,#0e5892 172px,#104a96 183px,#1e36a0 195px,#2c209a 212px,#2a1977 242px,#2a1a7c 332px)"></i>
<i style="left:622px;height:332.1px;background:linear-gradient(#55b47d 0px,#4fad7f 36px,#53b37e 43px,#74c86f 50px,#adda5f 54px,#dee478 58px,#eee98a 67px,#d6e271 71px,#acd95f 85px,#95d45e 90px,#7bcc6b 97px,#53b37d 112px,#2e7a88 145px,#0e5892 173px,#104a96 184px,#1e36a0 196px,#2c209a 213px,#2a1977 243px,#2a1a7c 332px)"></i>
<i style="left:623px;height:331.9px;background:linear-gradient(#55b47c 0px,#4fae7f 39px,#6ac173 47px,#97d55e 51px,#b8dc60 53px,#d4e170 56px,#d8e272 71px,#badc61 83px,#95d45e 91px,#51b17e 114px,#1a648c 161px,#0e5892 174px,#104a96 185px,#1e36a0 197px,#2c209a 214px,#2a1977 244px,#2a1a7c 332px)"></i>
<i style="left:624px;height:331.9px;background:linear-gradient(#58b67b 0px,#51b07f 39px,#6cc372 47px,#9dd65f 51px,#bbdd62 53px,#d5e170 56px,#dae274 67px,#d8e272 74px,#b8dc60 86px,#97d55e 93px,#52b27e 116px,#307c88 147px,#0e5892 176px,#104a96 187px,#1d37a0 199px,#26299d 206px,#2c1f97 219px,#2a1977 247px,#2a1a7c 332px)"></i>
<i style="left:625px;height:331.9px;background:linear-gradient(#54b37d 0px,#4fad7f 28px,#52b27e 40px,#71c670 47px,#96d45e 50px,#a8d85f 51px,#b9dc61 52px,#dfe47a 56px,#efe98b 65px,#d7e272 70px,#aeda5f 84px,#97d55e 89px,#79cc6c 97px,#54b37d 111px,#307c88 143px,#0e5892 172px,#104a96 183px,#1d37a0 195px,#26299d 202px,#2c1f97 215px,#2a1977 243px,#2a1a7c 332px)"></i>
<i style="left:626px;height:331.9px;background:linear-gradient(#55b47d 0px,#4fad7f 34px,#53b37e 39px,#6ac273 45px,#9ad55e 49px,#badc61 51px,#d7e272 54px,#e3e57e 64px,#d3e16f 69px,#b9dc61 79px,#99d55e 86px,#7bcc6b 94px,#53b37e 109px,#317d88 140px,#105a91 167px,#104a96 181px,#1e36a0 193px,#2c209a 210px,#2a1977 240px,#2a1a7c 332px)"></i>
<i style="left:627px;height:332.7px;background:linear-gradient(#57b57c 0px,#52b27e 41px,#6cc372 48px,#9dd65f 52px,#bcdd62 54px,#d7e272 57px,#e2e57e 66px,#d5e170 67px,#b7dc60 78px,#9bd65e 84px,#79cc6c 93px,#54b37d 107px,#2d7988 141px,#0e5892 168px,#104a96 179px,#1d37a0 191px,#27289c 199px,#2c1f97 211px,#2a1977 239px,#2a1a7c 332px)"></i>
<i style="left:628px;height:333.1px;background:linear-gradient(#5ab77a 0px,#52b27e 42px,#70c571 50px,#93d45e 53px,#b6db60 55px,#d5e170 58px,#e9e785 68px,#cde06c 69px,#b8dc60 77px,#9dd65e 83px,#7acc6c 92px,#52b27e 107px,#317e88 137px,#0e5892 167px,#104996 179px,#1e36a0 191px,#2c209a 208px,#2a1977 238px,#2a1a7c 332px)"></i>
<i style="left:629px;height:332.9px;background:linear-gradient(#57b57c 0px,#50af7f 39px,#6ac273 47px,#99d55e 51px,#b9dc60 53px,#d5e170 56px,#d8e272 65px,#b7dc60 78px,#97d55e 85px,#79cc6c 93px,#50b07f 109px,#2d7988 141px,#0e5892 168px,#104b96 179px,#1e36a0 192px,#2c209a 209px,#2a1977 239px,#2a1a7c 332px)"></i>
<i style="left:630px;height:332.3px;background:linear-gradient(#5bb87a 0px,#54b37d 40px,#71c670 48px,#94d45e 51px,#b8dc60 53px,#dde377 57px,#ede889 66px,#d8e272 67px,#aeda5f 81px,#97d55e 86px,#7dcd6a 93px,#54b47d 108px,#307c88 140px,#0e5892 169px,#104b96 180px,#1e36a0 193px,#2c209a 210px,#2a1977 240px,#2a1a7c 332px)"></i>
<i style="left:631px;height:333.3px;background:linear-gradient(#5cb87a 0px,#54b37d 39px,#70c571 47px,#93d45f 50px,#b5db60 52px,#d4e170 55px,#e6e681 65px,#d6e271 69px,#b6db60 81px,#9ad55e 87px,#7bcc6b 95px,#53b37d 110px,#2e7a88 143px,#0e5892 171px,#104a96 182px,#1d37a0 194px,#2c1f98 214px,#2a1977 242px,#2a1a7c 332px)"></i>
<i style="left:632px;height:332.3px;background:linear-gradient(#5ab77b 0px,#52b17e 39px,#6ec472 47px,#a0d75f 51px,#bfdd64 53px,#dbe375 56px,#eae786 66px,#d7e271 70px,#b7dc60 82px,#9bd55e 88px,#7ccd6b 96px,#54b37d 111px,#1a648c 159px,#0e5892 172px,#104b96 183px,#1e36a0 196px,#2c209a 213px,#2a1977 243px,#2a1a7c 332px)"></i>
<i style="left:633px;height:332.2px;background:linear-gradient(#59b67b 0px,#51b17e 38px,#6cc372 46px,#9ed65f 50px,#bcdd62 52px,#d6e271 55px,#dee478 66px,#dce376 69px,#b8dc60 82px,#93d45e 90px,#52b27e 112px,#307c88 143px,#0e5892 172px,#104a96 184px,#1e36a0 196px,#2c209a 213px,#2a1978 243px,#2a1a7c 332px)"></i>
<i style="left:634px;height:333.1px;background:linear-gradient(#5bb87a 0px,#54b37d 39px,#70c670 47px,#94d45e 50px,#b7dc60 52px,#d6e271 55px,#eae886 65px,#d5e170 70px,#b7dc60 81px,#9bd65e 87px,#79cc6c 96px,#54b37d 110px,#1a648c 158px,#0e5892 171px,#104996 183px,#1e36a0 195px,#2c209a 212px,#2a1977 242px,#2a1a7c 332px)"></i>
<i style="left:635px;height:333.1px;background:linear-gradient(#57b57c 0px,#53b37d 40px,#71c670 47px,#94d45e 50px,#b6db60 52px,#d3e16f 55px,#dee478 66px,#b8dc60 81px,#94d45e 89px,#52b27e 111px,#317e88 141px,#0e5892 171px,#104a96 183px,#1d37a0 195px,#2c1f98 215px,#2a1977 243px,#2a1a7c 332px)"></i>
<i style="left:636px;height:332.3px;background:linear-gradient(#5ab77b 0px,#52b27e 18px,#54b37d 38px,#6dc472 45px,#9fd75f 49px,#bfdd64 51px,#dde478 54px,#eee98a 64px,#d8e272 69px,#afda5f 83px,#93d45e 89px,#7acc6c 96px,#52b27e 111px,#307c88 142px,#0e5892 171px,#104a96 183px,#1d37a0 195px,#2c1f98 215px,#2a1977 243px,#2a1a7c 332px)"></i>
<i style="left:637px;height:332.4px;background:linear-gradient(#5bb87a 0px,#52b27e 35px,#6dc372 43px,#9ed65f 47px,#bedd63 49px,#dee479 52px,#efe98c 62px,#e9e785 65px,#d8e272 68px,#afda5f 82px,#93d45e 88px,#7dcd6a 94px,#52b27e 110px,#307c88 141px,#0e5892 170px,#104a96 182px,#1d37a0 194px,#2c1f98 214px,#2a1977 242px,#2a1a7c 332px)"></i>
<i style="left:638px;height:332.1px;background:linear-gradient(#60bb78 0px,#59b77b 34px,#6cc372 41px,#9dd65f 45px,#bddd63 47px,#dde377 50px,#eee98a 60px,#d3e16f 70px,#abd95f 83px,#94d45e 88px,#7ecd6a 94px,#55b47c 109px,#317e88 140px,#105a91 168px,#104a96 182px,#1e36a0 195px,#2c209a 212px,#2a1977 242px,#2a1a7c 332px)"></i>
<i style="left:639px;height:331.9px;background:linear-gradient(#5eba78 0px,#55b47d 34px,#6bc273 42px,#9bd65e 46px,#bcdd62 48px,#dae375 51px,#ebe887 61px,#bcdd62 82px,#99d55e 90px,#7bcc6b 98px,#51b17e 114px,#2f7b88 145px,#0e5892 174px,#104b96 185px,#1e36a0 198px,#2c209a 215px,#2a1978 245px,#2a1a7c 332px)"></i>
<i style="left:640px;height:332.7px;background:linear-gradient(#5eba79 0px,#58b67b 37px,#6dc472 44px,#a0d75f 48px,#bedd64 50px,#dce376 53px,#ece888 63px,#e1e57c 69px,#d7e271 71px,#b7dc60 83px,#9bd55e 89px,#7ccd6b 97px,#54b37d 112px,#2e7a88 145px,#0e5892 173px,#104a96 185px,#1d37a0 197px,#2c1f98 217px,#2a1977 245px,#2a1a7c 332px)"></i>
<i style="left:641px;height:332.8px;background:linear-gradient(#61bc77 0px,#58b67b 36px,#6cc372 44px,#9dd65f 48px,#badc61 50px,#d1e16e 53px,#d7e271 72px,#b9dc61 84px,#94d45e 92px,#51b17e 115px,#2f7b88 146px,#0e5892 175px,#104b96 186px,#1e36a0 199px,#2c209a 216px,#2a1978 246px,#2a1a7c 332px)"></i>
<i style="left:642px;height:332.9px;background:linear-gradient(#60bb78 0px,#5bb87a 34px,#6ac173 40px,#98d55e 44px,#badc61 46px,#dbe375 49px,#ede889 60px,#c1de65 78px,#b0da60 85px,#9ad55e 90px,#7fce69 97px,#51b17e 114px,#1b658c 160px,#0e5892 174px,#104996 186px,#1e37a0 198px,#2c1f98 218px,#2a1977 246px,#2a1a7c 332px)"></i>
<i style="left:643px;height:333.2px;background:linear-gradient(#62bc77 0px,#5ab77a 30px,#6bc273 37px,#9bd65e 41px,#bbdd62 43px,#d7e272 46px,#e2e57d 57px,#d6e271 68px,#b6dc60 80px,#97d55e 89px,#79cc6c 97px,#50b07f 113px,#1a648c 159px,#0e5892 172px,#104a96 184px,#1e36a0 197px,#2c209a 214px,#2a1977 244px,#2a1a7c 332px)"></i>
<i style="left:644px;height:332.9px;background:linear-gradient(#64be76 0px,#5bb87a 33px,#69c174 41px,#93d45e 45px,#b5db60 47px,#d4e170 50px,#e7e682 61px,#e0e47b 66px,#d5e170 69px,#b7dc60 80px,#9bd65e 86px,#79cc6c 95px,#50b07f 111px,#1a648c 157px,#0e5892 170px,#104a96 182px,#1e36a0 195px,#2c209a 212px,#2a1977 242px,#2a1a7c 332px)"></i>
<i style="left:645px;height:331.9px;background:linear-gradient(#64be76 0px,#5bb87a 35px,#6fc571 43px,#a2d75f 47px,#bfdd64 49px,#d7e272 52px,#e2e57d 63px,#dbe375 70px,#b8dc60 83px,#97d55e 90px,#52b27e 113px,#327f88 142px,#0e5892 173px,#104a96 185px,#1e36a0 198px,#2c209a 215px,#2a1978 245px,#2a1a7c 332px)"></i>
<i style="left:646px;height:332.7px;background:linear-gradient(#67bf75 0px,#5db979 32px,#62bd77 37px,#6dc372 42px,#9ed65f 46px,#bcdd62 48px,#d5e170 51px,#d8e272 72px,#b8dc60 84px,#94d45e 92px,#52b27e 114px,#307c88 145px,#0f5991 173px,#104a96 186px,#1e36a0 199px,#2c1f98 219px,#2a1977 247px,#2a1a7c 332px)"></i>
<i style="left:647px;height:332.3px;background:linear-gradient(#65bf75 0px,#5cb979 33px,#69c174 40px,#76ca6e 42px,#9ed65f 45px,#bcdd63 47px,#d7e271 50px,#e0e47b 61px,#d3e16f 73px,#b8dc60 83px,#93d45e 91px,#52b27e 113px,#307c88 144px,#0f5991 172px,#104a96 185px,#1e37a0 198px,#2c1f98 218px,#2a1977 246px,#2a1a7c 332px)"></i>
<i style="left:648px;height:331.9px;background:linear-gradient(#67bf75 0px,#5db979 33px,#69c174 41px,#76ca6e 43px,#9fd65f 46px,#bedd63 48px,#dce376 51px,#ece888 62px,#d7e271 70px,#adda5f 84px,#96d45e 89px,#7ccd6b 96px,#56b57c 110px,#317d88 142px,#0e5892 172px,#104a96 184px,#1e36a0 197px,#2c209a 214px,#2a1978 244px,#2a1a7c 332px)"></i>
<i style="left:649px;height:331.9px;background:linear-gradient(#69c173 0px,#60bb78 29px,#69c174 40px,#76c96e 42px,#9ed65f 45px,#c9df69 48px,#e0e47a 50px,#f1ea8d 61px,#d7e271 70px,#adda5f 84px,#96d45e 89px,#7ccd6b 96px,#56b57c 110px,#317d88 142px,#0e5892 172px,#104a96 184px,#1e36a0 197px,#2c209a 214px,#2a1978 244px,#2a1a7c 332px)"></i>
<i style="left:650px;height:331.9px;background:linear-gradient(#66bf75 0px,#5db979 31px,#69c174 38px,#92d45f 42px,#b4db60 44px,#d2e16f 47px,#dfe479 59px,#d8e272 69px,#b6db60 82px,#95d45e 89px,#51b17e 112px,#2f7b88 143px,#0e5892 172px,#104a96 184px,#1e36a0 197px,#2c209a 214px,#2a1978 244px,#2a1a7c 332px)"></i>
<i style="left:651px;height:331.9px;background:linear-gradient(#69c174 0px,#5fbb78 29px,#69c174 38px,#77ca6d 40px,#a0d75f 43px,#bddd63 45px,#d6e271 48px,#dce376 59px,#d6e271 70px,#b3db60 83px,#94d45e 90px,#7acc6c 97px,#51b17e 113px,#1a648c 159px,#0e5892 173px,#104996 185px,#1e36a0 198px,#2c209a 215px,#2a1977 245px,#2a1a7c 332px)"></i>
<i style="left:652px;height:331.9px;background:linear-gradient(#68c174 0px,#5fba78 32px,#6ac173 40px,#98d55e 44px,#bbdd62 46px,#dde478 49px,#f1ea8e 60px,#d7e271 71px,#adda5f 86px,#95d45e 92px,#7fce69 98px,#51b17e 115px,#2f7b88 146px,#0e5892 175px,#104a96 187px,#1e36a0 200px,#2c1f97 220px,#2a1977 248px,#2a1a7c 332px)"></i>
<i style="left:653px;height:331.9px;background:linear-gradient(#63bd76 0px,#5ab77a 33px,#6ec472 41px,#a0d75f 45px,#bddd63 47px,#d6e271 50px,#dce376 62px,#d8e272 71px,#b8dc60 83px,#97d55e 92px,#52b27e 115px,#327f88 144px,#0e5892 175px,#104b96 187px,#1d37a0 200px,#2c209a 218px,#2a1977 248px,#2a1a7c 332px)"></i>
<i style="left:654px;height:331.9px;background:linear-gradient(#64be76 0px,#5bb87a 32px,#69c174 40px,#94d45e 44px,#b9dc60 46px,#e4e67f 50px,#f6ec92 60px,#d7e271 71px,#b7dc60 83px,#95d45e 91px,#53b37d 113px,#19638c 161px,#0e5892 174px,#104a96 186px,#1e36a0 199px,#2c1f98 219px,#2a1977 247px,#2a1a7c 332px)"></i>
<i style="left:655px;height:331.9px;background:linear-gradient(#63bd76 0px,#59b77b 32px,#69c173 40px,#95d45e 44px,#b8dc60 46px,#d6e271 49px,#e6e681 60px,#d6e271 71px,#b7dc60 83px,#9ad55e 91px,#7ccd6b 99px,#51b17e 115px,#1a648c 161px,#0e5892 175px,#104a96 187px,#1e36a0 200px,#2c209a 218px,#2a1977 248px,#2a1a7c 332px)"></i>
<i style="left:656px;height:331.9px;background:linear-gradient(#65be76 0px,#5bb87a 30px,#68c174 38px,#75c96e 40px,#9dd65e 43px,#bbdd62 45px,#d6e271 48px,#dce376 60px,#d8e272 69px,#b8dc60 81px,#96d45e 92px,#51b17e 116px,#317d88 145px,#0e5892 175px,#104a96 188px,#1e36a0 201px,#2c1f97 221px,#2a1977 249px,#2a1a7c 332px)"></i>
<i style="left:657px;height:331.9px;background:linear-gradient(#66bf75 0px,#5db979 31px,#69c173 39px,#94d45e 43px,#b8dc60 45px,#dee479 49px,#eee98a 59px,#c1de65 77px,#9dd65e 90px,#7acc6c 100px,#50af7f 116px,#1b658c 160px,#0f5991 173px,#104a96 187px,#1e37a0 200px,#2c209a 218px,#2a1977 248px,#2a1a7c 332px)"></i>
<i style="left:658px;height:331.9px;background:linear-gradient(#68c074 0px,#5fbb78 33px,#69c173 40px,#93d45e 44px,#b8dc60 46px,#e2e57d 50px,#f3eb8f 60px,#d8e272 70px,#b9dc60 82px,#96d45e 92px,#54b37d 113px,#1c668c 158px,#0e5892 173px,#104a96 186px,#1e37a0 199px,#2c209a 217px,#2a1977 247px,#2a1a7c 332px)"></i>
<i style="left:659px;height:331.9px;background:linear-gradient(#6ac273 0px,#61bc77 27px,#69c174 39px,#75c96e 41px,#9cd65e 44px,#badc61 46px,#d4e170 49px,#d8e272 69px,#b7dc60 82px,#95d45e 89px,#52b27e 110px,#2e7a88 141px,#0f5991 168px,#104a96 182px,#1e36a0 196px,#2c1f97 216px,#2a1977 244px,#2a1a7c 332px)"></i>
<i style="left:660px;height:332.0px;background:linear-gradient(#69c174 0px,#60bb77 26px,#69c174 39px,#77ca6d 41px,#a0d75f 44px,#c0dd64 46px,#e1e57b 49px,#f2eb8f 59px,#d9e273 69px,#add95f 83px,#94d45e 88px,#7ccd6b 94px,#51b17e 109px,#307c88 138px,#105a91 165px,#104b96 180px,#1e36a0 194px,#2c209a 212px,#2a1977 242px,#2a1a7c 332px)"></i>
<i style="left:661px;height:332.8px;background:linear-gradient(#6ac273 0px,#61bc77 27px,#69c174 39px,#77ca6d 41px,#a0d75f 44px,#bedd63 46px,#d1e16e 48px,#e3e57e 59px,#dce376 64px,#badc61 75px,#9dd65e 81px,#7bcc6b 89px,#52b27e 103px,#1b658c 147px,#0e5892 162px,#104a96 175px,#1e36a0 189px,#2c1f98 209px,#2a1977 237px,#2a1a7c 332px)"></i>
<i style="left:662px;height:332.6px;background:linear-gradient(#68c074 0px,#5eba78 31px,#6ac273 39px,#99d55e 43px,#bcdd62 45px,#dfe47a 48px,#f1ea8e 58px,#e5e680 64px,#d8e272 66px,#aeda5f 79px,#94d45e 84px,#7ccd6b 90px,#52b27e 104px,#1c668c 147px,#105a91 160px,#104a96 176px,#1e36a0 190px,#2c1f98 210px,#2a1977 238px,#2a1a7c 332px)"></i>
<i style="left:663px;height:332.5px;background:linear-gradient(#68c074 0px,#5fba78 29px,#6ac173 37px,#97d55e 41px,#b9dc60 43px,#d6e271 46px,#e1e57c 57px,#d8e272 65px,#b7dc60 76px,#98d55e 82px,#77ca6d 90px,#51b17e 103px,#1e688b 144px,#0e5892 161px,#104a96 174px,#1e36a0 188px,#2c209a 206px,#2a1977 236px,#2a1a7c 332px)"></i>
<i style="left:664px;height:331.9px;background:linear-gradient(#68c174 0px,#5fbb78 27px,#69c174 34px,#77ca6d 36px,#a0d75f 39px,#bddd63 41px,#d4e170 44px,#d8e272 63px,#b7dc60 75px,#97d55e 81px,#52b27e 101px,#1b658c 144px,#0e5892 159px,#104a96 172px,#1d37a0 186px,#2c1f98 207px,#2a1977 235px,#2a1a7c 332px)"></i>
<i style="left:665px;height:331.9px;background:linear-gradient(#69c173 0px,#60bb77 25px,#69c174 35px,#77ca6d 37px,#9fd75f 40px,#bedd63 42px,#dbe375 45px,#ebe886 55px,#cee06c 64px,#b9dc60 71px,#99d55e 77px,#77ca6d 85px,#53b27e 97px,#1e688b 138px,#0e5892 155px,#104a96 168px,#1e36a0 183px,#2c209a 201px,#2a1977 231px,#2a1a7c 332px)"></i>
<i style="left:666px;height:331.9px;background:linear-gradient(#66bf75 0px,#5db979 30px,#69c174 37px,#79cb6c 39px,#a4d75f 42px,#b6dc60 43px,#dee478 47px,#eee98a 56px,#d5e170 60px,#b9dc61 69px,#99d55e 75px,#77ca6d 83px,#52b27e 95px,#2e7a88 124px,#105a91 150px,#104a96 166px,#1d37a0 180px,#2c1f98 201px,#2a1977 229px,#2a1a7c 332px)"></i>
<i style="left:667px;height:331.9px;background:linear-gradient(#67c075 0px,#5eba79 30px,#69c174 37px,#76c96e 39px,#9ed65f 42px,#bfdd64 44px,#d5e170 46px,#e3e57e 47px,#f5ec91 56px,#dee479 57px,#d8e272 58px,#b8dc60 68px,#97d55e 74px,#7ccd6b 80px,#53b27e 93px,#1b658c 135px,#0f5991 149px,#104a96 164px,#1d37a0 178px,#2c209a 197px,#2a1977 227px,#2a1a7c 332px)"></i>
<i style="left:668px;height:331.9px;background:linear-gradient(#68c074 0px,#5fba78 31px,#69c174 38px,#77ca6d 40px,#a0d75f 43px,#c0dd64 45px,#e2e57d 48px,#f2eb8f 57px,#dbe376 58px,#d6e271 59px,#b5db60 69px,#94d45e 75px,#82cf67 79px,#53b37d 93px,#2e7a88 122px,#105a91 148px,#104a96 164px,#1e36a0 179px,#2c209a 197px,#2a1977 227px,#2a1a7c 332px)"></i>
<i style="left:669px;height:331.9px;background:linear-gradient(#66bf75 0px,#5db979 30px,#69c174 37px,#76ca6e 39px,#9fd65f 42px,#bedd63 44px,#dce376 47px,#ece888 56px,#d7e271 60px,#b6db60 70px,#99d55e 75px,#76ca6e 83px,#53b37e 94px,#317d88 121px,#1b658c 136px,#0f5991 150px,#104a96 165px,#1e36a0 180px,#2c209a 198px,#2a1977 228px,#2a1a7c 332px)"></i>
<i style="left:670px;height:331.9px;background:linear-gradient(#64be76 0px,#5bb87a 28px,#69c173 36px,#95d45e 40px,#b7dc60 42px,#d4e170 45px,#e3e57e 55px,#d8e272 64px,#b7dc60 74px,#9bd65e 79px,#7acc6c 86px,#53b37d 98px,#317d88 125px,#1b658c 140px,#0f5991 154px,#104a96 169px,#1e36a0 184px,#2c209a 202px,#2a1977 232px,#2a1a7c 332px)"></i>
<i style="left:671px;height:331.9px;background:linear-gradient(#65be75 0px,#5cb87a 27px,#68c174 34px,#75c86e 36px,#9bd65e 39px,#bbdd62 41px,#d7e271 44px,#e0e47b 54px,#d9e273 62px,#b9dc61 72px,#98d55e 78px,#78cb6d 85px,#52b27e 97px,#3f9486 110px,#1d678b 137px,#0e5892 154px,#104996 168px,#1e36a0 182px,#2c1f97 203px,#2a1977 231px,#2a1a7c 332px)"></i>
<i style="left:672px;height:331.9px;background:linear-gradient(#64be76 0px,#5bb87a 28px,#69c174 35px,#76ca6e 37px,#9ed65f 40px,#bddd63 42px,#d7e272 45px,#e2e57d 55px,#d8e272 64px,#bbdc61 75px,#94d45e 82px,#52b27e 100px,#409686 112px,#1a648c 142px,#0e5892 157px,#104a96 171px,#1e37a0 185px,#2c209a 204px,#2a1977 234px,#2a1a7c 332px)"></i>
<i style="left:673px;height:331.9px;background:linear-gradient(#66bf75 0px,#5cb979 25px,#69c174 32px,#76c96e 34px,#9dd65e 37px,#bbdd62 39px,#d6e271 42px,#dde377 52px,#d8e272 61px,#b6dc60 74px,#98d55e 80px,#78cb6d 87px,#51b17e 99px,#2f7b88 126px,#0f5991 154px,#104a96 169px,#1e36a0 184px,#2c209a 202px,#2a1977 232px,#2a1a7c 332px)"></i>
<i style="left:674px;height:331.9px;background:linear-gradient(#64be76 0px,#5bb87a 23px,#68c174 30px,#76c96e 32px,#9dd65e 35px,#bcdd62 37px,#d7e272 40px,#e2e57d 50px,#d8e272 59px,#b8dc60 71px,#96d45e 81px,#7acc6c 87px,#52b27e 99px,#3f9486 112px,#1d678b 139px,#0e5892 156px,#104a96 170px,#1e37a0 184px,#2c209a 203px,#2a1977 233px,#2a1a7c 332px)"></i>
<i style="left:675px;height:331.9px;background:linear-gradient(#62bd77 0px,#5ab77a 27px,#6ec471 35px,#a0d75f 39px,#bbdd62 41px,#d2e16e 44px,#d7e271 63px,#b8dc60 75px,#97d55e 81px,#77ca6d 88px,#53b27e 99px,#3f9486 112px,#1d678b 139px,#0e5892 156px,#104a96 170px,#1d37a0 184px,#2c209a 203px,#2a1977 233px,#2a1a7c 332px)"></i>
<i style="left:676px;height:331.9px;background:linear-gradient(#63bd76 0px,#5ab77a 27px,#68c174 34px,#76ca6e 36px,#9ed65f 39px,#bddd63 41px,#d9e273 44px,#e7e783 53px,#d7e271 63px,#b8dc60 75px,#98d55e 81px,#74c86f 89px,#53b27e 99px,#3f9486 112px,#1d678b 139px,#0e5892 156px,#104a96 170px,#1d37a0 184px,#2c209a 203px,#2a1977 233px,#2a1a7c 332px)"></i>
<i style="left:677px;height:331.9px;background:linear-gradient(#61bc77 0px,#58b67b 25px,#68c174 33px,#77ca6d 35px,#9fd75f 38px,#bedd63 40px,#d8e272 43px,#e5e681 52px,#d7e271 62px,#b1da60 76px,#9ad55e 81px,#75c96e 89px,#53b37d 99px,#3f9486 112px,#1a648c 141px,#0e5892 156px,#104a96 170px,#1e36a0 185px,#2c209a 203px,#2a1977 233px,#2a1a7c 332px)"></i>
<i style="left:678px;height:331.9px;background:linear-gradient(#63bd76 0px,#59b77b 26px,#69c174 34px,#84cf67 37px,#b6db60 40px,#d8e272 43px,#e7e682 44px,#f9ed95 53px,#d6e271 63px,#b7dc60 75px,#99d55e 80px,#80ce69 85px,#52b27e 98px,#2f7b88 125px,#105a91 152px,#104996 169px,#1e37a0 183px,#2c209a 202px,#2a1977 232px,#2a1a7c 332px)"></i>
<i style="left:679px;height:331.9px;background:linear-gradient(#61bc77 0px,#58b67b 27px,#68c074 34px,#76c96e 36px,#9ed65f 39px,#bedd63 41px,#dce377 44px,#ede889 53px,#b9dc61 73px,#9bd65e 78px,#79cb6c 85px,#53b37d 96px,#3e9286 110px,#1b658c 137px,#0e5892 153px,#104a96 167px,#1d37a0 181px,#2c209a 200px,#2a1977 230px,#2a1a7c 332px)"></i>
<i style="left:680px;height:332.2px;background:linear-gradient(#61bc77 0px,#58b67b 27px,#63bd76 32px,#6bc273 35px,#9bd65e 39px,#bbdd62 41px,#d7e271 44px,#e0e47b 54px,#d7e271 63px,#bddd63 72px,#97d55e 79px,#76ca6e 86px,#51b17e 97px,#409686 108px,#1a648c 138px,#0e5892 153px,#104a96 167px,#1e36a0 182px,#2c209a 200px,#2a1977 230px,#2a1a7c 332px)"></i>
<i style="left:681px;height:332.5px;background:linear-gradient(#5fba78 0px,#57b57c 29px,#6ac173 36px,#98d55e 40px,#badc61 42px,#d8e272 45px,#ebe887 54px,#dde377 61px,#b8dc60 71px,#9bd55e 76px,#79cb6c 83px,#51b17e 95px,#409686 106px,#1a648c 136px,#0e5892 151px,#104a96 165px,#1d37a0 179px,#2c209a 198px,#2a1977 228px,#2a1a7c 332px)"></i>
<i style="left:682px;height:331.9px;background:linear-gradient(#5cb979 0px,#54b37d 29px,#6ec471 37px,#a0d75f 41px,#bddd63 43px,#d5e170 46px,#d9e273 56px,#d1e16e 64px,#b9dc61 71px,#97d55e 77px,#77ca6d 84px,#52b27e 95px,#3f9486 108px,#1d678b 135px,#0e5892 152px,#104996 166px,#1e36a0 180px,#2c1f97 201px,#2a1977 229px,#2a1a7c 332px)"></i>
<i style="left:683px;height:331.9px;background:linear-gradient(#5cb979 0px,#53b37e 29px,#6bc273 37px,#9bd65e 41px,#bbdc61 43px,#d6e271 46px,#dfe479 56px,#d8e272 64px,#b6db60 74px,#99d55e 79px,#78cb6d 86px,#51b17e 98px,#2f7b88 125px,#0f5991 153px,#104a96 168px,#1d37a0 182px,#2c209a 201px,#2a1977 231px,#2a1a7c 332px)"></i>
<i style="left:684px;height:331.9px;background:linear-gradient(#5ab77b 0px,#51b17e 30px,#6bc273 38px,#9bd65e 42px,#b9dc61 44px,#d3e16f 47px,#d7e271 63px,#b5db60 73px,#98d55e 78px,#78cb6d 85px,#54b47d 96px,#2e7a88 125px,#1b658c 138px,#0f5991 152px,#104a96 167px,#1d37a0 181px,#2c209a 200px,#2a1977 230px,#2a1a7c 332px)"></i>
<i style="left:685px;height:331.9px;background:linear-gradient(#5bb87a 0px,#53b37d 30px,#69c174 37px,#95d45e 41px,#b9dc61 43px,#e1e57c 47px,#f1ea8d 55px,#e9e785 59px,#d6e271 62px,#aeda5f 73px,#93d45f 78px,#7ccd6b 83px,#52b27e 96px,#307c88 123px,#1a648c 138px,#105a91 150px,#104a96 166px,#1d37a0 180px,#2c209a 199px,#2a1977 229px,#2a1a7c 332px)"></i>
<i style="left:686px;height:331.9px;background:linear-gradient(#5ab77a 0px,#53b37e 30px,#69c173 37px,#97d55e 41px,#b9dc61 43px,#d8e272 46px,#ebe887 55px,#dbe375 63px,#bedd63 72px,#9ad55e 79px,#7acc6c 86px,#51b17e 99px,#1d678b 139px,#0f5991 154px,#104a96 169px,#1e36a0 183px,#2c209a 201px,#2a1977 232px,#2a1a7c 332px)"></i>
<i style="left:687px;height:331.9px;background:linear-gradient(#5cb979 0px,#52b27e 28px,#6ac173 36px,#98d55e 40px,#b8dc60 42px,#d4e170 45px,#d9e273 58px,#d8e272 62px,#b9dc61 72px,#93d45e 79px,#53b37d 97px,#3f9486 111px,#1d678b 138px,#0f5991 153px,#104a96 168px,#1e36a0 182px,#2c209a 200px,#2a1977 230px,#2a1a7c 332px)"></i>
<i style="left:688px;height:331.9px;background:linear-gradient(#5bb87a 0px,#52b27e 29px,#6bc273 37px,#9cd65e 41px,#bcdd62 43px,#d8e272 46px,#e5e680 55px,#dae374 62px,#badc61 72px,#9ad55e 78px,#77ca6d 86px,#52b27e 98px,#1e688b 138px,#0e5892 155px,#104a96 168px,#1e37a0 182px,#2c1f97 203px,#2a1977 231px,#2a1a7c 332px)"></i>
<i style="left:689px;height:331.9px;background:linear-gradient(#57b57c 0px,#52b27e 31px,#6ec471 38px,#a1d75f 42px,#c0dd64 44px,#dee478 47px,#eee98a 56px,#d5e170 64px,#b9dc61 73px,#9ad55e 79px,#7bcc6c 86px,#52b27e 99px,#1d678b 140px,#0e5892 156px,#104a96 169px,#1d37a0 183px,#2c1f97 204px,#2a1977 232px,#2a1a7c 332px)"></i>
<i style="left:690px;height:331.9px;background:linear-gradient(#59b67b 0px,#53b37e 33px,#6bc273 40px,#9bd65e 44px,#bcdd62 46px,#dae375 49px,#ebe887 58px,#d6e271 62px,#b7dc60 72px,#9cd65e 77px,#79cc6c 85px,#52b27e 98px,#1b658c 140px,#0e5892 155px,#104a96 168px,#1e36a0 182px,#2c209a 200px,#2a1977 230px,#2a1a7c 332px)"></i>
<i style="left:691px;height:331.9px;background:linear-gradient(#57b57c 0px,#51b17e 32px,#69c174 39px,#94d45e 43px,#b7dc60 45px,#d5e271 48px,#e9e785 57px,#dce377 64px,#b9dc61 75px,#9ad55e 81px,#78cb6d 89px,#51b17e 102px,#1b658c 144px,#0e5892 159px,#104a96 172px,#1e36a0 186px,#2c1f98 206px,#2a1977 234px,#2a1a7c 332px)"></i>
<i style="left:692px;height:332.0px;background:linear-gradient(#57b57c 0px,#52b27e 31px,#6cc373 38px,#9cd65e 42px,#bbdd62 44px,#d6e271 47px,#dce376 57px,#dae374 61px,#b9dc61 72px,#96d45e 79px,#79cb6c 86px,#52b27e 99px,#1c668c 141px,#0f5991 155px,#104a96 169px,#1e36a0 183px,#2c209a 201px,#2a1977 231px,#2a1a7c 332px)"></i>
<i style="left:693px;height:332.1px;background:linear-gradient(#55b47d 0px,#52b27e 31px,#6fc571 38px,#92d35f 41px,#b3db60 43px,#d2e16f 46px,#dfe479 55px,#d6e271 65px,#b3db60 78px,#95d45e 84px,#79cb6c 91px,#4fae7f 106px,#1e688b 145px,#0e5892 162px,#104a96 174px,#1e36a0 188px,#2c209a 206px,#2a1977 236px,#2a1a7c 332px)"></i>
<i style="left:694px;height:332.3px;background:linear-gradient(#55b47c 0px,#51b17e 29px,#6dc472 36px,#9fd75f 40px,#bedd63 42px,#d9e273 45px,#e6e681 54px,#c1de65 70px,#9dd65e 83px,#7bcc6b 92px,#50b07f 107px,#1c668c 148px,#0f5991 162px,#104a96 176px,#1e36a0 190px,#2c1f98 210px,#2a1977 238px,#2a1a7c 332px)"></i>
<i style="left:695px;height:333.3px;background:linear-gradient(#53b37d 0px,#51b07e 33px,#6ec471 40px,#a1d75f 44px,#b4db60 45px,#dde478 49px,#eee98a 57px,#d5e170 67px,#adda5f 79px,#94d45e 84px,#7ccd6b 90px,#53b27e 104px,#1d678b 146px,#0e5892 162px,#104996 175px,#1e36a0 188px,#2c209a 206px,#2a1977 236px,#2a1a7c 332px)"></i>
<i style="left:696px;height:332.8px;background:linear-gradient(#53b27e 0px,#51b07e 35px,#70c670 42px,#93d45e 45px,#b5db60 47px,#d2e16f 50px,#dde377 59px,#d8e272 68px,#b2db60 82px,#94d45e 88px,#51b17e 109px,#1c668c 151px,#0e5892 166px,#104a96 179px,#1d37a0 192px,#2c209a 210px,#2a1978 240px,#2a1a7c 332px)"></i>
<i style="left:697px;height:331.9px;background:linear-gradient(#50af7f 0px,#4ba881 31px,#50b07f 34px,#6dc372 40px,#9ed65f 44px,#bcdd62 46px,#d5e170 49px,#dae374 58px,#d6e271 67px,#b9dc60 78px,#94d45e 90px,#51b17e 112px,#1b658c 155px,#0e5892 170px,#104a96 182px,#1e36a0 196px,#2c1f97 216px,#2a1977 244px,#2a1a7c 332px)"></i>
<i style="left:698px;height:331.9px;background:linear-gradient(#51b07f 0px,#4ca980 31px,#52b27e 34px,#69c174 39px,#95d45e 43px,#b9dc60 45px,#dfe47a 49px,#efe98c 57px,#d7e271 66px,#aeda5f 81px,#8ed261 92px,#52b27e 111px,#1a648c 155px,#0e5892 169px,#104a96 182px,#1e36a0 195px,#2c209a 213px,#2a1977 243px,#2a1a7c 332px)"></i>
<i style="left:699px;height:331.9px;background:linear-gradient(#52b27e 0px,#4dab80 28px,#50b07f 34px,#70c571 41px,#93d45e 44px,#b4db60 46px,#d2e16f 49px,#dce376 58px,#d7e272 67px,#b8dc60 79px,#95d45e 90px,#7fce69 98px,#51b17e 114px,#1b658c 157px,#0e5892 172px,#104a96 184px,#1e36a0 198px,#2c209a 215px,#2a1978 245px,#2a1a7c 332px)"></i>
<i style="left:700px;height:331.9px;background:linear-gradient(#51b07f 0px,#4ca980 32px,#51b17e 35px,#6ec471 41px,#91d35f 44px,#b4db60 46px,#dee479 50px,#efe98b 58px,#d1e16e 69px,#aeda5f 82px,#92d35f 89px,#53b37e 109px,#1d678b 152px,#0e5892 168px,#104a96 180px,#1e36a0 194px,#2c209a 211px,#2a1977 242px,#2a1a7c 332px)"></i>
<i style="left:701px;height:331.9px;background:linear-gradient(#51b07e 0px,#4ead7f 33px,#6bc273 40px,#9bd65e 44px,#bbdd62 46px,#d9e273 49px,#e7e783 58px,#c3de66 73px,#9cd65e 87px,#7acc6c 99px,#51b17e 114px,#1a648c 158px,#0e5892 172px,#104a96 184px,#1e36a0 198px,#2c209a 215px,#2a1977 246px,#2a1a7c 332px)"></i>
<i style="left:702px;height:331.9px;background:linear-gradient(#54b37d 0px,#51b07e 32px,#6cc372 39px,#9ed65f 43px,#bedd63 45px,#dde377 48px,#ede889 57px,#c0dd64 73px,#95d45e 88px,#78cb6d 100px,#50af7f 115px,#1e688b 156px,#0e5892 172px,#104a96 185px,#1e36a0 198px,#2c209a 216px,#2a1977 246px,#2a1a7c 332px)"></i>
<i style="left:703px;height:331.9px;background:linear-gradient(#55b47d 0px,#51b17e 30px,#6dc472 37px,#9fd75f 41px,#bfdd64 43px,#e2e57d 46px,#f3eb8f 54px,#c5de67 69px,#95d45e 86px,#78cb6d 97px,#50af7f 112px,#1b658c 155px,#0f5991 168px,#104a96 182px,#1e36a0 195px,#2c209a 213px,#2a1977 243px,#2a1a7c 332px)"></i>
<i style="left:704px;height:331.9px;background:linear-gradient(#53b37e 0px,#51b07f 32px,#6fc571 39px,#a3d75f 43px,#c0de65 45px,#dce377 48px,#ede889 56px,#d3e16f 66px,#adda5f 80px,#94d45e 88px,#54b37d 109px,#1d678b 153px,#105a91 166px,#104a96 181px,#1e37a0 194px,#2c209a 212px,#2a1977 242px,#2a1a7c 332px)"></i>
<i style="left:705px;height:331.9px;background:linear-gradient(#55b47d 0px,#52b17e 36px,#6fc571 43px,#a3d75f 47px,#b5db60 48px,#dde377 52px,#ede889 60px,#c1de65 76px,#b4db60 82px,#9cd65e 87px,#7ccd6b 95px,#53b37e 110px,#1b658c 155px,#0f5991 168px,#104a96 182px,#1e36a0 195px,#2c1f97 215px,#2a1977 243px,#2a1a7c 332px)"></i>
<i style="left:706px;height:332.3px;background:linear-gradient(#58b67b 0px,#51b17e 36px,#6fc571 44px,#92d35f 47px,#b3db60 49px,#d1e16e 52px,#dce376 61px,#d8e272 67px,#c0dd64 76px,#96d45e 86px,#51b17e 109px,#2f7b88 139px,#0f5991 166px,#104a96 180px,#1e36a0 193px,#2c1f97 213px,#2a1977 241px,#2a1a7c 332px)"></i>
<i style="left:707px;height:332.2px;background:linear-gradient(#56b57c 0px,#4fae7f 32px,#53b37d 36px,#69c174 42px,#96d55e 46px,#b8dc60 48px,#d4e170 51px,#dee479 60px,#d6e271 69px,#b0da60 83px,#94d45e 89px,#52b27e 111px,#1b658c 156px,#0e5892 170px,#104996 183px,#1e36a0 196px,#2c209a 213px,#2a1977 243px,#2a1a7c 332px)"></i>
<i style="left:708px;height:333.5px;background:linear-gradient(#5ab77a 0px,#53b37e 36px,#69c174 43px,#96d45e 47px,#b9dc60 49px,#d7e271 52px,#ece888 61px,#d5e170 70px,#aeda5f 83px,#96d55e 88px,#7ccd6b 95px,#56b57c 109px,#1e688b 154px,#0e5892 170px,#104a96 182px,#1d37a0 195px,#2c209a 213px,#2a1977 243px,#2a1a7c 332px)"></i>
<i style="left:709px;height:333.5px;background:linear-gradient(#58b67b 0px,#51b17e 35px,#69c174 42px,#95d45e 46px,#b9dc60 48px,#e2e57c 52px,#f2ea8e 60px,#d7e271 69px,#adda5f 83px,#96d45e 88px,#7ccd6b 95px,#54b37d 110px,#1d678b 155px,#0e5892 170px,#104996 183px,#1e35a0 196px,#2c209a 213px,#2a1977 243px,#2a1a7c 332px)"></i>
<i style="left:710px;height:332.6px;background:linear-gradient(#59b67b 0px,#51b17e 34px,#68c174 41px,#78cb6d 43px,#a3d75f 46px,#b5db60 47px,#e0e47b 51px,#f1ea8d 59px,#d1e16e 70px,#aeda5f 83px,#95d45e 89px,#7ccd6b 96px,#54b37d 111px,#1a648c 158px,#0f5991 170px,#104996 184px,#1e35a0 197px,#2c209a 214px,#2a1977 244px,#2a1a7c 332px)"></i>
<i style="left:711px;height:331.9px;background:linear-gradient(#55b47d 0px,#51b17e 33px,#6bc373 40px,#9cd65e 44px,#b0da60 45px,#d4e170 48px,#e4e680 49px,#f6ec93 58px,#d9e273 66px,#b6dc60 79px,#96d45e 87px,#79cc6c 95px,#52b27e 110px,#2e7a88 142px,#0e5892 170px,#104a96 182px,#1e36a0 195px,#2c1f97 215px,#2a1977 243px,#2a1a7c 332px)"></i>
<i style="left:712px;height:331.9px;background:linear-gradient(#55b47d 0px,#50b07f 35px,#69c173 42px,#97d55e 46px,#b9dc61 48px,#d7e271 51px,#e9e784 60px,#badc61 80px,#99d55e 88px,#73c86f 99px,#50b07f 113px,#1b658c 158px,#0e5892 172px,#104a96 184px,#1e36a0 197px,#2c209a 214px,#2a1978 244px,#2a1a7c 332px)"></i>
<i style="left:713px;height:331.9px;background:linear-gradient(#55b47d 0px,#50b07f 35px,#69c174 42px,#96d45e 46px,#b8dc60 48px,#d6e271 51px,#e8e783 60px,#c0dd64 77px,#9ad55e 89px,#79cc6c 98px,#52b27e 113px,#1a648c 160px,#0e5892 173px,#104a96 185px,#1e37a0 198px,#2c1f98 218px,#2a1977 246px,#2a1a7c 332px)"></i>
<i style="left:714px;height:331.9px;background:linear-gradient(#58b67b 0px,#53b27e 36px,#6dc472 43px,#9fd75f 47px,#bfdd64 49px,#dee478 52px,#eee98a 61px,#d8e272 68px,#adda5f 83px,#96d55e 88px,#7dcd6a 95px,#53b37d 111px,#1b658c 158px,#0e5892 172px,#104a96 184px,#1e36a0 197px,#2c209a 214px,#2a1977 244px,#2a1a7c 332px)"></i>
<i style="left:715px;height:331.9px;background:linear-gradient(#59b77b 0px,#53b37d 38px,#6bc273 45px,#9cd65e 49px,#bcdd62 51px,#d8e272 54px,#e5e681 63px,#badc61 82px,#9cd65e 89px,#75c96e 100px,#52b27e 114px,#1a648c 161px,#0e5892 174px,#104a96 186px,#1e36a0 199px,#2c1f97 219px,#2a1977 247px,#2a1a7c 332px)"></i>
<i style="left:716px;height:333.0px;background:linear-gradient(#5ab77a 0px,#54b47d 39px,#6cc372 46px,#9dd65f 50px,#bcdd62 52px,#d8e272 55px,#e5e680 64px,#d7e271 69px,#b9dc60 81px,#9ad55e 88px,#77ca6d 98px,#50b07f 114px,#1a648c 160px,#0e5892 173px,#104a96 185px,#1e36a0 198px,#2c209a 215px,#2a1978 245px,#2a1a7c 332px)"></i>
<i style="left:717px;height:331.9px;background:linear-gradient(#5bb87a 0px,#54b47d 37px,#6ac273 44px,#9ad55e 48px,#b9dc61 50px,#d5e170 53px,#dbe375 62px,#d4e170 72px,#b8dc60 83px,#95d45e 91px,#74c86e 101px,#50b07f 116px,#317e88 145px,#0f5991 174px,#104a96 187px,#1e36a0 200px,#2c209a 217px,#2a1978 247px,#2a1a7c 332px)"></i>
<i style="left:718px;height:332.6px;background:linear-gradient(#5bb87a 0px,#54b47d 37px,#6ac173 44px,#97d55e 48px,#badc61 50px,#dae374 53px,#eee98b 62px,#d5e170 72px,#afda5f 86px,#96d45e 93px,#7acc6c 101px,#52b27e 117px,#1a648c 165px,#0e5892 178px,#104a96 190px,#1d37a0 202px,#2c209a 220px,#2a1977 250px,#2a1a7c 332px)"></i>
<i style="left:719px;height:331.9px;background:linear-gradient(#59b77b 0px,#52b27e 38px,#69c173 45px,#97d55e 49px,#b8dc60 51px,#d4e170 54px,#dae374 65px,#d8e272 72px,#b9dc60 84px,#93d45e 95px,#51b17e 119px,#1b658c 166px,#0e5892 180px,#104a96 191px,#1e36a0 204px,#2c209a 221px,#2a1978 251px,#2a1a7c 332px)"></i>
<i style="left:720px;height:331.9px;background:linear-gradient(#5db979 0px,#54b37d 38px,#6dc372 46px,#9fd65f 50px,#bedd63 52px,#dbe375 55px,#ebe886 64px,#c0dd64 81px,#99d55e 94px,#77ca6d 104px,#52b27e 119px,#1a648c 167px,#0e5892 180px,#104a96 192px,#1e35a0 205px,#2c209a 222px,#2a1977 252px,#2a1a7c 332px)"></i>
<i style="left:721px;height:331.9px;background:linear-gradient(#5db979 0px,#53b37d 35px,#6fc571 44px,#92d35f 47px,#b2db60 49px,#d5e170 53px,#d8e272 70px,#b7dc60 83px,#95d45e 94px,#52b27e 119px,#1c668c 166px,#0f5991 179px,#104a96 192px,#1e36a0 205px,#2c209a 222px,#2a1977 252px,#2a1a7c 332px)"></i>
<i style="left:722px;height:331.9px;background:linear-gradient(#5eba79 0px,#55b47d 38px,#6dc372 46px,#9fd65f 50px,#bedd64 52px,#dee479 55px,#efe98b 64px,#d5e170 73px,#b8dc60 85px,#9ad55e 92px,#75c96e 103px,#51b17e 118px,#1a648c 166px,#0e5892 179px,#104996 191px,#1e36a0 203px,#2c1f97 223px,#2a1978 250px,#2a1a7c 332px)"></i>
<i style="left:723px;height:331.9px;background:linear-gradient(#5eba79 0px,#54b37d 39px,#6fc571 48px,#93d45f 51px,#b3db60 53px,#d1e16e 56px,#dbe375 66px,#d8e272 73px,#bcdd62 85px,#94d45e 95px,#79cc6c 103px,#51b17e 120px,#1a648c 168px,#0e5892 181px,#104b96 192px,#1e36a0 205px,#2c209a 222px,#2a1977 252px,#2a1a7c 332px)"></i>
<i style="left:724px;height:331.9px;background:linear-gradient(#5fba78 0px,#56b57c 40px,#6dc372 48px,#9fd65f 52px,#bedd64 54px,#dde377 57px,#ede989 66px,#c3de66 82px,#b2db60 89px,#9dd65e 94px,#77ca6d 105px,#51b17e 121px,#19638c 170px,#0e5892 182px,#104a96 194px,#1e37a0 206px,#27289c 214px,#2c1f97 226px,#2a1977 254px,#2a1a7c 332px)"></i>
<i style="left:725px;height:331.9px;background:linear-gradient(#60bb78 0px,#56b57c 39px,#70c571 48px,#93d45e 51px,#b3db60 53px,#d1e16e 56px,#d8e272 74px,#b8dc60 87px,#95d45e 98px,#51b17e 125px,#19638c 174px,#0e5892 186px,#104a96 198px,#1e36a0 210px,#2c209a 227px,#2a1978 257px,#2a1a7c 332px)"></i>
<i style="left:726px;height:332.3px;background:linear-gradient(#5db979 0px,#55b47d 39px,#6ec471 47px,#a1d75f 51px,#bedd63 53px,#d7e271 56px,#e1e57c 65px,#d8e272 74px,#b8dc60 86px,#93d45e 98px,#52b27e 125px,#19638c 175px,#0e5892 187px,#104996 199px,#1e36a0 211px,#2c209a 228px,#2a1977 258px,#2a1a7c 332px)"></i>
<i style="left:727px;height:332.3px;background:linear-gradient(#5db979 0px,#53b37d 40px,#6bc273 48px,#9bd55e 52px,#bcdd62 54px,#dee479 57px,#efe98c 66px,#c1de65 83px,#94d45e 99px,#7acc6c 110px,#50b07f 128px,#1a648c 176px,#0e5892 189px,#104a96 200px,#1e35a0 213px,#2c209a 230px,#2a1977 260px,#2a1a7c 332px)"></i>
<i style="left:728px;height:331.9px;background:linear-gradient(#5db979 0px,#55b47c 42px,#6fc571 50px,#92d45f 53px,#b3db60 55px,#d2e16e 58px,#dde478 68px,#d8e272 77px,#b8dc60 89px,#93d45e 100px,#52b27e 125px,#1c668c 173px,#0e5892 187px,#104996 199px,#1e36a0 211px,#2c209a 228px,#2a1977 258px,#2a1a7c 332px)"></i>
<i style="left:729px;height:332.9px;background:linear-gradient(#5fba78 0px,#56b57c 40px,#6cc372 48px,#9dd65f 52px,#bcdd63 54px,#d8e272 57px,#e6e682 66px,#d6e271 76px,#c1de65 83px,#9ad55e 97px,#53b37d 124px,#19638c 175px,#0e5892 187px,#104b96 198px,#1e36a0 211px,#2c209a 228px,#2a1977 258px,#2a1a7c 332px)"></i>
<i style="left:730px;height:332.8px;background:linear-gradient(#5cb87a 0px,#52b27e 41px,#6ac273 49px,#9ad55e 53px,#badc61 55px,#d7e271 58px,#e0e47b 68px,#d7e271 77px,#b8dc60 89px,#95d45e 100px,#53b37d 125px,#1c668c 174px,#0e5892 188px,#104b96 199px,#1e36a0 212px,#2c209a 229px,#2a1977 259px,#2a1a7c 332px)"></i>
<i style="left:731px;height:332.3px;background:linear-gradient(#59b77b 0px,#51b17e 42px,#6dc372 50px,#9ed65f 54px,#bbdc61 56px,#d2e16f 59px,#d8e272 77px,#b7dc60 90px,#94d45e 101px,#78cb6d 113px,#51b17e 130px,#1a648c 179px,#0e5892 192px,#104a96 203px,#1e35a0 216px,#2c1f98 235px,#2a1977 263px,#2a1a7c 332px)"></i>
<i style="left:732px;height:331.9px;background:linear-gradient(#59b67b 0px,#52b27e 12px,#53b37e 43px,#6bc273 50px,#9bd65e 54px,#bcdd62 56px,#d9e274 59px,#e8e783 69px,#c0dd64 86px,#9bd65e 99px,#72c770 118px,#51b17e 132px,#1c668c 180px,#0e5892 194px,#104996 206px,#1e36a0 218px,#2c209a 235px,#2a1977 265px,#2a1a7c 332px)"></i>
<i style="left:733px;height:331.9px;background:linear-gradient(#59b67b 0px,#51b17e 42px,#6fc571 50px,#a2d75f 54px,#c0dd64 56px,#dbe375 59px,#eae786 68px,#c1de65 85px,#94d45e 101px,#72c770 117px,#51b17e 131px,#19638c 181px,#0e5892 193px,#104b96 204px,#1e36a0 217px,#2c209a 234px,#2a1977 264px,#2a1a7c 332px)"></i>
<i style="left:734px;height:331.9px;background:linear-gradient(#59b77b 0px,#52b17e 43px,#6fc571 51px,#92d35f 54px,#b2db60 56px,#d1e16e 59px,#dae374 70px,#d6e271 79px,#b7dc60 91px,#97d55e 100px,#79cc6c 109px,#50b07f 127px,#307c88 159px,#0e5892 188px,#104a96 200px,#1e36a0 212px,#2c209a 229px,#2a1978 259px,#2a1a7c 332px)"></i>
<i style="left:735px;height:331.9px;background:linear-gradient(#5ab77a 0px,#51b17e 43px,#6ac273 51px,#9ad55e 55px,#bbdd62 57px,#dbe375 60px,#ebe887 69px,#bfdd64 87px,#b8dc60 91px,#9cd65e 98px,#7acc6c 108px,#52b27e 125px,#1b658c 174px,#0e5892 188px,#104a96 199px,#1d37a0 211px,#2c1f98 231px,#2a1977 259px,#2a1a7c 332px)"></i>
<i style="left:736px;height:331.9px;background:linear-gradient(#5db979 0px,#53b37e 44px,#6ac273 52px,#99d55e 56px,#badc61 58px,#d6e271 61px,#dde377 71px,#d8e272 78px,#b9dc61 91px,#95d45e 100px,#52b27e 125px,#1a648c 175px,#0e5892 188px,#104a96 199px,#1e36a0 212px,#2c209a 229px,#2a1977 259px,#2a1a7c 332px)"></i>
<i style="left:737px;height:331.9px;background:linear-gradient(#5db979 0px,#54b37d 44px,#6cc372 52px,#9dd65e 56px,#bbdd62 58px,#d6e271 61px,#dbe375 71px,#d2e16e 81px,#afda5f 94px,#96d45e 100px,#79cb6c 109px,#51b17e 126px,#19638c 176px,#0e5892 188px,#104a96 200px,#1e36a0 212px,#2c209a 229px,#2a1978 259px,#2a1a7c 332px)"></i>
<i style="left:738px;height:331.9px;background:linear-gradient(#5bb87a 0px,#54b37d 44px,#6ac173 51px,#98d55e 55px,#badc61 57px,#d7e272 60px,#e6e681 69px,#d8e272 78px,#bcdd62 88px,#9cd65e 99px,#52b27e 127px,#1a648c 177px,#0e5892 190px,#104a96 201px,#1e36a0 214px,#2c209a 231px,#2a1977 261px,#2a1a7c 332px)"></i>
<i style="left:739px;height:331.9px;background:linear-gradient(#58b67b 0px,#50af7f 43px,#6ac173 51px,#98d55e 55px,#b9dc61 57px,#d6e271 60px,#dee478 70px,#d8e272 78px,#b8dc60 90px,#96d45e 101px,#7bcc6b 109px,#51b17e 127px,#1a648c 176px,#0e5892 189px,#104996 201px,#1e36a0 213px,#2c209a 230px,#2a1978 260px,#2a1a7c 332px)"></i>
<i style="left:740px;height:331.9px;background:linear-gradient(#5ab77a 0px,#53b37d 12px,#54b47d 45px,#6cc372 52px,#8ed261 55px,#b1db60 57px,#d5e170 60px,#e4e680 61px,#f6ec92 70px,#d7e272 77px,#b9dc60 90px,#94d45e 99px,#80ce69 105px,#56b57c 122px,#307c88 157px,#115b90 183px,#104a96 198px,#1e36a0 211px,#2c209a 228px,#2a1977 258px,#2a1a7c 332px)"></i>
<i style="left:741px;height:331.9px;background:linear-gradient(#59b67b 0px,#51b17e 44px,#6ec471 52px,#a1d75f 56px,#bddd63 58px,#d4e170 61px,#d7e272 75px,#badc61 88px,#96d45e 97px,#76ca6e 107px,#51b17e 123px,#1a648c 172px,#0e5892 185px,#104a96 197px,#1e37a0 209px,#26299d 216px,#2c1f97 229px,#2a1978 256px,#2a1a7c 332px)"></i>
<i style="left:742px;height:331.9px;background:linear-gradient(#58b67b 0px,#51b17e 44px,#69c174 51px,#93d45e 55px,#b7dc60 57px,#dde377 61px,#ede889 69px,#d7e271 74px,#bbdc61 86px,#9bd65e 94px,#79cc6c 104px,#51b17e 121px,#19638c 171px,#0e5892 183px,#104a96 195px,#1d37a0 207px,#2c209a 225px,#2a1977 255px,#2a1a7c 332px)"></i>
<i style="left:743px;height:331.9px;background:linear-gradient(#5bb87a 0px,#52b27e 43px,#6cc373 51px,#9cd65e 55px,#bddd63 57px,#dde478 60px,#eee98a 68px,#d5e170 77px,#b8dc60 89px,#9bd65e 96px,#79cc6c 106px,#51b17e 123px,#19638c 173px,#0e5892 185px,#104a96 197px,#1e35a0 210px,#2c209a 227px,#2a1977 257px,#2a1a7c 332px)"></i>
<i style="left:744px;height:331.9px;background:linear-gradient(#5cb87a 0px,#52b27e 40px,#69c174 48px,#94d45e 52px,#b4db60 54px,#d0e16e 57px,#d7e272 74px,#b6db60 87px,#93d45e 96px,#51b17e 121px,#19638c 171px,#0e5892 183px,#104a96 195px,#1e35a0 208px,#2c209a 225px,#2a1977 255px,#2a1a7c 332px)"></i>
<i style="left:745px;height:332.9px;background:linear-gradient(#5cb979 0px,#53b37e 41px,#6bc273 49px,#9ad55e 53px,#b9dc61 55px,#d4e170 58px,#d7e272 72px,#bcdd62 84px,#95d45e 94px,#7acc6c 102px,#52b27e 119px,#1b658c 168px,#0e5892 182px,#104b96 193px,#1e36a0 206px,#2c209a 223px,#2a1978 253px,#2a1a7c 332px)"></i>
<i style="left:746px;height:332.5px;background:linear-gradient(#5fba78 0px,#55b47d 44px,#6ac173 52px,#97d55e 56px,#b9dc61 58px,#d8e272 61px,#ebe887 69px,#d9e273 70px,#d6e271 71px,#b7dc60 84px,#99d55e 91px,#78cb6d 101px,#52b27e 117px,#1b658c 166px,#0e5892 180px,#104996 192px,#1e36a0 204px,#2c1f97 224px,#2a1978 251px,#2a1a7c 332px)"></i>
<i style="left:747px;height:332.5px;background:linear-gradient(#5eba79 0px,#55b47d 44px,#6bc273 52px,#9bd65e 56px,#bbdd62 58px,#d7e271 61px,#e1e57b 69px,#d7e271 70px,#bcdd62 81px,#95d45e 91px,#52b27e 116px,#1b658c 165px,#0e5892 179px,#104a96 191px,#1e37a0 203px,#2c1f98 223px,#2a1977 251px,#2a1a7c 332px)"></i>
<i style="left:748px;height:332.2px;background:linear-gradient(#5bb87a 0px,#54b37d 43px,#69c174 50px,#93d45e 54px,#b6dc60 56px,#d5e170 59px,#e9e785 67px,#d6e271 71px,#bcdd62 82px,#9dd65e 90px,#7acc6c 100px,#50b07f 118px,#1b658c 166px,#0e5892 180px,#104b96 191px,#1e36a0 204px,#2c209a 221px,#2a1978 251px,#2a1a7c 332px)"></i>
<i style="left:749px;height:331.9px;background:linear-gradient(#58b67b 0px,#51b17e 43px,#68c074 50px,#78cb6d 52px,#a3d75f 55px,#b5db60 56px,#dfe47a 60px,#efe98b 67px,#d6e271 72px,#aeda5f 87px,#95d45e 93px,#78cb6d 102px,#52b27e 118px,#1b658c 167px,#0e5892 181px,#104996 193px,#1e37a0 205px,#2c1f98 225px,#2a1977 253px,#2a1a7c 332px)"></i>
<i style="left:750px;height:331.9px;background:linear-gradient(#59b77b 0px,#52b27e 44px,#71c670 52px,#95d45e 55px,#b7dc60 57px,#d4e170 60px,#e2e57d 68px,#d9e273 70px,#bedd63 81px,#94d45e 92px,#51b17e 117px,#2e7a88 151px,#105a91 177px,#104a96 191px,#1e36a0 204px,#2c209a 221px,#2a1978 251px,#2a1a7c 332px)"></i>
<i style="left:751px;height:331.9px;background:linear-gradient(#5bb87a 0px,#52b17e 45px,#69c173 53px,#97d55e 57px,#b7dc60 59px,#d4e170 62px,#dae374 71px,#b7dc60 85px,#96d45e 93px,#78cb6d 102px,#52b27e 118px,#1b658c 167px,#0e5892 181px,#104a96 193px,#1d37a0 205px,#2c209a 223px,#2a1977 253px,#2a1a7c 332px)"></i>
<i style="left:752px;height:331.9px;background:linear-gradient(#5cb87a 0px,#52b27e 47px,#69c173 55px,#97d55e 59px,#b5db60 61px,#d0e06d 64px,#d1e16e 72px,#b7dc60 83px,#95d45e 91px,#7acc6c 99px,#50b07f 117px,#1b658c 165px,#0e5892 179px,#104996 191px,#1e37a0 203px,#2c1f98 223px,#2a1977 251px,#2a1a7c 332px)"></i>
<i style="left:753px;height:331.9px;background:linear-gradient(#5fbb78 0px,#56b47c 48px,#69c174 56px,#95d45e 60px,#b7dc60 62px,#d5e271 65px,#e6e682 72px,#d5e170 73px,#b8dc60 85px,#9bd65e 92px,#76ca6e 103px,#52b27e 118px,#2c7889 154px,#0e5892 181px,#104a96 193px,#1e36a0 206px,#2c209a 223px,#2a1977 253px,#2a1a7c 332px)"></i>
<i style="left:754px;height:331.9px;background:linear-gradient(#5cb979 0px,#54b37d 48px,#6ec471 56px,#a0d75f 60px,#bddd63 62px,#d6e271 65px,#dce376 72px,#b8dc60 86px,#97d55e 94px,#76ca6e 104px,#52b27e 119px,#307c88 152px,#0e5892 182px,#104a96 194px,#1e36a0 207px,#2c209a 224px,#2a1977 254px,#2a1a7c 332px)"></i>
<i style="left:755px;height:331.9px;background:linear-gradient(#5db979 0px,#54b37d 45px,#6ac273 53px,#9ad55e 57px,#bbdd62 59px,#d9e273 62px,#e9e784 69px,#d8e272 74px,#b9dc60 87px,#9bd65e 94px,#79cb6c 104px,#52b27e 120px,#2c7889 156px,#0e5892 183px,#104a96 195px,#1e36a0 208px,#2c209a 225px,#2a1978 255px,#2a1a7c 332px)"></i>
<i style="left:756px;height:332.3px;background:linear-gradient(#5eba79 0px,#54b37d 46px,#6ac173 54px,#98d55e 58px,#b9dc61 60px,#d7e272 63px,#e8e783 70px,#d5e170 77px,#b8dc60 89px,#9ad55e 96px,#7bcc6b 105px,#52b27e 122px,#2d7988 157px,#0e5892 185px,#104a96 197px,#1e36a0 210px,#2c209a 227px,#2a1977 257px,#2a1a7c 332px)"></i>
<i style="left:757px;height:332.1px;background:linear-gradient(#5fbb78 0px,#56b47c 48px,#6ac273 56px,#9ad55e 60px,#b9dc61 62px,#d5e170 65px,#d8e272 76px,#b6db60 90px,#94d45e 98px,#79cc6c 106px,#51b17e 123px,#1a648c 172px,#0e5892 185px,#104a96 197px,#1e36a0 210px,#2c1f98 230px,#2a1977 258px,#2a1a7c 332px)"></i>
<i style="left:758px;height:331.9px;background:linear-gradient(#5fba78 0px,#57b57c 50px,#69c174 57px,#94d45e 61px,#b8dc60 63px,#e3e57e 67px,#f3eb8f 73px,#e7e682 74px,#d7e272 77px,#afda5f 92px,#95d45e 98px,#81ce68 104px,#58b67b 120px,#1c668c 171px,#0e5892 186px,#104a96 198px,#1e36a0 211px,#2c209a 228px,#2a1977 258px,#2a1a7c 332px)"></i>
<i style="left:759px;height:332.3px;background:linear-gradient(#5eba79 0px,#55b47d 50px,#6cc372 58px,#9dd65e 62px,#bddd63 64px,#dee478 67px,#eee98b 74px,#d9e273 79px,#acd95f 95px,#82cf67 106px,#52b27e 125px,#1b658c 174px,#0e5892 188px,#104a96 200px,#1e36a0 213px,#2c1f97 233px,#2a1978 260px,#2a1a7c 332px)"></i>
<i style="left:760px;height:332.2px;background:linear-gradient(#60bb78 0px,#57b57c 49px,#6ac173 57px,#97d55e 61px,#badc61 63px,#d9e274 66px,#ede989 73px,#d7e271 79px,#b6dc60 92px,#9dd65e 98px,#77ca6d 109px,#51b17e 125px,#2f7b88 158px,#0f5991 186px,#104b96 199px,#1d37a0 212px,#2c209a 230px,#2a1977 260px,#2a1a7c 332px)"></i>
<i style="left:761px;height:331.9px;background:linear-gradient(#5bb87a 0px,#52b27e 46px,#70c670 55px,#94d45e 58px,#b5db60 60px,#d2e16f 63px,#d9e273 72px,#d7e271 77px,#b7dc60 89px,#95d45e 100px,#52b27e 126px,#2d7988 161px,#0e5892 189px,#104a96 201px,#1e36a0 214px,#2c1f97 234px,#2a1978 261px,#2a1a7c 332px)"></i>
<i style="left:762px;height:332.0px;background:linear-gradient(#5bb87a 0px,#53b37d 43px,#68c174 50px,#91d35f 54px,#b2db60 56px,#d2e16f 59px,#e1e57c 66px,#d7e271 73px,#bfdd64 81px,#95d45e 96px,#79cc6c 108px,#52b27e 127px,#307c88 160px,#0e5892 190px,#104a96 202px,#1e37a0 215px,#2c209a 233px,#2a1977 263px,#2a1a7c 332px)"></i>
<i style="left:763px;height:333.5px;background:linear-gradient(#5db979 0px,#54b47d 48px,#6ec472 56px,#a0d75f 60px,#bddd63 62px,#d7e271 65px,#e0e47a 71px,#d7e271 78px,#b7dc60 90px,#94d45e 101px,#52b27e 125px,#307c88 158px,#0f5991 187px,#104b96 200px,#1d37a0 213px,#2c209a 231px,#2a1977 261px,#2a1a7c 332px)"></i>
<i style="left:764px;height:333.2px;background:linear-gradient(#5fba78 0px,#56b47c 51px,#6dc372 59px,#9ed65f 63px,#bddd63 65px,#d7e271 68px,#e1e57c 74px,#b8dc60 93px,#95d45e 101px,#7acc6c 109px,#51b17e 126px,#2f7b88 159px,#0e5892 189px,#104a96 201px,#1e36a0 214px,#2c209a 231px,#2a1978 261px,#2a1a7c 332px)"></i>
<i style="left:765px;height:333.1px;background:linear-gradient(#5db979 0px,#53b37d 50px,#6ac173 58px,#98d55e 62px,#b8dc60 64px,#d4e170 67px,#dae374 74px,#d9e273 77px,#b9dc61 90px,#93d45e 99px,#52b27e 123px,#2d7988 158px,#0e5892 186px,#104a96 198px,#1e37a0 211px,#2c209a 229px,#2a1977 259px,#2a1a7c 332px)"></i>
<i style="left:766px;height:332.0px;background:linear-gradient(#5cb979 0px,#53b27e 48px,#69c173 56px,#97d55e 60px,#b9dc61 62px,#d7e272 65px,#eae785 72px,#d7e271 78px,#b6dc60 91px,#9cd65e 97px,#79cb6c 107px,#52b27e 123px,#2d7988 158px,#0e5892 186px,#104a96 198px,#1d37a0 211px,#2c209a 229px,#2a1977 259px,#2a1a7c 332px)"></i>
<i style="left:767px;height:331.9px;background:linear-gradient(#5eba79 0px,#55b47d 49px,#6ac173 57px,#97d55e 61px,#b9dc61 63px,#d7e271 66px,#e8e783 73px,#cee06c 82px,#b8dc60 91px,#9ad55e 98px,#7acc6c 107px,#51b17e 124px,#1a648c 173px,#0e5892 187px,#104a96 199px,#1e36a0 212px,#2c1f97 232px,#2a1978 259px,#2a1a7c 332px)"></i>
<i style="left:768px;height:331.9px;background:linear-gradient(#5eba79 0px,#55b47c 51px,#6ec471 59px,#a1d75f 63px,#bfdd64 65px,#dbe375 68px,#e9e785 74px,#d6e271 78px,#b9dc60 90px,#9bd55e 97px,#78cb6d 107px,#51b17e 123px,#2f7b88 156px,#0e5892 186px,#104a96 198px,#1e36a0 211px,#2c209a 229px,#2a1977 259px,#2a1a7c 332px)"></i>
<i style="left:769px;height:331.9px;background:linear-gradient(#61bb77 0px,#57b57c 51px,#69c173 59px,#96d45e 63px,#b8dc60 65px,#d5e170 68px,#dfe479 74px,#b8dc60 89px,#96d45e 97px,#78cb6d 106px,#51b17e 122px,#1a648c 171px,#0e5892 185px,#104a96 197px,#1e36a0 210px,#2c1f98 230px,#2a1977 258px,#2a1a7c 332px)"></i>
<i style="left:770px;height:331.9px;background:linear-gradient(#5db979 0px,#55b47d 51px,#6cc372 59px,#9ed65f 63px,#bedd63 65px,#dfe47a 68px,#f0e98c 74px,#d9e273 77px,#b8dc60 90px,#96d45e 98px,#81ce68 104px,#55b47c 121px,#2f7b88 156px,#115b90 182px,#104a96 198px,#1e36a0 211px,#2c209a 229px,#2a1977 259px,#2a1a7c 332px)"></i>
<i style="left:771px;height:331.9px;background:linear-gradient(#5cb979 0px,#53b27e 49px,#69c174 57px,#95d45e 61px,#b8dc60 63px,#d6e271 66px,#e8e783 73px,#d6e271 78px,#b8dc60 90px,#9ad55e 97px,#78cb6d 107px,#51b17e 123px,#1a648c 172px,#0e5892 186px,#104a96 198px,#1e36a0 211px,#2c209a 229px,#2a1977 259px,#2a1a7c 332px)"></i>
<i style="left:772px;height:331.9px;background:linear-gradient(#5fbb78 0px,#56b57c 49px,#6bc273 57px,#9bd65e 61px,#b9dc60 63px,#d1e16e 66px,#d6e271 78px,#b8dc60 90px,#96d45e 98px,#7acc6c 106px,#52b27e 122px,#307c88 155px,#105a91 183px,#104a96 198px,#1e36a0 211px,#2c1f98 231px,#2a1977 259px,#2a1a7c 332px)"></i>
<i style="left:773px;height:331.9px;background:linear-gradient(#5db979 0px,#54b37d 48px,#6ac173 56px,#97d55e 60px,#b8dc60 62px,#d5e170 65px,#dfe47a 72px,#b9dc60 88px,#96d55e 96px,#78cb6d 105px,#51b17e 121px,#1a648c 170px,#0e5892 184px,#104a96 196px,#1e37a0 209px,#2c209a 227px,#2a1977 257px,#2a1a7c 332px)"></i>
<i style="left:774px;height:331.9px;background:linear-gradient(#5fbb78 0px,#57b57c 48px,#6ec471 56px,#a1d75f 60px,#bfdd64 62px,#d2e16f 64px,#e4e67f 71px,#d5e170 75px,#b7dc60 87px,#9dd65e 93px,#79cb6c 103px,#50b07f 120px,#2e7a88 153px,#0e5892 182px,#104996 195px,#1e36a0 208px,#2c1f97 228px,#2a1978 255px,#2a1a7c 332px)"></i>
<i style="left:775px;height:331.9px;background:linear-gradient(#5eba78 0px,#55b47d 49px,#6cc372 57px,#9dd65f 61px,#bddd63 63px,#dde478 66px,#ede889 72px,#d1e16e 73px,#acd95f 86px,#96d45e 91px,#7acc6c 99px,#52b27e 115px,#307c88 148px,#115b90 175px,#104a96 191px,#1e37a0 204px,#2c209a 222px,#2a1977 252px,#2a1a7c 332px)"></i>
<i style="left:776px;height:331.9px;background:linear-gradient(#61bc77 0px,#58b67b 48px,#6bc273 56px,#9cd65e 60px,#bbdd62 62px,#d7e272 65px,#e1e57c 71px,#cce06b 72px,#b8dc60 80px,#95d45e 88px,#54b47d 111px,#2d7988 147px,#105a91 173px,#104a96 188px,#1e36a0 201px,#2c209a 219px,#2a1977 249px,#2a1a7c 332px)"></i>
<i style="left:777px;height:331.9px;background:linear-gradient(#61bc77 0px,#57b57c 47px,#6ac173 55px,#97d55e 59px,#b9dc60 61px,#d6e271 64px,#e3e57e 71px,#cce06b 72px,#b8dc60 80px,#9ad55e 87px,#7acc6c 96px,#52b27e 112px,#2d7988 147px,#105a91 173px,#104a96 188px,#1e37a0 201px,#2c209a 219px,#2a1977 249px,#2a1a7c 332px)"></i>
<i style="left:778px;height:331.9px;background:linear-gradient(#5fbb78 0px,#57b57c 49px,#6fc571 57px,#93d45f 60px,#b4db60 62px,#d2e16f 65px,#dee479 72px,#cfe06d 73px,#b9dc60 82px,#96d55e 90px,#52b27e 114px,#1a648c 164px,#0e5892 178px,#104a96 190px,#1d37a0 203px,#2c209a 221px,#2a1977 251px,#2a1a7c 332px)"></i>
<i style="left:779px;height:331.9px;background:linear-gradient(#5eba78 0px,#58b67b 48px,#6dc472 55px,#9fd75f 59px,#bedd64 61px,#dce376 64px,#ebe887 70px,#cee06c 71px,#aeda5f 82px,#94d45e 88px,#7ccd6b 95px,#56b57c 110px,#2f7b88 145px,#0e5892 175px,#104a96 188px,#1e36a0 201px,#2c1f98 221px,#2a1977 249px,#2a1a7c 332px)"></i>
<i style="left:780px;height:332.2px;background:linear-gradient(#5eba78 0px,#55b47d 47px,#6cc372 55px,#9cd65e 59px,#bcdd62 61px,#d7e271 64px,#dfe47a 70px,#cbe06b 71px,#b7dc60 79px,#94d45e 87px,#53b37d 110px,#2f7b88 144px,#0e5892 174px,#104996 187px,#1e36a0 200px,#2c1f98 220px,#2a1977 248px,#2a1a7c 332px)"></i>
<i style="left:781px;height:332.8px;background:linear-gradient(#5fba78 0px,#55b47c 47px,#69c174 55px,#95d45e 59px,#b6dc60 61px,#d4e170 64px,#dfe479 71px,#cee06c 72px,#b7dc60 81px,#94d45e 89px,#51b17e 113px,#2f7b88 146px,#0e5892 176px,#104996 189px,#1e36a0 202px,#2c1f98 222px,#2a1977 250px,#2a1a7c 332px)"></i>
<i style="left:782px;height:332.6px;background:linear-gradient(#60bb78 0px,#56b57c 47px,#6ac173 55px,#98d55e 59px,#b9dc61 61px,#d5e271 64px,#dde478 71px,#cfe06d 72px,#b9dc61 81px,#96d55e 89px,#7acc6c 97px,#52b27e 113px,#1b658c 162px,#0e5892 177px,#104a96 189px,#1e36a0 203px,#2c209a 220px,#2a1978 250px,#2a1a7c 332px)"></i>
<i style="left:783px;height:331.9px;background:linear-gradient(#5fba78 0px,#55b47c 46px,#69c174 54px,#93d45e 58px,#b6dc60 60px,#d5e170 63px,#eae786 70px,#d0e16e 71px,#badc61 80px,#9cd65e 87px,#78cb6d 97px,#55b47d 111px,#307c88 145px,#0e5892 176px,#104b96 188px,#1e36a0 202px,#2c1f98 222px,#2a1977 250px,#2a1a7c 332px)"></i>
<i style="left:784px;height:331.9px;background:linear-gradient(#61bc77 0px,#58b67b 47px,#6dc472 55px,#9fd75f 59px,#bddd63 61px,#d7e271 64px,#dfe479 70px,#d5e170 72px,#bcdd62 82px,#97d55e 91px,#78cb6d 100px,#52b27e 115px,#2d7988 150px,#0e5892 179px,#104a96 191px,#1e36a0 205px,#2c1f98 225px,#2a1977 253px,#2a1a7c 332px)"></i>
<i style="left:785px;height:331.9px;background:linear-gradient(#5eba78 0px,#55b47d 46px,#6ac173 54px,#97d55e 58px,#b7dc60 60px,#d3e16f 63px,#d7e271 72px,#b6dc60 85px,#97d55e 92px,#75c96e 102px,#52b27e 116px,#1b658c 165px,#0e5892 180px,#104a96 192px,#1e36a0 206px,#2c1f98 226px,#2a1977 254px,#2a1a7c 332px)"></i>
<i style="left:786px;height:331.9px;background:linear-gradient(#5db979 0px,#54b37d 48px,#6bc273 56px,#9bd55e 60px,#bcdd62 62px,#dbe375 65px,#ece888 72px,#d2e16f 73px,#acd95f 86px,#96d45e 91px,#7dcd6a 98px,#56b57c 113px,#2e7a88 149px,#0f5991 177px,#104a96 191px,#1e35a0 205px,#2c209a 222px,#2a1978 252px,#2a1a7c 332px)"></i>
<i style="left:787px;height:331.9px;background:linear-gradient(#5fba78 0px,#56b57c 48px,#6cc372 56px,#9dd65f 60px,#bcdd62 62px,#d6e271 65px,#dee479 72px,#cce06b 73px,#b8dc60 81px,#95d45e 89px,#79cc6c 97px,#53b37d 112px,#2f7b88 146px,#0e5892 176px,#104a96 189px,#1d37a0 202px,#2c209a 220px,#2a1977 250px,#2a1a7c 332px)"></i>
<i style="left:788px;height:331.9px;background:linear-gradient(#5db979 0px,#55b47d 48px,#6dc472 56px,#9fd65f 60px,#bedd63 62px,#dae374 65px,#e9e785 72px,#cbe06b 73px,#b6dc60 81px,#9bd65e 87px,#75c96e 98px,#54b47d 111px,#2e7a88 146px,#0e5892 176px,#104a96 188px,#1e36a0 202px,#2c1f98 222px,#2a1977 250px,#2a1a7c 332px)"></i>
<i style="left:789px;height:331.9px;background:linear-gradient(#5fbb78 0px,#57b57c 49px,#6dc472 57px,#a0d75f 61px,#bedd64 63px,#dae375 66px,#e9e785 73px,#cadf6a 74px,#b9dc60 81px,#9ad55e 88px,#77ca6d 98px,#56b57c 111px,#2f7b88 146px,#0f5991 175px,#104a96 189px,#1e36a0 203px,#2c1f97 223px,#2a1977 251px,#2a1a7c 332px)"></i>
<i style="left:790px;height:331.9px;background:linear-gradient(#5fbb78 0px,#56b47c 49px,#6ac173 57px,#99d55e 61px,#bbdd62 63px,#dde377 66px,#efe98b 73px,#c8df69 74px,#adda5f 83px,#96d55e 88px,#7acc6c 96px,#54b37d 111px,#2e7a88 146px,#105a91 173px,#104a96 188px,#1e36a0 202px,#2c209a 220px,#2a1977 250px,#2a1a7c 332px)"></i>
<i style="left:791px;height:331.9px;background:linear-gradient(#5db979 0px,#53b37e 48px,#6fc571 57px,#a4d85f 61px,#b6dc60 62px,#dfe479 66px,#ede989 72px,#c8df69 73px,#acd95f 82px,#96d45e 87px,#7dcd6a 94px,#56b57c 109px,#2f7b88 144px,#0f5991 173px,#104a96 187px,#1e36a0 201px,#2c1f98 221px,#2a1977 249px,#2a1a7c 332px)"></i>
<i style="left:792px;height:331.9px;background:linear-gradient(#5bb87a 0px,#52b27e 47px,#6ac173 55px,#98d55e 59px,#b9dc60 61px,#d5e271 64px,#dfe479 71px,#d6e271 72px,#bcdd62 82px,#93d45e 92px,#52b27e 115px,#2e7a88 149px,#0e5892 179px,#104996 192px,#1e36a0 205px,#2c209a 223px,#2a1977 253px,#2a1a7c 332px)"></i>
<i style="left:793px;height:331.9px;background:linear-gradient(#5ab77a 0px,#51b17e 46px,#69c174 54px,#93d45e 58px,#b5db60 60px,#d4e170 63px,#e4e67f 71px,#d4e170 72px,#d1e16e 73px,#b8dc60 83px,#9dd65e 89px,#7fce69 97px,#52b27e 114px,#317d88 146px,#0e5892 178px,#104a96 191px,#1d37a0 204px,#2c209a 222px,#2a1978 252px,#2a1a7c 332px)"></i>
<i style="left:794px;height:331.9px;background:linear-gradient(#58b67b 0px,#51b17e 47px,#6ec571 55px,#91d35f 58px,#b1db60 60px,#d0e06d 63px,#d8e272 71px,#b7dc60 83px,#93d45e 91px,#52b27e 114px,#2e7a88 148px,#0e5892 178px,#104996 191px,#1e37a0 204px,#2c209a 222px,#2a1977 252px,#2a1a7c 332px)"></i>
<i style="left:795px;height:331.9px;background:linear-gradient(#57b57c 0px,#52b27e 45px,#6bc273 52px,#9cd65e 56px,#bddd63 58px,#e1e57c 61px,#f1ea8e 68px,#d6e271 73px,#afda5f 87px,#94d45e 93px,#7bcc6b 100px,#52b27e 116px,#2e7a88 150px,#0e5892 180px,#104a96 193px,#1d37a0 206px,#2c209a 224px,#2a1978 254px,#2a1a7c 332px)"></i>
<i style="left:796px;height:331.9px;background:linear-gradient(#59b77b 0px,#54b47d 42px,#6ec472 49px,#a0d75f 53px,#bfdd64 55px,#dbe375 58px,#eae785 66px,#d5e170 74px,#b9dc60 85px,#9ad55e 92px,#79cb6c 101px,#51b17e 117px,#2d7988 151px,#0e5892 180px,#104a96 193px,#1e36a0 207px,#2c1f98 227px,#2a1977 255px,#2a1a7c 332px)"></i>
<i style="left:797px;height:331.9px;background:linear-gradient(#57b57c 0px,#52b27e 43px,#6dc372 50px,#9fd65f 54px,#bfdd64 56px,#e0e47a 59px,#f1ea8d 67px,#d7e272 73px,#abd95f 88px,#95d45e 93px,#7ccd6b 100px,#52b27e 116px,#317d88 148px,#0e5892 180px,#104a96 193px,#1e36a0 207px,#2c1f98 227px,#2a1977 255px,#2a1a7c 332px)"></i>
<i style="left:798px;height:331.9px;background:linear-gradient(#58b67b 0px,#52b27e 43px,#72c76f 51px,#97d55e 54px,#b9dc60 56px,#d6e271 59px,#e2e57d 68px,#badc61 84px,#97d55e 92px,#77ca6d 101px,#51b17e 116px,#2f7b88 149px,#105a91 177px,#104b96 192px,#1e36a0 206px,#2c209a 224px,#2a1977 254px,#2a1a7c 332px)"></i>
<i style="left:799px;height:331.9px;background:linear-gradient(#5ab77b 0px,#51b17e 43px,#6bc273 51px,#9bd55e 55px,#b9dc61 57px,#d3e16f 60px,#d7e271 75px,#b7dc60 88px,#97d55e 95px,#7acc6c 103px,#50b07f 120px,#2f7b88 152px,#105a91 180px,#104996 196px,#1e37a0 209px,#2c209a 227px,#2a1977 257px,#2a1a7c 332px)"></i>
<i style="left:800px;height:331.9px;background:linear-gradient(#59b67b 0px,#52b27e 43px,#6ac173 50px,#98d55e 54px,#bbdd62 56px,#dee479 59px,#f1ea8d 68px,#eae786 71px,#d9e273 74px,#adda5f 89px,#96d45e 94px,#7dcd6a 101px,#53b37e 117px,#307c88 150px,#0f5991 180px,#104a96 194px,#1e36a0 208px,#2c209a 226px,#2a1977 256px,#2a1a7c 332px)"></i>
<i style="left:801px;height:331.9px;background:linear-gradient(#5ab77a 0px,#51b17e 41px,#6ac273 49px,#99d55e 53px,#badc61 55px,#d8e272 58px,#e6e681 67px,#d5e170 71px,#b8dc60 82px,#99d55e 89px,#73c86f 100px,#52b27e 113px,#2e7a88 147px,#0e5892 177px,#104a96 190px,#1e36a0 204px,#2c209a 222px,#2a1977 252px,#2a1a7c 332px)"></i>
<i style="left:802px;height:331.9px;background:linear-gradient(#55b47d 0px,#4fad7f 37px,#52b27e 43px,#69c173 49px,#97d55e 53px,#b9dc61 55px,#d7e271 58px,#e7e682 67px,#d5e170 71px,#b9dc61 82px,#9ad55e 89px,#7ccd6b 97px,#52b27e 113px,#317d88 145px,#0e5892 177px,#104a96 190px,#1e36a0 204px,#2c209a 222px,#2a1977 252px,#2a1a7c 332px)"></i>
<i style="left:803px;height:332.1px;background:linear-gradient(#54b37d 0px,#51b17e 40px,#6ec471 47px,#a1d75f 51px,#b3db60 52px,#d3e16f 55px,#e6e681 64px,#dae274 72px,#badc61 84px,#9bd65e 91px,#77ca6d 101px,#51b17e 116px,#307c88 148px,#105a91 177px,#104996 193px,#1d37a0 206px,#2c209a 224px,#2a1978 254px,#2a1a7c 332px)"></i>
<i style="left:804px;height:332.9px;background:linear-gradient(#54b37d 0px,#4fad7f 27px,#52b27e 36px,#6ac173 42px,#98d55e 46px,#badc61 48px,#d9e273 51px,#ece888 60px,#c9df69 74px,#afda5f 84px,#96d45e 92px,#7ccd6b 102px,#52b27e 118px,#2e7a88 152px,#0e5892 182px,#104a96 195px,#1e36a0 209px,#2c209a 227px,#2a1977 257px,#2a1a7c 332px)"></i>
<i style="left:805px;height:332.3px;background:linear-gradient(#54b37d 0px,#4eac80 33px,#52b27e 36px,#73c86f 43px,#99d55e 46px,#bbdc61 48px,#dae374 51px,#ebe887 60px,#c0dd64 77px,#9cd65e 90px,#7ccd6b 103px,#52b27e 119px,#2e7a88 153px,#0e5892 183px,#104a96 196px,#1e36a0 210px,#2c209a 228px,#2a1977 258px,#2a1a7c 332px)"></i>
<i style="left:806px;height:332.4px;background:linear-gradient(#57b57c 0px,#50b07f 37px,#6dc472 45px,#9fd65f 49px,#bcdd62 51px,#d4e170 54px,#d8e272 71px,#b7dc60 84px,#96d55e 94px,#74c86f 104px,#51b17e 118px,#317d88 149px,#0f5991 180px,#104b96 194px,#1e37a0 208px,#2c1f97 229px,#2a1978 256px,#2a1a7c 332px)"></i>
<i style="left:807px;height:332.4px;background:linear-gradient(#53b37e 0px,#4eac80 32px,#52b27e 41px,#73c76f 48px,#99d55e 51px,#bbdd62 53px,#dce377 56px,#efe98b 65px,#d1e16e 76px,#aeda5f 89px,#97d55e 96px,#77ca6d 105px,#51b17e 120px,#2d7988 154px,#0f5991 182px,#104996 197px,#1d37a0 210px,#2c1f98 231px,#2a1977 259px,#2a1a7c 332px)"></i>
<i style="left:808px;height:331.9px;background:linear-gradient(#55b47d 0px,#51b17e 40px,#6cc372 47px,#9cd65e 51px,#bcdd62 53px,#d7e271 56px,#e0e47b 65px,#d7e271 74px,#b7dc60 86px,#95d45e 95px,#52b27e 118px,#2f7b88 151px,#0e5892 182px,#104a96 195px,#1e36a0 209px,#2c209a 227px,#2a1978 257px,#2a1a7c 332px)"></i>
<i style="left:809px;height:331.9px;background:linear-gradient(#56b47c 0px,#51b17e 40px,#6cc372 47px,#9ed65f 51px,#bcdd62 53px,#d7e271 56px,#e0e47b 65px,#d6e271 74px,#b7dc60 86px,#95d45e 96px,#73c86f 106px,#50b07f 120px,#2f7b88 152px,#0e5892 183px,#104a96 196px,#1e36a0 210px,#2c209a 228px,#2a1977 258px,#2a1a7c 332px)"></i>
<i style="left:810px;height:331.9px;background:linear-gradient(#55b47d 0px,#4fad7f 35px,#53b37d 41px,#6bc273 47px,#9cd65e 51px,#bddd63 53px,#e1e57c 56px,#f3eb8f 65px,#d9e273 73px,#adda5f 89px,#94d45e 96px,#51b17e 119px,#307c88 151px,#115b90 179px,#104a96 196px,#1e36a0 210px,#2c209a 228px,#2a1977 258px,#2a1a7c 332px)"></i>
<i style="left:811px;height:331.9px;background:linear-gradient(#55b47d 0px,#52b17e 39px,#6fc571 46px,#a3d75f 50px,#c1de65 52px,#dee478 55px,#eee98a 63px,#d5e170 73px,#afda5f 87px,#94d45e 95px,#51b17e 118px,#307c88 150px,#0e5892 182px,#104a96 195px,#1e36a0 209px,#2c209a 227px,#2a1977 257px,#2a1a7c 332px)"></i>
<i style="left:812px;height:331.9px;background:linear-gradient(#53b27e 0px,#4eac80 27px,#52b27e 39px,#6cc372 45px,#9dd65e 49px,#bcdd62 51px,#d7e272 54px,#e2e57d 63px,#d6e271 72px,#b9dc60 83px,#94d45e 95px,#51b17e 120px,#2e7a88 153px,#0f5991 182px,#104a96 197px,#1e36a0 211px,#2c209a 229px,#2a1977 259px,#2a1a7c 332px)"></i>
<i style="left:813px;height:332.0px;background:linear-gradient(#54b37d 0px,#4fad7f 37px,#6cc372 45px,#9ed65f 49px,#bbdd62 51px,#d3e16f 54px,#d8e272 71px,#b9dc60 83px,#96d45e 94px,#52b27e 117px,#2e7a88 151px,#0f5991 180px,#104a96 195px,#1e36a0 209px,#2c209a 227px,#2a1977 257px,#2a1a7c 332px)"></i>
<i style="left:814px;height:332.8px;background:linear-gradient(#52b17e 0px,#4dab80 28px,#51b17e 40px,#6bc273 46px,#9cd65e 50px,#bcdd62 52px,#d9e273 55px,#e7e682 64px,#b9dc60 84px,#9bd65e 91px,#7dcd6a 99px,#52b27e 115px,#2f7b88 148px,#0f5991 178px,#104996 193px,#1e36a0 207px,#2c209a 225px,#2a1977 255px,#2a1a7c 332px)"></i>
<i style="left:815px;height:332.4px;background:linear-gradient(#51b17e 0px,#4fae7f 37px,#6dc472 44px,#a0d75f 48px,#bedd64 50px,#dbe375 53px,#ebe887 61px,#d2e16e 72px,#aeda5f 85px,#8fd360 94px,#52b27e 115px,#2e7a88 149px,#0f5991 178px,#104a96 193px,#1e36a0 207px,#2c209a 225px,#2a1977 255px,#2a1a7c 332px)"></i>
<i style="left:816px;height:331.9px;background:linear-gradient(#54b37d 0px,#50b07f 31px,#6bc273 38px,#9bd65e 42px,#bbdd62 44px,#d8e272 47px,#e4e67f 56px,#d8e272 64px,#bcdd62 74px,#9cd65e 85px,#7acc6c 99px,#52b27e 114px,#2f7b88 147px,#0f5991 177px,#104996 192px,#1e36a0 206px,#2c209a 224px,#2a1977 254px,#2a1a7c 332px)"></i>
<i style="left:817px;height:332.3px;background:linear-gradient(#53b37d 0px,#4fad7f 35px,#6ec471 43px,#a1d75f 47px,#bddd63 49px,#d5e170 52px,#d8e272 68px,#b8dc60 81px,#97d55e 90px,#79cc6c 98px,#52b27e 113px,#2f7b88 146px,#0e5892 177px,#104996 191px,#1e36a0 205px,#2c209a 223px,#2a1977 253px,#2a1a7c 332px)"></i>
<i style="left:818px;height:332.1px;background:linear-gradient(#54b47d 0px,#4fad7f 30px,#52b27e 37px,#6ac173 43px,#98d55e 47px,#b9dc60 49px,#d5e170 52px,#dde478 61px,#d8e272 69px,#b9dc60 81px,#97d55e 91px,#79cc6c 99px,#50b07f 115px,#2f7b88 147px,#0e5892 178px,#104996 192px,#1e36a0 206px,#2c209a 224px,#2a1977 254px,#2a1a7c 332px)"></i>
<i style="left:819px;height:331.9px;background:linear-gradient(#52b27e 0px,#4dab80 34px,#69c174 42px,#94d45e 46px,#b5db60 48px,#d2e16f 51px,#d8e272 68px,#b6dc60 81px,#93d45e 91px,#52b27e 113px,#2e7a88 147px,#0f5991 176px,#104a96 191px,#1e36a0 205px,#2c209a 223px,#2a1978 253px,#2a1a7c 332px)"></i>
<i style="left:820px;height:331.9px;background:linear-gradient(#53b37d 0px,#4eac80 32px,#52b27e 37px,#6ac273 43px,#9ad55e 47px,#bbdd62 49px,#d9e273 52px,#e7e682 61px,#c0dd64 77px,#9bd65e 90px,#51b17e 116px,#317d88 147px,#0e5892 180px,#104a96 193px,#1d37a0 207px,#2c209a 226px,#2a1977 256px,#2a1a7c 332px)"></i>
<i style="left:821px;height:332.2px;background:linear-gradient(#54b37d 0px,#4fad7f 31px,#52b27e 39px,#69c174 45px,#96d45e 49px,#b9dc61 51px,#d8e272 54px,#ede889 63px,#d5e170 72px,#afda5f 86px,#96d45e 94px,#79cc6c 102px,#50b07f 118px,#1a648c 166px,#0e5892 181px,#104996 195px,#1e36a0 209px,#2c209a 227px,#2a1977 257px,#2a1a7c 332px)"></i>
<i style="left:822px;height:331.9px;background:linear-gradient(#55b47d 0px,#51b07e 40px,#6bc273 47px,#9bd65e 51px,#bcdd62 53px,#dde478 56px,#eee98a 65px,#d7e271 73px,#aeda5f 88px,#91d35f 96px,#51b07e 118px,#307c88 149px,#0e5892 181px,#104a96 195px,#1d37a0 209px,#2c209a 228px,#2a1977 258px,#2a1a7c 332px)"></i>
<i style="left:823px;height:331.9px;background:linear-gradient(#54b37d 0px,#51b07e 40px,#6ec472 47px,#a0d75f 51px,#bddd63 53px,#d6e271 56px,#dee479 64px,#d6e271 73px,#b6dc60 85px,#97d55e 94px,#79cb6c 102px,#51b17e 117px,#2f7b88 149px,#0f5991 179px,#104a96 194px,#1e36a0 209px,#2c209a 227px,#2a1977 257px,#2a1a7c 332px)"></i>
<i style="left:824px;height:331.9px;background:linear-gradient(#56b57c 0px,#4fae7f 36px,#53b37d 40px,#69c174 46px,#96d45e 50px,#b9dc60 52px,#d6e271 55px,#e7e783 64px,#c0dd64 80px,#9bd65e 93px,#78cb6d 105px,#50b07f 120px,#2e7a88 152px,#105a91 180px,#104996 197px,#1e37a0 211px,#2c209a 230px,#2a1977 260px,#2a1a7c 332px)"></i>
<i style="left:825px;height:331.9px;background:linear-gradient(#55b47d 0px,#51b17e 39px,#6cc372 46px,#8ed261 49px,#afda5f 51px,#dbe375 55px,#ebe887 63px,#c1de65 79px,#9dd65e 92px,#74c86f 110px,#51b17e 123px,#2d7988 156px,#0e5892 186px,#104a96 200px,#1e36a0 215px,#2c1f97 236px,#2a1978 263px,#2a1a7c 332px)"></i>
<i style="left:826px;height:331.9px;background:linear-gradient(#59b77b 0px,#53b37d 36px,#6bc273 43px,#9bd55e 47px,#badc61 49px,#d7e271 52px,#e0e47b 60px,#d6e271 69px,#b7dc60 81px,#94d45e 92px,#6fc571 110px,#51b17e 121px,#1b658c 168px,#0e5892 184px,#104a96 198px,#1e36a0 213px,#2c209a 232px,#2a1977 262px,#2a1a7c 332px)"></i>
<i style="left:827px;height:331.9px;background:linear-gradient(#58b67b 0px,#51b17e 31px,#6fc571 39px,#92d35f 42px,#b4db60 44px,#d3e16f 47px,#e4e57f 56px,#d8e272 64px,#c0dd64 72px,#9bd65e 85px,#6bc373 108px,#51b17e 118px,#2f7b88 149px,#105a91 178px,#104a96 195px,#1e36a0 210px,#2c1f98 231px,#2a1977 259px,#2a1a7c 332px)"></i>
<i style="left:828px;height:331.9px;background:linear-gradient(#57b57c 0px,#51b17e 36px,#6ac173 43px,#98d55e 47px,#bbdd62 49px,#e0e57b 52px,#f5ec92 60px,#d3e16f 70px,#b7dc60 81px,#9ad55e 90px,#77ca6d 105px,#51b07e 119px,#1a648c 166px,#0f5991 180px,#104a96 196px,#1e36a0 211px,#2c209a 230px,#2a1977 260px,#2a1a7c 332px)"></i>
<i style="left:829px;height:331.9px;background:linear-gradient(#57b57c 0px,#51b17e 39px,#71c670 47px,#94d45e 50px,#b7dc60 52px,#d5e271 55px,#e7e682 64px,#c2de65 79px,#9ad55e 93px,#7acc6c 103px,#51b17e 118px,#307c88 148px,#0f5991 179px,#104a96 195px,#1e36a0 210px,#2c209a 229px,#2a1977 259px,#2a1a7c 332px)"></i>
<i style="left:830px;height:331.9px;background:linear-gradient(#56b47c 0px,#52b17e 40px,#6dc472 47px,#9fd75f 51px,#bedd64 53px,#dde478 56px,#ede98a 64px,#d2e16e 74px,#aeda5f 87px,#97d55e 93px,#7bcc6b 100px,#51b17e 115px,#307c88 145px,#0f5991 176px,#104a96 192px,#1d37a0 207px,#2c209a 226px,#2a1978 256px,#2a1a7c 332px)"></i>
<i style="left:831px;height:331.9px;background:linear-gradient(#57b67c 0px,#52b27e 41px,#6cc372 48px,#9dd65f 52px,#bcdd62 54px,#d7e271 57px,#e1e57c 65px,#d8e272 73px,#b8dc60 85px,#96d45e 94px,#7bcc6c 101px,#51b17e 116px,#3e9386 131px,#19638c 163px,#0e5892 178px,#104a96 193px,#1e37a0 208px,#2c209a 227px,#2a1977 257px,#2a1a7c 332px)"></i>
<i style="left:832px;height:331.9px;background:linear-gradient(#56b57c 0px,#50b07f 40px,#70c670 48px,#94d45e 51px,#b6dc60 53px,#d5e170 56px,#e5e680 65px,#c1de65 80px,#9ad55e 93px,#7acc6c 101px,#52b27e 115px,#317e88 144px,#125c90 172px,#104996 193px,#1e36a0 208px,#2c209a 227px,#2a1977 257px,#2a1a7c 332px)"></i>
<i style="left:833px;height:331.9px;background:linear-gradient(#56b57c 0px,#50af7f 38px,#6dc472 46px,#9ed65f 50px,#bbdd62 52px,#d4e170 55px,#d8e272 70px,#b8dc60 83px,#98d55e 92px,#78cb6d 100px,#51b17e 114px,#409686 127px,#1b658c 159px,#0e5892 176px,#104a96 191px,#1d37a0 206px,#2c1f98 228px,#2a1977 256px,#2a1a7c 332px)"></i>
<i style="left:834px;height:331.9px;background:linear-gradient(#53b37e 0px,#4eac80 32px,#52b27e 40px,#6cc372 46px,#9cd65e 50px,#bcdd62 52px,#d8e272 55px,#e5e680 63px,#d7e271 71px,#b7dc60 82px,#98d55e 88px,#78cb6d 96px,#53b37e 109px,#317e88 138px,#125c90 166px,#104a96 187px,#1d37a0 202px,#2c1f98 224px,#2a1977 252px,#2a1a7c 332px)"></i>
<i style="left:835px;height:331.9px;background:linear-gradient(#56b57c 0px,#4fae7f 35px,#53b37d 40px,#69c173 46px,#97d55e 50px,#badc61 52px,#dbe375 55px,#f0ea8c 63px,#d7e271 71px,#badc61 81px,#9dd65e 87px,#7bcc6b 95px,#52b27e 109px,#3e9286 125px,#16608e 160px,#0e5892 172px,#104996 187px,#1e37a0 202px,#2c1f98 224px,#2a1977 252px,#2a1a7c 332px)"></i>
<i style="left:836px;height:331.9px;background:linear-gradient(#56b47c 0px,#52b27e 39px,#6fc571 46px,#a4d85f 50px,#b7dc60 51px,#cde06c 53px,#e5e680 55px,#f5ec91 62px,#ece888 66px,#d6e271 71px,#adda5f 84px,#94d45e 89px,#78cb6d 96px,#52b27e 109px,#409586 123px,#18628d 157px,#0e5892 171px,#104996 187px,#1d37a0 202px,#2c209a 222px,#2a1977 252px,#2a1a7c 332px)"></i>
<i style="left:837px;height:331.9px;background:linear-gradient(#57b57c 0px,#52b27e 37px,#6bc273 44px,#9cd65e 48px,#bddd63 50px,#dee479 53px,#f0e98c 61px,#d1e16e 71px,#aeda5f 84px,#95d45e 89px,#79cb6c 96px,#53b37e 109px,#3f9486 124px,#18628d 157px,#0e5892 172px,#104a96 187px,#1e36a0 203px,#2c209a 222px,#2a1977 252px,#2a1a7c 332px)"></i>
<i style="left:838px;height:331.9px;background:linear-gradient(#56b47c 0px,#52b27e 37px,#68c174 43px,#79cb6c 45px,#a4d85f 48px,#b6dc60 49px,#dde377 53px,#ece888 60px,#b9dc61 79px,#9bd65e 85px,#7acc6c 93px,#53b37d 106px,#317d88 135px,#135d8f 161px,#104a96 184px,#1e36a0 200px,#2c1f97 222px,#2a1978 249px,#2a1a7c 332px)"></i>
<i style="left:839px;height:331.9px;background:linear-gradient(#59b67b 0px,#52b27e 12px,#53b37e 39px,#6cc372 46px,#9dd65e 50px,#bcdd62 52px,#d8e272 55px,#e6e681 63px,#b9dc61 81px,#9bd65e 87px,#79cc6c 95px,#53b27e 108px,#2f7b88 138px,#125c90 164px,#104996 186px,#1e36a0 202px,#2c1f97 224px,#2a1978 251px,#2a1a7c 332px)"></i>
<i style="left:840px;height:331.9px;background:linear-gradient(#5cb87a 0px,#53b27e 37px,#6bc273 45px,#9cd65e 49px,#bbdd62 51px,#d6e271 54px,#dfe47a 62px,#d7e272 70px,#bedd63 79px,#94d45e 88px,#54b37d 107px,#317d88 136px,#155f8e 159px,#104a96 185px,#1d37a0 201px,#2c209a 221px,#2a1977 251px,#2a1a7c 332px)"></i>
<i style="left:841px;height:332.6px;background:linear-gradient(#59b77b 0px,#51b17e 37px,#6ec471 45px,#a0d75f 49px,#bedd63 51px,#d8e272 54px,#e3e57f 62px,#dce376 67px,#badc61 78px,#9bd65e 84px,#79cb6c 92px,#52b27e 105px,#2e7a88 135px,#135d8f 159px,#104a96 182px,#1e36a0 199px,#2c1f97 221px,#2a1978 248px,#2a1a7c 332px)"></i>
<i style="left:842px;height:332.2px;background:linear-gradient(#59b77b 0px,#51b17e 36px,#6cc372 44px,#9dd65f 48px,#bddd63 50px,#dbe376 53px,#ece888 61px,#d8e272 68px,#badc61 78px,#9bd65e 84px,#7ccd6b 91px,#54b47d 104px,#3f9486 119px,#19638c 150px,#0e5892 166px,#104a96 182px,#1e36a0 199px,#2c209a 218px,#2a1978 248px,#2a1a7c 332px)"></i>
<i style="left:843px;height:331.9px;background:linear-gradient(#5cb87a 0px,#54b37d 37px,#6fc571 45px,#92d35f 48px,#b3db60 50px,#d1e16e 53px,#dde478 62px,#d7e271 69px,#b9dc60 79px,#94d45e 86px,#77ca6d 93px,#53b37e 105px,#3e9386 120px,#1c668c 148px,#0f5991 165px,#104996 183px,#1e37a0 199px,#2c209a 219px,#2a1977 249px,#2a1a7c 332px)"></i>
<i style="left:844px;height:331.9px;background:linear-gradient(#5eba79 0px,#56b57c 37px,#69c174 44px,#94d45e 48px,#b8dc60 50px,#dee479 54px,#eee98a 61px,#d0e06d 72px,#aeda5f 84px,#93d45e 89px,#7acc6c 95px,#52b27e 108px,#3f9486 122px,#19638c 153px,#0e5892 169px,#104a96 185px,#1e36a0 202px,#2c209a 222px,#2a1977 252px,#2a1a7c 332px)"></i>
<i style="left:845px;height:332.0px;background:linear-gradient(#61bc77 0px,#58b67b 37px,#6fc571 45px,#92d35f 48px,#b2db60 50px,#d1e16e 53px,#dbe375 63px,#d8e272 69px,#b7dc60 82px,#96d55e 89px,#51b17e 109px,#1a648c 152px,#0f5991 168px,#104a96 186px,#1e36a0 203px,#2c1f98 225px,#2a1977 253px,#2a1a7c 332px)"></i>
<i style="left:846px;height:331.9px;background:linear-gradient(#5db979 0px,#53b37d 35px,#69c173 43px,#96d45e 47px,#b6dc60 49px,#d2e16f 52px,#d8e272 68px,#b3db60 82px,#95d45e 88px,#53b27e 107px,#1b658c 150px,#0e5892 168px,#104a96 184px,#1d37a0 201px,#2c1f97 224px,#2a1978 251px,#2a1a7c 332px)"></i>
<i style="left:847px;height:332.3px;background:linear-gradient(#60bb78 0px,#57b57c 35px,#6bc273 43px,#9cd65e 47px,#bbdc61 49px,#d5e271 52px,#dbe375 60px,#d7e272 68px,#b5db60 81px,#94d45e 88px,#77ca6d 95px,#50b07f 108px,#409586 120px,#1d678b 148px,#0f5991 166px,#104a96 184px,#1e37a0 201px,#2c209a 221px,#2a1978 251px,#2a1a7c 332px)"></i>
<i style="left:848px;height:332.0px;background:linear-gradient(#62bc77 0px,#58b67b 36px,#6ac173 44px,#99d55e 48px,#b8dc60 50px,#d3e16f 53px,#d8e272 69px,#b9dc60 79px,#98d55e 85px,#79cc6c 92px,#51b17e 105px,#409686 117px,#1c668c 146px,#0e5892 165px,#104a96 182px,#1e36a0 199px,#2c209a 219px,#2a1977 249px,#2a1a7c 332px)"></i>
<i style="left:849px;height:331.9px;background:linear-gradient(#5fba78 0px,#56b47c 37px,#6ac273 45px,#9ad55e 49px,#b9dc61 51px,#d5e170 54px,#d8e272 69px,#badc61 79px,#95d45e 86px,#77ca6d 93px,#52b27e 105px,#3e9386 119px,#1c668c 146px,#0e5892 165px,#104a96 182px,#1e37a0 199px,#2c1f97 222px,#2a1977 250px,#2a1a7c 332px)"></i>
<i style="left:850px;height:331.9px;background:linear-gradient(#60bb78 0px,#56b57c 36px,#6ac173 44px,#98d55e 48px,#bbdd62 50px,#dce377 53px,#efe98c 61px,#d8e272 69px,#c3de66 76px,#afda5f 84px,#98d55e 89px,#79cb6c 96px,#53b37e 108px,#3e9286 123px,#18628d 153px,#0e5892 169px,#104a96 185px,#1e36a0 203px,#2c209a 223px,#2a1977 253px,#2a1a7c 332px)"></i>
<i style="left:851px;height:331.9px;background:linear-gradient(#5db979 0px,#56b57c 36px,#69c174 43px,#95d45e 47px,#b8dc60 49px,#d5e170 52px,#e3e57e 60px,#d6e271 69px,#b9dc60 80px,#99d55e 86px,#76ca6e 94px,#53b37d 105px,#3e9286 120px,#18628d 150px,#0e5892 166px,#104996 183px,#1e36a0 200px,#2c209a 220px,#2a1977 250px,#2a1a7c 332px)"></i>
<i style="left:852px;height:333.4px;background:linear-gradient(#5db979 0px,#55b47d 36px,#6ec471 44px,#a1d75f 48px,#bfdd64 50px,#dae274 53px,#e7e783 61px,#b7dc60 81px,#9ad55e 87px,#7acc6c 94px,#51b17e 107px,#3f9486 120px,#18628d 151px,#0e5892 167px,#104996 184px,#1e36a0 201px,#2c209a 221px,#2a1978 251px,#2a1a7c 332px)"></i>
<i style="left:853px;height:333.5px;background:linear-gradient(#61bc77 0px,#57b57c 36px,#67c074 43px,#73c76f 45px,#98d55e 48px,#bbdd62 50px,#dce377 53px,#f0e98c 61px,#d5e170 70px,#badc61 80px,#9ad55e 86px,#7acc6c 93px,#51b17e 106px,#3f9486 119px,#18628d 150px,#0e5892 166px,#104a96 182px,#1e36a0 200px,#2c209a 220px,#2a1977 250px,#2a1a7c 332px)"></i>
<i style="left:854px;height:333.5px;background:linear-gradient(#60bb78 0px,#56b57c 35px,#6bc273 43px,#9bd65e 47px,#bddd63 49px,#dfe479 52px,#f0ea8c 60px,#d7e272 68px,#aeda5f 81px,#93d45f 86px,#79cb6d 92px,#53b27e 104px,#409586 117px,#19638c 147px,#0e5892 164px,#104a96 181px,#1e36a0 199px,#2c209a 219px,#2a1977 249px,#2a1a7c 332px)"></i>
<i style="left:855px;height:333.5px;background:linear-gradient(#60bb78 0px,#58b67b 34px,#69c173 41px,#96d55e 45px,#b8dc60 47px,#d5e170 50px,#e0e47b 58px,#d8e272 66px,#bbdc61 77px,#96d45e 84px,#7bcc6b 90px,#52b27e 103px,#409686 115px,#18628d 147px,#0e5892 163px,#104a96 180px,#1e37a0 197px,#2c1f98 220px,#2a1977 248px,#2a1a7c 332px)"></i>
<i style="left:856px;height:333.5px;background:linear-gradient(#60bb78 0px,#57b67c 32px,#68c174 39px,#77ca6e 41px,#9fd75f 44px,#bfdd64 46px,#dfe47a 49px,#f0ea8c 57px,#d7e271 65px,#c5de67 71px,#b8dc60 77px,#9ad55e 85px,#7acc6c 92px,#51b17e 105px,#19638c 147px,#0e5892 165px,#104a96 181px,#1e36a0 199px,#2c209a 219px,#2a1978 249px,#2a1a7c 332px)"></i>
<i style="left:857px;height:331.9px;background:linear-gradient(#61bc77 0px,#57b67c 30px,#63bd76 36px,#6bc373 39px,#9cd65e 43px,#bcdd62 45px,#dae374 48px,#e9e785 56px,#c0dd64 72px,#9cd65e 84px,#7bcc6b 91px,#52b27e 104px,#409686 116px,#18628d 148px,#0e5892 164px,#104996 181px,#1e37a0 198px,#2c1f98 221px,#2a1977 249px,#2a1a7c 332px)"></i>
<i style="left:858px;height:331.9px;background:linear-gradient(#64bd76 0px,#5ab77a 33px,#69c174 41px,#77ca6d 43px,#9fd65f 46px,#bedd63 48px,#d8e272 51px,#e5e680 59px,#badc61 78px,#97d55e 87px,#7ccd6b 93px,#52b27e 106px,#3e9386 120px,#18628d 150px,#0e5892 166px,#104a96 183px,#1d37a0 200px,#2c209a 221px,#2a1977 251px,#2a1a7c 332px)"></i>
<i style="left:859px;height:331.9px;background:linear-gradient(#64bd76 0px,#5ab77a 34px,#69c174 42px,#94d45e 46px,#b7dc60 48px,#d5e271 51px,#eae785 59px,#b8dc60 79px,#9bd65e 84px,#7bcc6b 91px,#54b47d 103px,#3f9486 117px,#19638c 146px,#0e5892 164px,#104a96 180px,#1e36a0 198px,#2c1f97 221px,#2a1977 249px,#2a1a7c 332px)"></i>
<i style="left:860px;height:331.9px;background:linear-gradient(#63bd76 0px,#5bb87a 35px,#6fc571 43px,#93d45f 46px,#b3db60 48px,#d5e170 52px,#d8e272 67px,#b7dc60 80px,#95d45e 87px,#51b17e 106px,#2f7b88 133px,#155f8e 154px,#0e5892 165px,#104a96 182px,#1e36a0 200px,#2c1f97 223px,#2a1977 251px,#2a1a7c 332px)"></i>
<i style="left:861px;height:331.9px;background:linear-gradient(#62bc77 0px,#58b67b 33px,#5db979 37px,#6dc472 43px,#9fd65f 47px,#bcdd63 49px,#d6e271 52px,#dde478 60px,#d7e271 68px,#b8dc60 80px,#94d45e 88px,#53b37e 106px,#307c88 133px,#16608e 153px,#0e5892 166px,#104a96 183px,#1e36a0 201px,#2c209a 221px,#2a1977 251px,#2a1a7c 332px)"></i>
<i style="left:862px;height:331.9px;background:linear-gradient(#63bd76 0px,#5ab77a 35px,#68c074 42px,#75c96e 44px,#9cd65e 47px,#bcdd62 49px,#d8e272 52px,#e4e680 60px,#b8dc60 80px,#99d55e 87px,#79cb6c 94px,#53b27e 106px,#19638c 148px,#0e5892 166px,#104a96 183px,#1d37a0 200px,#2c209a 221px,#2a1977 251px,#2a1a7c 332px)"></i>
<i style="left:863px;height:332.0px;background:linear-gradient(#63bd76 0px,#5ab87a 34px,#69c174 41px,#77ca6d 43px,#a1d75f 46px,#bfdd64 48px,#dce376 51px,#ebe887 59px,#bfdd64 75px,#95d45e 89px,#51b17e 108px,#3e9286 122px,#18628d 151px,#0e5892 167px,#104a96 184px,#1e36a0 202px,#2c1f97 225px,#2a1977 253px,#2a1a7c 332px)"></i>
<i style="left:864px;height:331.9px;background:linear-gradient(#62bc77 0px,#59b77b 32px,#68c174 39px,#76c96e 41px,#9ed65f 44px,#bcdd62 46px,#d7e271 49px,#e1e57c 57px,#d7e272 65px,#b8dc60 77px,#95d45e 88px,#7ccd6b 96px,#52b27e 109px,#2f7b88 136px,#155f8e 157px,#0e5892 168px,#104996 186px,#1e37a0 203px,#2c209a 224px,#2a1977 254px,#2a1a7c 332px)"></i>
<i style="left:865px;height:331.9px;background:linear-gradient(#66bf75 0px,#5cb979 34px,#6ac273 42px,#99d55e 46px,#badc61 48px,#d8e272 51px,#e4e67f 59px,#d8e272 67px,#bcdd62 77px,#96d55e 89px,#54b47d 107px,#3f9486 121px,#18628d 151px,#0e5892 167px,#104a96 184px,#1e36a0 202px,#2c1f98 225px,#2a1977 253px,#2a1a7c 332px)"></i>
<i style="left:866px;height:331.9px;background:linear-gradient(#64be76 0px,#5bb87a 34px,#69c174 42px,#93d45e 46px,#b7dc60 48px,#dee479 52px,#eee98a 59px,#c2de65 75px,#94d45e 91px,#53b37d 110px,#409586 123px,#19638c 152px,#0e5892 170px,#104a96 187px,#1e36a0 205px,#2c209a 225px,#2a1978 255px,#2a1a7c 332px)"></i>
<i style="left:867px;height:331.9px;background:linear-gradient(#64be76 0px,#5bb87a 33px,#6ac173 41px,#98d55e 45px,#badc61 47px,#dde377 50px,#f1ea8d 58px,#c7df68 72px,#9dd65e 87px,#7acc6c 98px,#53b37e 110px,#3e9386 124px,#19638c 152px,#0e5892 169px,#104996 187px,#1d37a0 204px,#2c209a 225px,#2a1977 255px,#2a1a7c 332px)"></i>
<i style="left:868px;height:331.9px;background:linear-gradient(#61bc77 0px,#57b57c 29px,#68c074 37px,#76c96e 39px,#9ed65f 42px,#bddd63 44px,#dce377 47px,#ede889 55px,#c0dd64 71px,#96d45e 86px,#7ccd6b 97px,#4ead7f 112px,#19638c 151px,#0e5892 169px,#104a96 186px,#1e36a0 204px,#2c209a 225px,#2a1977 255px,#2a1a7c 332px)"></i>
<i style="left:869px;height:331.9px;background:linear-gradient(#62bc77 0px,#59b67b 28px,#69c174 36px,#79cb6d 38px,#a3d75f 41px,#b6db60 42px,#e0e47a 46px,#f0e98c 54px,#d7e271 62px,#c5de67 68px,#9bd65e 83px,#7ccd6b 95px,#4ead7f 110px,#19638c 149px,#0e5892 167px,#104a96 184px,#1e36a0 202px,#2c1f98 225px,#2a1977 253px,#2a1a7c 332px)"></i>
<i style="left:870px;height:331.9px;background:linear-gradient(#5eba78 0px,#58b67b 29px,#6dc472 36px,#9fd65f 40px,#bddd63 42px,#d7e271 45px,#e1e57c 53px,#d8e272 61px,#b8dc60 73px,#96d45e 84px,#7acc6c 93px,#4fae7f 107px,#18628d 148px,#0e5892 164px,#104a96 182px,#1e36a0 200px,#2c209a 220px,#2a1978 250px,#2a1a7c 332px)"></i>
<i style="left:871px;height:332.0px;background:linear-gradient(#5eba79 0px,#57b57c 33px,#6ac273 40px,#99d55e 44px,#badc61 46px,#d7e271 49px,#e2e57d 57px,#d6e271 66px,#b0da60 80px,#97d55e 86px,#54b47d 104px,#3e9286 119px,#19638c 146px,#0e5892 164px,#104a96 181px,#1e36a0 199px,#2c1f98 222px,#2a1977 250px,#2a1a7c 332px)"></i>
<i style="left:872px;height:332.0px;background:linear-gradient(#62bc77 0px,#58b67b 34px,#69c173 42px,#96d45e 46px,#b8dc60 48px,#d6e271 51px,#e8e783 60px,#b8dc60 78px,#9bd65e 83px,#77ca6d 91px,#51b17e 103px,#2f7b88 129px,#18628d 145px,#0e5892 161px,#104a96 179px,#1e36a0 197px,#2c1f97 220px,#2a1977 248px,#2a1a7c 332px)"></i>
<i style="left:873px;height:331.9px;background:linear-gradient(#61bb77 0px,#57b57c 31px,#5db979 36px,#70c670 42px,#94d45e 45px,#b5db60 47px,#d4e170 50px,#e2e57d 59px,#d9e273 66px,#bcdd62 75px,#96d55e 82px,#7bcc6b 88px,#51b17e 101px,#18628d 143px,#0e5892 159px,#104a96 177px,#1e36a0 195px,#2c1f98 218px,#2a1977 246px,#2a1a7c 332px)"></i>
<i style="left:874px;height:331.9px;background:linear-gradient(#60bb78 0px,#58b67b 34px,#6ac173 41px,#97d55e 45px,#b9dc60 47px,#d5e271 50px,#e0e47a 59px,#dae375 64px,#c1de65 72px,#94d45e 81px,#53b27e 99px,#19638c 140px,#0e5892 158px,#104a96 175px,#1d37a0 193px,#2c209a 214px,#2a1977 244px,#2a1a7c 332px)"></i>
<i style="left:875px;height:331.9px;background:linear-gradient(#60bb78 0px,#57b57c 33px,#68c074 40px,#76c96e 42px,#9dd65f 45px,#bedd63 47px,#e1e57c 50px,#f3eb8f 58px,#ece888 61px,#d8e272 65px,#abd95f 77px,#94d45e 81px,#7ecd6a 86px,#53b37e 99px,#19638c 140px,#0e5892 158px,#104a96 175px,#1d37a0 193px,#2c209a 214px,#2a1977 244px,#2a1a7c 332px)"></i>
<i style="left:876px;height:332.2px;background:linear-gradient(#61bc77 0px,#58b67b 29px,#5fbb78 36px,#6ec472 41px,#a0d75f 45px,#bedd63 47px,#d8e272 50px,#e3e57f 58px,#dce376 63px,#bddd63 72px,#98d55e 79px,#75c96e 87px,#52b27e 98px,#3f9486 111px,#18628d 140px,#0e5892 156px,#104a96 174px,#1e36a0 192px,#2c209a 213px,#2a1977 243px,#2a1a7c 332px)"></i>
<i style="left:877px;height:331.9px;background:linear-gradient(#63bd76 0px,#5bb87a 35px,#69c174 42px,#94d45e 46px,#b5db60 48px,#d3e16f 51px,#dbe375 61px,#b9dc61 73px,#98d55e 79px,#78cb6d 86px,#54b47d 97px,#19638c 138px,#0e5892 156px,#104a96 174px,#1e36a0 192px,#2c209a 213px,#2a1977 243px,#2a1a7c 332px)"></i>
<i style="left:878px;height:332.4px;background:linear-gradient(#61bc77 0px,#58b67b 33px,#68c174 40px,#76ca6e 42px,#9fd65f 45px,#bedd63 47px,#dbe375 50px,#ebe887 58px,#bbdd62 74px,#9bd55e 80px,#7acc6c 87px,#53b37e 99px,#3d9186 114px,#18628d 141px,#0e5892 158px,#104a96 175px,#1d37a0 193px,#2c209a 214px,#2a1978 244px,#2a1a7c 332px)"></i>
<i style="left:879px;height:333.0px;background:linear-gradient(#63bd76 0px,#5ab77b 29px,#69c174 37px,#78cb6d 39px,#a3d75f 42px,#b6dc60 43px,#d7e271 46px,#e3e57e 47px,#f3eb90 55px,#d5e170 64px,#b6db60 76px,#97d55e 84px,#54b47d 102px,#19638c 143px,#0e5892 161px,#104996 179px,#1e36a0 197px,#2c209a 218px,#2a1977 248px,#2a1a7c 332px)"></i>
<i style="left:880px;height:333.1px;background:linear-gradient(#63bd76 0px,#5ab77a 29px,#6ac173 37px,#97d55e 41px,#b9dc60 43px,#d6e271 46px,#e6e681 55px,#c0dd64 71px,#b5db60 76px,#96d45e 84px,#53b37d 102px,#18628d 144px,#0e5892 161px,#104a96 178px,#1e36a0 197px,#2c1f97 220px,#2a1977 248px,#2a1a7c 332px)"></i>
<i style="left:881px;height:331.9px;background:linear-gradient(#62bc77 0px,#58b67b 30px,#66bf75 37px,#6dc472 39px,#a0d75f 43px,#bfdd64 45px,#dfe47a 48px,#f0ea8c 56px,#c7df68 70px,#9dd65e 85px,#7acc6c 94px,#53b27e 106px,#19638c 146px,#0e5892 164px,#104a96 182px,#1e37a0 200px,#2c209a 221px,#2a1977 251px,#2a1a7c 332px)"></i>
<i style="left:882px;height:331.9px;background:linear-gradient(#63bd76 0px,#59b77b 32px,#6ac273 40px,#9ad55e 44px,#badc61 46px,#d7e271 49px,#e1e57b 57px,#d7e271 66px,#b8dc60 78px,#94d45e 89px,#52b27e 107px,#19638c 147px,#0e5892 165px,#104a96 183px,#1e37a0 201px,#2c209a 222px,#2a1977 252px,#2a1a7c 332px)"></i>
<i style="left:883px;height:332.1px;background:linear-gradient(#62bc77 0px,#58b67b 31px,#5db979 35px,#6dc472 41px,#9fd65f 45px,#bddd63 47px,#d7e271 50px,#e0e57b 58px,#d6e271 67px,#b7dc60 79px,#94d45e 90px,#51b17e 109px,#18628d 150px,#0e5892 167px,#104a96 184px,#1e36a0 203px,#2c209a 224px,#2a1977 254px,#2a1a7c 332px)"></i>
<i style="left:884px;height:332.1px;background:linear-gradient(#62bc77 0px,#58b67b 30px,#5db979 35px,#6ec472 41px,#a0d75f 45px,#bddd63 47px,#d6e271 50px,#dee478 59px,#d6e271 67px,#b7dc60 79px,#94d45e 90px,#52b27e 108px,#1b658c 146px,#155f8e 154px,#104a96 184px,#1e37a0 202px,#2c209a 223px,#2a1977 253px,#2a1a7c 332px)"></i>
<i style="left:885px;height:331.9px;background:linear-gradient(#62bd77 0px,#59b67b 32px,#6ac273 40px,#9ad55e 44px,#badc61 46px,#d7e272 49px,#e4e57f 57px,#d7e272 66px,#b8dc60 78px,#93d45e 86px,#52b27e 104px,#307c88 129px,#18628d 145px,#0e5892 162px,#104996 180px,#1e36a0 198px,#2c209a 219px,#2a1977 249px,#2a1a7c 332px)"></i>
<i style="left:886px;height:331.9px;background:linear-gradient(#65be76 0px,#5bb87a 31px,#6ac173 39px,#97d55e 43px,#badc61 45px,#dde478 48px,#ece888 52px,#f3eb8f 57px,#d5e170 66px,#afda5f 80px,#99d55e 84px,#79cb6c 91px,#52b27e 103px,#1a658c 141px,#0e5892 161px,#104a96 178px,#1e36a0 197px,#2c209a 218px,#2a1977 248px,#2a1a7c 332px)"></i>
<i style="left:887px;height:331.9px;background:linear-gradient(#63bd77 0px,#59b77b 31px,#6ac173 39px,#96d55e 43px,#b7dc60 45px,#d3e16f 48px,#d9e273 60px,#d8e272 65px,#b8dc60 77px,#93d45e 86px,#52b27e 104px,#19638c 143px,#0e5892 162px,#104a96 179px,#1e36a0 198px,#2c209a 219px,#2a1977 249px,#2a1a7c 332px)"></i>
<i style="left:888px;height:332.9px;background:linear-gradient(#65be76 0px,#5bb87a 32px,#69c174 40px,#78cb6d 42px,#a2d75f 45px,#c1de65 47px,#e1e57c 50px,#f3eb8f 58px,#d3e16f 68px,#b7dc60 79px,#9ad55e 85px,#76ca6e 93px,#52b27e 104px,#18628d 145px,#0e5892 162px,#104996 180px,#1e37a0 198px,#2c209a 219px,#2a1977 249px,#2a1a7c 332px)"></i>
<i style="left:889px;height:332.5px;background:linear-gradient(#64be76 0px,#5bb87a 31px,#68c174 38px,#76c96e 40px,#9dd65f 43px,#bbdd62 45px,#d6e271 48px,#dbe375 57px,#d7e271 65px,#b8dc60 77px,#93d45e 84px,#52b27e 102px,#2c7889 129px,#17618d 144px,#0e5892 159px,#104a96 177px,#1e36a0 196px,#2c209a 217px,#2a1977 247px,#2a1a7c 332px)"></i>
<i style="left:890px;height:332.8px;background:linear-gradient(#63bd76 0px,#5ab77a 27px,#69c174 35px,#77ca6d 37px,#a0d75f 40px,#bedd63 42px,#d8e272 45px,#e3e57e 53px,#d7e271 62px,#badc61 73px,#98d55e 80px,#54b47d 98px,#2a7689 127px,#17618d 141px,#0e5892 156px,#104a96 174px,#1e36a0 193px,#2c209a 214px,#2a1977 244px,#2a1a7c 332px)"></i>
<i style="left:891px;height:332.4px;background:linear-gradient(#65be76 0px,#5bb87a 30px,#6ac273 38px,#9ad55e 42px,#bbdd62 44px,#dce376 47px,#ede889 56px,#d5e170 64px,#bbdd62 72px,#9ad55e 78px,#76ca6e 86px,#52b27e 97px,#19638c 136px,#0e5892 154px,#104a96 172px,#1e36a0 191px,#2c209a 212px,#2a1977 242px,#2a1a7c 332px)"></i>
<i style="left:892px;height:333.0px;background:linear-gradient(#68c074 0px,#5fba78 32px,#6ac273 40px,#9ad55e 44px,#bbdd62 46px,#dbe375 49px,#ece888 57px,#dfe479 63px,#badc61 73px,#99d55e 79px,#79cb6c 86px,#52b27e 98px,#19638c 137px,#0e5892 155px,#104a96 173px,#1e36a0 192px,#2c209a 213px,#2a1977 243px,#2a1a7c 332px)"></i>
<i style="left:893px;height:332.2px;background:linear-gradient(#69c174 0px,#60bb77 26px,#69c174 39px,#76c96e 41px,#9ed65f 44px,#bddd63 46px,#dae274 49px,#e8e784 57px,#e3e57e 60px,#d7e272 62px,#c3de66 68px,#b5db60 72px,#98d55e 77px,#78cb6d 84px,#51b17e 96px,#1a658c 133px,#0e5892 153px,#104a96 171px,#1e36a0 190px,#2c209a 211px,#2a1977 241px,#2a1a7c 332px)"></i>
<i style="left:894px;height:331.9px;background:linear-gradient(#68c074 0px,#5fbb78 25px,#67c074 36px,#6bc273 38px,#9ad55e 42px,#b9dc61 44px,#d4e170 47px,#d8e272 63px,#b9dc61 74px,#97d55e 80px,#78cb6d 87px,#51b17e 99px,#19638c 137px,#0e5892 156px,#104a96 174px,#1d37a0 192px,#2c1f98 216px,#2a1977 244px,#2a1a7c 332px)"></i>
<i style="left:895px;height:331.9px;background:linear-gradient(#67bf75 0px,#5db979 28px,#6bc273 36px,#9cd65e 40px,#bcdd62 42px,#dae374 45px,#e9e785 53px,#b7dc60 74px,#97d55e 80px,#77ca6d 87px,#53b37e 98px,#19638c 137px,#0e5892 155px,#104996 174px,#1d37a0 192px,#2c1f97 216px,#2a1977 244px,#2a1a7c 332px)"></i>
<i style="left:896px;height:331.9px;background:linear-gradient(#68c074 0px,#5fbb78 31px,#69c174 38px,#92d35f 42px,#b3db60 44px,#d1e16e 47px,#dbe375 56px,#d7e272 64px,#bcdd62 74px,#97d55e 81px,#78cb6d 88px,#51b17e 100px,#307c88 124px,#17618d 141px,#0e5892 156px,#104996 175px,#1d37a0 193px,#2c1f98 217px,#2a1977 245px,#2a1a7c 332px)"></i>
<i style="left:897px;height:331.9px;background:linear-gradient(#66bf75 0px,#5cb979 30px,#69c173 38px,#7bcc6c 40px,#95d45e 42px,#a8d85f 43px,#d0e06d 46px,#e8e783 48px,#f8ed95 55px,#eae786 60px,#d8e272 63px,#b6dc60 73px,#99d55e 78px,#79cb6c 85px,#52b27e 97px,#19638c 135px,#0e5892 154px,#104a96 172px,#1e36a0 191px,#2c209a 212px,#2a1977 242px,#2a1a7c 332px)"></i>
<i style="left:898px;height:331.9px;background:linear-gradient(#64be76 0px,#5bb87a 28px,#68c174 35px,#75c96e 37px,#9cd65e 40px,#bbdd62 42px,#d7e272 45px,#e3e57f 53px,#d8e272 61px,#badc61 72px,#99d55e 78px,#78cb6d 85px,#51b17e 97px,#307c88 121px,#17618d 138px,#0e5892 153px,#104a96 172px,#1d37a0 190px,#2c209a 212px,#2a1977 242px,#2a1a7c 332px)"></i>
<i style="left:899px;height:331.9px;background:linear-gradient(#66bf75 0px,#5cb979 28px,#69c174 36px,#91d35f 40px,#b3db60 42px,#d3e16f 45px,#e7e682 54px,#badc61 72px,#99d55e 78px,#75c96e 86px,#51b17e 97px,#19638c 135px,#0e5892 153px,#104996 172px,#1e36a0 191px,#2c209a 212px,#2a1977 242px,#2a1a7c 332px)"></i>
<i style="left:900px;height:331.9px;background:linear-gradient(#67c074 0px,#5eba79 30px,#68c074 37px,#72c770 39px,#97d55e 42px,#b7dc60 44px,#d4e16f 47px,#d9e273 59px,#d8e272 63px,#bbdc61 73px,#94d45e 80px,#52b17e 98px,#1b658c 134px,#17618d 139px,#0e5892 154px,#104a96 173px,#1e36a0 192px,#2c209a 213px,#2a1977 243px,#2a1a7c 332px)"></i>
<i style="left:901px;height:331.9px;background:linear-gradient(#66bf75 0px,#5db979 31px,#6ac273 39px,#9ad55e 43px,#badc61 45px,#d7e271 48px,#e1e57b 56px,#d6e271 64px,#b8dc60 73px,#95d45e 79px,#52b27e 97px,#2b7789 124px,#17618d 138px,#0e5892 154px,#104a96 172px,#1e36a0 191px,#2c209a 212px,#2a1977 242px,#2a1a7c 332px)"></i>
<i style="left:902px;height:331.9px;background:linear-gradient(#68c074 0px,#5eba78 29px,#69c174 37px,#77ca6d 39px,#9fd65f 42px,#bcdd62 44px,#d5e170 47px,#d8e272 62px,#b7dc60 75px,#94d45e 83px,#52b27e 101px,#297589 129px,#17618d 142px,#0e5892 157px,#104a96 176px,#1e36a0 195px,#2c209a 216px,#2a1977 246px,#2a1a7c 332px)"></i>
<i style="left:903px;height:331.9px;background:linear-gradient(#68c074 0px,#5eba78 30px,#69c174 38px,#77ca6d 40px,#a0d75f 43px,#bfdd64 45px,#dee478 48px,#eee98a 56px,#c7df68 69px,#b0da60 78px,#96d45e 84px,#7acc6c 90px,#52b27e 102px,#19638c 140px,#0e5892 159px,#104a96 177px,#1e36a0 196px,#2c209a 217px,#2a1977 247px,#2a1a7c 332px)"></i>
<i style="left:904px;height:331.9px;background:linear-gradient(#68c074 0px,#5fba78 31px,#69c174 38px,#76c96e 40px,#9ed65f 43px,#bcdd63 45px,#d7e272 48px,#e2e57d 56px,#d6e271 64px,#b9dc61 75px,#94d45e 85px,#52b27e 103px,#19638c 141px,#0e5892 159px,#104996 178px,#1d37a0 196px,#2c1f98 220px,#2a1977 248px,#2a1a7c 332px)"></i>
<i style="left:905px;height:331.9px;background:linear-gradient(#66bf75 0px,#5cb87a 31px,#6ac173 39px,#98d55e 43px,#badc61 45px,#d9e273 48px,#ebe887 56px,#d4e16f 65px,#b7dc60 76px,#96d45e 82px,#7acc6c 88px,#52b27e 100px,#19638c 138px,#0e5892 157px,#104a96 175px,#1e36a0 194px,#2c209a 215px,#2a1977 245px,#2a1a7c 332px)"></i>
<i style="left:906px;height:331.9px;background:linear-gradient(#67c074 0px,#5eba79 32px,#6ac173 40px,#96d45e 44px,#b7dc60 46px,#d4e170 49px,#dee479 57px,#d8e272 64px,#cce06b 68px,#b7dc60 74px,#94d45e 80px,#52b27e 98px,#307c88 122px,#17618d 139px,#0e5892 154px,#104a96 172px,#1e37a0 191px,#2c1f97 215px,#2a1977 243px,#2a1a7c 332px)"></i>
<i style="left:907px;height:331.9px;background:linear-gradient(#6ac173 0px,#60bb77 30px,#69c174 41px,#91d35f 45px,#b2db60 47px,#d2e16e 50px,#e0e47b 58px,#d9e273 65px,#bedd63 75px,#93d45e 83px,#51b17e 101px,#18628d 140px,#0e5892 157px,#104a96 175px,#1e36a0 194px,#2c209a 215px,#2a1977 245px,#2a1a7c 332px)"></i>
<i style="left:908px;height:331.9px;background:linear-gradient(#69c173 0px,#60bb78 33px,#6ac173 41px,#97d55e 45px,#badc61 47px,#dbe376 50px,#f0ea8c 58px,#d9e273 65px,#bbdc61 76px,#94d45e 83px,#51b17e 101px,#18628d 140px,#0e5892 157px,#104a96 175px,#1e36a0 194px,#2c209a 215px,#2a1977 245px,#2a1a7c 332px)"></i>
<i style="left:909px;height:331.9px;background:linear-gradient(#69c174 0px,#60bb78 32px,#6ac273 40px,#99d55e 44px,#b9dc61 46px,#d5e170 49px,#dbe375 58px,#d8e272 64px,#b9dc60 76px,#94d45e 83px,#51b17e 101px,#18628d 140px,#0e5892 157px,#104a96 175px,#1e36a0 194px,#2c209a 215px,#2a1977 245px,#2a1a7c 332px)"></i>
<i style="left:910px;height:331.9px;background:linear-gradient(#69c173 0px,#60bb78 29px,#69c174 40px,#76ca6e 42px,#9ed65f 45px,#bbdd62 47px,#d4e170 50px,#d8e272 64px,#b8dc60 76px,#95d45e 82px,#52b27e 100px,#1b658c 136px,#17618d 141px,#0e5892 156px,#104a96 174px,#1e37a0 193px,#2c209a 214px,#2a1978 244px,#2a1a7c 332px)"></i>
<i style="left:911px;height:331.9px;background:linear-gradient(#66bf75 0px,#5cb979 32px,#68c174 40px,#75c96e 42px,#9bd65e 45px,#bcdd62 47px,#dae374 50px,#e9e785 57px,#bedd63 73px,#93d45e 81px,#51b17e 99px,#1a658c 135px,#0e5892 155px,#104a96 173px,#1e36a0 192px,#2c209a 213px,#2a1977 243px,#2a1a7c 332px)"></i>
<i style="left:912px;height:331.9px;background:linear-gradient(#68c074 0px,#5fba78 32px,#69c173 40px,#93d45e 44px,#b4db60 46px,#d2e16e 49px,#dae274 57px,#d3e16f 64px,#b8dc60 72px,#95d45e 78px,#79cc6c 84px,#52b27e 96px,#18628d 135px,#0e5892 152px,#104a96 170px,#1e36a0 189px,#2c209a 210px,#2a1977 240px,#2a1a7c 332px)"></i>
<i style="left:913px;height:331.9px;background:linear-gradient(#6bc273 0px,#61bc77 28px,#6ac273 39px,#99d55e 43px,#badc61 45px,#d7e271 48px,#e1e57b 55px,#dbe375 60px,#c1de65 68px,#98d55e 76px,#78cb6d 83px,#53b37d 94px,#19638c 132px,#0e5892 151px,#104a96 169px,#1d37a0 187px,#2c1f97 211px,#2a1977 239px,#2a1a7c 332px)"></i>
<i style="left:914px;height:331.9px;background:linear-gradient(#68c074 0px,#5fba78 29px,#6ac273 37px,#9ad55e 41px,#bcdd62 43px,#dde377 46px,#eee98a 53px,#d9e273 60px,#b9dc61 72px,#97d55e 78px,#77ca6d 85px,#52b27e 96px,#19638c 134px,#0e5892 152px,#104a96 170px,#1e36a0 189px,#2c209a 210px,#2a1977 240px,#2a1a7c 332px)"></i>
<i style="left:915px;height:331.9px;background:linear-gradient(#65be75 0px,#5cb979 32px,#69c174 39px,#77ca6d 41px,#9fd65f 44px,#bddd63 46px,#d0e06d 48px,#dde377 56px,#d8e272 63px,#b9dc60 75px,#96d45e 83px,#7acc6c 89px,#52b27e 101px,#18628d 140px,#0e5892 157px,#104a96 175px,#1e36a0 194px,#2c209a 215px,#2a1977 245px,#2a1a7c 332px)"></i>
<i style="left:916px;height:331.9px;background:linear-gradient(#64be76 0px,#5bb87a 32px,#6ac273 40px,#99d55e 44px,#bbdd62 46px,#dce376 49px,#eee98a 56px,#c7df68 69px,#b7dc60 76px,#96d45e 83px,#7acc6c 89px,#52b27e 101px,#18628d 140px,#0e5892 157px,#104a96 175px,#1e36a0 194px,#2c209a 215px,#2a1977 245px,#2a1a7c 332px)"></i>
<i style="left:917px;height:331.9px;background:linear-gradient(#66bf75 0px,#5cb979 30px,#69c174 38px,#78cb6d 40px,#a1d75f 43px,#d1e16e 47px,#dee479 55px,#d7e272 62px,#b8dc60 74px,#94d45e 83px,#54b47d 100px,#18628d 140px,#0e5892 157px,#104a96 175px,#1d37a0 193px,#2c1f97 217px,#2a1977 245px,#2a1a7c 332px)"></i>
<i style="left:918px;height:331.9px;background:linear-gradient(#63bd77 0px,#59b77b 31px,#6ac273 39px,#99d55e 43px,#bcdd62 45px,#dfe47a 48px,#f2ea8e 55px,#d5e170 63px,#b6dc60 75px,#9ad55e 80px,#79cb6c 87px,#51b17e 99px,#19638c 136px,#0e5892 155px,#104a96 173px,#1d37a0 191px,#2c1f97 215px,#2a1977 243px,#2a1a7c 332px)"></i>
<i style="left:919px;height:331.9px;background:linear-gradient(#66bf75 0px,#5db979 31px,#6ac173 39px,#97d55e 43px,#badc61 45px,#dce376 48px,#f0ea8d 55px,#d8e272 62px,#b8dc60 74px,#9ad55e 79px,#79cc6c 86px,#54b47d 97px,#1a658c 134px,#0e5892 154px,#104996 172px,#1d37a0 190px,#2c1f97 214px,#2a1977 242px,#2a1a7c 332px)"></i>
<i style="left:920px;height:331.9px;background:linear-gradient(#66bf75 0px,#5db979 31px,#6ac273 39px,#99d55e 43px,#badc61 45px,#d7e271 48px,#e1e57b 55px,#d6e271 63px,#b9dc60 74px,#94d45e 81px,#51b17e 99px,#19638c 136px,#0e5892 154px,#104a96 172px,#1e36a0 191px,#2c209a 212px,#2a1977 242px,#2a1a7c 332px)"></i>
<i style="left:921px;height:331.9px;background:linear-gradient(#67c075 0px,#5db979 30px,#6bc273 38px,#9bd65e 42px,#bbdd62 44px,#d7e272 47px,#e3e57e 54px,#d7e271 62px,#b7dc60 74px,#99d55e 81px,#78cb6d 88px,#53b37d 99px,#327f88 122px,#17618d 140px,#0e5892 155px,#104a96 173px,#1e36a0 192px,#2c209a 213px,#2a1977 243px,#2a1a7c 332px)"></i>
<i style="left:922px;height:331.9px;background:linear-gradient(#65be76 0px,#5bb87a 30px,#68c174 37px,#75c96e 39px,#9dd65e 42px,#bbdd62 44px,#d6e271 47px,#dce376 56px,#d8e272 62px,#b8dc60 74px,#98d55e 81px,#78cb6d 88px,#53b37e 99px,#338187 121px,#17618d 140px,#0e5892 155px,#104a96 173px,#1e36a0 192px,#2c209a 213px,#2a1977 243px,#2a1a7c 332px)"></i>
<i style="left:923px;height:331.9px;background:linear-gradient(#63bd76 0px,#5ab77a 31px,#68c074 38px,#75c96e 40px,#9cd65e 43px,#bcdd62 45px,#d9e273 48px,#e7e783 56px,#b7dc60 76px,#96d45e 82px,#7acc6c 88px,#52b27e 100px,#18628d 139px,#0e5892 156px,#104996 174px,#1e37a0 192px,#2c209a 213px,#2a1978 243px,#2a1a7c 332px)"></i>
<i style="left:924px;height:331.9px;background:linear-gradient(#67bf75 0px,#5db979 30px,#6ac173 38px,#95d45e 42px,#b9dc61 44px,#e0e47a 48px,#efe98b 55px,#d9e273 63px,#bcdd62 73px,#95d45e 80px,#52b17e 98px,#19638c 135px,#0e5892 154px,#104a96 171px,#1e36a0 190px,#2c209a 211px,#2a1977 241px,#2a1a7c 332px)"></i>
<i style="left:925px;height:331.9px;background:linear-gradient(#68c074 0px,#5eba79 30px,#69c174 38px,#91d35f 42px,#bddd63 45px,#d5e170 48px,#d8e272 64px,#b6dc60 74px,#93d45e 80px,#53b37d 97px,#327f88 120px,#17618d 138px,#0e5892 153px,#104a96 171px,#1d37a0 189px,#2c1f98 213px,#2a1977 241px,#2a1a7c 332px)"></i>
<i style="left:926px;height:331.9px;background:linear-gradient(#66bf75 0px,#5db979 31px,#6ac173 39px,#98d55e 43px,#badc61 45px,#dbe375 48px,#ede989 57px,#d8e272 65px,#b9dc60 76px,#96d45e 82px,#7acc6c 88px,#52b27e 100px,#19638c 137px,#0e5892 156px,#104a96 173px,#1e36a0 192px,#2c209a 213px,#2a1977 243px,#2a1a7c 332px)"></i>
<i style="left:927px;height:331.9px;background:linear-gradient(#69c174 0px,#5fbb78 27px,#69c174 37px,#78cb6d 39px,#a1d75f 42px,#bddd63 44px,#d5e170 47px,#d8e272 64px,#afda5f 79px,#95d45e 84px,#79cc6c 90px,#51b17e 102px,#19638c 139px,#0e5892 157px,#104a96 175px,#1e36a0 194px,#2c1f98 217px,#2a1977 245px,#2a1a7c 332px)"></i>
<i style="left:928px;height:331.9px;background:linear-gradient(#67bf75 0px,#5db979 29px,#69c173 37px,#94d45e 41px,#b6db60 43px,#d3e16f 46px,#dce376 57px,#d6e271 65px,#b9dc60 76px,#96d45e 87px,#7acc6c 93px,#52b27e 105px,#19638c 142px,#0e5892 161px,#104a96 178px,#1e36a0 197px,#2c209a 218px,#2a1977 248px,#2a1a7c 332px)"></i>
<i style="left:929px;height:331.9px;background:linear-gradient(#65be75 0px,#5cb979 29px,#6fc571 37px,#92d45f 40px,#bedd63 43px,#d4e170 46px,#d8e272 63px,#b8dc60 76px,#97d55e 85px,#77ca6d 92px,#52b27e 103px,#18628d 142px,#0e5892 159px,#104a96 176px,#1e36a0 195px,#2c209a 216px,#2a1977 246px,#2a1a7c 332px)"></i>
<i style="left:930px;height:331.9px;background:linear-gradient(#6bc273 0px,#61bc77 26px,#6ac173 35px,#7bcc6b 37px,#a8d85f 40px,#badc61 41px,#e5e680 45px,#f5ec91 54px,#d5e170 64px,#b9dc60 75px,#99d55e 84px,#78cb6d 91px,#53b37e 102px,#18628d 141px,#0e5892 158px,#104996 176px,#1e37a0 194px,#2c209a 215px,#2a1977 245px,#2a1a7c 332px)"></i>
<i style="left:931px;height:331.9px;background:linear-gradient(#68c074 0px,#5eba78 29px,#6bc273 37px,#9bd55e 41px,#bbdd62 43px,#d8e272 46px,#e6e681 56px,#d6e271 66px,#b9dc60 77px,#98d55e 86px,#7bcc6b 92px,#52b27e 104px,#18628d 143px,#0e5892 160px,#104a96 177px,#1e36a0 196px,#2c209a 217px,#2a1977 247px,#2a1a7c 332px)"></i>
<i style="left:932px;height:331.9px;background:linear-gradient(#67c074 0px,#5eba78 29px,#69c174 36px,#92d35f 40px,#b4db60 42px,#d4e170 45px,#e8e783 55px,#d6e271 66px,#b9dc60 77px,#98d55e 86px,#74c86e 94px,#53b27e 104px,#18628d 143px,#0e5892 160px,#104a96 177px,#1e36a0 196px,#2c209a 217px,#2a1977 247px,#2a1a7c 332px)"></i>
<i style="left:933px;height:331.9px;background:linear-gradient(#65be75 0px,#5cb87a 25px,#69c173 33px,#95d45e 37px,#b7dc60 39px,#d4e170 42px,#dee479 53px,#d6e271 63px,#b7dc60 75px,#94d45e 85px,#53b37d 102px,#1b658c 138px,#155f8e 146px,#104996 176px,#1e36a0 194px,#2c209a 215px,#2a1977 245px,#2a1a7c 332px)"></i>
<i style="left:934px;height:331.9px;background:linear-gradient(#66bf75 0px,#5db979 24px,#69c174 32px,#79cb6d 34px,#a4d75f 37px,#b6dc60 38px,#dee479 42px,#efe98b 52px,#c3de66 69px,#96d45e 84px,#76ca6e 91px,#52b17e 102px,#19638c 139px,#0e5892 157px,#104a96 175px,#1d37a0 193px,#2c209a 214px,#2a1977 244px,#2a1a7c 332px)"></i>
<i style="left:935px;height:331.9px;background:linear-gradient(#64be76 0px,#5bb87a 28px,#6bc273 36px,#9bd65e 40px,#b9dc61 42px,#d3e16f 45px,#d8e272 66px,#badc61 77px,#97d55e 83px,#77ca6d 90px,#52b27e 101px,#19638c 138px,#0e5892 156px,#104a96 174px,#1d37a0 192px,#2c1f97 216px,#2a1977 244px,#2a1a7c 332px)"></i>
<i style="left:936px;height:331.9px;background:linear-gradient(#67c074 0px,#5eba79 29px,#69c174 37px,#78cb6d 39px,#92d35f 41px,#b3db60 43px,#d3e16f 46px,#e6e681 57px,#d8e272 68px,#bedd63 77px,#98d55e 84px,#7bcc6b 90px,#52b27e 102px,#18628d 141px,#0e5892 157px,#104a96 175px,#1d37a0 193px,#2c1f97 217px,#2a1977 245px,#2a1a7c 332px)"></i>
<i style="left:937px;height:331.9px;background:linear-gradient(#65be75 0px,#5cb979 30px,#69c174 37px,#81ce68 40px,#b1da60 43px,#d5e170 46px,#e4e67f 47px,#f6ec93 58px,#ece888 63px,#d8e272 66px,#b9dc61 75px,#9cd65e 80px,#7acc6c 87px,#52b27e 99px,#19638c 136px,#0e5892 154px,#104a96 172px,#1e37a0 190px,#2c209a 211px,#2a1977 241px,#2a1a7c 332px)"></i>
<i style="left:938px;height:331.9px;background:linear-gradient(#65be76 0px,#5bb87a 29px,#69c174 37px,#77ca6d 39px,#9fd65f 42px,#bddd63 44px,#d7e271 47px,#e2e57d 58px,#d8e272 68px,#b9dc61 77px,#96d45e 83px,#7acc6c 89px,#52b17e 101px,#19638c 138px,#0e5892 156px,#104a96 174px,#1e36a0 192px,#2c209a 213px,#2a1977 243px,#2a1a7c 332px)"></i>
<i style="left:939px;height:331.9px;background:linear-gradient(#64be76 0px,#5bb87a 26px,#69c174 34px,#93d45f 38px,#b5db60 40px,#d4e170 43px,#e6e681 55px,#d8e272 66px,#b7dc60 79px,#94d45e 86px,#78cb6d 92px,#53b37e 103px,#18628d 142px,#0e5892 159px,#104a96 176px,#1d37a0 194px,#2c1f97 218px,#2a1977 246px,#2a1a7c 332px)"></i>
<i style="left:940px;height:332.4px;background:linear-gradient(#60bb77 0px,#59b77b 26px,#68c074 33px,#74c86f 35px,#9ad55e 38px,#bcdd62 40px,#dbe376 43px,#ece888 55px,#b7dc60 79px,#97d55e 85px,#77ca6d 92px,#52b27e 103px,#19638c 140px,#0e5892 158px,#104a96 176px,#1e36a0 194px,#2c209a 215px,#2a1977 245px,#2a1a7c 332px)"></i>
<i style="left:941px;height:332.4px;background:linear-gradient(#5cb979 0px,#59b77b 27px,#63bd76 32px,#73c76f 36px,#98d55e 39px,#b9dc60 41px,#d5e170 44px,#dde377 57px,#d8e272 68px,#b8dc60 79px,#94d45e 85px,#7dcd6a 90px,#53b37d 102px,#18628d 141px,#0e5892 158px,#104a96 175px,#1d37a0 193px,#2c209a 214px,#2a1977 245px,#2a1a7c 332px)"></i>
<i style="left:942px;height:332.1px;background:linear-gradient(#58b67b 0px,#58b67b 27px,#66bf75 34px,#6ec471 36px,#a1d75f 40px,#bfdd64 42px,#d8e272 45px,#e6e681 57px,#d8e272 69px,#badc61 80px,#97d55e 86px,#77ca6d 93px,#52b27e 104px,#19638c 141px,#0e5892 159px,#104996 177px,#1e36a0 195px,#2c209a 216px,#2a1977 246px,#2a1a7c 332px)"></i>
<i style="left:943px;height:332.0px;background:linear-gradient(#56b57c 0px,#5db979 8px,#5ab77a 28px,#6ac273 36px,#9ad55e 40px,#bcdd62 42px,#dde377 45px,#eee98a 58px,#b8dc60 82px,#96d45e 89px,#76ca6e 96px,#51b17e 107px,#19638c 144px,#0e5892 162px,#104a96 179px,#1e36a0 198px,#2c1f97 221px,#2a1977 249px,#2a1a7c 332px)"></i>
<i style="left:944px;height:331.9px;background:linear-gradient(#53b37d 0px,#5eba79 9px,#5cb979 27px,#69c174 34px,#76c96e 36px,#9ed65f 39px,#bddd63 41px,#d9e273 44px,#e7e783 57px,#d8e272 69px,#b6db60 82px,#94d45e 90px,#78cb6d 96px,#53b37e 107px,#307c88 131px,#18628d 146px,#0e5892 162px,#104a96 180px,#1e37a0 198px,#2c209a 219px,#2a1977 249px,#2a1a7c 332px)"></i>
<i style="left:945px;height:331.9px;background:linear-gradient(#4fae7f 0px,#5cb87a 11px,#59b77b 23px,#6ac173 31px,#97d55e 35px,#b9dc61 37px,#d7e271 40px,#eae785 53px,#d8e272 66px,#b8dc60 78px,#93d45e 89px,#53b27e 106px,#19638c 143px,#0e5892 161px,#104a96 179px,#1e36a0 197px,#2c209a 218px,#2a1977 248px,#2a1a7c 332px)"></i>
<i style="left:946px;height:331.9px;background:linear-gradient(#4dab80 0px,#5cb979 12px,#59b77b 25px,#66bf75 32px,#6dc472 34px,#a0d75f 38px,#bddd63 40px,#d7e272 43px,#e2e57d 56px,#d8e272 69px,#b2db60 83px,#98d55e 88px,#77ca6d 95px,#52b27e 106px,#19638c 143px,#0e5892 161px,#0f4e95 174px,#1e36a0 197px,#2c1f97 220px,#2a1977 248px,#2a1a7c 332px)"></i>
<i style="left:947px;height:331.9px;background:linear-gradient(#4caa80 0px,#5bb87a 9px,#5bb87a 26px,#69c174 34px,#78cb6d 36px,#92d35f 38px,#b4db60 40px,#dae374 44px,#e9e785 57px,#d6e271 71px,#b8dc60 80px,#94d45e 86px,#53b37d 103px,#307c88 127px,#18628d 142px,#0e5892 158px,#104a96 176px,#1e36a0 194px,#2c209a 215px,#2a1977 245px,#2a1a7c 332px)"></i>
<i style="left:948px;height:331.9px;background:linear-gradient(#4ca980 0px,#5fbb78 12px,#5cb979 26px,#69c174 34px,#91d35f 38px,#b3db60 40px,#d3e16f 43px,#e6e682 57px,#dae375 68px,#b6dc60 78px,#98d55e 83px,#7bcc6b 89px,#52b27e 101px,#19638c 138px,#0e5892 156px,#0f4e95 169px,#1e36a0 192px,#2c1f97 215px,#2a1977 243px,#2a1a7c 332px)"></i>
<i style="left:949px;height:331.9px;background:linear-gradient(#4aa781 0px,#5db979 12px,#5ab77a 25px,#68c074 32px,#75c96e 34px,#9dd65e 37px,#bedd63 39px,#e0e47a 42px,#f1ea8d 56px,#dae374 68px,#b6dc60 78px,#98d55e 83px,#77ca6d 90px,#52b27e 101px,#19638c 138px,#0e5892 156px,#104a96 173px,#1d37a0 191px,#2c209a 212px,#2a1978 242px,#2a1a7c 332px)"></i>
<i style="left:950px;height:331.9px;background:linear-gradient(#4aa681 0px,#5cb979 12px,#59b77b 25px,#69c173 33px,#96d45e 37px,#b9dc60 39px,#d7e272 42px,#ede889 56px,#d7e271 70px,#b8dc60 79px,#94d45e 85px,#53b37e 102px,#19638c 139px,#0e5892 157px,#104996 175px,#1e36a0 193px,#2c1f97 216px,#2a1977 244px,#2a1a7c 332px)"></i>
<i style="left:951px;height:331.9px;background:linear-gradient(#4aa681 0px,#5cb979 12px,#59b77b 22px,#69c174 30px,#77ca6d 32px,#a0d75f 35px,#bedd63 37px,#d7e272 40px,#e3e57e 54px,#d7e271 68px,#bcdd62 78px,#94d45e 85px,#53b37d 102px,#19638c 139px,#0e5892 157px,#104996 175px,#1e36a0 193px,#2c1f97 216px,#2a1977 244px,#2a1a7c 332px)"></i>
<i style="left:952px;height:332.4px;background:linear-gradient(#49a682 0px,#5cb979 12px,#59b77b 25px,#6ac173 33px,#97d55e 37px,#b6dc60 39px,#d1e16e 42px,#d8e272 70px,#b9dc61 79px,#96d45e 85px,#76c96e 92px,#51b17e 103px,#1b658c 138px,#16608e 144px,#0e5892 157px,#104a96 175px,#1e36a0 193px,#2c1f98 216px,#2a1977 244px,#2a1a7c 332px)"></i>
<i style="left:953px;height:332.5px;background:linear-gradient(#4aa781 0px,#5eba79 12px,#5bb87a 26px,#69c174 34px,#79cb6d 36px,#a3d75f 39px,#c1de65 41px,#dce376 44px,#ede889 58px,#dee478 68px,#b9dc61 78px,#96d45e 84px,#76c96e 91px,#51b17e 102px,#18628d 140px,#0e5892 156px,#104a96 174px,#1e36a0 192px,#2c1f98 215px,#2a1977 243px,#2a1a7c 332px)"></i>
<i style="left:954px;height:332.2px;background:linear-gradient(#49a582 0px,#5cb979 12px,#59b77b 26px,#68c074 33px,#75c96e 35px,#9cd65e 38px,#bddd63 40px,#dce376 43px,#ede889 57px,#dae374 70px,#b6db60 80px,#98d55e 85px,#77ca6d 92px,#52b27e 103px,#18628d 141px,#0e5892 158px,#104a96 175px,#1e36a0 193px,#2c209a 214px,#2a1977 244px,#2a1a7c 332px)"></i>
<i style="left:955px;height:332.2px;background:linear-gradient(#48a482 0px,#5cb87a 12px,#59b67b 26px,#69c174 34px,#78cb6d 36px,#92d35f 38px,#bedd63 41px,#d6e271 44px,#dce376 59px,#d7e272 72px,#b9dc60 81px,#95d45e 87px,#53b37d 104px,#19638c 141px,#0e5892 159px,#104a96 176px,#1d37a0 194px,#2c209a 215px,#2a1977 245px,#2a1a7c 332px)"></i>
<i style="left:956px;height:331.9px;background:linear-gradient(#4aa781 0px,#5cb979 10px,#5cb87a 28px,#6ac273 36px,#99d55e 40px,#b8dc60 42px,#d3e16f 45px,#d8e272 74px,#b9dc60 84px,#95d45e 90px,#53b37d 107px,#19638c 144px,#0e5892 162px,#104a96 179px,#1d37a0 197px,#2c209a 218px,#2a1977 248px,#2a1a7c 332px)"></i>
<i style="left:957px;height:332.5px;background:linear-gradient(#4aa681 0px,#5ab87a 9px,#5cb87a 28px,#69c173 36px,#94d45e 40px,#b5db60 42px,#d2e16f 45px,#dae274 61px,#d6e271 76px,#bbdd62 86px,#99d55e 92px,#7ccd6b 98px,#50b07f 111px,#1a648c 146px,#155f8e 153px,#104a96 182px,#1e36a0 200px,#2c209a 221px,#2a1977 251px,#2a1a7c 332px)"></i>
<i style="left:958px;height:332.4px;background:linear-gradient(#4aa781 0px,#60bb78 12px,#5db979 27px,#6ac273 35px,#9ad55e 39px,#bbdd62 41px,#dce377 44px,#eee98a 59px,#d6e271 75px,#b3db60 88px,#97d55e 94px,#7acc6c 100px,#51b17e 112px,#18628d 150px,#0e5892 166px,#104996 184px,#1e36a0 202px,#2c209a 222px,#2a1978 252px,#2a1a7c 332px)"></i>
<i style="left:959px;height:332.1px;background:linear-gradient(#49a682 0px,#5fbb78 12px,#5cb979 26px,#6ac173 34px,#98d55e 38px,#b8dc60 40px,#d4e170 43px,#dae274 63px,#d7e271 74px,#b8dc60 86px,#97d55e 92px,#7acc6c 98px,#51b17e 110px,#1b658c 145px,#16608e 151px,#0e5892 164px,#104996 182px,#1d37a0 199px,#2c209a 220px,#2a1977 250px,#2a1a7c 332px)"></i>
<i style="left:960px;height:332.1px;background:linear-gradient(#49a582 0px,#5eba78 12px,#5bb87a 25px,#69c174 33px,#93d45e 37px,#b5db60 39px,#d3e16f 42px,#e1e57c 58px,#d6e271 74px,#b8dc60 83px,#94d45e 89px,#53b37e 106px,#19638c 143px,#0e5892 161px,#104a96 178px,#1e36a0 196px,#2c1f98 219px,#2a1977 247px,#2a1a7c 332px)"></i>
<i style="left:961px;height:331.9px;background:linear-gradient(#49a582 0px,#5fba78 12px,#5cb87a 25px,#6ac173 33px,#96d45e 37px,#b8dc60 39px,#d6e271 42px,#e8e783 58px,#dbe375 70px,#b9dc60 80px,#95d45e 86px,#53b37d 103px,#19638c 140px,#0e5892 158px,#104a96 175px,#1e36a0 193px,#2c209a 214px,#2a1977 244px,#2a1a7c 332px)"></i>
<i style="left:962px;height:331.9px;background:linear-gradient(#49a682 0px,#5fba78 11px,#5db979 23px,#69c173 31px,#94d45e 35px,#b8dc60 37px,#dfe47a 41px,#f0ea8c 56px,#d9e273 71px,#badc61 80px,#9dd65e 85px,#7ecd6a 91px,#51b17e 104px,#19638c 140px,#0e5892 158px,#104a96 175px,#1e37a0 193px,#2c209a 214px,#2a1977 244px,#2a1a7c 332px)"></i>
<i style="left:963px;height:331.9px;background:linear-gradient(#48a582 0px,#5fbb78 12px,#5cb979 24px,#6ac173 32px,#98d55e 36px,#b9dc61 38px,#d7e271 41px,#e6e681 57px,#d9e273 71px,#b9dc61 80px,#96d45e 86px,#76ca6e 93px,#51b17e 104px,#19638c 140px,#0e5892 158px,#104a96 175px,#1e36a0 193px,#2c209a 214px,#2a1977 244px,#2a1a7c 332px)"></i>
<i style="left:964px;height:332.2px;background:linear-gradient(#47a382 0px,#5eba79 12px,#5bb87a 25px,#68c074 32px,#74c86f 34px,#9bd65e 37px,#bbdd62 39px,#d8e272 42px,#e5e680 58px,#d7e271 74px,#b8dc60 83px,#94d45e 89px,#52b27e 106px,#19638c 143px,#0e5892 160px,#104996 178px,#1e36a0 196px,#2c209a 216px,#2a1978 246px,#2a1a7c 332px)"></i>
<i style="left:965px;height:331.9px;background:linear-gradient(#49a582 0px,#61bb77 12px,#5eba79 25px,#69c174 32px,#77ca6d 34px,#a0d75f 37px,#bddd63 39px,#d7e271 42px,#e0e47b 58px,#d6e271 74px,#b6db60 83px,#97d55e 88px,#7acc6c 94px,#51b17e 106px,#19638c 142px,#0e5892 160px,#104a96 177px,#1e36a0 195px,#2c209a 216px,#2a1977 246px,#2a1a7c 332px)"></i>
<i style="left:966px;height:332.3px;background:linear-gradient(#46a183 0px,#5fbb78 12px,#5db979 24px,#6cc372 32px,#9dd65f 36px,#bedd63 38px,#e0e57b 41px,#f3eb8f 57px,#d9e273 73px,#b9dc61 83px,#9cd65e 88px,#79cc6c 95px,#53b37d 106px,#19638c 143px,#0e5892 161px,#104a96 178px,#1e36a0 196px,#2c209a 216px,#2a1978 246px,#2a1a7c 332px)"></i>
<i style="left:967px;height:332.4px;background:linear-gradient(#439b85 0px,#61bc77 12px,#5eba79 23px,#69c173 31px,#94d45e 35px,#b8dc60 37px,#dee479 41px,#efe98b 57px,#d6e271 74px,#b8dc60 83px,#94d45e 89px,#52b27e 106px,#18628d 144px,#0e5892 160px,#104996 178px,#1d37a0 195px,#2c209a 216px,#2a1977 246px,#2a1a7c 332px)"></i>
<i style="left:968px;height:332.0px;background:linear-gradient(#3f9486 0px,#52b17e 7px,#61bc77 12px,#5eba79 22px,#69c174 30px,#77ca6d 32px,#a0d75f 35px,#bedd63 37px,#d8e272 40px,#e4e67f 57px,#d7e272 73px,#b8dc60 82px,#94d45e 88px,#52b27e 105px,#18628d 143px,#0e5892 159px,#104a96 176px,#1d37a0 194px,#2c209a 215px,#2a1977 245px,#2a1a7c 332px)"></i>
<i style="left:969px;height:331.9px;background:linear-gradient(#3a8d86 0px,#4fae7f 7px,#5fba78 12px,#5cb87a 23px,#69c174 31px,#92d45f 35px,#b3db60 37px,#d5e170 41px,#d8e272 74px,#b9dc61 84px,#95d45e 90px,#53b37e 107px,#19638c 144px,#0e5892 161px,#104996 179px,#1d37a0 196px,#2c209a 217px,#2a1977 247px,#2a1a7c 332px)"></i>
<i style="left:970px;height:331.9px;background:linear-gradient(#368786 0px,#4eac80 7px,#5fba78 12px,#5cb979 23px,#69c174 30px,#77ca6d 32px,#9fd75f 35px,#bddd63 37px,#d6e271 40px,#dde377 59px,#d7e271 74px,#badc61 83px,#97d55e 89px,#7acc6c 95px,#51b17e 107px,#317e88 129px,#17618d 146px,#0e5892 161px,#104a96 178px,#1e36a0 196px,#2c209a 216px,#2a1977 246px,#2a1a7c 332px)"></i>
<i style="left:971px;height:331.9px;background:linear-gradient(#368687 0px,#4dab80 7px,#59b77b 11px,#5ab77a 22px,#6bc273 30px,#9bd65e 34px,#bcdd62 36px,#dbe375 39px,#ece888 56px,#d8e272 73px,#b7dc60 83px,#98d55e 88px,#77ca6d 95px,#52b27e 106px,#19638c 142px,#0e5892 160px,#104a96 177px,#1e36a0 195px,#2c1f97 218px,#2a1977 246px,#2a1a7c 332px)"></i>
<i style="left:972px;height:331.9px;background:linear-gradient(#398b86 0px,#4dab80 7px,#5cb87a 12px,#59b77b 22px,#68c174 29px,#76ca6e 31px,#9ed65f 34px,#bcdd62 36px,#d6e271 39px,#dee478 57px,#d6e271 74px,#b8dc60 83px,#94d45e 89px,#52b27e 106px,#317d88 129px,#16608e 147px,#0e5892 160px,#104a96 177px,#1e36a0 195px,#2c1f98 218px,#2a1977 246px,#2a1a7c 332px)"></i>
<i style="left:973px;height:331.9px;background:linear-gradient(#3c9086 0px,#4ead80 7px,#5bb87a 12px,#58b67b 22px,#69c174 29px,#77ca6d 31px,#a0d75f 34px,#bfdd64 36px,#dde377 39px,#eee98a 56px,#dae274 72px,#b7dc60 82px,#93d45e 88px,#52b27e 105px,#18628d 143px,#0e5892 159px,#104a96 176px,#1e36a0 194px,#2c1f97 217px,#2a1977 245px,#2a1a7c 332px)"></i>
<i style="left:974px;height:331.9px;background:linear-gradient(#409686 0px,#50af7f 7px,#5cb87a 12px,#58b67b 23px,#6ac273 31px,#9ad55e 35px,#bbdd62 37px,#dae274 40px,#e9e785 58px,#d9e273 74px,#b6db60 84px,#97d55e 89px,#7acc6c 95px,#54b47d 106px,#19638c 143px,#0e5892 161px,#104a96 178px,#1e36a0 196px,#2c209a 216px,#2a1977 246px,#2a1a7c 332px)"></i>
<i style="left:975px;height:331.9px;background:linear-gradient(#449d84 0px,#5cb979 12px,#59b77b 22px,#6ac173 30px,#97d55e 34px,#b9dc61 36px,#d7e271 39px,#e9e784 57px,#d9e273 73px,#b7dc60 83px,#98d55e 88px,#7bcc6b 94px,#52b27e 106px,#18628d 144px,#0e5892 160px,#104a96 177px,#1e36a0 195px,#2c209a 215px,#2a1978 245px,#2a1a7c 332px)"></i>
<i style="left:976px;height:332.4px;background:linear-gradient(#47a282 0px,#52b27e 7px,#5ab77a 12px,#57b57c 22px,#66bf75 29px,#78cb6d 32px,#a3d75f 35px,#c0de65 37px,#dce376 40px,#ece888 58px,#dde377 71px,#badc61 81px,#97d55e 87px,#7acc6c 93px,#51b17e 105px,#19638c 141px,#0e5892 159px,#104996 176px,#1d37a0 193px,#2c209a 214px,#2a1977 244px,#2a1a7c 332px)"></i>
<i style="left:977px;height:332.1px;background:linear-gradient(#4aa781 0px,#5ab77a 12px,#57b57c 23px,#69c174 31px,#79cb6c 33px,#a4d75f 36px,#c1de65 38px,#dbe375 41px,#ebe887 58px,#dde478 70px,#b8dc60 80px,#94d45e 86px,#53b37e 103px,#18628d 141px,#0e5892 157px,#104a96 174px,#1e36a0 192px,#2c1f97 215px,#2a1977 243px,#2a1a7c 332px)"></i>
<i style="left:978px;height:333.3px;background:linear-gradient(#4daa80 0px,#5bb87a 12px,#58b67b 23px,#69c174 31px,#94d45e 35px,#b6db60 37px,#d3e16f 40px,#dde377 58px,#d9e273 71px,#b6dc60 81px,#98d55e 86px,#77ca6d 93px,#52b27e 104px,#19638c 140px,#0e5892 158px,#104a96 175px,#1d37a0 192px,#2c209a 213px,#2a1977 243px,#2a1a7c 332px)"></i>
<i style="left:979px;height:333.0px;background:linear-gradient(#51b07f 0px,#5fba78 12px,#5bb87a 23px,#69c173 31px,#94d45e 35px,#b6dc60 37px,#d4e170 40px,#e2e57c 59px,#dae374 71px,#b7dc60 81px,#99d55e 86px,#74c86f 94px,#52b27e 104px,#18628d 142px,#0e5892 158px,#104a96 175px,#1e36a0 193px,#2c209a 213px,#2a1977 243px,#2a1a7c 332px)"></i>
<i style="left:980px;height:333.5px;background:linear-gradient(#50af7f 0px,#5ab77b 12px,#57b57c 24px,#68c074 31px,#81ce68 34px,#b1da60 37px,#d5e170 40px,#e4e680 41px,#f7ed94 58px,#e6e681 69px,#d5e170 72px,#b6db60 81px,#98d55e 86px,#77ca6d 93px,#52b27e 104px,#19638c 140px,#0e5892 158px,#104a96 175px,#1d37a0 192px,#2c209a 213px,#2a1977 243px,#2a1a7c 332px)"></i>
<i style="left:981px;height:333.0px;background:linear-gradient(#51b17e 0px,#58b67b 9px,#55b47d 22px,#69c173 30px,#96d45e 34px,#b7dc60 36px,#d3e16f 39px,#d5e170 40px,#d8e272 71px,#b7dc60 81px,#99d55e 86px,#74c86e 94px,#52b27e 104px,#1b658c 139px,#145e8f 148px,#104a96 175px,#1d37a0 192px,#2c209a 213px,#2a1977 243px,#2a1a7c 332px)"></i>
<i style="left:982px;height:332.4px;background:linear-gradient(#55b47d 0px,#57b57c 22px,#6fc571 30px,#93d45f 33px,#b4db60 35px,#d7e271 39px,#e0e47b 57px,#d7e271 72px,#b8dc60 81px,#94d45e 87px,#53b37d 104px,#18628d 142px,#0e5892 158px,#104a96 175px,#1e36a0 193px,#2c209a 213px,#2a1977 243px,#2a1a7c 332px)"></i>
<i style="left:983px;height:332.2px;background:linear-gradient(#59b77b 0px,#56b57c 22px,#65bf75 28px,#6cc372 30px,#9dd65f 34px,#bedd63 36px,#dde478 39px,#efe98b 56px,#d8e272 72px,#b5db60 82px,#97d55e 87px,#7acc6c 93px,#52b27e 105px,#19638c 141px,#0e5892 159px,#104a96 175px,#1e37a0 193px,#2c1f98 216px,#2a1977 244px,#2a1a7c 332px)"></i>
<i style="left:984px;height:332.3px;background:linear-gradient(#5db979 0px,#56b57c 23px,#6fc571 31px,#a2d75f 35px,#bfdd64 37px,#d8e272 40px,#e4e67f 56px,#d7e271 73px,#badc61 83px,#97d55e 89px,#77ca6d 96px,#52b27e 107px,#19638c 143px,#0e5892 161px,#104a96 177px,#1e37a0 195px,#2c1f98 218px,#2a1977 246px,#2a1a7c 332px)"></i>
<i style="left:985px;height:332.7px;background:linear-gradient(#61bc77 0px,#58b67b 18px,#5db979 22px,#6fc571 28px,#92d35f 31px,#bfdd64 34px,#d6e271 37px,#dde377 54px,#d6e271 70px,#a9d95f 86px,#8fd361 91px,#53b37d 107px,#18628d 145px,#0e5892 161px,#104a96 178px,#1e36a0 196px,#2c209a 216px,#2a1977 246px,#2a1a7c 332px)"></i>
<i style="left:986px;height:331.9px;background:linear-gradient(#62bc77 0px,#58b67b 20px,#6ac173 28px,#97d55e 32px,#b7dc60 34px,#d3e16f 37px,#d5e170 38px,#d8e272 69px,#b7dc60 82px,#96d45e 91px,#76ca6e 98px,#51b17e 109px,#1a648c 144px,#135d8f 154px,#104a96 179px,#1e36a0 197px,#2c209a 217px,#2a1977 247px,#2a1a7c 332px)"></i>
<i style="left:987px;height:332.1px;background:linear-gradient(#64be76 0px,#5bb87a 22px,#6ac173 30px,#99d55e 34px,#badc61 36px,#d9e273 39px,#ebe887 55px,#d8e272 71px,#b8dc60 83px,#94d45e 89px,#51b17e 107px,#18628d 144px,#0e5892 160px,#104a96 177px,#1e36a0 195px,#2c209a 215px,#2a1977 245px,#2a1a7c 332px)"></i>
<i style="left:988px;height:332.3px;background:linear-gradient(#65bf75 0px,#5cb979 24px,#68c174 31px,#75c96e 33px,#9cd65e 36px,#bddd63 38px,#dde478 41px,#eee98b 57px,#d6e271 73px,#badc61 83px,#93d45e 90px,#53b37e 107px,#18628d 145px,#0e5892 161px,#104a96 178px,#1e37a0 195px,#2c1f98 218px,#2a1977 246px,#2a1a7c 332px)"></i>
<i style="left:989px;height:331.9px;background:linear-gradient(#68c074 0px,#5eba78 23px,#6ac273 31px,#98d55e 35px,#bbdd62 37px,#dee478 40px,#f1ea8d 56px,#d6e271 72px,#b0da60 86px,#9bd55e 90px,#79cc6c 97px,#51b17e 109px,#19638c 145px,#0e5892 162px,#104a96 179px,#1d37a0 196px,#2c209a 217px,#2a1977 247px,#2a1a7c 332px)"></i>
<i style="left:990px;height:331.9px;background:linear-gradient(#68c074 0px,#5fba78 24px,#69c174 31px,#77ca6d 33px,#9fd75f 36px,#bedd63 38px,#d8e272 41px,#e6e682 56px,#d6e271 72px,#b7dc60 84px,#94d45e 90px,#53b37d 107px,#18628d 145px,#0e5892 161px,#104a96 178px,#1d37a0 195px,#2c209a 216px,#2a1977 246px,#2a1a7c 332px)"></i>
<i style="left:991px;height:332.2px;background:linear-gradient(#67c074 0px,#5eba79 24px,#69c174 31px,#76c96e 33px,#9ed65f 36px,#bedd63 38px,#dde478 41px,#efe98b 56px,#d6e271 72px,#b9dc60 82px,#96d45e 88px,#7acc6c 94px,#52b27e 106px,#19638c 142px,#0e5892 159px,#104a96 176px,#1e36a0 194px,#2c209a 214px,#2a1977 244px,#2a1a7c 332px)"></i>
<i style="left:992px;height:332.9px;background:linear-gradient(#6ac273 0px,#61bc77 23px,#69c174 32px,#77ca6d 34px,#a0d75f 37px,#bddd63 39px,#d5e271 42px,#dbe375 57px,#d7e272 71px,#b9dc61 80px,#97d55e 86px,#77ca6d 93px,#52b27e 104px,#1c668c 138px,#17618d 143px,#0e5892 157px,#104a96 174px,#1e36a0 192px,#2c209a 212px,#2a1977 242px,#2a1a7c 332px)"></i>
<i style="left:993px;height:332.0px;background:linear-gradient(#6ac273 0px,#61bc77 23px,#69c174 32px,#77ca6d 34px,#a0d75f 37px,#bedd63 39px,#d9e273 42px,#e7e682 57px,#dbe375 68px,#b9dc60 78px,#96d45e 84px,#76ca6e 91px,#52b27e 102px,#19638c 138px,#0e5892 155px,#104a96 172px,#1d37a0 189px,#2c209a 210px,#2a1977 240px,#2a1a7c 332px)"></i>
<i style="left:994px;height:333.2px;background:linear-gradient(#6dc472 0px,#64be76 21px,#6ac173 31px,#78cb6d 33px,#92d35f 35px,#b3db60 37px,#d6e271 41px,#dee478 57px,#d4e170 71px,#b9dc60 79px,#96d45e 85px,#7acc6c 91px,#52b27e 103px,#1a648c 138px,#155f8e 145px,#0e5892 156px,#104a96 173px,#1e36a0 191px,#2c209a 211px,#2a1977 241px,#2a1a7c 332px)"></i>
<i style="left:995px;height:333.5px;background:linear-gradient(#6dc472 0px,#64be76 19px,#6ac273 29px,#99d55e 33px,#badc61 35px,#d8e272 38px,#e7e682 53px,#d8e272 67px,#b9dc60 78px,#96d45e 84px,#7acc6c 90px,#52b27e 102px,#19638c 138px,#0e5892 155px,#104a96 172px,#1d37a0 189px,#2c209a 210px,#2a1977 240px,#2a1a7c 332px)"></i>
<i style="left:996px;height:333.2px;background:linear-gradient(#6fc571 0px,#66bf75 19px,#6bc273 29px,#9bd65e 33px,#bcdd62 35px,#dce376 38px,#ede889 52px,#d6e271 67px,#b7dc60 79px,#99d55e 85px,#78cb6d 92px,#53b37d 103px,#18628d 141px,#0e5892 157px,#104a96 173px,#1e36a0 191px,#2c209a 211px,#2a1978 241px,#2a1a7c 332px)"></i>
<i style="left:997px;height:332.8px;background:linear-gradient(#70c670 0px,#67c074 18px,#6bc273 27px,#9bd65e 31px,#bcdd62 33px,#dde478 36px,#efe98b 50px,#d8e272 64px,#b9dc60 76px,#93d45e 87px,#51b17e 105px,#18628d 142px,#0e5892 158px,#104a96 174px,#1e36a0 192px,#2c209a 212px,#2a1978 242px,#2a1a7c 332px)"></i>
<i style="left:998px;height:333.3px;background:linear-gradient(#74c86f 0px,#6ac273 30px,#97d55e 34px,#b8dc60 36px,#d4e170 39px,#dbe375 55px,#d7e272 67px,#b8dc60 79px,#95d45e 85px,#7ecd6a 90px,#52b27e 103px,#1a648c 138px,#115b90 151px,#104a96 173px,#1e37a0 190px,#2c1f98 213px,#2a1977 241px,#2a1a7c 332px)"></i>
<i style="left:999px;height:332.3px;background:linear-gradient(#74c86f 0px,#6ac273 29px,#94d45e 33px,#b8dc60 35px,#dfe47a 39px,#f0ea8d 52px,#d7e271 66px,#b7dc60 78px,#9ad55e 83px,#79cb6c 90px,#54b47d 101px,#19638c 138px,#0e5892 155px,#104996 172px,#1e36a0 189px,#2c1f97 212px,#2a1977 240px,#2a1a7c 332px)"></i>
<i style="left:1000px;height:331.9px;background:linear-gradient(#73c76f 0px,#6ac273 29px,#77ca6d 31px,#a0d75f 34px,#bedd63 36px,#d7e271 39px,#e1e57c 52px,#d6e271 66px,#b0da60 80px,#93d45e 86px,#51b17e 104px,#1b658c 138px,#145e8f 147px,#104a96 173px,#1e36a0 191px,#2c209a 211px,#2a1977 241px,#2a1a7c 332px)"></i>
<i style="left:1001px;height:331.9px;background:linear-gradient(#74c86f 0px,#6ac273 32px,#94d45e 36px,#b5db60 38px,#d3e16f 41px,#dbe375 55px,#d8e272 67px,#b7dc60 80px,#94d45e 87px,#51b17e 105px,#1a648c 140px,#0f5991 156px,#104996 175px,#1e36a0 192px,#2c209a 212px,#2a1977 242px,#2a1a7c 332px)"></i>
<i style="left:1002px;height:331.9px;background:linear-gradient(#74c86f 0px,#6ac273 32px,#6ec571 33px,#91d35f 36px,#bfdd64 39px,#d8e272 42px,#e3e57e 55px,#d6e271 68px,#b9dc60 79px,#95d45e 89px,#52b27e 107px,#19638c 143px,#0e5892 160px,#104a96 177px,#1e37a0 194px,#2c1f97 217px,#2a1977 245px,#2a1a7c 332px)"></i>
<i style="left:1003px;height:332.1px;background:linear-gradient(#6fc571 0px,#66bf75 22px,#6ac173 33px,#78cb6d 35px,#91d35f 37px,#bddd63 40px,#d4e170 43px,#d8e272 67px,#b8dc60 80px,#95d45e 89px,#52b27e 107px,#1a648c 142px,#115b90 155px,#104a96 177px,#1e36a0 194px,#2c209a 214px,#2a1977 245px,#2a1a7c 332px)"></i>
<i style="left:1004px;height:332.3px;background:linear-gradient(#70c670 0px,#6ac273 33px,#9ad55e 37px,#bbdd62 39px,#d8e272 42px,#e5e680 55px,#d7e271 67px,#b8dc60 79px,#95d45e 89px,#52b27e 107px,#19638c 143px,#0e5892 160px,#104a96 177px,#1e36a0 194px,#2c209a 214px,#2a1978 244px,#2a1a7c 332px)"></i>
<i style="left:1005px;height:331.9px;background:linear-gradient(#70c571 0px,#66bf75 23px,#6ac173 31px,#77ca6e 33px,#9fd65f 36px,#bedd63 38px,#dae274 41px,#e9e784 53px,#d8e272 65px,#b8dc60 77px,#96d45e 88px,#7fce69 95px,#53b37e 108px,#19638c 144px,#0e5892 161px,#104a96 178px,#1e37a0 195px,#2c1f97 218px,#2a1977 246px,#2a1a7c 332px)"></i>
</div>
<div id="cb"></div>
<svg width="1400" height="600" viewBox="0 0 1400 600">
<g fill="#fff">
<path d="M200 72.5 H211.7 V172.5 H212.9 V274.2 H215.3 V412 H200 Z"/>
<path d="M288.7 277.9 H290.1 V412 H282.8 V404.5 L286 399.5 V376 H287.7 V363.3 H288.7 Z"/>
<path d="M723.75 370.4 H725.8 V412 H722.75 V388.75 H723.75 Z"/>
<path d="M1006 72.5 H1020 V412 H1003 V367 H1004 L1005 172.7 H1006 Z"/>
</g>

<g id="logo" fill="#033f6f">
<path d="M100 80 C250 70 420 80 480 110 C580 160 630 250 660 320 C680 350 700 360 730 350 C770 320 775 250 805 238 C850 230 900 245 950 280 L1305 288 L1290 305 C1100 350 950 410 860 432 C820 430 800 410 800 375 C760 430 680 490 560 505 C450 510 350 480 250 440 C200 440 140 440 115 415 C110 400 130 395 160 393 C250 385 330 375 410 372 C420 310 390 240 340 215 C290 195 250 185 240 180 C300 180 320 170 330 165 C280 150 200 150 170 140 C230 130 270 128 280 125 C200 110 140 95 100 80 Z" transform="translate(180 455) scale(0.06427)"/>
<path d="M390 95 C480 130 540 200 570 270 C600 330 630 355 660 365 M870 292 L1285 308 M140 116 C220 122 290 128 345 148 M205 165 C265 170 310 178 350 200 M150 405 C170 410 200 420 230 428" fill="none" stroke="#fff" stroke-width="11" transform="translate(180 455) scale(0.06427)"/>
<g fill="none" stroke="#033f6f" stroke-width="4">
<path d="M191.2 494.9 H181 Q177.5 494.9 177.5 498.4 V504.2 Q177.5 507.7 181 507.7 H191.2"/>
<path d="M215.6 494.9 H205.4 Q201.9 494.9 201.9 498.4 V504.2 Q201.9 507.7 205.4 507.7 H215.6"/>
<path d="M232.9 494.9 H223 Q219.6 494.9 219.6 498.4 V504.2 Q219.6 507.7 223 507.7 H232.9"/>
<path d="M252.1 494.9 H240.6 Q237.6 494.9 237.6 498 Q237.6 501.3 240.6 501.3 H247 Q250.1 501.3 250.1 504.5 Q250.1 507.7 247 507.7 H235.6"/>
<path d="M270.2 494.9 H259.9 Q256.5 494.9 256.5 498.4 V504.2 Q256.5 507.7 259.9 507.7 H270.2"/>
</g>
<rect x="192.8" y="492.9" width="4.7" height="16.8"/>
<rect x="221" y="500" width="11.9" height="3"/>
<rect x="257.9" y="500" width="12.3" height="3"/>
</g>
<g fill="none" stroke="#000" stroke-width="1.1">
<rect x="175.5" y="72.5" width="868" height="437.6"/>
<rect x="1097.5" y="72.3" width="22" height="438"/>
<path d="M175.5 72.5 H170.6 M175.5 139.2 H170.6 M175.5 205.8 H170.6 M175.5 272.5 H170.6 M175.5 339.2 H170.6 M175.5 405.8 H170.6 M175.5 472.5 H170.6"/>
<path d="M195.4 510 V515 M339.6 510 V515 M483.8 510 V515 M628 510 V515 M772.2 510 V515 M916.4 510 V515"/>
<path d="M1119.5 89.2 H1124.4 M1119.5 186 H1124.4 M1119.5 282.7 H1124.4 M1119.5 379.5 H1124.4 M1119.5 476.2 H1124.4"/>
</g>
<g font-size="14" text-anchor="end">
<text x="165.6" y="77.6" textLength="8.8" lengthAdjust="spacingAndGlyphs">0</text>
<text x="165.6" y="144.3" textLength="26.5" lengthAdjust="spacingAndGlyphs">200</text>
<text x="165.6" y="210.9" textLength="26.5" lengthAdjust="spacingAndGlyphs">400</text>
<text x="165.6" y="277.6" textLength="26.5" lengthAdjust="spacingAndGlyphs">600</text>
<text x="165.6" y="344.3" textLength="26.5" lengthAdjust="spacingAndGlyphs">800</text>
<text x="165.6" y="410.9" textLength="35.3" lengthAdjust="spacingAndGlyphs">1000</text>
<text x="165.6" y="477.6" textLength="35.3" lengthAdjust="spacingAndGlyphs">1200</text>
</g>
<g font-size="14">
<text x="1129.2" y="94.3" textLength="29.3" lengthAdjust="spacingAndGlyphs">37.0</text>
<text x="1129.2" y="191.1" textLength="29.3" lengthAdjust="spacingAndGlyphs">36.5</text>
<text x="1129.2" y="287.8" textLength="29.3" lengthAdjust="spacingAndGlyphs">36.0</text>
<text x="1129.2" y="384.6" textLength="29.3" lengthAdjust="spacingAndGlyphs">35.5</text>
<text x="1129.2" y="481.3" textLength="29.3" lengthAdjust="spacingAndGlyphs">35.0</text>
</g>
<g font-size="8.6" text-anchor="middle">
<text transform="translate(196.4 533.8) rotate(-45)" textLength="21.9" lengthAdjust="spacingAndGlyphs">05/12</text>
<text transform="translate(340.6 533.8) rotate(-45)" textLength="21.9" lengthAdjust="spacingAndGlyphs">06/01</text>
<text transform="translate(484.8 533.8) rotate(-45)" textLength="21.9" lengthAdjust="spacingAndGlyphs">06/21</text>
<text transform="translate(629.0 533.8) rotate(-45)" textLength="21.9" lengthAdjust="spacingAndGlyphs">07/11</text>
<text transform="translate(773.2 533.8) rotate(-45)" textLength="21.9" lengthAdjust="spacingAndGlyphs">07/31</text>
<text transform="translate(917.4 533.8) rotate(-45)" textLength="21.9" lengthAdjust="spacingAndGlyphs">08/20</text>
</g>
<g font-size="17">
<text x="470.8" y="37.9" textLength="275" lengthAdjust="spacingAndGlyphs">sg622 2025-05-14 to 2025-09-01</text>
<text x="535.3" y="62.4" textLength="129" lengthAdjust="spacingAndGlyphs">Salinity PPT (10</text>
<path d="M666 52.6 H673.5" stroke="#000" stroke-width="1.1"/>
<text x="675.4" y="56" font-size="12">3</text>
<text x="683.4" y="62.4">)</text>
<text x="590.8" y="562.9" textLength="37.6" lengthAdjust="spacingAndGlyphs">Date</text>
</g>
<g font-size="14">
<text transform="translate(121 327.2) rotate(-90)" textLength="71" lengthAdjust="spacingAndGlyphs">Depth (m)</text>
<text transform="translate(1179 327) rotate(-90)" textLength="50.3" lengthAdjust="spacingAndGlyphs">PPT (10</text>
<path d="M1170.6 274.7 V268.7" stroke="#000" stroke-width="1"/>
<text transform="translate(1174.3 267.6) rotate(-90)" font-size="10">3</text>
<text transform="translate(1179 260.6) rotate(-90)">)</text>
</g>
</svg>
</div>
</body></html>
